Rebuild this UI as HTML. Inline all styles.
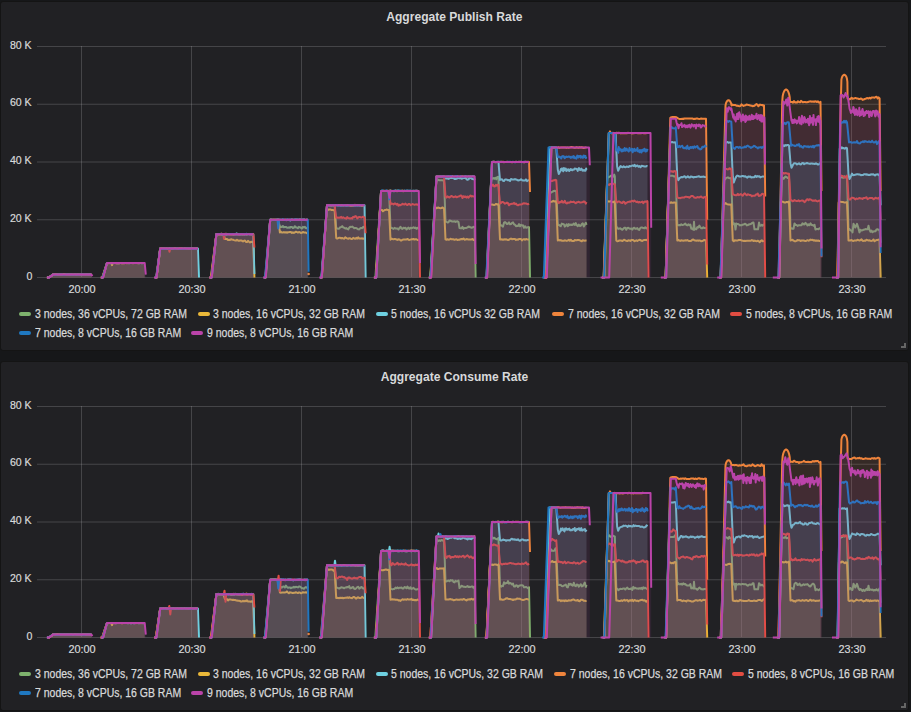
<!DOCTYPE html><html><head><meta charset="utf-8"><style>
*{margin:0;padding:0;box-sizing:border-box}
html,body{width:911px;height:712px;overflow:hidden;background:#161719;font-family:"Liberation Sans",sans-serif}
.panel{position:absolute;left:0;width:909px;height:350px;background:#212124;border:1px solid #141414;border-radius:3px}
.title{position:absolute;left:0;width:909px;text-align:center;font-weight:bold;font-size:13px;color:#d8d9da;white-space:nowrap}
.title span{display:inline-block;transform:scaleX(0.928);transform-origin:center}
.yl{position:absolute;right:879px;font-size:11.5px;color:#d8d9da;-webkit-text-stroke:0.2px #d8d9da;white-space:nowrap;line-height:14px;transform:scaleX(0.92);transform-origin:right}
.xl{position:absolute;width:40px;text-align:center;font-size:11.5px;color:#d8d9da;-webkit-text-stroke:0.2px #d8d9da;white-space:nowrap;line-height:14px;transform:scaleX(0.945)}
.li{position:absolute;font-size:12px;color:#d8d9da;-webkit-text-stroke:0.25px #d8d9da;white-space:nowrap;line-height:14px;transform:scaleX(0.873);transform-origin:left}
.sw{position:absolute;width:12px;height:4px;border-radius:2px}
.rh{position:absolute;width:5px;height:5px;border-right:2px solid #666;border-bottom:2px solid #666}
</style></head><body>

<div class="panel" style="top:1px"></div>
<div class="title" style="top:9px"><span>Aggregate Publish Rate</span></div>
<svg style="position:absolute;left:0;top:0px" width="911" height="300" viewBox="0 0 911 300"><g stroke="rgba(200,200,200,0.22)" stroke-width="1"><line x1="37" y1="46.5" x2="886" y2="46.5"/><line x1="37" y1="104.25" x2="886" y2="104.25"/><line x1="37" y1="162.0" x2="886" y2="162.0"/><line x1="37" y1="219.75" x2="886" y2="219.75"/><line x1="37" y1="277.5" x2="886" y2="277.5"/><line x1="81.5" y1="46" x2="81.5" y2="277"/><line x1="191.5" y1="46" x2="191.5" y2="277"/><line x1="301.5" y1="46" x2="301.5" y2="277"/><line x1="411.5" y1="46" x2="411.5" y2="277"/><line x1="521.5" y1="46" x2="521.5" y2="277"/><line x1="631.5" y1="46" x2="631.5" y2="277"/><line x1="741.5" y1="46" x2="741.5" y2="277"/><line x1="851.5" y1="46" x2="851.5" y2="277"/></g><path d="M47.3,277.5 L47.3,277.5 L48.8,277.5 L53.0,274.6 L54.0,274.7 L55.0,274.7 L56.0,274.7 L57.0,274.6 L58.0,274.6 L59.0,274.6 L60.0,274.7 L61.0,274.6 L62.0,274.6 L63.0,274.6 L64.0,274.6 L65.0,274.6 L66.0,274.6 L67.0,274.7 L68.0,274.4 L69.0,274.6 L70.0,274.5 L71.0,274.6 L72.0,274.6 L73.0,274.6 L74.0,274.5 L75.0,274.6 L76.0,274.6 L77.0,274.6 L78.0,274.6 L79.0,274.6 L80.0,274.7 L81.0,274.6 L82.0,274.6 L83.0,274.7 L84.0,274.7 L85.0,274.7 L86.0,274.6 L87.0,274.7 L88.0,274.6 L89.0,274.4 L90.0,274.5 L91.0,274.6 L91.4,274.6 L91.4,277.5 Z M101.0,277.5 L101.0,277.5 L102.5,277.5 L107.0,263.1 L108.0,263.1 L109.0,263.0 L110.0,263.1 L111.0,263.0 L112.0,263.1 L113.0,263.1 L114.0,263.0 L115.0,263.1 L116.0,262.9 L117.0,263.1 L118.0,263.0 L119.0,263.1 L120.0,263.0 L121.0,263.1 L122.0,263.0 L123.0,263.1 L124.0,263.0 L125.0,263.0 L126.0,263.1 L127.0,263.1 L128.0,263.0 L129.0,263.0 L130.0,263.0 L131.0,263.1 L132.0,263.0 L133.0,263.0 L134.0,263.0 L135.0,263.0 L136.0,263.1 L137.0,263.1 L138.0,263.1 L139.0,263.1 L140.0,263.0 L141.0,263.0 L142.0,263.0 L143.0,263.0 L144.0,263.0 L144.7,263.1 L144.7,277.5 Z M154.9,277.5 L154.9,277.5 L156.4,277.5 L160.2,248.6 L161.2,248.6 L162.2,248.6 L163.2,248.5 L164.2,248.6 L165.2,248.7 L166.2,248.6 L167.2,248.7 L168.2,248.7 L169.2,248.6 L170.2,248.6 L171.2,248.6 L172.2,248.6 L173.2,248.6 L174.2,248.6 L175.2,248.5 L176.2,248.6 L177.2,248.6 L178.2,248.6 L179.2,248.6 L180.2,248.7 L181.2,248.6 L182.2,248.7 L183.2,248.7 L184.2,248.8 L185.2,248.6 L186.2,248.7 L187.2,248.6 L188.2,248.6 L189.2,248.7 L190.2,248.5 L191.2,248.5 L192.2,248.6 L193.2,248.7 L194.2,248.6 L195.2,248.5 L196.2,248.6 L197.2,248.6 L197.9,248.6 L197.9,277.5 Z M209.3,277.5 L209.3,277.5 L210.8,277.5 L216.4,234.2 L217.4,234.0 L218.4,234.4 L219.4,234.3 L220.4,234.1 L221.4,233.7 L222.4,234.1 L223.4,234.2 L224.4,233.9 L225.4,234.2 L226.4,233.8 L227.4,234.3 L228.4,234.3 L229.4,234.0 L230.4,233.9 L231.4,234.1 L232.4,234.1 L233.4,234.6 L234.4,234.3 L235.4,234.3 L236.4,234.3 L237.4,234.1 L238.4,234.3 L239.4,234.0 L240.4,234.2 L241.4,234.3 L242.4,234.2 L243.4,234.1 L244.4,234.0 L245.4,234.3 L246.4,234.2 L247.4,234.5 L248.4,233.9 L249.4,233.9 L250.4,234.2 L251.4,234.3 L252.4,234.4 L253.3,234.2 L253.3,277.5 Z M264.2,277.5 L264.2,277.5 L265.7,277.5 L270.2,219.8 L271.2,219.8 L272.2,219.8 L273.2,219.8 L274.2,219.8 L275.2,219.8 L276.2,219.8 L277.2,219.8 L278.2,219.8 L278.4,219.8 L279.1,223.4 L279.9,227.0 L280.9,226.8 L281.9,226.9 L282.9,226.0 L283.9,227.3 L284.9,226.9 L285.9,227.0 L286.9,227.5 L287.9,227.8 L288.9,227.3 L289.9,227.7 L290.9,226.9 L291.9,226.9 L292.9,228.1 L293.9,227.6 L294.9,226.2 L295.9,227.4 L296.9,227.5 L297.9,228.3 L298.9,226.8 L299.9,227.3 L300.9,227.7 L301.9,228.6 L302.9,226.9 L303.9,227.5 L304.9,226.8 L305.9,228.3 L306.9,228.3 L307.8,227.0 L307.8,277.5 Z M319.9,277.5 L319.9,277.5 L321.4,277.5 L327.0,205.3 L328.0,205.3 L329.0,205.3 L330.0,205.3 L331.0,205.3 L332.0,205.3 L333.0,205.3 L334.0,205.3 L334.7,205.3 L335.4,216.6 L336.2,227.8 L337.2,228.3 L338.2,228.8 L339.2,228.6 L340.2,227.2 L341.2,227.1 L342.2,226.1 L343.2,227.4 L344.2,227.8 L345.2,228.5 L346.2,228.1 L347.2,228.9 L348.2,229.4 L349.2,227.8 L350.2,226.8 L351.2,226.9 L352.2,226.6 L353.2,227.3 L354.2,228.2 L355.2,227.9 L356.2,228.1 L357.2,228.7 L358.2,229.3 L359.2,229.4 L360.2,228.3 L361.2,227.9 L362.2,228.2 L363.2,226.9 L364.2,227.4 L364.5,227.8 L364.5,277.5 Z M373.9,277.5 L373.9,277.5 L375.4,277.5 L381.1,190.9 L382.1,190.9 L383.1,190.9 L384.1,190.9 L385.1,190.9 L386.1,190.9 L387.1,190.9 L388.1,190.9 L389.0,190.9 L389.8,209.5 L390.5,228.1 L391.5,227.7 L392.5,228.4 L393.5,228.9 L394.5,227.8 L395.5,228.4 L396.5,228.5 L397.5,228.6 L398.5,229.5 L399.5,228.0 L400.5,226.8 L401.5,228.5 L402.5,228.9 L403.5,227.7 L404.5,228.2 L405.5,227.8 L406.5,229.4 L407.5,228.5 L408.5,227.6 L409.5,228.9 L410.5,227.8 L411.5,228.2 L412.5,227.8 L413.5,227.3 L414.5,228.0 L415.5,227.6 L416.5,228.8 L417.5,227.8 L418.5,228.7 L418.8,228.1 L418.8,277.5 Z M428.9,277.5 L428.9,277.5 L430.4,277.5 L436.3,180.5 L437.3,180.5 L438.3,179.7 L439.3,180.3 L440.3,180.3 L441.3,180.3 L442.3,180.3 L443.3,180.6 L444.0,180.5 L444.8,201.0 L445.5,221.5 L446.5,221.8 L447.5,222.5 L448.5,222.2 L449.5,220.5 L450.5,220.8 L451.5,221.2 L452.5,221.6 L453.5,221.5 L454.5,221.2 L455.5,221.9 L456.5,221.5 L457.5,221.3 L458.5,222.0 L459.5,228.0 L460.5,228.2 L461.5,228.3 L462.5,226.9 L463.5,228.9 L464.5,227.9 L465.5,227.9 L466.5,227.9 L467.5,227.4 L468.5,226.5 L469.5,227.0 L470.5,227.3 L471.5,227.7 L472.5,227.5 L473.5,226.7 L474.5,227.4 L474.7,227.3 L475.6,277.5 L475.6,277.5 Z M485.1,277.5 L485.1,277.5 L486.6,277.5 L491.3,177.9 L492.3,178.7 L493.3,178.1 L494.3,178.7 L495.3,177.7 L496.3,179.3 L497.3,176.9 L498.3,176.7 L498.5,177.9 L499.2,201.7 L500.0,225.5 L501.0,225.2 L502.0,225.8 L503.0,226.6 L504.0,222.7 L505.0,222.1 L506.0,222.8 L507.0,224.0 L508.0,223.7 L509.0,222.4 L510.0,224.2 L511.0,224.1 L512.0,222.9 L513.0,222.4 L514.0,224.3 L515.0,224.7 L516.0,226.2 L517.0,225.8 L518.0,226.1 L519.0,224.1 L520.0,226.3 L521.0,224.9 L522.0,225.5 L523.0,225.3 L524.0,227.8 L525.0,226.2 L526.0,227.7 L527.0,227.6 L528.0,227.1 L529.0,227.3 L530.0,277.5 L530.0,277.5 Z M544.9,277.5 L544.9,277.5 L546.4,277.5 L549.8,190.9 L550.8,192.8 L551.8,192.1 L552.8,191.5 L553.8,191.0 L554.8,190.8 L555.8,191.2 L556.3,190.9 L557.0,207.9 L557.8,224.9 L558.8,224.8 L559.8,225.6 L560.8,226.2 L561.8,223.6 L562.8,224.1 L563.8,224.2 L564.8,226.6 L565.8,225.6 L566.8,224.2 L567.8,226.2 L568.8,224.1 L569.8,225.1 L570.8,224.5 L571.8,225.0 L572.8,224.7 L573.8,223.5 L574.8,225.0 L575.8,223.1 L576.8,225.3 L577.8,226.1 L578.8,224.5 L579.8,226.0 L580.8,225.7 L581.8,224.1 L582.8,223.3 L583.8,226.5 L584.8,224.8 L585.8,222.7 L586.5,224.9 L586.5,277.5 Z M602.1,277.5 L602.1,277.5 L603.6,277.5 L607.2,176.4 L608.2,177.4 L609.2,176.9 L610.2,176.3 L611.2,175.5 L612.2,177.2 L613.2,176.7 L614.2,174.6 L614.8,176.4 L615.5,202.4 L616.3,228.4 L617.3,227.5 L618.3,228.9 L619.3,228.6 L620.3,228.2 L621.3,229.2 L622.3,229.8 L623.3,228.8 L624.3,227.7 L625.3,227.8 L626.3,229.8 L627.3,227.9 L628.3,227.7 L629.3,228.5 L630.3,228.8 L631.3,228.5 L632.3,229.6 L633.3,228.2 L634.3,227.7 L635.3,228.7 L636.3,228.7 L637.3,228.1 L638.3,229.5 L639.3,229.9 L640.3,228.0 L641.3,227.4 L642.3,227.6 L643.3,228.1 L644.3,228.2 L645.3,227.2 L646.3,228.4 L647.3,227.8 L647.5,228.4 L647.5,277.5 Z M664.2,277.5 L664.2,277.5 L665.7,277.5 L668.9,176.7 L669.9,175.8 L670.9,175.7 L671.9,175.8 L672.9,175.8 L673.9,176.5 L674.9,176.2 L675.8,176.7 L676.5,200.7 L677.3,224.7 L678.3,225.3 L679.3,225.0 L680.3,225.3 L681.3,224.3 L682.3,225.0 L683.3,224.8 L684.3,224.4 L685.3,223.6 L686.3,224.9 L687.3,225.4 L688.3,224.3 L689.3,225.3 L690.3,224.5 L691.3,228.8 L692.3,228.6 L693.4,229.8 L694.0,221.8 L694.6,229.8 L695.3,228.7 L696.3,229.2 L697.3,227.1 L698.3,227.5 L699.3,225.6 L700.3,227.3 L701.3,228.3 L702.3,228.3 L703.3,227.2 L704.3,228.1 L705.3,228.0 L706.0,228.4 L706.0,277.5 Z M719.0,277.5 L719.0,277.5 L720.5,277.5 L724.1,178.2 L725.1,179.3 L726.1,177.9 L727.1,177.6 L728.1,177.5 L729.1,178.0 L730.1,178.2 L731.1,177.9 L731.3,178.2 L732.0,201.4 L732.8,224.7 L733.8,223.5 L734.7,223.5 L735.5,229.6 L736.3,223.5 L736.8,224.1 L737.8,223.9 L738.8,224.4 L739.8,225.4 L740.8,225.1 L741.8,225.2 L742.8,224.5 L743.8,224.5 L744.8,223.7 L745.8,224.2 L746.8,225.4 L747.8,225.0 L748.8,224.5 L749.8,224.2 L750.8,224.1 L751.8,223.2 L752.8,222.6 L753.5,222.6 L754.5,229.3 L758.0,229.3 L759.0,222.6 L759.8,225.3 L760.8,225.7 L761.8,224.8 L762.8,225.6 L763.8,224.5 L764.0,224.7 L764.0,277.5 Z M777.8,277.5 L777.8,277.5 L779.3,277.5 L781.6,177.3 L782.6,177.7 L783.6,178.8 L784.6,177.4 L785.6,176.6 L786.6,177.1 L787.6,178.0 L788.6,177.4 L789.0,177.3 L789.8,203.0 L790.5,228.7 L791.5,228.3 L792.5,228.7 L793.5,228.7 L794.5,223.4 L795.5,224.9 L796.5,224.9 L797.5,225.9 L798.5,225.3 L799.5,225.2 L800.5,225.3 L801.5,225.2 L802.5,223.3 L803.5,224.2 L804.5,224.4 L805.5,222.8 L806.5,223.9 L807.5,225.5 L808.5,224.4 L809.5,225.1 L810.5,223.4 L811.5,225.0 L812.5,225.0 L813.5,225.7 L814.5,224.7 L815.5,229.5 L816.5,229.0 L817.5,229.1 L818.5,229.3 L819.5,228.2 L820.5,228.7 L820.5,277.5 Z M836.8,277.5 L836.8,277.5 L838.3,277.5 L839.5,177.3 L840.5,177.9 L841.5,176.7 L842.5,177.5 L843.5,177.7 L844.5,176.4 L845.5,177.4 L846.5,177.9 L847.0,177.3 L847.8,203.6 L848.5,229.9 L849.5,229.1 L850.5,230.4 L851.5,230.4 L852.5,232.4 L853.5,223.8 L855.3,227.5 L857.0,223.8 L858.5,228.4 L859.5,232.4 L860.5,229.8 L861.5,230.4 L862.5,230.2 L863.5,229.8 L864.5,229.6 L865.5,229.1 L866.5,229.2 L867.7,229.3 L868.5,225.8 L869.3,229.3 L870.5,231.8 L871.5,230.5 L872.5,232.2 L873.5,231.5 L874.5,231.2 L875.5,231.3 L876.5,229.4 L877.5,229.3 L878.5,229.7 L879.5,230.0 L879.6,229.9 L880.6,242.8 L880.6,277.5 Z" fill="#7EB26D" fill-opacity="0.1"/>
<path d="M47.3,277.5 L48.8,277.5 L53.0,274.6 L54.0,274.7 L55.0,274.7 L56.0,274.7 L57.0,274.6 L58.0,274.6 L59.0,274.6 L60.0,274.7 L61.0,274.6 L62.0,274.6 L63.0,274.6 L64.0,274.6 L65.0,274.6 L66.0,274.6 L67.0,274.7 L68.0,274.4 L69.0,274.6 L70.0,274.5 L71.0,274.6 L72.0,274.6 L73.0,274.6 L74.0,274.5 L75.0,274.6 L76.0,274.6 L77.0,274.6 L78.0,274.6 L79.0,274.6 L80.0,274.7 L81.0,274.6 L82.0,274.6 L83.0,274.7 L84.0,274.7 L85.0,274.7 L86.0,274.6 L87.0,274.7 L88.0,274.6 L89.0,274.4 L90.0,274.5 L91.0,274.6 L91.4,274.6 M101.0,277.5 L102.5,277.5 L107.0,263.1 L108.0,263.1 L109.0,263.0 L110.0,263.1 L111.0,263.0 L112.0,263.1 L113.0,263.1 L114.0,263.0 L115.0,263.1 L116.0,262.9 L117.0,263.1 L118.0,263.0 L119.0,263.1 L120.0,263.0 L121.0,263.1 L122.0,263.0 L123.0,263.1 L124.0,263.0 L125.0,263.0 L126.0,263.1 L127.0,263.1 L128.0,263.0 L129.0,263.0 L130.0,263.0 L131.0,263.1 L132.0,263.0 L133.0,263.0 L134.0,263.0 L135.0,263.0 L136.0,263.1 L137.0,263.1 L138.0,263.1 L139.0,263.1 L140.0,263.0 L141.0,263.0 L142.0,263.0 L143.0,263.0 L144.0,263.0 L144.7,263.1 M154.9,277.5 L156.4,277.5 L160.2,248.6 L161.2,248.6 L162.2,248.6 L163.2,248.5 L164.2,248.6 L165.2,248.7 L166.2,248.6 L167.2,248.7 L168.2,248.7 L169.2,248.6 L170.2,248.6 L171.2,248.6 L172.2,248.6 L173.2,248.6 L174.2,248.6 L175.2,248.5 L176.2,248.6 L177.2,248.6 L178.2,248.6 L179.2,248.6 L180.2,248.7 L181.2,248.6 L182.2,248.7 L183.2,248.7 L184.2,248.8 L185.2,248.6 L186.2,248.7 L187.2,248.6 L188.2,248.6 L189.2,248.7 L190.2,248.5 L191.2,248.5 L192.2,248.6 L193.2,248.7 L194.2,248.6 L195.2,248.5 L196.2,248.6 L197.2,248.6 L197.9,248.6 M209.3,277.5 L210.8,277.5 L216.4,234.2 L217.4,234.0 L218.4,234.4 L219.4,234.3 L220.4,234.1 L221.4,233.7 L222.4,234.1 L223.4,234.2 L224.4,233.9 L225.4,234.2 L226.4,233.8 L227.4,234.3 L228.4,234.3 L229.4,234.0 L230.4,233.9 L231.4,234.1 L232.4,234.1 L233.4,234.6 L234.4,234.3 L235.4,234.3 L236.4,234.3 L237.4,234.1 L238.4,234.3 L239.4,234.0 L240.4,234.2 L241.4,234.3 L242.4,234.2 L243.4,234.1 L244.4,234.0 L245.4,234.3 L246.4,234.2 L247.4,234.5 L248.4,233.9 L249.4,233.9 L250.4,234.2 L251.4,234.3 L252.4,234.4 L253.3,234.2 M264.2,277.5 L265.7,277.5 L270.2,219.8 L271.2,219.8 L272.2,219.8 L273.2,219.8 L274.2,219.8 L275.2,219.8 L276.2,219.8 L277.2,219.8 L278.2,219.8 L278.4,219.8 L279.1,223.4 L279.9,227.0 L280.9,226.8 L281.9,226.9 L282.9,226.0 L283.9,227.3 L284.9,226.9 L285.9,227.0 L286.9,227.5 L287.9,227.8 L288.9,227.3 L289.9,227.7 L290.9,226.9 L291.9,226.9 L292.9,228.1 L293.9,227.6 L294.9,226.2 L295.9,227.4 L296.9,227.5 L297.9,228.3 L298.9,226.8 L299.9,227.3 L300.9,227.7 L301.9,228.6 L302.9,226.9 L303.9,227.5 L304.9,226.8 L305.9,228.3 L306.9,228.3 L307.8,227.0 M319.9,277.5 L321.4,277.5 L327.0,205.3 L328.0,205.3 L329.0,205.3 L330.0,205.3 L331.0,205.3 L332.0,205.3 L333.0,205.3 L334.0,205.3 L334.7,205.3 L335.4,216.6 L336.2,227.8 L337.2,228.3 L338.2,228.8 L339.2,228.6 L340.2,227.2 L341.2,227.1 L342.2,226.1 L343.2,227.4 L344.2,227.8 L345.2,228.5 L346.2,228.1 L347.2,228.9 L348.2,229.4 L349.2,227.8 L350.2,226.8 L351.2,226.9 L352.2,226.6 L353.2,227.3 L354.2,228.2 L355.2,227.9 L356.2,228.1 L357.2,228.7 L358.2,229.3 L359.2,229.4 L360.2,228.3 L361.2,227.9 L362.2,228.2 L363.2,226.9 L364.2,227.4 L364.5,227.8 M373.9,277.5 L375.4,277.5 L381.1,190.9 L382.1,190.9 L383.1,190.9 L384.1,190.9 L385.1,190.9 L386.1,190.9 L387.1,190.9 L388.1,190.9 L389.0,190.9 L389.8,209.5 L390.5,228.1 L391.5,227.7 L392.5,228.4 L393.5,228.9 L394.5,227.8 L395.5,228.4 L396.5,228.5 L397.5,228.6 L398.5,229.5 L399.5,228.0 L400.5,226.8 L401.5,228.5 L402.5,228.9 L403.5,227.7 L404.5,228.2 L405.5,227.8 L406.5,229.4 L407.5,228.5 L408.5,227.6 L409.5,228.9 L410.5,227.8 L411.5,228.2 L412.5,227.8 L413.5,227.3 L414.5,228.0 L415.5,227.6 L416.5,228.8 L417.5,227.8 L418.5,228.7 L418.8,228.1 M428.9,277.5 L430.4,277.5 L436.3,180.5 L437.3,180.5 L438.3,179.7 L439.3,180.3 L440.3,180.3 L441.3,180.3 L442.3,180.3 L443.3,180.6 L444.0,180.5 L444.8,201.0 L445.5,221.5 L446.5,221.8 L447.5,222.5 L448.5,222.2 L449.5,220.5 L450.5,220.8 L451.5,221.2 L452.5,221.6 L453.5,221.5 L454.5,221.2 L455.5,221.9 L456.5,221.5 L457.5,221.3 L458.5,222.0 L459.5,228.0 L460.5,228.2 L461.5,228.3 L462.5,226.9 L463.5,228.9 L464.5,227.9 L465.5,227.9 L466.5,227.9 L467.5,227.4 L468.5,226.5 L469.5,227.0 L470.5,227.3 L471.5,227.7 L472.5,227.5 L473.5,226.7 L474.5,227.4 L474.7,227.3 L475.6,277.5 M485.1,277.5 L486.6,277.5 L491.3,177.9 L492.3,178.7 L493.3,178.1 L494.3,178.7 L495.3,177.7 L496.3,179.3 L497.3,176.9 L498.3,176.7 L498.5,177.9 L499.2,201.7 L500.0,225.5 L501.0,225.2 L502.0,225.8 L503.0,226.6 L504.0,222.7 L505.0,222.1 L506.0,222.8 L507.0,224.0 L508.0,223.7 L509.0,222.4 L510.0,224.2 L511.0,224.1 L512.0,222.9 L513.0,222.4 L514.0,224.3 L515.0,224.7 L516.0,226.2 L517.0,225.8 L518.0,226.1 L519.0,224.1 L520.0,226.3 L521.0,224.9 L522.0,225.5 L523.0,225.3 L524.0,227.8 L525.0,226.2 L526.0,227.7 L527.0,227.6 L528.0,227.1 L529.0,227.3 L530.0,277.5 M544.9,277.5 L546.4,277.5 L549.8,190.9 L550.8,192.8 L551.8,192.1 L552.8,191.5 L553.8,191.0 L554.8,190.8 L555.8,191.2 L556.3,190.9 L557.0,207.9 L557.8,224.9 L558.8,224.8 L559.8,225.6 L560.8,226.2 L561.8,223.6 L562.8,224.1 L563.8,224.2 L564.8,226.6 L565.8,225.6 L566.8,224.2 L567.8,226.2 L568.8,224.1 L569.8,225.1 L570.8,224.5 L571.8,225.0 L572.8,224.7 L573.8,223.5 L574.8,225.0 L575.8,223.1 L576.8,225.3 L577.8,226.1 L578.8,224.5 L579.8,226.0 L580.8,225.7 L581.8,224.1 L582.8,223.3 L583.8,226.5 L584.8,224.8 L585.8,222.7 L586.5,224.9 M602.1,277.5 L603.6,277.5 L607.2,176.4 L608.2,177.4 L609.2,176.9 L610.2,176.3 L611.2,175.5 L612.2,177.2 L613.2,176.7 L614.2,174.6 L614.8,176.4 L615.5,202.4 L616.3,228.4 L617.3,227.5 L618.3,228.9 L619.3,228.6 L620.3,228.2 L621.3,229.2 L622.3,229.8 L623.3,228.8 L624.3,227.7 L625.3,227.8 L626.3,229.8 L627.3,227.9 L628.3,227.7 L629.3,228.5 L630.3,228.8 L631.3,228.5 L632.3,229.6 L633.3,228.2 L634.3,227.7 L635.3,228.7 L636.3,228.7 L637.3,228.1 L638.3,229.5 L639.3,229.9 L640.3,228.0 L641.3,227.4 L642.3,227.6 L643.3,228.1 L644.3,228.2 L645.3,227.2 L646.3,228.4 L647.3,227.8 L647.5,228.4 M664.2,277.5 L665.7,277.5 L668.9,176.7 L669.9,175.8 L670.9,175.7 L671.9,175.8 L672.9,175.8 L673.9,176.5 L674.9,176.2 L675.8,176.7 L676.5,200.7 L677.3,224.7 L678.3,225.3 L679.3,225.0 L680.3,225.3 L681.3,224.3 L682.3,225.0 L683.3,224.8 L684.3,224.4 L685.3,223.6 L686.3,224.9 L687.3,225.4 L688.3,224.3 L689.3,225.3 L690.3,224.5 L691.3,228.8 L692.3,228.6 L693.4,229.8 L694.0,221.8 L694.6,229.8 L695.3,228.7 L696.3,229.2 L697.3,227.1 L698.3,227.5 L699.3,225.6 L700.3,227.3 L701.3,228.3 L702.3,228.3 L703.3,227.2 L704.3,228.1 L705.3,228.0 L706.0,228.4 M719.0,277.5 L720.5,277.5 L724.1,178.2 L725.1,179.3 L726.1,177.9 L727.1,177.6 L728.1,177.5 L729.1,178.0 L730.1,178.2 L731.1,177.9 L731.3,178.2 L732.0,201.4 L732.8,224.7 L733.8,223.5 L734.7,223.5 L735.5,229.6 L736.3,223.5 L736.8,224.1 L737.8,223.9 L738.8,224.4 L739.8,225.4 L740.8,225.1 L741.8,225.2 L742.8,224.5 L743.8,224.5 L744.8,223.7 L745.8,224.2 L746.8,225.4 L747.8,225.0 L748.8,224.5 L749.8,224.2 L750.8,224.1 L751.8,223.2 L752.8,222.6 L753.5,222.6 L754.5,229.3 L758.0,229.3 L759.0,222.6 L759.8,225.3 L760.8,225.7 L761.8,224.8 L762.8,225.6 L763.8,224.5 L764.0,224.7 M777.8,277.5 L779.3,277.5 L781.6,177.3 L782.6,177.7 L783.6,178.8 L784.6,177.4 L785.6,176.6 L786.6,177.1 L787.6,178.0 L788.6,177.4 L789.0,177.3 L789.8,203.0 L790.5,228.7 L791.5,228.3 L792.5,228.7 L793.5,228.7 L794.5,223.4 L795.5,224.9 L796.5,224.9 L797.5,225.9 L798.5,225.3 L799.5,225.2 L800.5,225.3 L801.5,225.2 L802.5,223.3 L803.5,224.2 L804.5,224.4 L805.5,222.8 L806.5,223.9 L807.5,225.5 L808.5,224.4 L809.5,225.1 L810.5,223.4 L811.5,225.0 L812.5,225.0 L813.5,225.7 L814.5,224.7 L815.5,229.5 L816.5,229.0 L817.5,229.1 L818.5,229.3 L819.5,228.2 L820.5,228.7 M836.8,277.5 L838.3,277.5 L839.5,177.3 L840.5,177.9 L841.5,176.7 L842.5,177.5 L843.5,177.7 L844.5,176.4 L845.5,177.4 L846.5,177.9 L847.0,177.3 L847.8,203.6 L848.5,229.9 L849.5,229.1 L850.5,230.4 L851.5,230.4 L852.5,232.4 L853.5,223.8 L855.3,227.5 L857.0,223.8 L858.5,228.4 L859.5,232.4 L860.5,229.8 L861.5,230.4 L862.5,230.2 L863.5,229.8 L864.5,229.6 L865.5,229.1 L866.5,229.2 L867.7,229.3 L868.5,225.8 L869.3,229.3 L870.5,231.8 L871.5,230.5 L872.5,232.2 L873.5,231.5 L874.5,231.2 L875.5,231.3 L876.5,229.4 L877.5,229.3 L878.5,229.7 L879.5,230.0 L879.6,229.9 L880.6,242.8" fill="none" stroke="#7EB26D" stroke-width="2" stroke-linejoin="round"/>
<path d="M46.9,277.5 L46.9,277.5 L48.4,277.5 L53.0,274.6 L54.0,274.6 L55.0,274.6 L56.0,274.6 L57.0,274.6 L58.0,274.6 L59.0,274.6 L60.0,274.6 L61.0,274.6 L62.0,274.7 L63.0,274.6 L64.0,274.6 L65.0,274.6 L66.0,274.7 L67.0,274.7 L68.0,274.6 L69.0,274.5 L70.0,274.6 L71.0,274.6 L72.0,274.6 L73.0,274.6 L74.0,274.6 L75.0,274.5 L76.0,274.7 L77.0,274.5 L78.0,274.6 L79.0,274.6 L80.0,274.5 L81.0,274.6 L82.0,274.5 L83.0,274.6 L84.0,274.7 L85.0,274.6 L86.0,274.6 L87.0,274.6 L88.0,274.8 L89.0,274.6 L90.0,274.6 L91.0,274.7 L91.4,274.6 L91.4,277.5 Z M100.7,277.5 L100.7,277.5 L102.2,277.5 L107.0,263.1 L108.0,263.0 L109.0,263.1 L110.0,263.0 L111.0,263.0 L111.3,263.0 L112.0,265.1 L112.7,263.0 L113.0,263.1 L114.0,263.0 L115.0,263.0 L116.0,263.0 L117.0,263.0 L118.0,263.1 L119.0,263.1 L120.0,263.1 L121.0,263.0 L122.0,263.2 L123.0,263.0 L124.0,263.3 L125.0,263.1 L126.0,263.0 L127.0,263.1 L128.0,263.1 L129.0,263.0 L130.0,263.0 L131.0,263.1 L132.0,263.1 L133.0,263.1 L134.0,263.1 L135.0,263.0 L136.0,263.1 L137.0,263.1 L138.0,263.1 L139.0,263.1 L140.0,263.0 L141.0,263.0 L142.0,262.9 L143.0,263.1 L144.0,263.1 L144.7,263.1 L144.7,277.5 Z M155.0,277.5 L155.0,277.5 L156.5,277.5 L160.2,248.6 L161.2,248.6 L162.2,248.6 L163.2,248.6 L164.2,248.6 L165.2,248.6 L166.2,248.6 L167.2,248.6 L168.2,248.5 L169.2,248.6 L170.2,248.7 L171.2,248.7 L172.2,248.7 L173.2,248.6 L174.2,248.6 L175.2,248.6 L176.2,248.6 L177.2,248.7 L178.2,248.6 L179.2,248.6 L180.2,248.6 L181.2,248.7 L182.2,248.6 L183.2,248.7 L184.2,248.7 L185.2,248.6 L186.2,248.6 L187.2,248.7 L188.2,248.7 L189.2,248.8 L190.2,248.7 L191.2,248.6 L192.2,248.6 L193.2,248.8 L194.2,248.7 L195.2,248.6 L196.2,248.5 L197.2,248.6 L197.9,248.6 L197.9,277.5 Z M210.2,277.5 L210.2,277.5 L211.7,277.5 L216.4,234.2 L217.4,234.2 L218.4,234.2 L219.4,234.2 L220.4,234.2 L221.4,234.2 L222.4,234.2 L223.4,234.2 L223.5,234.2 L224.2,236.6 L225.0,239.1 L226.0,238.9 L227.0,239.0 L228.0,240.1 L229.0,239.7 L230.0,240.0 L231.0,239.2 L232.0,239.5 L233.0,239.7 L234.0,240.1 L235.0,240.4 L236.0,240.6 L237.0,239.8 L238.0,240.5 L239.0,240.9 L240.0,240.5 L241.0,240.4 L242.0,240.8 L243.0,241.4 L244.0,240.7 L245.0,240.6 L246.0,242.0 L247.0,242.0 L248.0,240.8 L249.0,241.7 L250.0,242.4 L251.0,241.7 L252.0,242.0 L253.0,241.6 L253.3,242.0 L254.4,277.5 L254.4,277.5 Z M263.9,277.5 L263.9,277.5 L265.4,277.5 L270.2,219.8 L271.2,219.8 L272.2,219.8 L273.2,219.8 L274.2,219.8 L275.2,219.8 L276.2,219.8 L277.2,219.8 L278.2,219.8 L278.4,219.8 L279.1,226.1 L279.9,232.5 L280.9,231.6 L281.9,232.6 L282.9,232.5 L283.9,232.1 L284.9,232.6 L285.9,232.2 L286.9,232.7 L287.9,232.3 L288.9,232.2 L289.9,231.9 L290.9,232.1 L291.9,232.9 L292.9,232.3 L293.9,232.9 L294.9,232.3 L295.9,231.7 L296.9,232.0 L297.9,232.6 L298.9,232.0 L299.9,232.2 L300.9,232.9 L301.9,232.8 L302.9,231.9 L303.9,232.4 L304.9,232.4 L305.9,232.6 L306.9,233.2 L307.8,232.5 L307.8,277.5 Z M320.2,277.5 L320.2,277.5 L321.7,277.5 L326.7,209.9 L327.7,210.2 L328.7,209.4 L329.7,209.4 L330.7,209.6 L331.7,210.0 L332.7,210.1 L333.7,210.2 L334.7,210.0 L334.7,209.9 L335.4,223.9 L336.2,237.9 L337.2,238.6 L338.2,238.1 L339.2,237.7 L340.2,237.8 L341.2,238.4 L342.2,238.0 L343.2,238.4 L344.2,238.7 L345.2,237.2 L346.2,238.0 L347.2,238.4 L348.2,238.7 L349.2,238.3 L350.2,238.3 L351.2,239.0 L352.2,238.9 L353.2,237.8 L354.2,238.3 L355.2,238.8 L356.2,237.9 L357.2,238.7 L358.2,237.3 L359.2,238.5 L360.2,238.4 L361.2,238.5 L362.2,238.3 L363.2,238.8 L364.2,238.6 L364.5,237.9 L364.5,277.5 Z M374.7,277.5 L374.7,277.5 L376.2,277.5 L380.0,209.9 L381.0,209.7 L382.0,209.9 L383.0,211.3 L384.0,210.5 L385.0,209.9 L386.0,209.8 L387.0,209.5 L388.0,210.1 L389.0,209.9 L389.8,224.8 L390.5,239.7 L391.5,238.6 L392.5,239.0 L393.5,239.3 L394.5,239.1 L395.5,239.1 L396.5,239.5 L397.5,239.9 L398.5,239.3 L399.5,239.4 L400.5,240.4 L401.5,240.4 L402.5,239.7 L403.5,239.6 L404.5,239.5 L405.5,239.4 L406.5,239.5 L407.5,238.9 L408.5,239.7 L409.5,239.9 L410.5,239.6 L411.5,239.3 L412.5,239.2 L413.5,238.9 L414.5,239.6 L415.5,239.2 L416.5,239.3 L417.5,240.0 L418.5,239.8 L418.8,239.7 L418.8,277.5 Z M428.8,277.5 L428.8,277.5 L430.3,277.5 L434.5,208.2 L435.5,207.3 L436.5,208.2 L437.5,207.8 L438.5,207.6 L439.5,208.1 L440.5,208.2 L441.5,208.1 L442.5,207.4 L443.5,208.2 L444.0,208.2 L444.8,223.8 L445.5,239.4 L446.5,239.8 L447.5,239.2 L448.5,239.7 L449.5,239.5 L450.5,238.8 L451.5,239.2 L452.5,239.3 L453.5,239.3 L454.5,239.8 L455.5,239.4 L456.5,239.2 L457.5,240.0 L458.5,239.8 L459.5,239.7 L460.5,239.3 L461.5,239.0 L462.5,239.3 L463.5,238.5 L464.5,239.7 L465.5,239.6 L466.5,239.1 L467.5,239.3 L468.5,239.6 L469.5,239.5 L470.5,239.4 L471.5,239.4 L472.5,239.0 L473.5,240.0 L474.5,239.5 L474.7,239.4 L474.7,277.5 Z M485.4,277.5 L485.4,277.5 L486.9,277.5 L490.1,204.4 L491.1,204.6 L492.1,204.5 L493.1,204.7 L494.1,205.0 L495.1,204.6 L496.1,203.9 L497.1,204.4 L498.1,204.2 L498.5,204.4 L499.2,221.9 L500.0,239.4 L501.0,239.6 L502.0,239.3 L503.0,239.8 L504.0,239.3 L505.0,239.5 L506.0,239.3 L507.0,239.6 L508.0,240.0 L509.0,239.7 L510.0,239.0 L511.0,238.6 L512.0,239.3 L513.0,239.0 L514.0,238.9 L515.0,239.1 L516.0,240.0 L517.0,239.4 L518.0,239.8 L519.0,239.0 L520.0,238.9 L521.0,239.0 L522.0,240.4 L523.0,239.4 L524.0,239.1 L525.0,239.8 L526.0,239.1 L527.0,239.3 L528.0,239.4 L529.0,239.4 L529.0,277.5 Z M544.7,277.5 L544.7,277.5 L546.2,277.5 L549.3,201.6 L550.3,201.9 L551.3,201.7 L552.3,201.6 L553.3,200.8 L554.3,201.4 L555.3,201.3 L556.3,201.6 L557.0,221.0 L557.8,240.5 L558.8,239.9 L559.8,240.5 L560.8,240.1 L561.8,240.8 L562.8,240.7 L563.8,240.8 L564.8,240.3 L565.8,240.6 L566.8,240.9 L567.8,240.4 L568.8,239.8 L569.8,240.8 L570.8,239.7 L571.8,240.9 L572.8,240.9 L573.8,241.1 L574.8,240.0 L575.8,240.2 L576.8,240.3 L577.8,239.9 L578.8,240.0 L579.8,240.4 L580.8,240.8 L581.8,241.3 L582.8,240.3 L583.8,240.6 L584.8,240.7 L585.8,240.5 L586.5,240.5 L586.5,277.5 Z M603.0,277.5 L603.0,277.5 L604.5,277.5 L606.8,201.6 L607.8,201.3 L608.8,201.6 L609.8,201.5 L610.8,201.1 L611.8,201.7 L612.8,202.2 L613.8,201.8 L614.8,201.5 L614.8,201.6 L615.5,221.0 L616.3,240.5 L617.3,241.3 L618.3,241.1 L619.3,240.4 L620.3,240.6 L621.3,240.5 L622.3,241.1 L623.3,240.3 L624.3,239.7 L625.3,240.4 L626.3,240.8 L627.3,241.1 L628.3,240.3 L629.3,240.4 L630.3,240.9 L631.3,240.1 L632.3,240.1 L633.3,240.1 L634.3,241.2 L635.3,240.8 L636.3,240.3 L637.3,241.0 L638.3,240.3 L639.3,239.8 L640.3,239.9 L641.3,240.7 L642.3,240.9 L643.3,240.2 L644.3,240.0 L645.3,239.9 L646.3,239.8 L647.3,240.4 L647.5,240.5 L647.5,277.5 Z M664.1,277.5 L664.1,277.5 L665.6,277.5 L668.0,202.7 L669.0,202.6 L670.0,202.9 L671.0,202.2 L672.0,202.8 L673.0,202.7 L674.0,202.5 L675.0,202.6 L675.8,202.7 L676.5,221.6 L677.3,240.5 L678.3,240.0 L679.3,240.5 L680.3,240.9 L681.3,240.3 L682.3,240.6 L683.3,240.8 L684.3,240.6 L685.3,240.3 L686.3,240.5 L687.3,240.1 L688.3,240.7 L689.3,241.1 L690.3,240.9 L691.3,240.7 L692.3,239.7 L693.3,239.5 L694.3,240.3 L695.3,240.6 L696.3,240.7 L697.3,240.4 L698.3,240.8 L699.3,240.4 L700.3,240.7 L701.3,241.3 L702.3,241.1 L703.3,240.5 L704.3,240.0 L705.3,240.3 L706.0,240.5 L707.2,277.5 L707.2,277.5 Z M719.6,277.5 L719.6,277.5 L721.1,277.5 L723.5,204.2 L724.5,204.1 L725.5,203.1 L726.5,203.9 L727.5,204.3 L728.5,204.5 L729.5,204.6 L730.5,204.9 L731.3,204.2 L732.0,222.3 L732.8,240.5 L733.8,241.2 L734.8,240.3 L735.8,240.5 L736.8,240.6 L737.8,240.4 L738.8,240.0 L739.8,240.1 L740.8,240.1 L741.8,240.6 L742.8,240.7 L743.8,240.9 L744.8,240.7 L745.8,240.9 L746.8,240.8 L747.8,240.7 L748.8,240.7 L749.8,240.7 L750.8,240.8 L751.8,240.1 L752.8,240.5 L753.8,241.0 L754.8,240.6 L755.8,241.0 L756.8,241.2 L757.8,240.7 L758.8,241.3 L759.8,242.2 L760.8,240.9 L761.8,240.2 L762.8,241.2 L763.8,241.1 L764.0,240.5 L764.0,277.5 Z M777.2,277.5 L777.2,277.5 L778.7,277.5 L780.7,202.1 L781.7,201.9 L782.7,201.6 L783.7,202.3 L784.7,202.6 L785.7,202.4 L786.7,201.9 L787.7,202.3 L788.7,201.5 L789.0,202.1 L789.8,221.3 L790.5,240.5 L791.5,240.1 L792.5,239.8 L793.5,240.7 L794.5,241.2 L795.5,241.2 L796.5,240.9 L797.5,240.1 L798.5,240.2 L799.5,240.3 L800.5,241.0 L801.5,240.5 L802.5,240.6 L803.5,240.5 L804.5,240.7 L805.5,241.1 L806.5,240.7 L807.5,240.2 L808.5,240.7 L809.5,240.4 L810.5,239.6 L811.5,239.9 L812.5,239.7 L813.5,240.4 L814.5,240.2 L815.5,240.8 L816.5,240.5 L817.5,240.8 L818.5,240.6 L819.5,241.1 L820.5,240.5 L820.5,277.5 Z M835.9,277.5 L835.9,277.5 L837.4,277.5 L838.7,202.4 L839.7,201.8 L840.7,201.8 L841.7,201.9 L842.7,201.9 L843.7,202.2 L844.7,202.4 L845.7,202.4 L846.7,202.1 L847.0,202.4 L847.8,221.5 L848.5,240.5 L849.5,240.5 L850.5,240.4 L851.5,239.9 L852.5,240.8 L853.5,241.0 L854.5,240.4 L855.5,240.6 L856.5,240.6 L857.5,239.7 L858.5,240.1 L859.5,240.6 L860.5,240.1 L861.5,239.3 L862.5,240.7 L863.5,240.9 L864.5,240.6 L865.5,240.8 L866.5,239.7 L867.5,240.1 L868.5,240.6 L869.5,240.3 L870.5,240.8 L871.5,240.9 L872.5,240.6 L873.5,239.5 L874.5,241.2 L875.5,240.6 L876.5,240.0 L877.5,240.0 L878.5,239.6 L879.5,240.1 L879.6,240.5 L880.6,277.5 L880.6,277.5 Z" fill="#EAB839" fill-opacity="0.1"/>
<path d="M46.9,277.5 L48.4,277.5 L53.0,274.6 L54.0,274.6 L55.0,274.6 L56.0,274.6 L57.0,274.6 L58.0,274.6 L59.0,274.6 L60.0,274.6 L61.0,274.6 L62.0,274.7 L63.0,274.6 L64.0,274.6 L65.0,274.6 L66.0,274.7 L67.0,274.7 L68.0,274.6 L69.0,274.5 L70.0,274.6 L71.0,274.6 L72.0,274.6 L73.0,274.6 L74.0,274.6 L75.0,274.5 L76.0,274.7 L77.0,274.5 L78.0,274.6 L79.0,274.6 L80.0,274.5 L81.0,274.6 L82.0,274.5 L83.0,274.6 L84.0,274.7 L85.0,274.6 L86.0,274.6 L87.0,274.6 L88.0,274.8 L89.0,274.6 L90.0,274.6 L91.0,274.7 L91.4,274.6 M100.7,277.5 L102.2,277.5 L107.0,263.1 L108.0,263.0 L109.0,263.1 L110.0,263.0 L111.0,263.0 L111.3,263.0 L112.0,265.1 L112.7,263.0 L113.0,263.1 L114.0,263.0 L115.0,263.0 L116.0,263.0 L117.0,263.0 L118.0,263.1 L119.0,263.1 L120.0,263.1 L121.0,263.0 L122.0,263.2 L123.0,263.0 L124.0,263.3 L125.0,263.1 L126.0,263.0 L127.0,263.1 L128.0,263.1 L129.0,263.0 L130.0,263.0 L131.0,263.1 L132.0,263.1 L133.0,263.1 L134.0,263.1 L135.0,263.0 L136.0,263.1 L137.0,263.1 L138.0,263.1 L139.0,263.1 L140.0,263.0 L141.0,263.0 L142.0,262.9 L143.0,263.1 L144.0,263.1 L144.7,263.1 M155.0,277.5 L156.5,277.5 L160.2,248.6 L161.2,248.6 L162.2,248.6 L163.2,248.6 L164.2,248.6 L165.2,248.6 L166.2,248.6 L167.2,248.6 L168.2,248.5 L169.2,248.6 L170.2,248.7 L171.2,248.7 L172.2,248.7 L173.2,248.6 L174.2,248.6 L175.2,248.6 L176.2,248.6 L177.2,248.7 L178.2,248.6 L179.2,248.6 L180.2,248.6 L181.2,248.7 L182.2,248.6 L183.2,248.7 L184.2,248.7 L185.2,248.6 L186.2,248.6 L187.2,248.7 L188.2,248.7 L189.2,248.8 L190.2,248.7 L191.2,248.6 L192.2,248.6 L193.2,248.8 L194.2,248.7 L195.2,248.6 L196.2,248.5 L197.2,248.6 L197.9,248.6 M210.2,277.5 L211.7,277.5 L216.4,234.2 L217.4,234.2 L218.4,234.2 L219.4,234.2 L220.4,234.2 L221.4,234.2 L222.4,234.2 L223.4,234.2 L223.5,234.2 L224.2,236.6 L225.0,239.1 L226.0,238.9 L227.0,239.0 L228.0,240.1 L229.0,239.7 L230.0,240.0 L231.0,239.2 L232.0,239.5 L233.0,239.7 L234.0,240.1 L235.0,240.4 L236.0,240.6 L237.0,239.8 L238.0,240.5 L239.0,240.9 L240.0,240.5 L241.0,240.4 L242.0,240.8 L243.0,241.4 L244.0,240.7 L245.0,240.6 L246.0,242.0 L247.0,242.0 L248.0,240.8 L249.0,241.7 L250.0,242.4 L251.0,241.7 L252.0,242.0 L253.0,241.6 L253.3,242.0 L254.4,277.5 M263.9,277.5 L265.4,277.5 L270.2,219.8 L271.2,219.8 L272.2,219.8 L273.2,219.8 L274.2,219.8 L275.2,219.8 L276.2,219.8 L277.2,219.8 L278.2,219.8 L278.4,219.8 L279.1,226.1 L279.9,232.5 L280.9,231.6 L281.9,232.6 L282.9,232.5 L283.9,232.1 L284.9,232.6 L285.9,232.2 L286.9,232.7 L287.9,232.3 L288.9,232.2 L289.9,231.9 L290.9,232.1 L291.9,232.9 L292.9,232.3 L293.9,232.9 L294.9,232.3 L295.9,231.7 L296.9,232.0 L297.9,232.6 L298.9,232.0 L299.9,232.2 L300.9,232.9 L301.9,232.8 L302.9,231.9 L303.9,232.4 L304.9,232.4 L305.9,232.6 L306.9,233.2 L307.8,232.5 M320.2,277.5 L321.7,277.5 L326.7,209.9 L327.7,210.2 L328.7,209.4 L329.7,209.4 L330.7,209.6 L331.7,210.0 L332.7,210.1 L333.7,210.2 L334.7,210.0 L334.7,209.9 L335.4,223.9 L336.2,237.9 L337.2,238.6 L338.2,238.1 L339.2,237.7 L340.2,237.8 L341.2,238.4 L342.2,238.0 L343.2,238.4 L344.2,238.7 L345.2,237.2 L346.2,238.0 L347.2,238.4 L348.2,238.7 L349.2,238.3 L350.2,238.3 L351.2,239.0 L352.2,238.9 L353.2,237.8 L354.2,238.3 L355.2,238.8 L356.2,237.9 L357.2,238.7 L358.2,237.3 L359.2,238.5 L360.2,238.4 L361.2,238.5 L362.2,238.3 L363.2,238.8 L364.2,238.6 L364.5,237.9 M374.7,277.5 L376.2,277.5 L380.0,209.9 L381.0,209.7 L382.0,209.9 L383.0,211.3 L384.0,210.5 L385.0,209.9 L386.0,209.8 L387.0,209.5 L388.0,210.1 L389.0,209.9 L389.8,224.8 L390.5,239.7 L391.5,238.6 L392.5,239.0 L393.5,239.3 L394.5,239.1 L395.5,239.1 L396.5,239.5 L397.5,239.9 L398.5,239.3 L399.5,239.4 L400.5,240.4 L401.5,240.4 L402.5,239.7 L403.5,239.6 L404.5,239.5 L405.5,239.4 L406.5,239.5 L407.5,238.9 L408.5,239.7 L409.5,239.9 L410.5,239.6 L411.5,239.3 L412.5,239.2 L413.5,238.9 L414.5,239.6 L415.5,239.2 L416.5,239.3 L417.5,240.0 L418.5,239.8 L418.8,239.7 M428.8,277.5 L430.3,277.5 L434.5,208.2 L435.5,207.3 L436.5,208.2 L437.5,207.8 L438.5,207.6 L439.5,208.1 L440.5,208.2 L441.5,208.1 L442.5,207.4 L443.5,208.2 L444.0,208.2 L444.8,223.8 L445.5,239.4 L446.5,239.8 L447.5,239.2 L448.5,239.7 L449.5,239.5 L450.5,238.8 L451.5,239.2 L452.5,239.3 L453.5,239.3 L454.5,239.8 L455.5,239.4 L456.5,239.2 L457.5,240.0 L458.5,239.8 L459.5,239.7 L460.5,239.3 L461.5,239.0 L462.5,239.3 L463.5,238.5 L464.5,239.7 L465.5,239.6 L466.5,239.1 L467.5,239.3 L468.5,239.6 L469.5,239.5 L470.5,239.4 L471.5,239.4 L472.5,239.0 L473.5,240.0 L474.5,239.5 L474.7,239.4 M485.4,277.5 L486.9,277.5 L490.1,204.4 L491.1,204.6 L492.1,204.5 L493.1,204.7 L494.1,205.0 L495.1,204.6 L496.1,203.9 L497.1,204.4 L498.1,204.2 L498.5,204.4 L499.2,221.9 L500.0,239.4 L501.0,239.6 L502.0,239.3 L503.0,239.8 L504.0,239.3 L505.0,239.5 L506.0,239.3 L507.0,239.6 L508.0,240.0 L509.0,239.7 L510.0,239.0 L511.0,238.6 L512.0,239.3 L513.0,239.0 L514.0,238.9 L515.0,239.1 L516.0,240.0 L517.0,239.4 L518.0,239.8 L519.0,239.0 L520.0,238.9 L521.0,239.0 L522.0,240.4 L523.0,239.4 L524.0,239.1 L525.0,239.8 L526.0,239.1 L527.0,239.3 L528.0,239.4 L529.0,239.4 M544.7,277.5 L546.2,277.5 L549.3,201.6 L550.3,201.9 L551.3,201.7 L552.3,201.6 L553.3,200.8 L554.3,201.4 L555.3,201.3 L556.3,201.6 L557.0,221.0 L557.8,240.5 L558.8,239.9 L559.8,240.5 L560.8,240.1 L561.8,240.8 L562.8,240.7 L563.8,240.8 L564.8,240.3 L565.8,240.6 L566.8,240.9 L567.8,240.4 L568.8,239.8 L569.8,240.8 L570.8,239.7 L571.8,240.9 L572.8,240.9 L573.8,241.1 L574.8,240.0 L575.8,240.2 L576.8,240.3 L577.8,239.9 L578.8,240.0 L579.8,240.4 L580.8,240.8 L581.8,241.3 L582.8,240.3 L583.8,240.6 L584.8,240.7 L585.8,240.5 L586.5,240.5 M603.0,277.5 L604.5,277.5 L606.8,201.6 L607.8,201.3 L608.8,201.6 L609.8,201.5 L610.8,201.1 L611.8,201.7 L612.8,202.2 L613.8,201.8 L614.8,201.5 L614.8,201.6 L615.5,221.0 L616.3,240.5 L617.3,241.3 L618.3,241.1 L619.3,240.4 L620.3,240.6 L621.3,240.5 L622.3,241.1 L623.3,240.3 L624.3,239.7 L625.3,240.4 L626.3,240.8 L627.3,241.1 L628.3,240.3 L629.3,240.4 L630.3,240.9 L631.3,240.1 L632.3,240.1 L633.3,240.1 L634.3,241.2 L635.3,240.8 L636.3,240.3 L637.3,241.0 L638.3,240.3 L639.3,239.8 L640.3,239.9 L641.3,240.7 L642.3,240.9 L643.3,240.2 L644.3,240.0 L645.3,239.9 L646.3,239.8 L647.3,240.4 L647.5,240.5 M664.1,277.5 L665.6,277.5 L668.0,202.7 L669.0,202.6 L670.0,202.9 L671.0,202.2 L672.0,202.8 L673.0,202.7 L674.0,202.5 L675.0,202.6 L675.8,202.7 L676.5,221.6 L677.3,240.5 L678.3,240.0 L679.3,240.5 L680.3,240.9 L681.3,240.3 L682.3,240.6 L683.3,240.8 L684.3,240.6 L685.3,240.3 L686.3,240.5 L687.3,240.1 L688.3,240.7 L689.3,241.1 L690.3,240.9 L691.3,240.7 L692.3,239.7 L693.3,239.5 L694.3,240.3 L695.3,240.6 L696.3,240.7 L697.3,240.4 L698.3,240.8 L699.3,240.4 L700.3,240.7 L701.3,241.3 L702.3,241.1 L703.3,240.5 L704.3,240.0 L705.3,240.3 L706.0,240.5 L707.2,277.5 M719.6,277.5 L721.1,277.5 L723.5,204.2 L724.5,204.1 L725.5,203.1 L726.5,203.9 L727.5,204.3 L728.5,204.5 L729.5,204.6 L730.5,204.9 L731.3,204.2 L732.0,222.3 L732.8,240.5 L733.8,241.2 L734.8,240.3 L735.8,240.5 L736.8,240.6 L737.8,240.4 L738.8,240.0 L739.8,240.1 L740.8,240.1 L741.8,240.6 L742.8,240.7 L743.8,240.9 L744.8,240.7 L745.8,240.9 L746.8,240.8 L747.8,240.7 L748.8,240.7 L749.8,240.7 L750.8,240.8 L751.8,240.1 L752.8,240.5 L753.8,241.0 L754.8,240.6 L755.8,241.0 L756.8,241.2 L757.8,240.7 L758.8,241.3 L759.8,242.2 L760.8,240.9 L761.8,240.2 L762.8,241.2 L763.8,241.1 L764.0,240.5 M777.2,277.5 L778.7,277.5 L780.7,202.1 L781.7,201.9 L782.7,201.6 L783.7,202.3 L784.7,202.6 L785.7,202.4 L786.7,201.9 L787.7,202.3 L788.7,201.5 L789.0,202.1 L789.8,221.3 L790.5,240.5 L791.5,240.1 L792.5,239.8 L793.5,240.7 L794.5,241.2 L795.5,241.2 L796.5,240.9 L797.5,240.1 L798.5,240.2 L799.5,240.3 L800.5,241.0 L801.5,240.5 L802.5,240.6 L803.5,240.5 L804.5,240.7 L805.5,241.1 L806.5,240.7 L807.5,240.2 L808.5,240.7 L809.5,240.4 L810.5,239.6 L811.5,239.9 L812.5,239.7 L813.5,240.4 L814.5,240.2 L815.5,240.8 L816.5,240.5 L817.5,240.8 L818.5,240.6 L819.5,241.1 L820.5,240.5 M835.9,277.5 L837.4,277.5 L838.7,202.4 L839.7,201.8 L840.7,201.8 L841.7,201.9 L842.7,201.9 L843.7,202.2 L844.7,202.4 L845.7,202.4 L846.7,202.1 L847.0,202.4 L847.8,221.5 L848.5,240.5 L849.5,240.5 L850.5,240.4 L851.5,239.9 L852.5,240.8 L853.5,241.0 L854.5,240.4 L855.5,240.6 L856.5,240.6 L857.5,239.7 L858.5,240.1 L859.5,240.6 L860.5,240.1 L861.5,239.3 L862.5,240.7 L863.5,240.9 L864.5,240.6 L865.5,240.8 L866.5,239.7 L867.5,240.1 L868.5,240.6 L869.5,240.3 L870.5,240.8 L871.5,240.9 L872.5,240.6 L873.5,239.5 L874.5,241.2 L875.5,240.6 L876.5,240.0 L877.5,240.0 L878.5,239.6 L879.5,240.1 L879.6,240.5 L880.6,277.5" fill="none" stroke="#EAB839" stroke-width="2" stroke-linejoin="round"/>
<path d="M47.1,277.5 L47.1,277.5 L48.6,277.5 L53.0,274.6 L54.0,274.6 L55.0,274.7 L56.0,274.5 L57.0,274.5 L58.0,274.7 L59.0,274.6 L60.0,274.5 L61.0,274.6 L62.0,274.6 L63.0,274.6 L64.0,274.6 L65.0,274.6 L66.0,274.5 L67.0,274.6 L68.0,274.6 L69.0,274.6 L70.0,274.5 L71.0,274.6 L72.0,274.7 L73.0,274.7 L74.0,274.7 L75.0,274.6 L76.0,274.6 L77.0,274.7 L78.0,274.5 L79.0,274.6 L80.0,274.7 L81.0,274.6 L82.0,274.6 L83.0,274.5 L84.0,274.6 L85.0,274.7 L86.0,274.6 L87.0,274.5 L88.0,274.6 L89.0,274.6 L90.0,274.6 L91.0,274.6 L91.4,274.6 L91.4,277.5 Z M101.4,277.5 L101.4,277.5 L102.9,277.5 L107.0,263.1 L108.0,263.1 L109.0,263.1 L110.0,263.1 L111.0,263.1 L112.0,263.0 L113.0,263.0 L114.0,262.9 L115.0,263.0 L116.0,263.1 L117.0,263.2 L118.0,263.0 L119.0,263.2 L120.0,263.0 L121.0,263.1 L122.0,263.1 L123.0,263.1 L124.0,263.1 L125.0,263.1 L126.0,263.0 L127.0,263.0 L128.0,263.1 L129.0,263.2 L130.0,263.1 L131.0,263.1 L132.0,263.1 L133.0,263.0 L134.0,263.1 L135.0,263.1 L136.0,263.1 L137.0,263.1 L138.0,263.1 L139.0,263.2 L140.0,263.0 L141.0,263.0 L142.0,263.2 L143.0,263.1 L144.0,263.0 L144.7,263.1 L144.7,277.5 Z M154.9,277.5 L154.9,277.5 L156.4,277.5 L160.2,248.6 L161.2,248.7 L162.2,248.7 L163.2,248.5 L164.2,248.6 L165.2,248.6 L166.2,248.7 L167.2,248.6 L168.2,248.7 L169.2,248.6 L170.2,248.6 L171.2,248.7 L172.2,248.6 L173.2,248.7 L174.2,248.6 L175.2,248.6 L176.2,248.6 L177.2,248.6 L178.2,248.7 L179.2,248.7 L180.2,248.7 L181.2,248.6 L182.2,248.6 L183.2,248.6 L184.2,248.6 L185.2,248.7 L186.2,248.5 L187.2,248.7 L188.2,248.6 L189.2,248.6 L190.2,248.6 L191.2,248.6 L192.2,248.7 L193.2,248.6 L194.2,248.6 L195.2,248.7 L196.2,248.7 L197.2,248.6 L197.9,248.6 L199.0,277.5 L199.0,277.5 Z M209.9,277.5 L209.9,277.5 L211.4,277.5 L216.4,234.2 L217.4,234.3 L218.4,234.3 L219.4,234.1 L220.4,234.1 L221.4,234.2 L222.4,234.5 L223.4,234.2 L224.4,234.1 L225.4,234.2 L226.4,234.5 L227.4,234.1 L228.4,234.0 L229.4,234.2 L230.4,234.1 L231.4,234.3 L232.4,234.3 L233.4,234.1 L234.4,234.3 L235.4,234.2 L236.4,233.5 L237.4,234.0 L238.4,234.2 L239.4,234.5 L240.4,234.2 L241.4,234.0 L242.4,234.3 L243.4,234.2 L244.4,234.6 L245.4,234.1 L246.4,234.3 L247.4,234.0 L248.4,233.9 L249.4,234.2 L250.4,234.0 L251.4,234.1 L252.4,234.2 L253.3,234.2 L254.4,274.0 L254.4,277.5 Z M264.0,277.5 L264.0,277.5 L265.5,277.5 L270.2,219.8 L271.2,219.8 L272.2,219.9 L273.2,220.1 L274.2,220.1 L275.2,220.0 L276.2,219.9 L277.2,219.7 L278.2,219.6 L279.2,219.9 L280.2,219.7 L281.2,219.9 L282.2,219.8 L283.2,219.6 L284.2,219.9 L285.2,219.8 L286.2,219.7 L287.2,219.6 L288.2,219.9 L289.2,219.7 L290.2,220.4 L291.2,219.5 L292.2,219.9 L293.2,220.1 L294.2,219.7 L295.2,219.6 L296.2,219.5 L297.2,219.6 L298.2,219.9 L299.2,219.6 L300.2,219.6 L301.2,219.7 L302.2,219.8 L303.2,219.5 L304.2,219.5 L305.2,219.9 L306.2,219.8 L307.2,219.6 L307.8,219.8 L307.8,277.5 Z M320.1,277.5 L320.1,277.5 L321.6,277.5 L327.0,205.3 L328.0,205.1 L329.0,205.4 L330.0,205.3 L331.0,205.6 L332.0,205.3 L333.0,205.3 L334.0,205.4 L335.0,205.1 L336.0,205.0 L337.0,205.1 L338.0,205.5 L339.0,205.0 L340.0,205.4 L341.0,205.3 L342.0,205.4 L343.0,205.2 L344.0,205.2 L345.0,205.3 L346.0,205.4 L347.0,205.3 L348.0,205.4 L349.0,205.1 L350.0,205.4 L351.0,205.3 L352.0,205.4 L353.0,205.5 L354.0,205.4 L355.0,205.6 L356.0,205.2 L357.0,205.2 L358.0,205.4 L359.0,205.0 L360.0,205.5 L361.0,205.2 L362.0,205.2 L363.0,205.4 L364.0,205.4 L364.5,205.3 L365.6,277.5 L365.6,277.5 Z M374.6,277.5 L374.6,277.5 L376.1,277.5 L381.1,190.9 L382.1,190.7 L383.1,190.8 L384.1,190.9 L385.1,191.1 L386.1,191.1 L387.1,190.7 L388.1,191.4 L389.1,191.0 L390.1,190.6 L391.1,190.8 L392.1,190.9 L393.1,191.0 L394.1,191.2 L395.1,190.5 L396.1,191.0 L397.1,190.8 L398.1,190.6 L399.1,190.7 L400.1,190.8 L401.1,190.9 L402.1,190.8 L403.1,191.0 L404.1,190.8 L405.1,191.0 L406.1,190.9 L407.1,190.8 L408.1,190.7 L409.1,191.0 L410.1,190.9 L411.1,191.0 L412.1,191.0 L413.1,190.7 L414.1,190.8 L415.1,191.0 L416.1,190.8 L417.1,191.1 L418.1,191.0 L418.8,190.9 L418.8,277.5 Z M429.1,277.5 L429.1,277.5 L430.6,277.5 L436.5,176.4 L437.5,176.4 L438.5,176.4 L439.5,176.4 L440.5,176.4 L441.5,176.4 L442.5,176.4 L443.5,176.4 L444.0,176.4 L444.8,177.4 L445.5,178.5 L446.5,178.5 L447.5,178.6 L448.5,178.9 L449.5,178.3 L450.5,177.9 L451.5,178.1 L452.5,177.7 L453.5,178.0 L454.5,178.9 L455.5,178.9 L456.5,178.8 L457.5,178.2 L458.5,177.8 L459.5,178.2 L460.5,177.8 L461.5,178.7 L462.5,178.6 L463.5,177.6 L464.5,178.0 L465.5,177.7 L466.5,179.3 L467.5,179.7 L468.5,179.3 L469.5,178.1 L470.5,177.4 L471.5,178.5 L472.5,179.0 L473.5,179.2 L474.5,179.2 L474.7,178.5 L474.7,277.5 Z M485.4,277.5 L485.4,277.5 L486.9,277.5 L492.0,162.0 L493.0,162.0 L494.0,162.0 L495.0,162.0 L496.0,162.0 L497.0,162.0 L498.0,162.0 L498.5,162.0 L499.2,171.0 L500.0,179.9 L501.0,179.6 L502.0,179.2 L503.0,180.7 L504.0,181.1 L505.0,179.4 L506.0,179.4 L507.0,179.7 L508.0,180.3 L509.0,180.1 L510.0,181.0 L511.0,179.0 L512.0,179.4 L513.0,179.4 L514.0,179.6 L515.0,179.0 L516.0,179.6 L517.0,179.8 L518.0,180.4 L519.0,180.2 L520.0,180.0 L521.0,179.2 L522.0,180.1 L523.0,180.6 L524.0,180.6 L525.0,180.6 L526.0,179.4 L527.0,181.1 L528.0,180.5 L529.0,179.9 L529.0,277.5 Z M543.3,277.5 L543.3,277.5 L544.8,277.5 L549.5,147.6 L550.5,147.6 L551.5,147.6 L552.5,147.6 L553.5,147.6 L554.5,147.6 L555.5,147.6 L556.3,147.6 L557.0,158.7 L557.8,169.8 L558.8,174.1 L560.3,171.1 L560.9,169.0 L561.5,170.3 L562.1,168.4 L562.7,170.2 L563.3,171.3 L563.9,168.1 L564.5,170.1 L565.1,169.1 L565.7,168.5 L566.3,171.0 L566.9,169.8 L567.5,170.4 L568.1,169.2 L568.7,169.7 L569.3,171.0 L569.9,169.9 L570.5,169.0 L571.1,170.0 L571.7,169.3 L572.3,170.3 L572.9,169.9 L573.5,169.5 L574.1,169.6 L574.7,168.5 L575.3,168.7 L575.9,168.8 L576.5,169.0 L577.1,169.6 L577.7,170.9 L578.3,168.8 L578.9,168.0 L579.5,169.4 L580.1,170.0 L580.7,169.8 L581.3,168.6 L581.9,169.4 L582.5,170.7 L583.1,170.1 L583.7,170.6 L584.3,170.1 L584.9,170.7 L585.5,170.7 L586.1,168.4 L586.5,169.8 L586.5,277.5 Z M602.3,277.5 L602.3,277.5 L603.8,277.5 L608.8,133.1 L609.8,133.1 L610.8,133.1 L611.8,133.1 L612.8,133.1 L613.8,133.1 L614.8,133.1 L615.6,133.1 L616.3,149.7 L617.1,166.3 L618.1,170.7 L619.6,167.6 L620.6,166.0 L621.6,166.9 L622.6,167.3 L623.6,166.2 L624.6,167.1 L625.6,167.3 L626.6,166.5 L627.6,166.7 L628.6,167.0 L629.6,165.9 L630.6,166.2 L631.6,165.9 L632.6,165.4 L633.6,166.0 L634.6,164.8 L635.6,166.4 L636.6,165.8 L637.6,165.5 L638.6,166.8 L639.6,166.1 L640.6,167.3 L641.6,165.8 L642.6,166.0 L643.6,166.2 L644.6,166.4 L645.6,166.6 L646.6,166.0 L647.5,166.3 L647.5,277.5 Z M664.1,277.5 L664.1,277.5 L665.6,277.5 L670.0,142.4 L671.0,142.2 L672.0,142.0 L673.0,142.3 L674.0,142.4 L675.0,142.3 L675.8,142.4 L676.5,159.5 L677.3,176.7 L678.3,180.2 L679.8,177.8 L680.8,177.3 L681.8,177.1 L682.8,177.2 L683.8,176.5 L684.8,176.3 L685.8,177.7 L686.8,177.1 L687.8,176.3 L688.8,177.3 L689.8,177.6 L690.8,176.4 L691.8,176.7 L692.8,177.0 L693.8,177.5 L694.8,176.9 L695.8,177.1 L696.8,176.7 L697.8,176.5 L698.8,176.2 L699.8,176.8 L700.8,177.0 L701.8,176.8 L702.8,176.8 L703.8,176.6 L704.8,177.0 L705.8,176.9 L706.0,176.7 L706.0,277.5 Z M719.2,277.5 L719.2,277.5 L720.7,277.5 L725.5,142.4 L726.5,142.4 L727.5,142.0 L728.5,142.8 L729.5,142.4 L730.5,142.4 L731.3,142.4 L732.0,159.5 L732.8,176.7 L733.8,182.5 L735.3,178.5 L736.3,176.5 L737.3,175.6 L738.3,175.9 L739.3,176.6 L740.3,176.5 L741.3,176.4 L742.3,176.0 L743.3,176.1 L744.3,176.6 L745.3,176.2 L746.3,177.1 L747.3,177.7 L748.3,176.5 L749.3,176.8 L750.3,176.6 L751.3,177.5 L752.3,177.2 L753.3,177.2 L754.3,177.2 L755.3,175.8 L756.3,176.9 L757.3,176.1 L758.3,176.6 L759.3,176.2 L760.3,177.4 L761.3,176.9 L762.3,176.6 L763.3,176.6 L764.0,176.7 L764.0,277.5 Z M777.7,277.5 L777.7,277.5 L779.2,277.5 L782.3,145.5 L783.3,145.3 L784.3,146.1 L785.3,145.0 L786.3,145.6 L787.3,144.9 L788.3,145.0 L789.0,145.5 L789.8,154.5 L790.5,163.4 L791.5,167.8 L793.0,164.7 L794.0,163.2 L795.0,163.3 L796.0,163.4 L797.0,164.5 L798.0,163.9 L799.0,163.3 L800.0,164.3 L801.0,164.5 L802.0,163.2 L803.0,162.9 L804.0,164.2 L805.0,163.4 L806.0,163.5 L807.0,162.9 L808.0,163.5 L809.0,163.6 L810.0,163.9 L811.0,163.5 L812.0,163.5 L813.0,163.8 L814.0,163.8 L815.0,164.0 L816.0,163.2 L817.0,164.0 L818.0,164.5 L819.0,164.3 L820.0,163.1 L820.5,163.4 L820.5,277.5 Z M836.4,277.5 L836.4,277.5 L837.9,277.5 L839.8,148.4 L840.8,148.7 L841.8,147.3 L842.8,148.2 L843.8,148.1 L844.8,148.8 L845.8,147.7 L846.8,148.0 L847.0,148.4 L847.8,161.6 L848.5,174.7 L849.5,179.0 L851.0,176.0 L852.0,173.6 L853.0,175.2 L854.0,175.1 L855.0,174.7 L856.0,174.5 L857.0,174.3 L858.0,174.2 L859.0,174.6 L860.0,174.6 L861.0,175.3 L862.0,174.9 L863.0,175.1 L864.0,174.2 L865.0,174.2 L866.0,174.7 L867.0,174.3 L868.0,174.9 L869.0,174.8 L870.0,175.0 L871.0,174.2 L872.0,174.6 L873.0,174.3 L874.0,174.7 L875.0,175.5 L876.0,174.4 L877.0,174.4 L878.0,174.2 L879.0,175.2 L879.6,174.7 L880.6,205.3 L880.6,277.5 Z" fill="#6ED0E0" fill-opacity="0.1"/>
<path d="M47.1,277.5 L48.6,277.5 L53.0,274.6 L54.0,274.6 L55.0,274.7 L56.0,274.5 L57.0,274.5 L58.0,274.7 L59.0,274.6 L60.0,274.5 L61.0,274.6 L62.0,274.6 L63.0,274.6 L64.0,274.6 L65.0,274.6 L66.0,274.5 L67.0,274.6 L68.0,274.6 L69.0,274.6 L70.0,274.5 L71.0,274.6 L72.0,274.7 L73.0,274.7 L74.0,274.7 L75.0,274.6 L76.0,274.6 L77.0,274.7 L78.0,274.5 L79.0,274.6 L80.0,274.7 L81.0,274.6 L82.0,274.6 L83.0,274.5 L84.0,274.6 L85.0,274.7 L86.0,274.6 L87.0,274.5 L88.0,274.6 L89.0,274.6 L90.0,274.6 L91.0,274.6 L91.4,274.6 M101.4,277.5 L102.9,277.5 L107.0,263.1 L108.0,263.1 L109.0,263.1 L110.0,263.1 L111.0,263.1 L112.0,263.0 L113.0,263.0 L114.0,262.9 L115.0,263.0 L116.0,263.1 L117.0,263.2 L118.0,263.0 L119.0,263.2 L120.0,263.0 L121.0,263.1 L122.0,263.1 L123.0,263.1 L124.0,263.1 L125.0,263.1 L126.0,263.0 L127.0,263.0 L128.0,263.1 L129.0,263.2 L130.0,263.1 L131.0,263.1 L132.0,263.1 L133.0,263.0 L134.0,263.1 L135.0,263.1 L136.0,263.1 L137.0,263.1 L138.0,263.1 L139.0,263.2 L140.0,263.0 L141.0,263.0 L142.0,263.2 L143.0,263.1 L144.0,263.0 L144.7,263.1 M154.9,277.5 L156.4,277.5 L160.2,248.6 L161.2,248.7 L162.2,248.7 L163.2,248.5 L164.2,248.6 L165.2,248.6 L166.2,248.7 L167.2,248.6 L168.2,248.7 L169.2,248.6 L170.2,248.6 L171.2,248.7 L172.2,248.6 L173.2,248.7 L174.2,248.6 L175.2,248.6 L176.2,248.6 L177.2,248.6 L178.2,248.7 L179.2,248.7 L180.2,248.7 L181.2,248.6 L182.2,248.6 L183.2,248.6 L184.2,248.6 L185.2,248.7 L186.2,248.5 L187.2,248.7 L188.2,248.6 L189.2,248.6 L190.2,248.6 L191.2,248.6 L192.2,248.7 L193.2,248.6 L194.2,248.6 L195.2,248.7 L196.2,248.7 L197.2,248.6 L197.9,248.6 L199.0,277.5 M209.9,277.5 L211.4,277.5 L216.4,234.2 L217.4,234.3 L218.4,234.3 L219.4,234.1 L220.4,234.1 L221.4,234.2 L222.4,234.5 L223.4,234.2 L224.4,234.1 L225.4,234.2 L226.4,234.5 L227.4,234.1 L228.4,234.0 L229.4,234.2 L230.4,234.1 L231.4,234.3 L232.4,234.3 L233.4,234.1 L234.4,234.3 L235.4,234.2 L236.4,233.5 L237.4,234.0 L238.4,234.2 L239.4,234.5 L240.4,234.2 L241.4,234.0 L242.4,234.3 L243.4,234.2 L244.4,234.6 L245.4,234.1 L246.4,234.3 L247.4,234.0 L248.4,233.9 L249.4,234.2 L250.4,234.0 L251.4,234.1 L252.4,234.2 L253.3,234.2 L254.4,274.0 M264.0,277.5 L265.5,277.5 L270.2,219.8 L271.2,219.8 L272.2,219.9 L273.2,220.1 L274.2,220.1 L275.2,220.0 L276.2,219.9 L277.2,219.7 L278.2,219.6 L279.2,219.9 L280.2,219.7 L281.2,219.9 L282.2,219.8 L283.2,219.6 L284.2,219.9 L285.2,219.8 L286.2,219.7 L287.2,219.6 L288.2,219.9 L289.2,219.7 L290.2,220.4 L291.2,219.5 L292.2,219.9 L293.2,220.1 L294.2,219.7 L295.2,219.6 L296.2,219.5 L297.2,219.6 L298.2,219.9 L299.2,219.6 L300.2,219.6 L301.2,219.7 L302.2,219.8 L303.2,219.5 L304.2,219.5 L305.2,219.9 L306.2,219.8 L307.2,219.6 L307.8,219.8 M320.1,277.5 L321.6,277.5 L327.0,205.3 L328.0,205.1 L329.0,205.4 L330.0,205.3 L331.0,205.6 L332.0,205.3 L333.0,205.3 L334.0,205.4 L335.0,205.1 L336.0,205.0 L337.0,205.1 L338.0,205.5 L339.0,205.0 L340.0,205.4 L341.0,205.3 L342.0,205.4 L343.0,205.2 L344.0,205.2 L345.0,205.3 L346.0,205.4 L347.0,205.3 L348.0,205.4 L349.0,205.1 L350.0,205.4 L351.0,205.3 L352.0,205.4 L353.0,205.5 L354.0,205.4 L355.0,205.6 L356.0,205.2 L357.0,205.2 L358.0,205.4 L359.0,205.0 L360.0,205.5 L361.0,205.2 L362.0,205.2 L363.0,205.4 L364.0,205.4 L364.5,205.3 L365.6,277.5 M374.6,277.5 L376.1,277.5 L381.1,190.9 L382.1,190.7 L383.1,190.8 L384.1,190.9 L385.1,191.1 L386.1,191.1 L387.1,190.7 L388.1,191.4 L389.1,191.0 L390.1,190.6 L391.1,190.8 L392.1,190.9 L393.1,191.0 L394.1,191.2 L395.1,190.5 L396.1,191.0 L397.1,190.8 L398.1,190.6 L399.1,190.7 L400.1,190.8 L401.1,190.9 L402.1,190.8 L403.1,191.0 L404.1,190.8 L405.1,191.0 L406.1,190.9 L407.1,190.8 L408.1,190.7 L409.1,191.0 L410.1,190.9 L411.1,191.0 L412.1,191.0 L413.1,190.7 L414.1,190.8 L415.1,191.0 L416.1,190.8 L417.1,191.1 L418.1,191.0 L418.8,190.9 M429.1,277.5 L430.6,277.5 L436.5,176.4 L437.5,176.4 L438.5,176.4 L439.5,176.4 L440.5,176.4 L441.5,176.4 L442.5,176.4 L443.5,176.4 L444.0,176.4 L444.8,177.4 L445.5,178.5 L446.5,178.5 L447.5,178.6 L448.5,178.9 L449.5,178.3 L450.5,177.9 L451.5,178.1 L452.5,177.7 L453.5,178.0 L454.5,178.9 L455.5,178.9 L456.5,178.8 L457.5,178.2 L458.5,177.8 L459.5,178.2 L460.5,177.8 L461.5,178.7 L462.5,178.6 L463.5,177.6 L464.5,178.0 L465.5,177.7 L466.5,179.3 L467.5,179.7 L468.5,179.3 L469.5,178.1 L470.5,177.4 L471.5,178.5 L472.5,179.0 L473.5,179.2 L474.5,179.2 L474.7,178.5 M485.4,277.5 L486.9,277.5 L492.0,162.0 L493.0,162.0 L494.0,162.0 L495.0,162.0 L496.0,162.0 L497.0,162.0 L498.0,162.0 L498.5,162.0 L499.2,171.0 L500.0,179.9 L501.0,179.6 L502.0,179.2 L503.0,180.7 L504.0,181.1 L505.0,179.4 L506.0,179.4 L507.0,179.7 L508.0,180.3 L509.0,180.1 L510.0,181.0 L511.0,179.0 L512.0,179.4 L513.0,179.4 L514.0,179.6 L515.0,179.0 L516.0,179.6 L517.0,179.8 L518.0,180.4 L519.0,180.2 L520.0,180.0 L521.0,179.2 L522.0,180.1 L523.0,180.6 L524.0,180.6 L525.0,180.6 L526.0,179.4 L527.0,181.1 L528.0,180.5 L529.0,179.9 M543.3,277.5 L544.8,277.5 L549.5,147.6 L550.5,147.6 L551.5,147.6 L552.5,147.6 L553.5,147.6 L554.5,147.6 L555.5,147.6 L556.3,147.6 L557.0,158.7 L557.8,169.8 L558.8,174.1 L560.3,171.1 L560.9,169.0 L561.5,170.3 L562.1,168.4 L562.7,170.2 L563.3,171.3 L563.9,168.1 L564.5,170.1 L565.1,169.1 L565.7,168.5 L566.3,171.0 L566.9,169.8 L567.5,170.4 L568.1,169.2 L568.7,169.7 L569.3,171.0 L569.9,169.9 L570.5,169.0 L571.1,170.0 L571.7,169.3 L572.3,170.3 L572.9,169.9 L573.5,169.5 L574.1,169.6 L574.7,168.5 L575.3,168.7 L575.9,168.8 L576.5,169.0 L577.1,169.6 L577.7,170.9 L578.3,168.8 L578.9,168.0 L579.5,169.4 L580.1,170.0 L580.7,169.8 L581.3,168.6 L581.9,169.4 L582.5,170.7 L583.1,170.1 L583.7,170.6 L584.3,170.1 L584.9,170.7 L585.5,170.7 L586.1,168.4 L586.5,169.8 M602.3,277.5 L603.8,277.5 L608.8,133.1 L609.8,133.1 L610.8,133.1 L611.8,133.1 L612.8,133.1 L613.8,133.1 L614.8,133.1 L615.6,133.1 L616.3,149.7 L617.1,166.3 L618.1,170.7 L619.6,167.6 L620.6,166.0 L621.6,166.9 L622.6,167.3 L623.6,166.2 L624.6,167.1 L625.6,167.3 L626.6,166.5 L627.6,166.7 L628.6,167.0 L629.6,165.9 L630.6,166.2 L631.6,165.9 L632.6,165.4 L633.6,166.0 L634.6,164.8 L635.6,166.4 L636.6,165.8 L637.6,165.5 L638.6,166.8 L639.6,166.1 L640.6,167.3 L641.6,165.8 L642.6,166.0 L643.6,166.2 L644.6,166.4 L645.6,166.6 L646.6,166.0 L647.5,166.3 M664.1,277.5 L665.6,277.5 L670.0,142.4 L671.0,142.2 L672.0,142.0 L673.0,142.3 L674.0,142.4 L675.0,142.3 L675.8,142.4 L676.5,159.5 L677.3,176.7 L678.3,180.2 L679.8,177.8 L680.8,177.3 L681.8,177.1 L682.8,177.2 L683.8,176.5 L684.8,176.3 L685.8,177.7 L686.8,177.1 L687.8,176.3 L688.8,177.3 L689.8,177.6 L690.8,176.4 L691.8,176.7 L692.8,177.0 L693.8,177.5 L694.8,176.9 L695.8,177.1 L696.8,176.7 L697.8,176.5 L698.8,176.2 L699.8,176.8 L700.8,177.0 L701.8,176.8 L702.8,176.8 L703.8,176.6 L704.8,177.0 L705.8,176.9 L706.0,176.7 M719.2,277.5 L720.7,277.5 L725.5,142.4 L726.5,142.4 L727.5,142.0 L728.5,142.8 L729.5,142.4 L730.5,142.4 L731.3,142.4 L732.0,159.5 L732.8,176.7 L733.8,182.5 L735.3,178.5 L736.3,176.5 L737.3,175.6 L738.3,175.9 L739.3,176.6 L740.3,176.5 L741.3,176.4 L742.3,176.0 L743.3,176.1 L744.3,176.6 L745.3,176.2 L746.3,177.1 L747.3,177.7 L748.3,176.5 L749.3,176.8 L750.3,176.6 L751.3,177.5 L752.3,177.2 L753.3,177.2 L754.3,177.2 L755.3,175.8 L756.3,176.9 L757.3,176.1 L758.3,176.6 L759.3,176.2 L760.3,177.4 L761.3,176.9 L762.3,176.6 L763.3,176.6 L764.0,176.7 M777.7,277.5 L779.2,277.5 L782.3,145.5 L783.3,145.3 L784.3,146.1 L785.3,145.0 L786.3,145.6 L787.3,144.9 L788.3,145.0 L789.0,145.5 L789.8,154.5 L790.5,163.4 L791.5,167.8 L793.0,164.7 L794.0,163.2 L795.0,163.3 L796.0,163.4 L797.0,164.5 L798.0,163.9 L799.0,163.3 L800.0,164.3 L801.0,164.5 L802.0,163.2 L803.0,162.9 L804.0,164.2 L805.0,163.4 L806.0,163.5 L807.0,162.9 L808.0,163.5 L809.0,163.6 L810.0,163.9 L811.0,163.5 L812.0,163.5 L813.0,163.8 L814.0,163.8 L815.0,164.0 L816.0,163.2 L817.0,164.0 L818.0,164.5 L819.0,164.3 L820.0,163.1 L820.5,163.4 M836.4,277.5 L837.9,277.5 L839.8,148.4 L840.8,148.7 L841.8,147.3 L842.8,148.2 L843.8,148.1 L844.8,148.8 L845.8,147.7 L846.8,148.0 L847.0,148.4 L847.8,161.6 L848.5,174.7 L849.5,179.0 L851.0,176.0 L852.0,173.6 L853.0,175.2 L854.0,175.1 L855.0,174.7 L856.0,174.5 L857.0,174.3 L858.0,174.2 L859.0,174.6 L860.0,174.6 L861.0,175.3 L862.0,174.9 L863.0,175.1 L864.0,174.2 L865.0,174.2 L866.0,174.7 L867.0,174.3 L868.0,174.9 L869.0,174.8 L870.0,175.0 L871.0,174.2 L872.0,174.6 L873.0,174.3 L874.0,174.7 L875.0,175.5 L876.0,174.4 L877.0,174.4 L878.0,174.2 L879.0,175.2 L879.6,174.7 L880.6,205.3" fill="none" stroke="#6ED0E0" stroke-width="2" stroke-linejoin="round"/>
<path d="M47.5,277.5 L47.5,277.5 L49.0,277.5 L53.0,274.6 L54.0,274.7 L55.0,274.6 L56.0,274.6 L57.0,274.6 L58.0,274.6 L59.0,274.7 L60.0,274.7 L61.0,274.6 L62.0,274.6 L63.0,274.7 L64.0,274.7 L65.0,274.6 L66.0,274.7 L67.0,274.7 L68.0,274.6 L69.0,274.5 L70.0,274.5 L71.0,274.6 L72.0,274.7 L73.0,274.6 L74.0,274.7 L75.0,274.6 L76.0,274.6 L77.0,274.7 L78.0,274.7 L79.0,274.6 L80.0,274.6 L81.0,274.7 L82.0,274.7 L83.0,274.7 L84.0,274.7 L85.0,274.6 L86.0,274.6 L87.0,274.8 L88.0,274.6 L89.0,274.6 L90.0,274.7 L91.0,274.6 L91.4,274.6 L91.4,277.5 Z M101.3,277.5 L101.3,277.5 L102.8,277.5 L107.0,263.1 L108.0,263.2 L109.0,263.0 L110.0,263.1 L111.0,263.0 L112.0,263.1 L113.0,263.1 L114.0,262.9 L115.0,263.1 L116.0,263.2 L117.0,263.0 L118.0,263.2 L119.0,263.3 L120.0,263.1 L121.0,263.0 L122.0,263.0 L123.0,263.1 L124.0,263.1 L125.0,263.0 L126.0,263.1 L127.0,263.2 L128.0,263.1 L129.0,263.0 L130.0,263.0 L131.0,263.1 L132.0,263.1 L133.0,263.2 L134.0,263.1 L135.0,263.1 L136.0,263.1 L137.0,263.0 L138.0,263.2 L139.0,263.1 L140.0,263.1 L141.0,263.0 L142.0,263.1 L143.0,263.0 L144.0,263.0 L144.7,263.1 L144.7,277.5 Z M155.0,277.5 L155.0,277.5 L156.5,277.5 L160.2,248.6 L161.2,248.6 L162.2,248.6 L163.2,248.5 L164.2,248.7 L165.2,248.6 L166.2,248.6 L167.2,248.7 L168.2,248.5 L169.2,248.7 L170.2,248.7 L171.2,248.5 L172.2,248.5 L173.2,248.6 L174.2,248.5 L175.2,248.6 L176.2,248.7 L177.2,248.6 L178.2,248.5 L179.2,248.6 L180.2,248.6 L181.2,248.7 L182.2,248.6 L183.2,248.7 L184.2,248.7 L185.2,248.7 L186.2,248.7 L187.2,248.6 L188.2,248.6 L189.2,248.6 L190.2,248.7 L191.2,248.6 L192.2,248.6 L193.2,248.5 L194.2,248.7 L195.2,248.7 L196.2,248.6 L197.2,248.5 L197.9,248.6 L197.9,277.5 Z M209.6,277.5 L209.6,277.5 L211.1,277.5 L216.4,234.2 L217.4,234.2 L218.4,234.3 L219.4,234.1 L220.4,234.3 L221.4,234.1 L222.4,234.3 L223.4,234.3 L224.4,234.1 L225.4,234.4 L226.4,234.4 L227.4,234.1 L228.4,234.0 L229.4,234.3 L230.4,234.2 L231.4,234.3 L232.4,234.3 L233.4,234.3 L234.4,234.1 L235.4,234.3 L236.4,234.0 L237.4,234.4 L238.4,234.6 L239.4,234.1 L240.4,234.4 L241.4,234.0 L242.4,234.4 L243.4,234.3 L244.4,234.0 L245.4,234.1 L246.4,234.2 L247.4,234.0 L248.4,234.0 L249.4,234.2 L250.4,234.3 L251.4,234.5 L252.4,234.2 L253.3,234.2 L253.3,277.5 Z M320.2,277.5 L320.2,277.5 L321.7,277.5 L327.0,205.3 L328.0,205.1 L329.0,205.2 L330.0,205.4 L331.0,205.5 L332.0,205.2 L333.0,205.1 L334.0,205.7 L335.0,205.5 L336.0,205.4 L337.0,205.0 L338.0,205.1 L339.0,205.1 L340.0,205.2 L341.0,205.5 L342.0,205.1 L343.0,205.4 L344.0,205.5 L345.0,204.9 L346.0,205.6 L347.0,205.0 L348.0,205.3 L349.0,205.5 L350.0,205.3 L351.0,205.5 L352.0,205.3 L353.0,205.4 L354.0,205.6 L355.0,204.8 L356.0,205.4 L357.0,205.1 L358.0,205.3 L359.0,205.2 L360.0,205.6 L361.0,205.5 L362.0,206.0 L363.0,205.1 L364.0,205.2 L364.5,205.3 L364.5,277.5 Z M374.4,277.5 L374.4,277.5 L375.9,277.5 L381.1,190.9 L382.1,191.0 L383.1,191.0 L384.1,190.7 L385.1,190.9 L386.1,191.0 L387.1,190.8 L388.1,191.1 L389.1,190.7 L390.1,190.8 L391.1,190.8 L392.1,191.0 L393.1,191.1 L394.1,190.9 L395.1,191.0 L396.1,190.8 L397.1,191.2 L398.1,190.9 L399.1,191.0 L400.1,190.9 L401.1,190.9 L402.1,190.6 L403.1,191.3 L404.1,190.8 L405.1,190.9 L406.1,191.0 L407.1,190.7 L408.1,191.0 L409.1,190.9 L410.1,190.8 L411.1,191.0 L412.1,191.0 L413.1,190.9 L414.1,191.0 L415.1,190.9 L416.1,190.7 L417.1,190.7 L418.1,191.0 L418.8,190.9 L418.8,277.5 Z M429.5,277.5 L429.5,277.5 L431.0,277.5 L436.5,176.4 L437.5,176.1 L438.5,176.5 L439.5,176.4 L440.5,176.4 L441.5,176.2 L442.5,176.6 L443.5,176.5 L444.5,176.4 L445.5,176.5 L446.5,176.4 L447.5,176.5 L448.5,176.2 L449.5,176.5 L450.5,176.7 L451.5,176.3 L452.5,176.1 L453.5,176.8 L454.5,176.5 L455.5,176.4 L456.5,176.2 L457.5,176.1 L458.5,176.5 L459.5,176.8 L460.5,176.3 L461.5,176.2 L462.5,176.3 L463.5,176.4 L464.5,176.6 L465.5,175.9 L466.5,176.7 L467.5,176.7 L468.5,176.2 L469.5,176.4 L470.5,176.3 L471.5,176.4 L472.5,176.1 L473.5,176.1 L474.5,176.5 L474.7,176.4 L474.7,277.5 Z M485.0,277.5 L485.0,277.5 L486.5,277.5 L492.0,162.0 L493.0,161.8 L494.0,161.6 L495.0,162.3 L496.0,162.2 L497.0,162.1 L498.0,161.8 L499.0,162.1 L500.0,162.1 L501.0,161.7 L502.0,162.0 L503.0,161.8 L504.0,162.2 L505.0,161.9 L506.0,162.1 L507.0,161.8 L508.0,162.1 L509.0,162.0 L510.0,162.0 L511.0,162.1 L512.0,162.3 L513.0,162.0 L514.0,162.1 L515.0,161.9 L516.0,161.8 L517.0,161.9 L518.0,162.1 L519.0,161.8 L520.0,162.0 L521.0,161.7 L522.0,162.0 L523.0,162.0 L524.0,162.4 L525.0,161.7 L526.0,161.7 L527.0,162.0 L528.0,161.8 L529.0,162.0 L530.0,192.0 L530.0,277.5 Z M544.7,277.5 L544.7,277.5 L546.2,277.5 L551.5,147.6 L552.5,147.6 L553.5,147.7 L554.5,147.4 L555.5,147.8 L556.5,147.7 L557.5,147.7 L558.5,147.3 L559.5,147.9 L560.5,147.6 L561.5,147.5 L562.5,147.5 L563.5,147.6 L564.5,147.4 L565.5,147.5 L566.5,147.8 L567.5,147.4 L568.5,147.7 L569.5,147.6 L570.5,147.3 L571.5,147.1 L572.5,147.3 L573.5,147.5 L574.5,147.7 L575.5,147.7 L576.5,147.2 L577.5,147.5 L578.5,147.8 L579.5,147.2 L580.5,147.4 L581.5,147.3 L582.5,147.5 L583.5,148.0 L584.5,147.7 L585.5,147.6 L586.5,147.6 L586.5,277.5 Z M602.2,277.5 L602.2,277.5 L603.7,277.5 L608.8,133.1 L609.2,133.1 L610.0,131.4 L610.8,133.1 L611.8,133.4 L612.8,132.8 L613.8,133.1 L614.8,133.4 L615.8,133.0 L616.8,132.7 L617.8,133.2 L618.8,132.8 L619.8,133.0 L620.8,133.4 L621.8,133.0 L622.8,133.3 L623.8,133.0 L624.8,133.2 L625.8,133.1 L626.8,133.3 L627.8,132.8 L628.8,133.0 L629.8,133.1 L630.8,133.0 L631.8,133.4 L632.8,133.2 L633.8,133.2 L634.8,133.0 L635.8,133.0 L636.8,132.9 L637.8,133.2 L638.8,133.0 L639.8,133.2 L640.8,133.3 L641.8,133.0 L642.8,133.1 L643.8,133.2 L644.8,133.0 L645.8,133.3 L646.8,132.9 L647.5,133.1 L647.5,277.5 Z M664.4,277.5 L664.4,277.5 L665.9,277.5 L670.3,117.8 L670.8,117.5 L671.3,117.3 L671.8,117.2 L672.3,117.1 L672.8,117.0 L673.3,117.0 L673.8,117.0 L674.3,117.0 L674.8,117.0 L675.3,117.1 L675.8,117.2 L676.3,117.3 L676.8,117.5 L677.3,117.8 L678.3,118.6 L679.3,118.9 L680.3,119.1 L681.3,119.0 L682.3,118.7 L683.3,119.0 L684.3,118.5 L685.3,118.4 L686.3,118.5 L687.3,118.6 L688.3,118.5 L689.3,118.6 L690.3,118.5 L691.3,118.6 L692.3,118.5 L693.3,118.9 L694.3,118.8 L695.3,118.9 L696.3,118.5 L697.3,118.6 L698.3,118.8 L699.3,118.9 L700.3,118.8 L701.3,118.5 L702.3,118.7 L703.3,118.7 L704.3,118.8 L705.3,118.7 L706.0,118.7 L707.2,219.8 L707.2,277.5 Z M719.2,277.5 L719.2,277.5 L720.7,277.5 L725.5,105.4 L726.0,103.1 L726.5,102.0 L727.0,101.2 L727.5,100.6 L728.0,100.3 L728.5,100.2 L729.0,100.3 L729.5,100.6 L730.0,101.2 L730.5,102.0 L731.0,103.1 L731.5,105.4 L732.5,104.5 L733.5,105.1 L734.5,105.1 L735.5,105.1 L736.5,105.8 L737.5,105.7 L738.5,106.1 L739.5,106.2 L740.5,106.1 L741.5,104.4 L742.5,105.3 L743.5,106.0 L744.5,105.4 L745.5,105.3 L746.5,104.4 L747.5,104.7 L748.5,104.9 L749.5,105.2 L750.5,105.5 L751.5,105.7 L752.5,106.2 L753.5,106.1 L754.5,105.8 L755.5,104.7 L756.5,104.0 L757.5,104.9 L758.5,106.3 L759.5,104.8 L760.5,104.7 L761.5,105.1 L762.5,104.9 L763.5,106.0 L764.0,105.4 L765.2,196.6 L765.2,277.5 Z M777.7,277.5 L777.7,277.5 L779.2,277.5 L782.2,101.9 L782.7,95.9 L783.2,93.8 L783.7,92.3 L784.2,91.2 L784.7,90.4 L785.2,89.9 L785.7,89.6 L786.2,89.5 L786.7,89.7 L787.2,90.1 L787.7,90.7 L788.2,91.6 L788.7,92.9 L789.2,94.5 L789.7,97.1 L790.0,101.9 L791.0,102.1 L792.0,101.9 L793.0,102.7 L794.0,101.1 L795.0,102.5 L796.0,102.3 L797.0,102.6 L798.0,101.2 L799.0,102.0 L800.0,102.3 L801.0,100.9 L802.0,101.7 L803.0,102.3 L804.0,102.1 L805.0,101.9 L806.0,102.3 L807.0,102.2 L808.0,102.1 L809.0,101.6 L810.0,101.4 L811.0,101.3 L812.0,101.8 L813.0,101.4 L814.0,101.9 L815.0,101.3 L816.0,101.5 L817.0,102.0 L818.0,101.3 L819.0,102.6 L820.0,102.7 L820.5,101.9 L821.5,190.9 L821.5,277.5 Z M836.1,277.5 L836.1,277.5 L837.6,277.5 L840.9,98.5 L841.4,79.5 L841.9,77.5 L842.4,76.3 L842.9,75.6 L843.4,75.1 L843.9,74.8 L844.4,74.8 L844.9,75.0 L845.4,75.3 L845.9,76.0 L846.4,76.9 L846.9,78.5 L847.4,81.9 L847.6,98.5 L848.6,98.9 L849.6,99.4 L850.6,98.9 L851.6,97.7 L852.6,98.7 L853.6,98.6 L854.6,98.3 L855.6,97.9 L856.6,98.5 L857.6,98.4 L858.6,98.9 L859.6,99.1 L860.6,98.5 L861.6,98.7 L862.6,99.9 L863.6,99.6 L864.6,98.9 L865.6,98.8 L866.6,98.2 L867.6,98.1 L868.6,98.5 L869.6,97.7 L870.6,98.5 L871.6,97.4 L872.6,97.6 L873.6,97.6 L874.6,97.8 L875.6,97.0 L876.6,96.8 L877.6,98.4 L878.6,97.4 L879.6,98.5 L880.6,190.9 L880.6,277.5 Z" fill="#EF843C" fill-opacity="0.1"/>
<path d="M47.5,277.5 L49.0,277.5 L53.0,274.6 L54.0,274.7 L55.0,274.6 L56.0,274.6 L57.0,274.6 L58.0,274.6 L59.0,274.7 L60.0,274.7 L61.0,274.6 L62.0,274.6 L63.0,274.7 L64.0,274.7 L65.0,274.6 L66.0,274.7 L67.0,274.7 L68.0,274.6 L69.0,274.5 L70.0,274.5 L71.0,274.6 L72.0,274.7 L73.0,274.6 L74.0,274.7 L75.0,274.6 L76.0,274.6 L77.0,274.7 L78.0,274.7 L79.0,274.6 L80.0,274.6 L81.0,274.7 L82.0,274.7 L83.0,274.7 L84.0,274.7 L85.0,274.6 L86.0,274.6 L87.0,274.8 L88.0,274.6 L89.0,274.6 L90.0,274.7 L91.0,274.6 L91.4,274.6 M101.3,277.5 L102.8,277.5 L107.0,263.1 L108.0,263.2 L109.0,263.0 L110.0,263.1 L111.0,263.0 L112.0,263.1 L113.0,263.1 L114.0,262.9 L115.0,263.1 L116.0,263.2 L117.0,263.0 L118.0,263.2 L119.0,263.3 L120.0,263.1 L121.0,263.0 L122.0,263.0 L123.0,263.1 L124.0,263.1 L125.0,263.0 L126.0,263.1 L127.0,263.2 L128.0,263.1 L129.0,263.0 L130.0,263.0 L131.0,263.1 L132.0,263.1 L133.0,263.2 L134.0,263.1 L135.0,263.1 L136.0,263.1 L137.0,263.0 L138.0,263.2 L139.0,263.1 L140.0,263.1 L141.0,263.0 L142.0,263.1 L143.0,263.0 L144.0,263.0 L144.7,263.1 M155.0,277.5 L156.5,277.5 L160.2,248.6 L161.2,248.6 L162.2,248.6 L163.2,248.5 L164.2,248.7 L165.2,248.6 L166.2,248.6 L167.2,248.7 L168.2,248.5 L169.2,248.7 L170.2,248.7 L171.2,248.5 L172.2,248.5 L173.2,248.6 L174.2,248.5 L175.2,248.6 L176.2,248.7 L177.2,248.6 L178.2,248.5 L179.2,248.6 L180.2,248.6 L181.2,248.7 L182.2,248.6 L183.2,248.7 L184.2,248.7 L185.2,248.7 L186.2,248.7 L187.2,248.6 L188.2,248.6 L189.2,248.6 L190.2,248.7 L191.2,248.6 L192.2,248.6 L193.2,248.5 L194.2,248.7 L195.2,248.7 L196.2,248.6 L197.2,248.5 L197.9,248.6 M209.6,277.5 L211.1,277.5 L216.4,234.2 L217.4,234.2 L218.4,234.3 L219.4,234.1 L220.4,234.3 L221.4,234.1 L222.4,234.3 L223.4,234.3 L224.4,234.1 L225.4,234.4 L226.4,234.4 L227.4,234.1 L228.4,234.0 L229.4,234.3 L230.4,234.2 L231.4,234.3 L232.4,234.3 L233.4,234.3 L234.4,234.1 L235.4,234.3 L236.4,234.0 L237.4,234.4 L238.4,234.6 L239.4,234.1 L240.4,234.4 L241.4,234.0 L242.4,234.4 L243.4,234.3 L244.4,234.0 L245.4,234.1 L246.4,234.2 L247.4,234.0 L248.4,234.0 L249.4,234.2 L250.4,234.3 L251.4,234.5 L252.4,234.2 L253.3,234.2 M320.2,277.5 L321.7,277.5 L327.0,205.3 L328.0,205.1 L329.0,205.2 L330.0,205.4 L331.0,205.5 L332.0,205.2 L333.0,205.1 L334.0,205.7 L335.0,205.5 L336.0,205.4 L337.0,205.0 L338.0,205.1 L339.0,205.1 L340.0,205.2 L341.0,205.5 L342.0,205.1 L343.0,205.4 L344.0,205.5 L345.0,204.9 L346.0,205.6 L347.0,205.0 L348.0,205.3 L349.0,205.5 L350.0,205.3 L351.0,205.5 L352.0,205.3 L353.0,205.4 L354.0,205.6 L355.0,204.8 L356.0,205.4 L357.0,205.1 L358.0,205.3 L359.0,205.2 L360.0,205.6 L361.0,205.5 L362.0,206.0 L363.0,205.1 L364.0,205.2 L364.5,205.3 M374.4,277.5 L375.9,277.5 L381.1,190.9 L382.1,191.0 L383.1,191.0 L384.1,190.7 L385.1,190.9 L386.1,191.0 L387.1,190.8 L388.1,191.1 L389.1,190.7 L390.1,190.8 L391.1,190.8 L392.1,191.0 L393.1,191.1 L394.1,190.9 L395.1,191.0 L396.1,190.8 L397.1,191.2 L398.1,190.9 L399.1,191.0 L400.1,190.9 L401.1,190.9 L402.1,190.6 L403.1,191.3 L404.1,190.8 L405.1,190.9 L406.1,191.0 L407.1,190.7 L408.1,191.0 L409.1,190.9 L410.1,190.8 L411.1,191.0 L412.1,191.0 L413.1,190.9 L414.1,191.0 L415.1,190.9 L416.1,190.7 L417.1,190.7 L418.1,191.0 L418.8,190.9 M429.5,277.5 L431.0,277.5 L436.5,176.4 L437.5,176.1 L438.5,176.5 L439.5,176.4 L440.5,176.4 L441.5,176.2 L442.5,176.6 L443.5,176.5 L444.5,176.4 L445.5,176.5 L446.5,176.4 L447.5,176.5 L448.5,176.2 L449.5,176.5 L450.5,176.7 L451.5,176.3 L452.5,176.1 L453.5,176.8 L454.5,176.5 L455.5,176.4 L456.5,176.2 L457.5,176.1 L458.5,176.5 L459.5,176.8 L460.5,176.3 L461.5,176.2 L462.5,176.3 L463.5,176.4 L464.5,176.6 L465.5,175.9 L466.5,176.7 L467.5,176.7 L468.5,176.2 L469.5,176.4 L470.5,176.3 L471.5,176.4 L472.5,176.1 L473.5,176.1 L474.5,176.5 L474.7,176.4 M485.0,277.5 L486.5,277.5 L492.0,162.0 L493.0,161.8 L494.0,161.6 L495.0,162.3 L496.0,162.2 L497.0,162.1 L498.0,161.8 L499.0,162.1 L500.0,162.1 L501.0,161.7 L502.0,162.0 L503.0,161.8 L504.0,162.2 L505.0,161.9 L506.0,162.1 L507.0,161.8 L508.0,162.1 L509.0,162.0 L510.0,162.0 L511.0,162.1 L512.0,162.3 L513.0,162.0 L514.0,162.1 L515.0,161.9 L516.0,161.8 L517.0,161.9 L518.0,162.1 L519.0,161.8 L520.0,162.0 L521.0,161.7 L522.0,162.0 L523.0,162.0 L524.0,162.4 L525.0,161.7 L526.0,161.7 L527.0,162.0 L528.0,161.8 L529.0,162.0 L530.0,192.0 M544.7,277.5 L546.2,277.5 L551.5,147.6 L552.5,147.6 L553.5,147.7 L554.5,147.4 L555.5,147.8 L556.5,147.7 L557.5,147.7 L558.5,147.3 L559.5,147.9 L560.5,147.6 L561.5,147.5 L562.5,147.5 L563.5,147.6 L564.5,147.4 L565.5,147.5 L566.5,147.8 L567.5,147.4 L568.5,147.7 L569.5,147.6 L570.5,147.3 L571.5,147.1 L572.5,147.3 L573.5,147.5 L574.5,147.7 L575.5,147.7 L576.5,147.2 L577.5,147.5 L578.5,147.8 L579.5,147.2 L580.5,147.4 L581.5,147.3 L582.5,147.5 L583.5,148.0 L584.5,147.7 L585.5,147.6 L586.5,147.6 M602.2,277.5 L603.7,277.5 L608.8,133.1 L609.2,133.1 L610.0,131.4 L610.8,133.1 L611.8,133.4 L612.8,132.8 L613.8,133.1 L614.8,133.4 L615.8,133.0 L616.8,132.7 L617.8,133.2 L618.8,132.8 L619.8,133.0 L620.8,133.4 L621.8,133.0 L622.8,133.3 L623.8,133.0 L624.8,133.2 L625.8,133.1 L626.8,133.3 L627.8,132.8 L628.8,133.0 L629.8,133.1 L630.8,133.0 L631.8,133.4 L632.8,133.2 L633.8,133.2 L634.8,133.0 L635.8,133.0 L636.8,132.9 L637.8,133.2 L638.8,133.0 L639.8,133.2 L640.8,133.3 L641.8,133.0 L642.8,133.1 L643.8,133.2 L644.8,133.0 L645.8,133.3 L646.8,132.9 L647.5,133.1 M664.4,277.5 L665.9,277.5 L670.3,117.8 L670.8,117.5 L671.3,117.3 L671.8,117.2 L672.3,117.1 L672.8,117.0 L673.3,117.0 L673.8,117.0 L674.3,117.0 L674.8,117.0 L675.3,117.1 L675.8,117.2 L676.3,117.3 L676.8,117.5 L677.3,117.8 L678.3,118.6 L679.3,118.9 L680.3,119.1 L681.3,119.0 L682.3,118.7 L683.3,119.0 L684.3,118.5 L685.3,118.4 L686.3,118.5 L687.3,118.6 L688.3,118.5 L689.3,118.6 L690.3,118.5 L691.3,118.6 L692.3,118.5 L693.3,118.9 L694.3,118.8 L695.3,118.9 L696.3,118.5 L697.3,118.6 L698.3,118.8 L699.3,118.9 L700.3,118.8 L701.3,118.5 L702.3,118.7 L703.3,118.7 L704.3,118.8 L705.3,118.7 L706.0,118.7 L707.2,219.8 M719.2,277.5 L720.7,277.5 L725.5,105.4 L726.0,103.1 L726.5,102.0 L727.0,101.2 L727.5,100.6 L728.0,100.3 L728.5,100.2 L729.0,100.3 L729.5,100.6 L730.0,101.2 L730.5,102.0 L731.0,103.1 L731.5,105.4 L732.5,104.5 L733.5,105.1 L734.5,105.1 L735.5,105.1 L736.5,105.8 L737.5,105.7 L738.5,106.1 L739.5,106.2 L740.5,106.1 L741.5,104.4 L742.5,105.3 L743.5,106.0 L744.5,105.4 L745.5,105.3 L746.5,104.4 L747.5,104.7 L748.5,104.9 L749.5,105.2 L750.5,105.5 L751.5,105.7 L752.5,106.2 L753.5,106.1 L754.5,105.8 L755.5,104.7 L756.5,104.0 L757.5,104.9 L758.5,106.3 L759.5,104.8 L760.5,104.7 L761.5,105.1 L762.5,104.9 L763.5,106.0 L764.0,105.4 L765.2,196.6 M777.7,277.5 L779.2,277.5 L782.2,101.9 L782.7,95.9 L783.2,93.8 L783.7,92.3 L784.2,91.2 L784.7,90.4 L785.2,89.9 L785.7,89.6 L786.2,89.5 L786.7,89.7 L787.2,90.1 L787.7,90.7 L788.2,91.6 L788.7,92.9 L789.2,94.5 L789.7,97.1 L790.0,101.9 L791.0,102.1 L792.0,101.9 L793.0,102.7 L794.0,101.1 L795.0,102.5 L796.0,102.3 L797.0,102.6 L798.0,101.2 L799.0,102.0 L800.0,102.3 L801.0,100.9 L802.0,101.7 L803.0,102.3 L804.0,102.1 L805.0,101.9 L806.0,102.3 L807.0,102.2 L808.0,102.1 L809.0,101.6 L810.0,101.4 L811.0,101.3 L812.0,101.8 L813.0,101.4 L814.0,101.9 L815.0,101.3 L816.0,101.5 L817.0,102.0 L818.0,101.3 L819.0,102.6 L820.0,102.7 L820.5,101.9 L821.5,190.9 M836.1,277.5 L837.6,277.5 L840.9,98.5 L841.4,79.5 L841.9,77.5 L842.4,76.3 L842.9,75.6 L843.4,75.1 L843.9,74.8 L844.4,74.8 L844.9,75.0 L845.4,75.3 L845.9,76.0 L846.4,76.9 L846.9,78.5 L847.4,81.9 L847.6,98.5 L848.6,98.9 L849.6,99.4 L850.6,98.9 L851.6,97.7 L852.6,98.7 L853.6,98.6 L854.6,98.3 L855.6,97.9 L856.6,98.5 L857.6,98.4 L858.6,98.9 L859.6,99.1 L860.6,98.5 L861.6,98.7 L862.6,99.9 L863.6,99.6 L864.6,98.9 L865.6,98.8 L866.6,98.2 L867.6,98.1 L868.6,98.5 L869.6,97.7 L870.6,98.5 L871.6,97.4 L872.6,97.6 L873.6,97.6 L874.6,97.8 L875.6,97.0 L876.6,96.8 L877.6,98.4 L878.6,97.4 L879.6,98.5 L880.6,190.9" fill="none" stroke="#EF843C" stroke-width="2" stroke-linejoin="round"/>
<circle cx="308.6" cy="274.0" r="1.3" fill="#EF843C"/>
<path d="M47.7,277.5 L47.7,277.5 L49.2,277.5 L53.0,274.6 L54.0,274.6 L55.0,274.6 L56.0,274.5 L57.0,274.6 L58.0,274.5 L59.0,274.6 L60.0,274.5 L61.0,274.7 L62.0,274.6 L63.0,274.6 L64.0,274.7 L65.0,274.6 L66.0,274.7 L67.0,274.6 L68.0,274.7 L69.0,274.6 L70.0,274.6 L71.0,274.7 L72.0,274.6 L73.0,274.6 L74.0,274.7 L75.0,274.6 L76.0,274.5 L77.0,274.6 L78.0,274.6 L79.0,274.6 L80.0,274.7 L81.0,274.5 L82.0,274.5 L83.0,274.7 L84.0,274.5 L85.0,274.7 L86.0,274.5 L87.0,274.7 L88.0,274.5 L89.0,274.6 L90.0,274.7 L91.0,274.7 L91.4,274.6 L91.4,277.5 Z M101.1,277.5 L101.1,277.5 L102.6,277.5 L107.0,263.1 L108.0,263.2 L109.0,263.2 L110.0,263.0 L111.0,263.0 L112.0,263.0 L113.0,263.1 L114.0,263.0 L115.0,263.0 L116.0,263.0 L117.0,263.1 L118.0,263.0 L119.0,263.0 L120.0,263.1 L121.0,263.1 L122.0,263.2 L123.0,263.1 L124.0,263.1 L125.0,263.1 L126.0,263.0 L127.0,263.0 L128.0,262.9 L129.0,263.1 L130.0,263.1 L131.0,263.0 L132.0,263.1 L133.0,263.1 L134.0,263.1 L135.0,263.1 L136.0,263.1 L137.0,263.1 L138.0,263.1 L139.0,263.0 L140.0,263.1 L141.0,263.1 L142.0,263.0 L143.0,263.1 L144.0,263.0 L144.7,263.1 L144.7,277.5 Z M154.6,277.5 L154.6,277.5 L156.1,277.5 L160.2,248.6 L161.2,248.6 L162.2,248.6 L163.2,248.7 L164.2,248.6 L165.2,248.5 L166.2,248.6 L167.2,248.6 L168.2,248.6 L168.8,248.6 L169.5,251.8 L170.2,248.6 L171.2,248.6 L172.2,248.6 L173.2,248.6 L174.2,248.6 L175.2,248.7 L176.2,248.6 L177.2,248.7 L178.2,248.5 L179.2,248.6 L180.2,248.6 L181.2,248.6 L182.2,248.8 L183.2,248.5 L184.2,248.7 L185.2,248.6 L186.2,248.5 L187.2,248.7 L188.2,248.6 L189.2,248.6 L190.2,248.6 L191.2,248.7 L192.2,248.7 L193.2,248.5 L194.2,248.7 L195.2,248.6 L196.2,248.7 L197.2,248.7 L197.9,248.6 L197.9,277.5 Z M209.8,277.5 L209.8,277.5 L211.3,277.5 L216.4,234.2 L217.4,234.2 L218.4,234.2 L219.4,234.4 L220.4,234.2 L221.4,233.8 L222.4,234.0 L223.3,234.0 L224.0,238.8 L224.7,234.0 L225.4,233.8 L226.4,234.5 L227.4,234.0 L228.4,234.3 L229.4,234.1 L230.4,234.2 L231.4,234.3 L232.4,234.7 L233.4,234.1 L234.4,234.1 L235.4,234.4 L236.4,234.6 L237.4,234.3 L238.4,234.7 L239.4,234.4 L240.4,234.1 L241.4,234.1 L242.4,234.1 L243.4,234.1 L244.4,234.2 L245.4,234.1 L246.4,234.0 L247.4,234.0 L248.4,234.1 L249.4,234.1 L250.4,234.1 L251.4,234.4 L252.4,234.2 L253.3,234.2 L254.4,247.5 L254.4,277.5 Z M263.7,277.5 L263.7,277.5 L265.2,277.5 L270.2,219.8 L271.2,219.7 L272.2,220.0 L273.2,219.7 L274.2,219.8 L275.2,219.7 L276.2,219.7 L277.2,219.9 L278.2,219.4 L279.2,219.5 L280.2,219.9 L281.2,219.7 L282.2,219.6 L283.2,219.9 L284.2,219.8 L285.2,219.6 L286.2,220.3 L287.2,220.0 L288.2,219.7 L289.2,219.6 L290.2,219.9 L291.2,219.6 L292.2,219.3 L293.2,219.7 L294.2,219.8 L295.2,219.7 L296.2,220.0 L297.2,219.6 L298.2,219.7 L299.2,219.6 L300.2,219.5 L301.2,219.7 L302.2,219.7 L303.2,219.7 L304.2,219.4 L305.2,220.0 L306.2,219.7 L307.2,219.9 L307.8,219.8 L307.8,277.5 Z M320.3,277.5 L320.3,277.5 L321.8,277.5 L327.0,205.3 L328.0,205.3 L329.0,205.3 L330.0,205.3 L331.0,205.3 L332.0,205.3 L333.0,205.3 L334.0,205.3 L334.7,205.3 L335.4,211.5 L336.2,217.7 L337.2,217.6 L338.2,217.8 L339.2,217.6 L340.2,217.7 L341.2,216.9 L342.2,218.0 L343.2,217.3 L344.2,218.0 L345.2,218.2 L346.2,218.7 L347.2,217.0 L348.2,218.1 L349.2,218.2 L350.2,218.5 L351.2,218.1 L352.2,218.6 L353.2,216.8 L354.2,217.3 L355.2,216.1 L356.2,216.5 L357.2,218.4 L358.2,217.5 L359.2,217.0 L360.2,217.0 L361.2,217.6 L362.2,217.2 L363.2,216.7 L364.2,217.3 L364.5,217.7 L365.6,233.3 L365.6,277.5 Z M374.6,277.5 L374.6,277.5 L376.1,277.5 L381.1,190.9 L382.1,190.9 L383.1,190.9 L384.1,190.9 L385.1,190.9 L386.1,190.9 L387.1,190.9 L388.1,190.9 L389.0,190.9 L389.8,197.7 L390.5,204.4 L391.5,203.6 L392.5,203.7 L393.5,204.4 L394.5,203.6 L395.5,203.6 L396.5,204.7 L397.5,203.8 L398.5,205.7 L399.5,204.8 L400.5,205.2 L401.5,204.7 L402.5,203.8 L403.5,204.2 L404.5,204.5 L405.5,203.6 L406.5,204.7 L407.5,205.0 L408.5,204.0 L409.5,203.9 L410.5,205.2 L411.5,204.6 L412.5,204.0 L413.5,204.4 L414.5,204.7 L415.5,204.4 L416.5,204.3 L417.5,204.8 L418.5,204.0 L418.8,204.4 L420.0,277.5 L420.0,277.5 Z M429.4,277.5 L429.4,277.5 L430.9,277.5 L436.5,176.4 L437.5,176.4 L438.5,176.4 L439.5,176.4 L440.5,176.4 L441.5,176.4 L442.5,176.4 L443.5,176.4 L444.0,176.4 L444.8,186.5 L445.5,196.6 L446.5,197.6 L447.5,196.3 L448.5,197.0 L449.5,197.5 L450.5,196.5 L451.5,195.9 L452.5,196.7 L453.5,197.2 L454.5,196.8 L455.5,196.3 L456.5,197.2 L457.5,197.0 L458.5,196.4 L459.5,196.3 L460.5,195.4 L461.5,195.7 L462.5,198.0 L463.5,196.2 L464.5,197.0 L465.5,196.5 L466.5,197.6 L467.5,196.5 L468.5,197.7 L469.5,196.4 L470.5,195.5 L471.5,196.5 L472.5,196.1 L473.5,196.4 L474.5,196.6 L474.7,196.6 L474.7,277.5 Z M485.2,277.5 L485.2,277.5 L486.7,277.5 L490.9,185.4 L491.9,186.0 L492.9,184.6 L493.9,186.2 L494.9,186.5 L495.9,184.9 L496.9,185.6 L497.9,184.6 L498.5,185.4 L499.2,194.5 L500.0,203.6 L501.0,203.0 L502.0,202.0 L503.0,202.0 L504.0,202.7 L505.0,203.7 L506.0,203.2 L507.0,202.6 L508.0,203.2 L509.0,205.3 L510.0,204.3 L511.0,204.0 L512.0,203.7 L513.0,203.8 L514.0,202.9 L515.0,204.2 L516.0,203.5 L517.0,204.8 L518.0,205.3 L519.0,204.7 L520.0,204.4 L521.0,204.4 L522.0,204.3 L523.0,203.4 L524.0,203.2 L525.0,203.4 L526.0,203.4 L527.0,204.0 L528.0,204.3 L529.0,203.6 L529.0,277.5 Z M544.6,277.5 L544.6,277.5 L546.1,277.5 L550.1,180.2 L551.1,181.1 L552.1,181.0 L553.1,180.5 L554.1,180.3 L555.1,179.8 L556.1,180.7 L556.3,180.2 L557.0,191.2 L557.8,202.1 L558.8,203.1 L559.8,201.9 L560.8,202.3 L561.8,200.9 L562.8,202.4 L563.8,202.6 L564.8,200.8 L565.8,202.9 L566.8,203.5 L567.8,202.5 L568.8,202.8 L569.8,202.5 L570.8,201.5 L571.8,202.1 L572.8,202.1 L573.8,201.6 L574.8,202.6 L575.8,203.3 L576.8,202.3 L577.8,202.2 L578.8,201.7 L579.8,202.4 L580.8,202.5 L581.8,202.3 L582.8,202.0 L583.8,201.5 L584.8,201.8 L585.8,203.6 L586.5,202.1 L586.5,277.5 Z M602.5,277.5 L602.5,277.5 L604.0,277.5 L607.1,184.2 L608.1,184.5 L609.1,184.9 L610.1,184.1 L611.1,184.1 L612.1,183.5 L613.1,183.7 L614.1,184.2 L614.8,184.2 L615.5,192.9 L616.3,201.6 L617.3,202.4 L618.3,201.4 L619.3,201.5 L620.3,202.3 L621.3,202.7 L622.3,203.1 L623.3,201.6 L624.3,201.9 L625.3,203.8 L626.3,202.8 L627.3,202.3 L628.3,201.9 L629.3,201.6 L630.3,201.8 L631.3,201.2 L632.3,200.8 L633.3,201.5 L634.3,200.5 L635.3,201.3 L636.3,202.0 L637.3,201.6 L638.3,202.5 L639.3,202.0 L640.3,202.4 L641.3,202.1 L642.3,201.6 L643.3,203.1 L644.3,201.8 L645.3,201.5 L646.3,201.7 L647.3,201.1 L647.5,201.6 L648.5,277.5 L648.5,277.5 Z M664.1,277.5 L664.1,277.5 L665.6,277.5 L669.1,171.2 L670.1,171.0 L671.1,171.5 L672.1,171.2 L673.1,172.0 L674.1,171.1 L675.1,171.2 L675.8,171.2 L676.5,184.2 L677.3,197.2 L678.3,197.9 L679.3,198.0 L680.3,198.2 L681.3,197.7 L682.3,197.5 L683.3,197.4 L684.3,197.6 L685.3,196.7 L686.3,196.8 L687.3,196.9 L688.3,197.1 L689.3,197.7 L690.3,196.9 L691.3,195.9 L692.3,195.9 L693.3,196.4 L694.3,197.6 L695.3,197.8 L696.3,197.7 L697.3,197.0 L698.3,197.2 L699.3,197.4 L700.3,196.8 L701.3,196.6 L702.3,197.6 L703.3,197.9 L704.3,197.1 L705.3,196.8 L706.0,197.2 L707.2,264.5 L707.2,277.5 Z M719.0,277.5 L719.0,277.5 L720.5,277.5 L724.5,168.6 L725.5,169.0 L726.5,168.9 L727.5,169.4 L728.5,169.3 L729.5,168.3 L730.5,169.1 L731.3,168.6 L732.0,181.6 L732.8,194.6 L733.8,194.6 L734.8,195.1 L735.8,195.2 L736.8,195.2 L737.8,193.8 L738.8,195.1 L739.8,194.6 L740.8,194.1 L741.8,195.0 L742.8,195.7 L743.8,194.0 L744.8,193.3 L745.8,194.4 L746.8,195.3 L747.8,194.3 L748.8,194.6 L749.8,195.1 L750.8,195.0 L751.8,196.3 L752.8,195.7 L753.8,195.7 L754.8,195.8 L755.8,194.6 L756.8,194.5 L757.8,193.5 L758.8,196.0 L759.8,195.5 L760.8,195.4 L761.8,194.0 L762.8,193.8 L763.8,194.3 L764.0,194.6 L765.2,277.5 L765.2,277.5 Z M777.0,277.5 L777.0,277.5 L778.5,277.5 L781.3,173.8 L782.3,173.9 L783.3,173.0 L784.3,173.5 L785.3,173.1 L786.3,173.2 L787.3,173.7 L788.3,173.6 L789.0,173.8 L789.8,187.0 L790.5,200.1 L791.5,200.2 L792.5,201.2 L793.5,201.0 L794.5,200.1 L795.5,200.6 L796.5,201.1 L797.5,201.0 L798.5,200.3 L799.5,201.2 L800.5,200.9 L801.5,200.6 L802.5,200.5 L803.5,201.0 L804.5,202.2 L805.5,201.3 L806.5,199.7 L807.5,199.2 L808.5,200.3 L809.5,199.3 L810.5,199.4 L811.5,200.0 L812.5,200.8 L813.5,200.6 L814.5,200.7 L815.5,200.3 L816.5,201.1 L817.5,201.4 L818.5,200.8 L819.5,200.8 L820.5,200.1 L821.5,257.3 L821.5,277.5 Z M836.0,277.5 L836.0,277.5 L837.5,277.5 L839.2,175.6 L840.2,175.9 L841.2,175.5 L842.2,176.1 L843.2,176.2 L844.2,177.7 L845.2,176.6 L846.2,177.3 L847.0,175.6 L847.8,187.0 L848.5,198.4 L849.5,199.6 L850.5,199.4 L851.5,197.8 L852.5,197.7 L853.5,197.9 L854.5,198.6 L855.5,199.4 L856.5,198.4 L857.5,198.9 L858.5,198.6 L859.5,197.9 L860.5,198.4 L861.5,198.4 L862.5,199.0 L863.5,197.9 L864.5,197.9 L865.5,197.8 L866.5,197.2 L867.5,199.1 L868.5,198.6 L869.5,198.0 L870.5,198.1 L871.5,198.1 L872.5,198.0 L873.5,199.3 L874.5,198.7 L875.5,197.7 L876.5,198.2 L877.5,198.5 L878.5,197.9 L879.5,199.4 L879.6,198.4 L880.6,219.8 L880.6,277.5 Z" fill="#E24D42" fill-opacity="0.1"/>
<path d="M47.7,277.5 L49.2,277.5 L53.0,274.6 L54.0,274.6 L55.0,274.6 L56.0,274.5 L57.0,274.6 L58.0,274.5 L59.0,274.6 L60.0,274.5 L61.0,274.7 L62.0,274.6 L63.0,274.6 L64.0,274.7 L65.0,274.6 L66.0,274.7 L67.0,274.6 L68.0,274.7 L69.0,274.6 L70.0,274.6 L71.0,274.7 L72.0,274.6 L73.0,274.6 L74.0,274.7 L75.0,274.6 L76.0,274.5 L77.0,274.6 L78.0,274.6 L79.0,274.6 L80.0,274.7 L81.0,274.5 L82.0,274.5 L83.0,274.7 L84.0,274.5 L85.0,274.7 L86.0,274.5 L87.0,274.7 L88.0,274.5 L89.0,274.6 L90.0,274.7 L91.0,274.7 L91.4,274.6 M101.1,277.5 L102.6,277.5 L107.0,263.1 L108.0,263.2 L109.0,263.2 L110.0,263.0 L111.0,263.0 L112.0,263.0 L113.0,263.1 L114.0,263.0 L115.0,263.0 L116.0,263.0 L117.0,263.1 L118.0,263.0 L119.0,263.0 L120.0,263.1 L121.0,263.1 L122.0,263.2 L123.0,263.1 L124.0,263.1 L125.0,263.1 L126.0,263.0 L127.0,263.0 L128.0,262.9 L129.0,263.1 L130.0,263.1 L131.0,263.0 L132.0,263.1 L133.0,263.1 L134.0,263.1 L135.0,263.1 L136.0,263.1 L137.0,263.1 L138.0,263.1 L139.0,263.0 L140.0,263.1 L141.0,263.1 L142.0,263.0 L143.0,263.1 L144.0,263.0 L144.7,263.1 M154.6,277.5 L156.1,277.5 L160.2,248.6 L161.2,248.6 L162.2,248.6 L163.2,248.7 L164.2,248.6 L165.2,248.5 L166.2,248.6 L167.2,248.6 L168.2,248.6 L168.8,248.6 L169.5,251.8 L170.2,248.6 L171.2,248.6 L172.2,248.6 L173.2,248.6 L174.2,248.6 L175.2,248.7 L176.2,248.6 L177.2,248.7 L178.2,248.5 L179.2,248.6 L180.2,248.6 L181.2,248.6 L182.2,248.8 L183.2,248.5 L184.2,248.7 L185.2,248.6 L186.2,248.5 L187.2,248.7 L188.2,248.6 L189.2,248.6 L190.2,248.6 L191.2,248.7 L192.2,248.7 L193.2,248.5 L194.2,248.7 L195.2,248.6 L196.2,248.7 L197.2,248.7 L197.9,248.6 M209.8,277.5 L211.3,277.5 L216.4,234.2 L217.4,234.2 L218.4,234.2 L219.4,234.4 L220.4,234.2 L221.4,233.8 L222.4,234.0 L223.3,234.0 L224.0,238.8 L224.7,234.0 L225.4,233.8 L226.4,234.5 L227.4,234.0 L228.4,234.3 L229.4,234.1 L230.4,234.2 L231.4,234.3 L232.4,234.7 L233.4,234.1 L234.4,234.1 L235.4,234.4 L236.4,234.6 L237.4,234.3 L238.4,234.7 L239.4,234.4 L240.4,234.1 L241.4,234.1 L242.4,234.1 L243.4,234.1 L244.4,234.2 L245.4,234.1 L246.4,234.0 L247.4,234.0 L248.4,234.1 L249.4,234.1 L250.4,234.1 L251.4,234.4 L252.4,234.2 L253.3,234.2 L254.4,247.5 M263.7,277.5 L265.2,277.5 L270.2,219.8 L271.2,219.7 L272.2,220.0 L273.2,219.7 L274.2,219.8 L275.2,219.7 L276.2,219.7 L277.2,219.9 L278.2,219.4 L279.2,219.5 L280.2,219.9 L281.2,219.7 L282.2,219.6 L283.2,219.9 L284.2,219.8 L285.2,219.6 L286.2,220.3 L287.2,220.0 L288.2,219.7 L289.2,219.6 L290.2,219.9 L291.2,219.6 L292.2,219.3 L293.2,219.7 L294.2,219.8 L295.2,219.7 L296.2,220.0 L297.2,219.6 L298.2,219.7 L299.2,219.6 L300.2,219.5 L301.2,219.7 L302.2,219.7 L303.2,219.7 L304.2,219.4 L305.2,220.0 L306.2,219.7 L307.2,219.9 L307.8,219.8 M320.3,277.5 L321.8,277.5 L327.0,205.3 L328.0,205.3 L329.0,205.3 L330.0,205.3 L331.0,205.3 L332.0,205.3 L333.0,205.3 L334.0,205.3 L334.7,205.3 L335.4,211.5 L336.2,217.7 L337.2,217.6 L338.2,217.8 L339.2,217.6 L340.2,217.7 L341.2,216.9 L342.2,218.0 L343.2,217.3 L344.2,218.0 L345.2,218.2 L346.2,218.7 L347.2,217.0 L348.2,218.1 L349.2,218.2 L350.2,218.5 L351.2,218.1 L352.2,218.6 L353.2,216.8 L354.2,217.3 L355.2,216.1 L356.2,216.5 L357.2,218.4 L358.2,217.5 L359.2,217.0 L360.2,217.0 L361.2,217.6 L362.2,217.2 L363.2,216.7 L364.2,217.3 L364.5,217.7 L365.6,233.3 M374.6,277.5 L376.1,277.5 L381.1,190.9 L382.1,190.9 L383.1,190.9 L384.1,190.9 L385.1,190.9 L386.1,190.9 L387.1,190.9 L388.1,190.9 L389.0,190.9 L389.8,197.7 L390.5,204.4 L391.5,203.6 L392.5,203.7 L393.5,204.4 L394.5,203.6 L395.5,203.6 L396.5,204.7 L397.5,203.8 L398.5,205.7 L399.5,204.8 L400.5,205.2 L401.5,204.7 L402.5,203.8 L403.5,204.2 L404.5,204.5 L405.5,203.6 L406.5,204.7 L407.5,205.0 L408.5,204.0 L409.5,203.9 L410.5,205.2 L411.5,204.6 L412.5,204.0 L413.5,204.4 L414.5,204.7 L415.5,204.4 L416.5,204.3 L417.5,204.8 L418.5,204.0 L418.8,204.4 L420.0,277.5 M429.4,277.5 L430.9,277.5 L436.5,176.4 L437.5,176.4 L438.5,176.4 L439.5,176.4 L440.5,176.4 L441.5,176.4 L442.5,176.4 L443.5,176.4 L444.0,176.4 L444.8,186.5 L445.5,196.6 L446.5,197.6 L447.5,196.3 L448.5,197.0 L449.5,197.5 L450.5,196.5 L451.5,195.9 L452.5,196.7 L453.5,197.2 L454.5,196.8 L455.5,196.3 L456.5,197.2 L457.5,197.0 L458.5,196.4 L459.5,196.3 L460.5,195.4 L461.5,195.7 L462.5,198.0 L463.5,196.2 L464.5,197.0 L465.5,196.5 L466.5,197.6 L467.5,196.5 L468.5,197.7 L469.5,196.4 L470.5,195.5 L471.5,196.5 L472.5,196.1 L473.5,196.4 L474.5,196.6 L474.7,196.6 M485.2,277.5 L486.7,277.5 L490.9,185.4 L491.9,186.0 L492.9,184.6 L493.9,186.2 L494.9,186.5 L495.9,184.9 L496.9,185.6 L497.9,184.6 L498.5,185.4 L499.2,194.5 L500.0,203.6 L501.0,203.0 L502.0,202.0 L503.0,202.0 L504.0,202.7 L505.0,203.7 L506.0,203.2 L507.0,202.6 L508.0,203.2 L509.0,205.3 L510.0,204.3 L511.0,204.0 L512.0,203.7 L513.0,203.8 L514.0,202.9 L515.0,204.2 L516.0,203.5 L517.0,204.8 L518.0,205.3 L519.0,204.7 L520.0,204.4 L521.0,204.4 L522.0,204.3 L523.0,203.4 L524.0,203.2 L525.0,203.4 L526.0,203.4 L527.0,204.0 L528.0,204.3 L529.0,203.6 M544.6,277.5 L546.1,277.5 L550.1,180.2 L551.1,181.1 L552.1,181.0 L553.1,180.5 L554.1,180.3 L555.1,179.8 L556.1,180.7 L556.3,180.2 L557.0,191.2 L557.8,202.1 L558.8,203.1 L559.8,201.9 L560.8,202.3 L561.8,200.9 L562.8,202.4 L563.8,202.6 L564.8,200.8 L565.8,202.9 L566.8,203.5 L567.8,202.5 L568.8,202.8 L569.8,202.5 L570.8,201.5 L571.8,202.1 L572.8,202.1 L573.8,201.6 L574.8,202.6 L575.8,203.3 L576.8,202.3 L577.8,202.2 L578.8,201.7 L579.8,202.4 L580.8,202.5 L581.8,202.3 L582.8,202.0 L583.8,201.5 L584.8,201.8 L585.8,203.6 L586.5,202.1 M602.5,277.5 L604.0,277.5 L607.1,184.2 L608.1,184.5 L609.1,184.9 L610.1,184.1 L611.1,184.1 L612.1,183.5 L613.1,183.7 L614.1,184.2 L614.8,184.2 L615.5,192.9 L616.3,201.6 L617.3,202.4 L618.3,201.4 L619.3,201.5 L620.3,202.3 L621.3,202.7 L622.3,203.1 L623.3,201.6 L624.3,201.9 L625.3,203.8 L626.3,202.8 L627.3,202.3 L628.3,201.9 L629.3,201.6 L630.3,201.8 L631.3,201.2 L632.3,200.8 L633.3,201.5 L634.3,200.5 L635.3,201.3 L636.3,202.0 L637.3,201.6 L638.3,202.5 L639.3,202.0 L640.3,202.4 L641.3,202.1 L642.3,201.6 L643.3,203.1 L644.3,201.8 L645.3,201.5 L646.3,201.7 L647.3,201.1 L647.5,201.6 L648.5,277.5 M664.1,277.5 L665.6,277.5 L669.1,171.2 L670.1,171.0 L671.1,171.5 L672.1,171.2 L673.1,172.0 L674.1,171.1 L675.1,171.2 L675.8,171.2 L676.5,184.2 L677.3,197.2 L678.3,197.9 L679.3,198.0 L680.3,198.2 L681.3,197.7 L682.3,197.5 L683.3,197.4 L684.3,197.6 L685.3,196.7 L686.3,196.8 L687.3,196.9 L688.3,197.1 L689.3,197.7 L690.3,196.9 L691.3,195.9 L692.3,195.9 L693.3,196.4 L694.3,197.6 L695.3,197.8 L696.3,197.7 L697.3,197.0 L698.3,197.2 L699.3,197.4 L700.3,196.8 L701.3,196.6 L702.3,197.6 L703.3,197.9 L704.3,197.1 L705.3,196.8 L706.0,197.2 L707.2,264.5 M719.0,277.5 L720.5,277.5 L724.5,168.6 L725.5,169.0 L726.5,168.9 L727.5,169.4 L728.5,169.3 L729.5,168.3 L730.5,169.1 L731.3,168.6 L732.0,181.6 L732.8,194.6 L733.8,194.6 L734.8,195.1 L735.8,195.2 L736.8,195.2 L737.8,193.8 L738.8,195.1 L739.8,194.6 L740.8,194.1 L741.8,195.0 L742.8,195.7 L743.8,194.0 L744.8,193.3 L745.8,194.4 L746.8,195.3 L747.8,194.3 L748.8,194.6 L749.8,195.1 L750.8,195.0 L751.8,196.3 L752.8,195.7 L753.8,195.7 L754.8,195.8 L755.8,194.6 L756.8,194.5 L757.8,193.5 L758.8,196.0 L759.8,195.5 L760.8,195.4 L761.8,194.0 L762.8,193.8 L763.8,194.3 L764.0,194.6 L765.2,277.5 M777.0,277.5 L778.5,277.5 L781.3,173.8 L782.3,173.9 L783.3,173.0 L784.3,173.5 L785.3,173.1 L786.3,173.2 L787.3,173.7 L788.3,173.6 L789.0,173.8 L789.8,187.0 L790.5,200.1 L791.5,200.2 L792.5,201.2 L793.5,201.0 L794.5,200.1 L795.5,200.6 L796.5,201.1 L797.5,201.0 L798.5,200.3 L799.5,201.2 L800.5,200.9 L801.5,200.6 L802.5,200.5 L803.5,201.0 L804.5,202.2 L805.5,201.3 L806.5,199.7 L807.5,199.2 L808.5,200.3 L809.5,199.3 L810.5,199.4 L811.5,200.0 L812.5,200.8 L813.5,200.6 L814.5,200.7 L815.5,200.3 L816.5,201.1 L817.5,201.4 L818.5,200.8 L819.5,200.8 L820.5,200.1 L821.5,257.3 M836.0,277.5 L837.5,277.5 L839.2,175.6 L840.2,175.9 L841.2,175.5 L842.2,176.1 L843.2,176.2 L844.2,177.7 L845.2,176.6 L846.2,177.3 L847.0,175.6 L847.8,187.0 L848.5,198.4 L849.5,199.6 L850.5,199.4 L851.5,197.8 L852.5,197.7 L853.5,197.9 L854.5,198.6 L855.5,199.4 L856.5,198.4 L857.5,198.9 L858.5,198.6 L859.5,197.9 L860.5,198.4 L861.5,198.4 L862.5,199.0 L863.5,197.9 L864.5,197.9 L865.5,197.8 L866.5,197.2 L867.5,199.1 L868.5,198.6 L869.5,198.0 L870.5,198.1 L871.5,198.1 L872.5,198.0 L873.5,199.3 L874.5,198.7 L875.5,197.7 L876.5,198.2 L877.5,198.5 L878.5,197.9 L879.5,199.4 L879.6,198.4 L880.6,219.8" fill="none" stroke="#E24D42" stroke-width="2" stroke-linejoin="round"/>
<path d="M47.6,277.5 L47.6,277.5 L49.1,277.5 L53.0,274.6 L54.0,274.6 L55.0,274.7 L56.0,274.7 L57.0,274.5 L58.0,274.6 L59.0,274.5 L60.0,274.6 L61.0,274.6 L62.0,274.6 L63.0,274.7 L64.0,274.8 L65.0,274.7 L66.0,274.6 L67.0,274.6 L68.0,274.6 L69.0,274.6 L70.0,274.6 L71.0,274.6 L72.0,274.7 L73.0,274.6 L74.0,274.5 L75.0,274.7 L76.0,274.6 L77.0,274.6 L78.0,274.7 L79.0,274.5 L80.0,274.6 L81.0,274.5 L82.0,274.6 L83.0,274.6 L84.0,274.6 L85.0,274.6 L86.0,274.6 L87.0,274.6 L88.0,274.6 L89.0,274.6 L90.0,274.6 L91.0,274.7 L91.4,274.6 L91.4,277.5 Z M101.1,277.5 L101.1,277.5 L102.6,277.5 L107.0,263.1 L108.0,263.0 L109.0,263.1 L110.0,263.2 L111.0,262.9 L112.0,263.2 L113.0,263.1 L114.0,263.0 L115.0,263.1 L116.0,263.0 L117.0,263.1 L118.0,263.0 L119.0,263.0 L120.0,263.1 L121.0,263.1 L122.0,263.1 L123.0,263.0 L124.0,263.1 L125.0,263.0 L126.0,263.1 L127.0,263.0 L128.0,263.1 L129.0,263.0 L130.0,263.1 L131.0,263.1 L132.0,263.1 L133.0,263.0 L134.0,263.1 L135.0,263.0 L136.0,263.0 L137.0,263.1 L138.0,263.1 L139.0,263.1 L140.0,263.0 L141.0,263.1 L142.0,263.1 L143.0,263.1 L144.0,263.1 L144.7,263.1 L144.7,277.5 Z M154.7,277.5 L154.7,277.5 L156.2,277.5 L160.2,248.6 L161.2,248.7 L162.2,248.7 L163.2,248.6 L164.2,248.7 L165.2,248.6 L166.2,248.7 L167.2,248.6 L168.2,248.6 L169.2,248.7 L170.2,248.6 L171.2,248.6 L172.2,248.5 L173.2,248.6 L174.2,248.7 L175.2,248.7 L176.2,248.6 L177.2,248.5 L178.2,248.6 L179.2,248.7 L180.2,248.7 L181.2,248.7 L182.2,248.7 L183.2,248.6 L184.2,248.7 L185.2,248.7 L186.2,248.5 L187.2,248.6 L188.2,248.6 L189.2,248.6 L190.2,248.6 L191.2,248.5 L192.2,248.7 L193.2,248.6 L194.2,248.7 L195.2,248.5 L196.2,248.8 L197.2,248.6 L197.9,248.6 L197.9,277.5 Z M210.2,277.5 L210.2,277.5 L211.7,277.5 L216.4,234.2 L217.4,234.2 L218.4,234.2 L219.4,234.1 L220.4,234.0 L221.4,234.3 L222.4,234.3 L223.4,234.6 L224.4,234.4 L225.4,234.5 L226.4,234.1 L227.4,234.4 L228.4,234.3 L229.4,234.1 L230.4,234.0 L231.4,233.9 L232.4,234.4 L233.4,234.1 L234.4,234.0 L235.4,234.4 L236.4,234.2 L237.4,234.4 L238.4,234.3 L239.4,234.0 L240.4,234.2 L241.4,234.3 L242.4,234.3 L243.4,233.9 L244.4,234.0 L245.4,234.4 L246.4,233.7 L247.4,234.3 L248.4,234.2 L249.4,234.3 L250.4,234.3 L251.4,234.1 L252.4,234.5 L253.3,234.2 L253.3,277.5 Z M263.5,277.5 L263.5,277.5 L265.0,277.5 L270.2,219.8 L271.2,219.7 L272.2,219.7 L273.2,219.7 L274.2,219.9 L275.2,219.7 L276.2,219.7 L277.2,219.6 L277.5,219.6 L278.3,228.4 L279.1,219.6 L280.2,219.8 L281.2,219.8 L282.2,219.4 L283.2,219.6 L284.2,219.5 L285.2,220.1 L286.2,220.1 L287.2,219.5 L288.2,219.7 L289.2,220.0 L290.2,219.5 L291.2,219.8 L292.2,219.4 L293.2,219.7 L294.2,219.5 L295.2,219.6 L296.2,219.8 L297.2,219.8 L298.2,219.3 L299.2,219.8 L300.2,219.8 L301.2,219.7 L302.2,219.6 L303.2,219.8 L304.2,219.4 L305.2,219.9 L306.2,220.3 L307.2,219.9 L307.8,219.8 L308.6,271.7 L308.6,277.5 Z M319.9,277.5 L319.9,277.5 L321.4,277.5 L327.0,205.3 L328.0,205.6 L329.0,205.4 L330.0,205.5 L331.0,205.1 L332.0,205.2 L333.0,205.5 L334.0,205.1 L335.0,205.3 L336.0,205.3 L337.0,205.1 L338.0,205.3 L339.0,205.4 L340.0,205.2 L341.0,205.7 L342.0,205.6 L343.0,205.2 L344.0,205.1 L345.0,205.7 L346.0,205.3 L347.0,205.4 L348.0,205.4 L349.0,205.2 L350.0,205.0 L351.0,205.0 L352.0,205.1 L353.0,205.2 L354.0,205.3 L355.0,205.7 L356.0,205.2 L357.0,205.6 L358.0,205.5 L359.0,205.3 L360.0,205.6 L361.0,205.0 L362.0,205.2 L363.0,205.2 L364.0,205.2 L364.5,205.3 L364.5,277.5 Z M374.8,277.5 L374.8,277.5 L376.3,277.5 L381.1,190.9 L382.1,190.5 L383.1,190.8 L384.1,190.9 L385.1,190.8 L386.1,190.5 L387.1,190.8 L388.3,191.2 L389.3,199.5 L390.3,191.2 L391.1,190.9 L392.1,190.9 L393.1,190.7 L394.1,190.8 L395.1,190.8 L396.1,191.0 L397.1,191.0 L398.1,190.8 L399.1,190.7 L400.1,191.0 L401.1,190.8 L402.1,191.1 L403.1,191.0 L404.1,191.0 L405.1,190.7 L406.1,190.6 L407.1,190.8 L408.1,190.8 L409.1,190.7 L410.1,190.5 L411.1,190.9 L412.1,191.0 L413.1,191.0 L414.1,191.3 L415.1,191.0 L416.1,190.7 L417.1,190.7 L418.1,190.9 L418.8,190.9 L418.8,277.5 Z M429.0,277.5 L429.0,277.5 L430.5,277.5 L436.5,176.4 L437.5,176.6 L438.5,176.4 L439.5,176.5 L440.5,176.5 L441.5,176.3 L442.5,176.4 L443.5,176.8 L444.5,176.6 L445.5,176.9 L446.5,176.4 L447.5,176.3 L448.5,176.2 L449.5,176.7 L450.5,176.0 L451.5,176.1 L452.5,176.5 L453.5,176.8 L454.5,176.6 L455.5,176.2 L456.5,176.0 L457.5,176.5 L458.5,176.8 L459.5,176.6 L460.5,176.1 L461.5,176.4 L462.5,176.7 L463.5,176.9 L464.5,176.3 L465.5,176.3 L466.5,176.5 L467.5,176.5 L468.5,176.4 L469.5,176.5 L470.5,176.6 L471.5,176.6 L472.5,176.6 L473.5,176.2 L474.5,176.4 L474.7,176.4 L474.7,277.5 Z M484.8,277.5 L484.8,277.5 L486.3,277.5 L492.0,162.0 L493.0,161.8 L494.0,161.8 L495.0,162.0 L496.0,162.2 L497.0,161.8 L498.0,161.9 L499.0,161.6 L500.0,161.9 L501.0,161.8 L502.0,162.0 L503.0,162.0 L504.0,162.0 L505.0,162.0 L506.0,162.1 L507.0,161.9 L508.0,161.7 L509.0,162.0 L510.0,161.7 L511.0,161.9 L512.0,162.0 L513.0,161.8 L514.0,162.1 L515.0,162.4 L516.0,161.8 L517.0,162.1 L518.0,162.1 L519.0,161.8 L520.0,162.1 L521.0,161.7 L522.0,162.3 L523.0,161.9 L524.0,161.8 L525.0,161.7 L526.0,161.9 L527.0,162.0 L528.0,162.1 L529.0,162.0 L529.0,277.5 Z M542.3,277.5 L542.3,277.5 L543.8,277.5 L548.5,147.6 L549.5,147.6 L550.5,147.6 L551.5,147.6 L552.5,147.6 L553.5,147.6 L554.5,147.6 L555.5,147.6 L556.3,147.6 L557.0,152.2 L557.8,156.8 L558.3,157.1 L558.8,157.2 L559.3,156.6 L559.8,156.9 L560.3,157.7 L560.8,157.7 L561.3,158.5 L561.8,156.5 L562.3,156.7 L562.8,156.0 L563.3,156.6 L563.8,156.3 L564.3,157.8 L564.8,158.2 L565.3,157.2 L565.8,157.0 L566.3,156.5 L566.8,156.9 L567.3,156.9 L567.8,156.8 L568.3,156.6 L568.8,156.7 L569.3,156.6 L569.8,157.2 L570.3,156.9 L570.8,157.9 L571.3,157.6 L571.8,157.0 L572.3,156.5 L572.8,157.4 L573.3,157.8 L573.8,156.1 L574.3,157.4 L574.8,158.1 L575.3,157.5 L575.8,157.7 L576.3,158.6 L576.8,157.1 L577.3,155.6 L577.8,157.3 L578.3,157.4 L578.8,156.0 L579.3,156.7 L579.8,156.9 L580.3,155.8 L580.8,157.7 L581.3,156.9 L581.8,156.4 L582.3,156.7 L582.8,157.7 L583.3,157.5 L583.8,155.5 L584.3,156.9 L584.8,157.0 L585.3,156.0 L585.8,158.1 L586.3,156.8 L586.5,156.8 L586.5,277.5 Z M602.7,277.5 L602.7,277.5 L604.2,277.5 L608.8,133.1 L609.8,133.1 L610.8,133.1 L611.8,133.1 L612.8,133.1 L613.8,133.1 L614.8,133.1 L615.5,141.6 L616.3,150.2 L616.7,149.1 L617.1,150.7 L617.5,151.1 L617.9,149.5 L618.3,152.7 L618.7,147.0 L619.1,149.2 L619.5,149.9 L619.9,148.8 L620.3,149.4 L620.7,149.8 L621.1,149.7 L621.5,151.4 L621.9,149.5 L622.3,150.1 L622.7,151.3 L623.1,150.4 L623.5,149.2 L623.9,149.6 L624.3,150.6 L624.7,148.1 L625.1,150.0 L625.5,150.7 L625.9,150.1 L626.3,148.8 L626.7,148.6 L627.1,150.2 L627.5,150.5 L627.9,150.5 L628.3,150.8 L628.7,151.5 L629.1,149.7 L629.5,147.9 L629.9,149.4 L630.3,150.4 L630.7,149.7 L631.1,150.1 L631.5,150.6 L631.9,148.7 L632.3,149.8 L632.7,152.3 L633.1,149.8 L633.5,150.0 L633.9,150.8 L634.3,148.8 L634.7,149.8 L635.1,151.0 L635.5,150.0 L635.9,149.6 L636.3,150.5 L636.7,150.4 L637.1,150.5 L637.5,148.0 L637.9,151.3 L638.3,150.8 L638.7,150.8 L639.1,150.5 L639.5,152.3 L639.9,150.1 L640.3,150.4 L640.7,150.7 L641.1,150.2 L641.5,152.5 L641.9,150.9 L642.3,149.7 L642.7,150.7 L643.1,151.0 L643.5,150.4 L643.9,149.3 L644.3,148.7 L644.7,150.1 L645.1,151.1 L645.5,151.5 L645.9,149.4 L646.3,150.3 L646.7,151.3 L647.1,149.8 L647.5,149.9 L647.5,150.2 L647.5,277.5 Z M664.6,277.5 L664.6,277.5 L666.1,277.5 L670.5,127.3 L671.5,126.8 L672.5,128.2 L673.5,128.2 L674.5,128.4 L675.5,128.1 L675.8,127.3 L676.5,137.3 L677.3,147.3 L678.3,147.0 L679.3,145.8 L680.3,147.1 L681.3,146.1 L682.3,145.8 L683.3,148.0 L684.3,148.3 L685.3,147.4 L686.3,148.7 L687.3,145.8 L688.3,148.7 L689.3,148.9 L690.3,147.0 L691.3,147.9 L692.3,146.7 L693.3,148.1 L694.3,146.4 L695.3,147.6 L696.3,146.6 L697.3,146.0 L698.3,148.4 L699.3,148.5 L700.3,149.4 L701.3,149.0 L702.3,146.8 L703.3,147.2 L704.3,146.4 L705.3,145.5 L706.0,147.3 L706.0,277.5 Z M718.9,277.5 L718.9,277.5 L720.4,277.5 L726.1,121.9 L727.1,120.9 L728.1,121.9 L729.1,121.1 L730.1,121.3 L731.1,121.4 L731.3,121.9 L732.0,134.6 L732.8,147.3 L733.8,148.3 L734.8,149.0 L735.8,147.2 L736.8,146.9 L737.8,147.1 L738.8,147.9 L739.8,146.9 L740.8,147.7 L741.8,148.0 L742.8,147.4 L743.8,147.5 L744.8,146.5 L745.8,147.3 L746.8,145.9 L747.8,145.6 L748.8,146.6 L749.8,146.8 L750.8,147.9 L751.8,147.3 L752.8,146.9 L753.8,145.8 L754.8,146.1 L755.8,147.0 L756.8,147.3 L757.8,148.4 L758.8,147.3 L759.8,147.4 L760.8,147.1 L761.8,147.9 L762.8,147.1 L763.8,146.4 L764.0,147.3 L764.0,277.5 Z M776.9,277.5 L776.9,277.5 L778.4,277.5 L782.7,123.6 L783.7,123.7 L784.7,122.9 L785.7,124.2 L786.7,122.7 L787.7,122.2 L788.7,122.2 L789.0,123.6 L790.0,134.7 L791.0,145.8 L792.0,144.8 L793.0,145.2 L794.0,145.4 L795.0,146.1 L796.0,145.7 L797.0,144.6 L798.0,145.5 L799.0,144.0 L800.0,146.6 L801.0,146.0 L802.0,147.1 L803.0,147.7 L804.0,146.1 L805.0,146.2 L806.0,146.4 L807.0,146.9 L808.0,146.3 L809.0,147.3 L810.0,146.4 L811.0,146.4 L812.0,147.1 L813.0,145.8 L814.0,147.4 L815.0,145.9 L816.0,145.6 L817.0,145.3 L818.0,145.5 L819.0,145.0 L820.0,145.8 L820.5,145.8 L821.5,256.4 L821.5,277.5 Z M836.4,277.5 L836.4,277.5 L837.9,277.5 L840.1,122.2 L841.1,123.2 L842.1,122.2 L843.1,122.5 L844.1,120.8 L845.1,122.6 L846.1,120.8 L847.0,122.2 L848.0,132.3 L849.0,142.4 L850.0,142.0 L851.0,142.3 L852.0,142.7 L853.0,142.6 L854.0,142.2 L855.0,142.5 L856.0,142.6 L857.0,141.0 L858.0,143.0 L859.0,143.3 L860.0,143.5 L861.0,142.2 L862.0,142.0 L863.0,141.3 L864.0,142.1 L865.0,141.0 L866.0,141.6 L867.0,141.8 L868.0,141.9 L869.0,141.2 L870.0,142.1 L871.0,142.3 L872.0,140.7 L873.0,142.0 L874.0,142.6 L875.0,142.1 L876.0,141.2 L877.0,144.1 L878.0,142.3 L879.0,141.0 L879.6,142.4 L880.6,253.0 L880.6,277.5 Z" fill="#1F78C1" fill-opacity="0.1"/>
<path d="M47.6,277.5 L49.1,277.5 L53.0,274.6 L54.0,274.6 L55.0,274.7 L56.0,274.7 L57.0,274.5 L58.0,274.6 L59.0,274.5 L60.0,274.6 L61.0,274.6 L62.0,274.6 L63.0,274.7 L64.0,274.8 L65.0,274.7 L66.0,274.6 L67.0,274.6 L68.0,274.6 L69.0,274.6 L70.0,274.6 L71.0,274.6 L72.0,274.7 L73.0,274.6 L74.0,274.5 L75.0,274.7 L76.0,274.6 L77.0,274.6 L78.0,274.7 L79.0,274.5 L80.0,274.6 L81.0,274.5 L82.0,274.6 L83.0,274.6 L84.0,274.6 L85.0,274.6 L86.0,274.6 L87.0,274.6 L88.0,274.6 L89.0,274.6 L90.0,274.6 L91.0,274.7 L91.4,274.6 M101.1,277.5 L102.6,277.5 L107.0,263.1 L108.0,263.0 L109.0,263.1 L110.0,263.2 L111.0,262.9 L112.0,263.2 L113.0,263.1 L114.0,263.0 L115.0,263.1 L116.0,263.0 L117.0,263.1 L118.0,263.0 L119.0,263.0 L120.0,263.1 L121.0,263.1 L122.0,263.1 L123.0,263.0 L124.0,263.1 L125.0,263.0 L126.0,263.1 L127.0,263.0 L128.0,263.1 L129.0,263.0 L130.0,263.1 L131.0,263.1 L132.0,263.1 L133.0,263.0 L134.0,263.1 L135.0,263.0 L136.0,263.0 L137.0,263.1 L138.0,263.1 L139.0,263.1 L140.0,263.0 L141.0,263.1 L142.0,263.1 L143.0,263.1 L144.0,263.1 L144.7,263.1 M154.7,277.5 L156.2,277.5 L160.2,248.6 L161.2,248.7 L162.2,248.7 L163.2,248.6 L164.2,248.7 L165.2,248.6 L166.2,248.7 L167.2,248.6 L168.2,248.6 L169.2,248.7 L170.2,248.6 L171.2,248.6 L172.2,248.5 L173.2,248.6 L174.2,248.7 L175.2,248.7 L176.2,248.6 L177.2,248.5 L178.2,248.6 L179.2,248.7 L180.2,248.7 L181.2,248.7 L182.2,248.7 L183.2,248.6 L184.2,248.7 L185.2,248.7 L186.2,248.5 L187.2,248.6 L188.2,248.6 L189.2,248.6 L190.2,248.6 L191.2,248.5 L192.2,248.7 L193.2,248.6 L194.2,248.7 L195.2,248.5 L196.2,248.8 L197.2,248.6 L197.9,248.6 M210.2,277.5 L211.7,277.5 L216.4,234.2 L217.4,234.2 L218.4,234.2 L219.4,234.1 L220.4,234.0 L221.4,234.3 L222.4,234.3 L223.4,234.6 L224.4,234.4 L225.4,234.5 L226.4,234.1 L227.4,234.4 L228.4,234.3 L229.4,234.1 L230.4,234.0 L231.4,233.9 L232.4,234.4 L233.4,234.1 L234.4,234.0 L235.4,234.4 L236.4,234.2 L237.4,234.4 L238.4,234.3 L239.4,234.0 L240.4,234.2 L241.4,234.3 L242.4,234.3 L243.4,233.9 L244.4,234.0 L245.4,234.4 L246.4,233.7 L247.4,234.3 L248.4,234.2 L249.4,234.3 L250.4,234.3 L251.4,234.1 L252.4,234.5 L253.3,234.2 M263.5,277.5 L265.0,277.5 L270.2,219.8 L271.2,219.7 L272.2,219.7 L273.2,219.7 L274.2,219.9 L275.2,219.7 L276.2,219.7 L277.2,219.6 L277.5,219.6 L278.3,228.4 L279.1,219.6 L280.2,219.8 L281.2,219.8 L282.2,219.4 L283.2,219.6 L284.2,219.5 L285.2,220.1 L286.2,220.1 L287.2,219.5 L288.2,219.7 L289.2,220.0 L290.2,219.5 L291.2,219.8 L292.2,219.4 L293.2,219.7 L294.2,219.5 L295.2,219.6 L296.2,219.8 L297.2,219.8 L298.2,219.3 L299.2,219.8 L300.2,219.8 L301.2,219.7 L302.2,219.6 L303.2,219.8 L304.2,219.4 L305.2,219.9 L306.2,220.3 L307.2,219.9 L307.8,219.8 L308.6,271.7 M319.9,277.5 L321.4,277.5 L327.0,205.3 L328.0,205.6 L329.0,205.4 L330.0,205.5 L331.0,205.1 L332.0,205.2 L333.0,205.5 L334.0,205.1 L335.0,205.3 L336.0,205.3 L337.0,205.1 L338.0,205.3 L339.0,205.4 L340.0,205.2 L341.0,205.7 L342.0,205.6 L343.0,205.2 L344.0,205.1 L345.0,205.7 L346.0,205.3 L347.0,205.4 L348.0,205.4 L349.0,205.2 L350.0,205.0 L351.0,205.0 L352.0,205.1 L353.0,205.2 L354.0,205.3 L355.0,205.7 L356.0,205.2 L357.0,205.6 L358.0,205.5 L359.0,205.3 L360.0,205.6 L361.0,205.0 L362.0,205.2 L363.0,205.2 L364.0,205.2 L364.5,205.3 M374.8,277.5 L376.3,277.5 L381.1,190.9 L382.1,190.5 L383.1,190.8 L384.1,190.9 L385.1,190.8 L386.1,190.5 L387.1,190.8 L388.3,191.2 L389.3,199.5 L390.3,191.2 L391.1,190.9 L392.1,190.9 L393.1,190.7 L394.1,190.8 L395.1,190.8 L396.1,191.0 L397.1,191.0 L398.1,190.8 L399.1,190.7 L400.1,191.0 L401.1,190.8 L402.1,191.1 L403.1,191.0 L404.1,191.0 L405.1,190.7 L406.1,190.6 L407.1,190.8 L408.1,190.8 L409.1,190.7 L410.1,190.5 L411.1,190.9 L412.1,191.0 L413.1,191.0 L414.1,191.3 L415.1,191.0 L416.1,190.7 L417.1,190.7 L418.1,190.9 L418.8,190.9 M429.0,277.5 L430.5,277.5 L436.5,176.4 L437.5,176.6 L438.5,176.4 L439.5,176.5 L440.5,176.5 L441.5,176.3 L442.5,176.4 L443.5,176.8 L444.5,176.6 L445.5,176.9 L446.5,176.4 L447.5,176.3 L448.5,176.2 L449.5,176.7 L450.5,176.0 L451.5,176.1 L452.5,176.5 L453.5,176.8 L454.5,176.6 L455.5,176.2 L456.5,176.0 L457.5,176.5 L458.5,176.8 L459.5,176.6 L460.5,176.1 L461.5,176.4 L462.5,176.7 L463.5,176.9 L464.5,176.3 L465.5,176.3 L466.5,176.5 L467.5,176.5 L468.5,176.4 L469.5,176.5 L470.5,176.6 L471.5,176.6 L472.5,176.6 L473.5,176.2 L474.5,176.4 L474.7,176.4 M484.8,277.5 L486.3,277.5 L492.0,162.0 L493.0,161.8 L494.0,161.8 L495.0,162.0 L496.0,162.2 L497.0,161.8 L498.0,161.9 L499.0,161.6 L500.0,161.9 L501.0,161.8 L502.0,162.0 L503.0,162.0 L504.0,162.0 L505.0,162.0 L506.0,162.1 L507.0,161.9 L508.0,161.7 L509.0,162.0 L510.0,161.7 L511.0,161.9 L512.0,162.0 L513.0,161.8 L514.0,162.1 L515.0,162.4 L516.0,161.8 L517.0,162.1 L518.0,162.1 L519.0,161.8 L520.0,162.1 L521.0,161.7 L522.0,162.3 L523.0,161.9 L524.0,161.8 L525.0,161.7 L526.0,161.9 L527.0,162.0 L528.0,162.1 L529.0,162.0 M542.3,277.5 L543.8,277.5 L548.5,147.6 L549.5,147.6 L550.5,147.6 L551.5,147.6 L552.5,147.6 L553.5,147.6 L554.5,147.6 L555.5,147.6 L556.3,147.6 L557.0,152.2 L557.8,156.8 L558.3,157.1 L558.8,157.2 L559.3,156.6 L559.8,156.9 L560.3,157.7 L560.8,157.7 L561.3,158.5 L561.8,156.5 L562.3,156.7 L562.8,156.0 L563.3,156.6 L563.8,156.3 L564.3,157.8 L564.8,158.2 L565.3,157.2 L565.8,157.0 L566.3,156.5 L566.8,156.9 L567.3,156.9 L567.8,156.8 L568.3,156.6 L568.8,156.7 L569.3,156.6 L569.8,157.2 L570.3,156.9 L570.8,157.9 L571.3,157.6 L571.8,157.0 L572.3,156.5 L572.8,157.4 L573.3,157.8 L573.8,156.1 L574.3,157.4 L574.8,158.1 L575.3,157.5 L575.8,157.7 L576.3,158.6 L576.8,157.1 L577.3,155.6 L577.8,157.3 L578.3,157.4 L578.8,156.0 L579.3,156.7 L579.8,156.9 L580.3,155.8 L580.8,157.7 L581.3,156.9 L581.8,156.4 L582.3,156.7 L582.8,157.7 L583.3,157.5 L583.8,155.5 L584.3,156.9 L584.8,157.0 L585.3,156.0 L585.8,158.1 L586.3,156.8 L586.5,156.8 M602.7,277.5 L604.2,277.5 L608.8,133.1 L609.8,133.1 L610.8,133.1 L611.8,133.1 L612.8,133.1 L613.8,133.1 L614.8,133.1 L615.5,141.6 L616.3,150.2 L616.7,149.1 L617.1,150.7 L617.5,151.1 L617.9,149.5 L618.3,152.7 L618.7,147.0 L619.1,149.2 L619.5,149.9 L619.9,148.8 L620.3,149.4 L620.7,149.8 L621.1,149.7 L621.5,151.4 L621.9,149.5 L622.3,150.1 L622.7,151.3 L623.1,150.4 L623.5,149.2 L623.9,149.6 L624.3,150.6 L624.7,148.1 L625.1,150.0 L625.5,150.7 L625.9,150.1 L626.3,148.8 L626.7,148.6 L627.1,150.2 L627.5,150.5 L627.9,150.5 L628.3,150.8 L628.7,151.5 L629.1,149.7 L629.5,147.9 L629.9,149.4 L630.3,150.4 L630.7,149.7 L631.1,150.1 L631.5,150.6 L631.9,148.7 L632.3,149.8 L632.7,152.3 L633.1,149.8 L633.5,150.0 L633.9,150.8 L634.3,148.8 L634.7,149.8 L635.1,151.0 L635.5,150.0 L635.9,149.6 L636.3,150.5 L636.7,150.4 L637.1,150.5 L637.5,148.0 L637.9,151.3 L638.3,150.8 L638.7,150.8 L639.1,150.5 L639.5,152.3 L639.9,150.1 L640.3,150.4 L640.7,150.7 L641.1,150.2 L641.5,152.5 L641.9,150.9 L642.3,149.7 L642.7,150.7 L643.1,151.0 L643.5,150.4 L643.9,149.3 L644.3,148.7 L644.7,150.1 L645.1,151.1 L645.5,151.5 L645.9,149.4 L646.3,150.3 L646.7,151.3 L647.1,149.8 L647.5,149.9 L647.5,150.2 M664.6,277.5 L666.1,277.5 L670.5,127.3 L671.5,126.8 L672.5,128.2 L673.5,128.2 L674.5,128.4 L675.5,128.1 L675.8,127.3 L676.5,137.3 L677.3,147.3 L678.3,147.0 L679.3,145.8 L680.3,147.1 L681.3,146.1 L682.3,145.8 L683.3,148.0 L684.3,148.3 L685.3,147.4 L686.3,148.7 L687.3,145.8 L688.3,148.7 L689.3,148.9 L690.3,147.0 L691.3,147.9 L692.3,146.7 L693.3,148.1 L694.3,146.4 L695.3,147.6 L696.3,146.6 L697.3,146.0 L698.3,148.4 L699.3,148.5 L700.3,149.4 L701.3,149.0 L702.3,146.8 L703.3,147.2 L704.3,146.4 L705.3,145.5 L706.0,147.3 M718.9,277.5 L720.4,277.5 L726.1,121.9 L727.1,120.9 L728.1,121.9 L729.1,121.1 L730.1,121.3 L731.1,121.4 L731.3,121.9 L732.0,134.6 L732.8,147.3 L733.8,148.3 L734.8,149.0 L735.8,147.2 L736.8,146.9 L737.8,147.1 L738.8,147.9 L739.8,146.9 L740.8,147.7 L741.8,148.0 L742.8,147.4 L743.8,147.5 L744.8,146.5 L745.8,147.3 L746.8,145.9 L747.8,145.6 L748.8,146.6 L749.8,146.8 L750.8,147.9 L751.8,147.3 L752.8,146.9 L753.8,145.8 L754.8,146.1 L755.8,147.0 L756.8,147.3 L757.8,148.4 L758.8,147.3 L759.8,147.4 L760.8,147.1 L761.8,147.9 L762.8,147.1 L763.8,146.4 L764.0,147.3 M776.9,277.5 L778.4,277.5 L782.7,123.6 L783.7,123.7 L784.7,122.9 L785.7,124.2 L786.7,122.7 L787.7,122.2 L788.7,122.2 L789.0,123.6 L790.0,134.7 L791.0,145.8 L792.0,144.8 L793.0,145.2 L794.0,145.4 L795.0,146.1 L796.0,145.7 L797.0,144.6 L798.0,145.5 L799.0,144.0 L800.0,146.6 L801.0,146.0 L802.0,147.1 L803.0,147.7 L804.0,146.1 L805.0,146.2 L806.0,146.4 L807.0,146.9 L808.0,146.3 L809.0,147.3 L810.0,146.4 L811.0,146.4 L812.0,147.1 L813.0,145.8 L814.0,147.4 L815.0,145.9 L816.0,145.6 L817.0,145.3 L818.0,145.5 L819.0,145.0 L820.0,145.8 L820.5,145.8 L821.5,256.4 M836.4,277.5 L837.9,277.5 L840.1,122.2 L841.1,123.2 L842.1,122.2 L843.1,122.5 L844.1,120.8 L845.1,122.6 L846.1,120.8 L847.0,122.2 L848.0,132.3 L849.0,142.4 L850.0,142.0 L851.0,142.3 L852.0,142.7 L853.0,142.6 L854.0,142.2 L855.0,142.5 L856.0,142.6 L857.0,141.0 L858.0,143.0 L859.0,143.3 L860.0,143.5 L861.0,142.2 L862.0,142.0 L863.0,141.3 L864.0,142.1 L865.0,141.0 L866.0,141.6 L867.0,141.8 L868.0,141.9 L869.0,141.2 L870.0,142.1 L871.0,142.3 L872.0,140.7 L873.0,142.0 L874.0,142.6 L875.0,142.1 L876.0,141.2 L877.0,144.1 L878.0,142.3 L879.0,141.0 L879.6,142.4 L880.6,253.0" fill="none" stroke="#1F78C1" stroke-width="2" stroke-linejoin="round"/>
<path d="M46.8,277.5 L46.8,277.5 L49.3,277.5 L53.0,274.6 L54.0,274.6 L55.0,274.6 L56.0,274.6 L57.0,274.6 L58.0,274.6 L59.0,274.6 L60.0,274.6 L61.0,274.6 L62.0,274.6 L63.0,274.6 L64.0,274.6 L65.0,274.6 L66.0,274.6 L67.0,274.6 L68.0,274.6 L69.0,274.6 L70.0,274.6 L71.0,274.6 L72.0,274.6 L73.0,274.6 L74.0,274.6 L75.0,274.6 L76.0,274.6 L77.0,274.6 L78.0,274.6 L79.0,274.6 L80.0,274.6 L81.0,274.6 L82.0,274.6 L83.0,274.6 L84.0,274.6 L85.0,274.6 L86.0,274.6 L87.0,274.6 L88.0,274.6 L89.0,274.6 L90.0,274.6 L91.0,274.6 L91.4,274.6 L92.4,276.1 L92.4,277.5 Z M100.7,277.5 L100.7,277.5 L103.2,277.5 L107.0,263.1 L108.0,263.1 L109.0,263.1 L110.0,263.1 L111.0,263.1 L112.0,263.1 L113.0,263.1 L114.0,263.1 L115.0,263.1 L116.0,263.1 L117.0,263.1 L118.0,263.1 L119.0,263.1 L120.0,263.1 L121.0,263.1 L122.0,263.1 L123.0,263.1 L124.0,263.1 L125.0,263.1 L126.0,263.1 L127.0,263.1 L128.0,263.1 L129.0,263.1 L130.0,263.1 L131.0,263.1 L132.0,263.1 L133.0,263.1 L134.0,263.1 L135.0,263.1 L136.0,263.1 L137.0,263.1 L138.0,263.1 L139.0,263.1 L140.0,263.1 L141.0,263.1 L142.0,263.1 L143.0,263.1 L144.0,263.1 L144.7,263.1 L145.8,274.6 L145.8,277.5 Z M154.1,277.5 L154.1,277.5 L156.6,277.5 L160.2,248.6 L161.2,248.6 L162.2,248.6 L163.2,248.6 L164.2,248.6 L165.2,248.6 L166.2,248.6 L167.2,248.6 L168.2,248.6 L169.2,248.6 L170.2,248.6 L171.2,248.6 L172.2,248.6 L173.2,248.6 L174.2,248.6 L175.2,248.6 L176.2,248.6 L177.2,248.6 L178.2,248.6 L179.2,248.6 L180.2,248.6 L181.2,248.6 L182.2,248.6 L183.2,248.6 L184.2,248.6 L185.2,248.6 L186.2,248.6 L187.2,248.6 L188.2,248.6 L189.2,248.6 L190.2,248.6 L191.2,248.6 L192.2,248.6 L193.2,248.6 L194.2,248.6 L195.2,248.6 L196.2,248.6 L197.2,248.6 L197.9,248.6 L197.9,277.5 Z M209.3,277.5 L209.3,277.5 L211.8,277.5 L216.4,234.2 L217.4,234.2 L218.4,234.2 L219.4,234.2 L220.4,234.2 L221.4,234.2 L222.4,234.2 L223.4,234.2 L224.4,234.2 L225.4,234.2 L226.4,234.2 L227.4,234.2 L228.4,234.2 L229.4,234.2 L230.4,234.2 L231.4,234.2 L232.4,234.2 L233.4,234.2 L234.4,234.2 L235.4,234.2 L236.4,234.2 L237.4,234.2 L238.4,234.2 L239.4,234.2 L240.4,234.2 L241.4,234.2 L242.4,234.2 L243.4,234.2 L244.4,234.2 L245.4,234.2 L246.4,234.2 L247.4,234.2 L248.4,234.2 L249.4,234.2 L250.4,234.2 L251.4,234.2 L252.4,234.2 L253.3,234.2 L253.3,277.5 Z M263.3,277.5 L263.3,277.5 L265.8,277.5 L270.2,219.8 L271.2,219.8 L272.2,219.8 L273.2,219.8 L274.2,219.8 L275.2,219.8 L276.2,219.8 L277.2,219.8 L278.2,219.8 L279.2,219.8 L280.2,219.8 L281.2,219.8 L282.2,219.8 L283.2,219.8 L284.2,219.8 L285.2,219.8 L286.2,219.8 L287.2,219.8 L288.2,219.8 L289.2,219.8 L290.2,219.8 L291.2,219.8 L292.2,219.8 L293.2,219.8 L294.2,219.8 L295.2,219.8 L296.2,219.8 L297.2,219.8 L298.2,219.8 L299.2,219.8 L300.2,219.8 L301.2,219.8 L302.2,219.8 L303.2,219.8 L304.2,219.8 L305.2,219.8 L306.2,219.8 L307.2,219.8 L307.8,219.8 L307.8,277.5 Z M319.3,277.5 L319.3,277.5 L321.8,277.5 L327.0,205.3 L328.0,205.3 L329.0,205.3 L330.0,205.3 L331.0,205.3 L332.0,205.3 L333.0,205.3 L334.0,205.3 L335.0,205.3 L336.0,205.3 L337.0,205.3 L338.0,205.3 L339.0,205.3 L340.0,205.3 L341.0,205.3 L342.0,205.3 L343.0,205.3 L344.0,205.3 L345.0,205.3 L346.0,205.3 L347.0,205.3 L348.0,205.3 L349.0,205.3 L350.0,205.3 L351.0,205.3 L352.0,205.3 L353.0,205.3 L354.0,205.3 L355.0,205.3 L356.0,205.3 L357.0,205.3 L358.0,205.3 L359.0,205.3 L360.0,205.3 L361.0,205.3 L362.0,205.3 L363.0,205.3 L364.0,205.3 L364.5,205.3 L364.5,277.5 Z M373.8,277.5 L373.8,277.5 L376.3,277.5 L381.1,190.9 L382.1,190.9 L383.1,190.9 L384.1,190.9 L385.1,190.9 L386.1,190.9 L387.1,190.9 L388.1,190.9 L388.5,190.9 L389.5,197.8 L390.5,190.9 L391.1,190.9 L392.1,190.9 L393.1,190.9 L394.1,190.9 L395.1,190.9 L396.1,190.9 L397.1,190.9 L398.1,190.9 L399.1,190.9 L400.1,190.9 L401.1,190.9 L402.1,190.9 L403.1,190.9 L404.1,190.9 L405.1,190.9 L406.1,190.9 L407.1,190.9 L408.1,190.9 L409.1,190.9 L410.1,190.9 L411.1,190.9 L412.1,190.9 L413.1,190.9 L414.1,190.9 L415.1,190.9 L416.1,190.9 L417.1,190.9 L418.1,190.9 L418.8,190.9 L420.0,263.1 L420.0,277.5 Z M428.7,277.5 L428.7,277.5 L431.2,277.5 L436.5,176.4 L437.5,176.4 L438.5,176.4 L439.5,176.4 L440.5,176.4 L441.5,176.4 L442.5,176.4 L443.5,176.4 L444.5,176.4 L445.5,176.4 L446.5,176.4 L447.5,176.4 L448.5,176.4 L449.5,176.4 L450.5,176.4 L451.5,176.4 L452.5,176.4 L453.5,176.4 L454.5,176.4 L455.5,176.4 L456.5,176.4 L457.5,176.4 L458.5,176.4 L459.5,176.4 L460.5,176.4 L461.5,176.4 L462.5,176.4 L463.5,176.4 L464.5,176.4 L465.5,176.4 L466.5,176.4 L467.5,176.4 L468.5,176.4 L469.5,176.4 L470.5,176.4 L471.5,176.4 L472.5,176.4 L473.5,176.4 L474.5,176.4 L474.7,176.4 L475.6,263.9 L475.6,277.5 Z M484.7,277.5 L484.7,277.5 L487.2,277.5 L492.0,162.0 L493.0,162.0 L494.0,162.0 L495.0,162.0 L496.0,162.0 L497.0,162.0 L498.0,162.0 L499.0,162.0 L500.0,162.0 L501.0,162.0 L502.0,162.0 L503.0,162.0 L504.0,162.0 L505.0,162.0 L506.0,162.0 L507.0,162.0 L508.0,162.0 L509.0,162.0 L510.0,162.0 L511.0,162.0 L512.0,162.0 L513.0,162.0 L514.0,162.0 L515.0,162.0 L516.0,162.0 L517.0,162.0 L518.0,162.0 L519.0,162.0 L520.0,162.0 L521.0,162.0 L522.0,162.0 L523.0,162.0 L524.0,162.0 L525.0,162.0 L526.0,162.0 L527.0,162.0 L528.0,162.0 L529.0,162.0 L529.0,277.5 Z M544.3,277.5 L544.3,277.5 L546.8,277.5 L551.5,147.6 L552.5,147.6 L553.5,147.6 L554.5,147.6 L555.5,147.6 L556.5,147.6 L557.5,147.6 L558.5,147.6 L559.5,147.6 L560.5,147.6 L561.5,147.6 L562.5,147.6 L563.5,147.6 L564.5,147.6 L565.5,147.6 L566.5,147.6 L567.5,147.6 L568.5,147.6 L569.5,147.6 L570.5,147.6 L571.5,147.6 L572.5,147.6 L573.5,147.6 L574.5,147.6 L575.5,147.6 L576.5,147.6 L577.5,147.6 L578.5,147.6 L579.5,147.6 L580.5,147.6 L581.5,147.6 L582.5,147.6 L583.5,147.6 L584.5,147.6 L585.5,147.6 L586.5,147.6 L587.5,147.6 L588.5,147.6 L589.0,147.6 L589.8,165.2 L589.8,277.5 Z M600.6,277.5 L600.6,277.5 L609.2,277.5 L613.4,133.1 L614.4,133.1 L615.4,133.1 L616.4,133.1 L617.4,133.1 L618.4,133.1 L619.4,133.1 L620.4,133.1 L621.4,133.1 L622.4,133.1 L623.4,133.1 L624.4,133.1 L625.4,133.1 L626.4,133.1 L627.4,133.1 L628.4,133.1 L629.4,133.1 L630.4,133.1 L631.4,133.1 L632.4,133.1 L633.4,133.1 L634.4,133.1 L635.4,133.1 L636.4,133.1 L637.4,133.1 L638.4,133.1 L639.4,133.1 L640.4,133.1 L641.4,133.1 L642.4,133.1 L643.4,133.1 L644.4,133.1 L645.4,133.1 L646.4,133.1 L647.4,133.1 L648.4,133.1 L649.4,133.1 L650.4,133.1 L650.5,133.1 L651.2,227.8 L651.2,277.5 Z M660.8,277.5 L660.8,277.5 L666.3,277.5 L670.8,118.7 L671.8,118.7 L672.8,118.7 L673.8,118.7 L674.8,118.7 L675.8,118.7 L676.5,122.2 L677.3,125.6 L677.9,124.4 L678.5,128.3 L679.1,125.7 L679.7,125.0 L680.3,125.1 L680.9,124.8 L681.5,123.2 L682.1,127.1 L682.7,126.4 L683.3,125.6 L683.9,126.2 L684.5,124.9 L685.1,126.8 L685.7,127.4 L686.3,125.6 L686.9,127.0 L687.5,127.2 L688.1,125.4 L688.7,126.6 L689.3,124.7 L689.9,126.3 L690.5,127.6 L691.1,126.6 L691.7,124.2 L692.3,125.2 L692.9,125.3 L693.5,126.5 L694.1,124.9 L694.7,125.0 L695.3,125.5 L695.9,128.4 L696.5,124.5 L697.1,125.3 L697.7,125.9 L698.3,126.1 L698.9,124.5 L699.5,125.8 L700.1,125.0 L700.7,127.6 L701.3,127.2 L701.9,126.4 L702.5,125.1 L703.1,125.4 L703.7,125.5 L704.3,125.5 L704.9,126.5 L705.5,126.1 L706.0,125.6 L706.0,277.5 Z M717.2,277.5 L717.2,277.5 L721.3,277.5 L726.7,108.3 L727.7,111.8 L728.7,107.2 L729.7,107.6 L730.7,109.7 L731.3,108.3 L732.3,113.1 L733.3,117.8 L733.7,114.6 L734.1,118.0 L734.5,119.5 L734.9,119.6 L735.3,117.3 L735.7,121.4 L736.1,117.2 L736.5,118.1 L736.9,114.1 L737.3,115.4 L737.7,119.1 L738.1,113.2 L738.5,119.0 L738.9,114.9 L739.3,112.3 L739.7,116.7 L740.1,114.3 L740.5,116.6 L740.9,116.6 L741.3,121.4 L741.7,116.4 L742.1,118.4 L742.5,119.1 L742.9,114.6 L743.3,120.2 L743.7,118.5 L744.1,117.9 L744.5,118.2 L744.9,116.2 L745.3,122.0 L745.7,115.5 L746.1,120.9 L746.5,119.9 L746.9,116.5 L747.3,117.2 L747.7,118.0 L748.1,119.7 L748.5,117.7 L748.9,117.1 L749.3,115.8 L749.7,117.2 L750.1,119.8 L750.5,118.4 L750.9,119.4 L751.3,118.5 L751.7,114.8 L752.1,117.5 L752.5,119.0 L752.9,115.8 L753.3,119.0 L753.7,116.7 L754.1,116.2 L754.5,117.3 L754.9,118.1 L755.3,116.9 L755.7,115.5 L756.1,117.4 L756.5,113.7 L756.9,117.3 L757.3,119.2 L757.7,116.1 L758.1,118.3 L758.5,117.9 L758.9,115.0 L759.3,115.7 L759.7,120.0 L760.1,118.6 L760.5,119.7 L760.9,115.0 L761.3,121.4 L761.7,117.9 L762.1,115.6 L762.5,121.5 L762.9,118.3 L763.3,120.8 L763.7,120.2 L764.1,117.2 L764.4,117.8 L765.0,164.6 L765.0,277.5 Z M772.8,277.5 L772.8,277.5 L779.3,277.5 L783.3,101.4 L784.3,103.8 L785.3,102.7 L786.3,99.4 L787.3,105.5 L788.3,97.7 L789.0,101.4 L790.2,111.0 L791.5,120.7 L791.9,119.5 L792.3,123.0 L792.7,122.8 L793.1,120.1 L793.5,121.1 L793.9,122.9 L794.3,120.4 L794.7,119.4 L795.1,121.2 L795.5,121.9 L795.9,121.2 L796.3,120.6 L796.7,123.4 L797.1,120.9 L797.5,122.7 L797.9,120.5 L798.3,120.9 L798.7,120.1 L799.1,117.0 L799.5,117.8 L799.9,123.5 L800.3,120.9 L800.7,119.8 L801.1,121.7 L801.5,124.3 L801.9,115.7 L802.3,118.7 L802.7,121.3 L803.1,120.8 L803.5,122.8 L803.9,120.4 L804.3,116.9 L804.7,117.8 L805.1,119.6 L805.5,121.2 L805.9,122.4 L806.3,120.1 L806.7,121.2 L807.1,121.7 L807.5,121.9 L807.9,118.7 L808.3,123.1 L808.7,120.3 L809.1,125.2 L809.5,123.8 L809.9,116.1 L810.3,122.8 L810.7,119.9 L811.1,122.2 L811.5,120.6 L811.9,118.1 L812.3,122.7 L812.7,123.2 L813.1,124.9 L813.5,114.9 L813.9,120.9 L814.3,120.3 L814.7,119.4 L815.1,119.9 L815.5,121.2 L815.9,125.1 L816.3,119.1 L816.7,120.3 L817.1,120.5 L817.5,116.7 L817.9,119.3 L818.3,121.8 L818.7,115.9 L819.1,117.1 L819.5,117.1 L819.9,121.4 L820.3,124.5 L820.5,120.7 L821.5,248.6 L821.5,277.5 Z M832.0,277.5 L832.0,277.5 L838.3,277.5 L840.6,95.3 L841.6,94.8 L842.6,95.1 L843.6,97.5 L844.6,95.6 L845.6,93.0 L846.6,96.2 L847.0,95.3 L847.9,97.6 L848.8,103.2 L849.6,108.9 L850.5,111.2 L850.9,112.9 L851.3,112.2 L851.7,112.4 L852.1,110.4 L852.5,111.9 L852.9,111.0 L853.3,107.0 L853.7,107.7 L854.1,113.1 L854.5,109.9 L854.9,114.9 L855.3,110.9 L855.7,114.1 L856.1,109.3 L856.5,110.7 L856.9,110.2 L857.3,115.2 L857.7,111.5 L858.1,112.0 L858.5,112.5 L858.9,114.4 L859.3,107.8 L859.7,115.9 L860.1,115.0 L860.5,111.5 L860.9,113.9 L861.3,114.9 L861.7,114.3 L862.1,110.5 L862.5,108.9 L862.9,110.9 L863.3,113.2 L863.7,116.0 L864.1,113.9 L864.5,112.4 L864.9,115.5 L865.3,111.9 L865.7,113.7 L866.1,113.1 L866.5,111.0 L866.9,112.9 L867.3,112.9 L867.7,111.7 L868.1,112.7 L868.5,111.2 L868.9,114.5 L869.3,117.1 L869.7,113.4 L870.1,113.6 L870.5,111.5 L870.9,115.2 L871.3,113.6 L871.7,115.9 L872.1,114.4 L872.5,112.1 L872.9,111.0 L873.3,112.3 L873.7,110.9 L874.1,112.6 L874.5,111.3 L874.9,115.1 L875.3,116.4 L875.7,115.8 L876.1,110.4 L876.5,114.7 L876.9,111.8 L877.3,114.0 L877.7,111.3 L878.1,113.7 L878.5,116.4 L878.9,116.9 L879.3,115.4 L879.6,114.1 L880.6,247.2 L880.6,277.5 Z" fill="#BA43A9" fill-opacity="0.1"/>
<path d="M46.8,277.5 L49.3,277.5 L53.0,274.6 L54.0,274.6 L55.0,274.6 L56.0,274.6 L57.0,274.6 L58.0,274.6 L59.0,274.6 L60.0,274.6 L61.0,274.6 L62.0,274.6 L63.0,274.6 L64.0,274.6 L65.0,274.6 L66.0,274.6 L67.0,274.6 L68.0,274.6 L69.0,274.6 L70.0,274.6 L71.0,274.6 L72.0,274.6 L73.0,274.6 L74.0,274.6 L75.0,274.6 L76.0,274.6 L77.0,274.6 L78.0,274.6 L79.0,274.6 L80.0,274.6 L81.0,274.6 L82.0,274.6 L83.0,274.6 L84.0,274.6 L85.0,274.6 L86.0,274.6 L87.0,274.6 L88.0,274.6 L89.0,274.6 L90.0,274.6 L91.0,274.6 L91.4,274.6 L92.4,276.1 M100.7,277.5 L103.2,277.5 L107.0,263.1 L108.0,263.1 L109.0,263.1 L110.0,263.1 L111.0,263.1 L112.0,263.1 L113.0,263.1 L114.0,263.1 L115.0,263.1 L116.0,263.1 L117.0,263.1 L118.0,263.1 L119.0,263.1 L120.0,263.1 L121.0,263.1 L122.0,263.1 L123.0,263.1 L124.0,263.1 L125.0,263.1 L126.0,263.1 L127.0,263.1 L128.0,263.1 L129.0,263.1 L130.0,263.1 L131.0,263.1 L132.0,263.1 L133.0,263.1 L134.0,263.1 L135.0,263.1 L136.0,263.1 L137.0,263.1 L138.0,263.1 L139.0,263.1 L140.0,263.1 L141.0,263.1 L142.0,263.1 L143.0,263.1 L144.0,263.1 L144.7,263.1 L145.8,274.6 M154.1,277.5 L156.6,277.5 L160.2,248.6 L161.2,248.6 L162.2,248.6 L163.2,248.6 L164.2,248.6 L165.2,248.6 L166.2,248.6 L167.2,248.6 L168.2,248.6 L169.2,248.6 L170.2,248.6 L171.2,248.6 L172.2,248.6 L173.2,248.6 L174.2,248.6 L175.2,248.6 L176.2,248.6 L177.2,248.6 L178.2,248.6 L179.2,248.6 L180.2,248.6 L181.2,248.6 L182.2,248.6 L183.2,248.6 L184.2,248.6 L185.2,248.6 L186.2,248.6 L187.2,248.6 L188.2,248.6 L189.2,248.6 L190.2,248.6 L191.2,248.6 L192.2,248.6 L193.2,248.6 L194.2,248.6 L195.2,248.6 L196.2,248.6 L197.2,248.6 L197.9,248.6 M209.3,277.5 L211.8,277.5 L216.4,234.2 L217.4,234.2 L218.4,234.2 L219.4,234.2 L220.4,234.2 L221.4,234.2 L222.4,234.2 L223.4,234.2 L224.4,234.2 L225.4,234.2 L226.4,234.2 L227.4,234.2 L228.4,234.2 L229.4,234.2 L230.4,234.2 L231.4,234.2 L232.4,234.2 L233.4,234.2 L234.4,234.2 L235.4,234.2 L236.4,234.2 L237.4,234.2 L238.4,234.2 L239.4,234.2 L240.4,234.2 L241.4,234.2 L242.4,234.2 L243.4,234.2 L244.4,234.2 L245.4,234.2 L246.4,234.2 L247.4,234.2 L248.4,234.2 L249.4,234.2 L250.4,234.2 L251.4,234.2 L252.4,234.2 L253.3,234.2 M263.3,277.5 L265.8,277.5 L270.2,219.8 L271.2,219.8 L272.2,219.8 L273.2,219.8 L274.2,219.8 L275.2,219.8 L276.2,219.8 L277.2,219.8 L278.2,219.8 L279.2,219.8 L280.2,219.8 L281.2,219.8 L282.2,219.8 L283.2,219.8 L284.2,219.8 L285.2,219.8 L286.2,219.8 L287.2,219.8 L288.2,219.8 L289.2,219.8 L290.2,219.8 L291.2,219.8 L292.2,219.8 L293.2,219.8 L294.2,219.8 L295.2,219.8 L296.2,219.8 L297.2,219.8 L298.2,219.8 L299.2,219.8 L300.2,219.8 L301.2,219.8 L302.2,219.8 L303.2,219.8 L304.2,219.8 L305.2,219.8 L306.2,219.8 L307.2,219.8 L307.8,219.8 M319.3,277.5 L321.8,277.5 L327.0,205.3 L328.0,205.3 L329.0,205.3 L330.0,205.3 L331.0,205.3 L332.0,205.3 L333.0,205.3 L334.0,205.3 L335.0,205.3 L336.0,205.3 L337.0,205.3 L338.0,205.3 L339.0,205.3 L340.0,205.3 L341.0,205.3 L342.0,205.3 L343.0,205.3 L344.0,205.3 L345.0,205.3 L346.0,205.3 L347.0,205.3 L348.0,205.3 L349.0,205.3 L350.0,205.3 L351.0,205.3 L352.0,205.3 L353.0,205.3 L354.0,205.3 L355.0,205.3 L356.0,205.3 L357.0,205.3 L358.0,205.3 L359.0,205.3 L360.0,205.3 L361.0,205.3 L362.0,205.3 L363.0,205.3 L364.0,205.3 L364.5,205.3 M373.8,277.5 L376.3,277.5 L381.1,190.9 L382.1,190.9 L383.1,190.9 L384.1,190.9 L385.1,190.9 L386.1,190.9 L387.1,190.9 L388.1,190.9 L388.5,190.9 L389.5,197.8 L390.5,190.9 L391.1,190.9 L392.1,190.9 L393.1,190.9 L394.1,190.9 L395.1,190.9 L396.1,190.9 L397.1,190.9 L398.1,190.9 L399.1,190.9 L400.1,190.9 L401.1,190.9 L402.1,190.9 L403.1,190.9 L404.1,190.9 L405.1,190.9 L406.1,190.9 L407.1,190.9 L408.1,190.9 L409.1,190.9 L410.1,190.9 L411.1,190.9 L412.1,190.9 L413.1,190.9 L414.1,190.9 L415.1,190.9 L416.1,190.9 L417.1,190.9 L418.1,190.9 L418.8,190.9 L420.0,263.1 M428.7,277.5 L431.2,277.5 L436.5,176.4 L437.5,176.4 L438.5,176.4 L439.5,176.4 L440.5,176.4 L441.5,176.4 L442.5,176.4 L443.5,176.4 L444.5,176.4 L445.5,176.4 L446.5,176.4 L447.5,176.4 L448.5,176.4 L449.5,176.4 L450.5,176.4 L451.5,176.4 L452.5,176.4 L453.5,176.4 L454.5,176.4 L455.5,176.4 L456.5,176.4 L457.5,176.4 L458.5,176.4 L459.5,176.4 L460.5,176.4 L461.5,176.4 L462.5,176.4 L463.5,176.4 L464.5,176.4 L465.5,176.4 L466.5,176.4 L467.5,176.4 L468.5,176.4 L469.5,176.4 L470.5,176.4 L471.5,176.4 L472.5,176.4 L473.5,176.4 L474.5,176.4 L474.7,176.4 L475.6,263.9 M484.7,277.5 L487.2,277.5 L492.0,162.0 L493.0,162.0 L494.0,162.0 L495.0,162.0 L496.0,162.0 L497.0,162.0 L498.0,162.0 L499.0,162.0 L500.0,162.0 L501.0,162.0 L502.0,162.0 L503.0,162.0 L504.0,162.0 L505.0,162.0 L506.0,162.0 L507.0,162.0 L508.0,162.0 L509.0,162.0 L510.0,162.0 L511.0,162.0 L512.0,162.0 L513.0,162.0 L514.0,162.0 L515.0,162.0 L516.0,162.0 L517.0,162.0 L518.0,162.0 L519.0,162.0 L520.0,162.0 L521.0,162.0 L522.0,162.0 L523.0,162.0 L524.0,162.0 L525.0,162.0 L526.0,162.0 L527.0,162.0 L528.0,162.0 L529.0,162.0 M544.3,277.5 L546.8,277.5 L551.5,147.6 L552.5,147.6 L553.5,147.6 L554.5,147.6 L555.5,147.6 L556.5,147.6 L557.5,147.6 L558.5,147.6 L559.5,147.6 L560.5,147.6 L561.5,147.6 L562.5,147.6 L563.5,147.6 L564.5,147.6 L565.5,147.6 L566.5,147.6 L567.5,147.6 L568.5,147.6 L569.5,147.6 L570.5,147.6 L571.5,147.6 L572.5,147.6 L573.5,147.6 L574.5,147.6 L575.5,147.6 L576.5,147.6 L577.5,147.6 L578.5,147.6 L579.5,147.6 L580.5,147.6 L581.5,147.6 L582.5,147.6 L583.5,147.6 L584.5,147.6 L585.5,147.6 L586.5,147.6 L587.5,147.6 L588.5,147.6 L589.0,147.6 L589.8,165.2 M600.6,277.5 L609.2,277.5 L613.4,133.1 L614.4,133.1 L615.4,133.1 L616.4,133.1 L617.4,133.1 L618.4,133.1 L619.4,133.1 L620.4,133.1 L621.4,133.1 L622.4,133.1 L623.4,133.1 L624.4,133.1 L625.4,133.1 L626.4,133.1 L627.4,133.1 L628.4,133.1 L629.4,133.1 L630.4,133.1 L631.4,133.1 L632.4,133.1 L633.4,133.1 L634.4,133.1 L635.4,133.1 L636.4,133.1 L637.4,133.1 L638.4,133.1 L639.4,133.1 L640.4,133.1 L641.4,133.1 L642.4,133.1 L643.4,133.1 L644.4,133.1 L645.4,133.1 L646.4,133.1 L647.4,133.1 L648.4,133.1 L649.4,133.1 L650.4,133.1 L650.5,133.1 L651.2,227.8 M660.8,277.5 L666.3,277.5 L670.8,118.7 L671.8,118.7 L672.8,118.7 L673.8,118.7 L674.8,118.7 L675.8,118.7 L676.5,122.2 L677.3,125.6 L677.9,124.4 L678.5,128.3 L679.1,125.7 L679.7,125.0 L680.3,125.1 L680.9,124.8 L681.5,123.2 L682.1,127.1 L682.7,126.4 L683.3,125.6 L683.9,126.2 L684.5,124.9 L685.1,126.8 L685.7,127.4 L686.3,125.6 L686.9,127.0 L687.5,127.2 L688.1,125.4 L688.7,126.6 L689.3,124.7 L689.9,126.3 L690.5,127.6 L691.1,126.6 L691.7,124.2 L692.3,125.2 L692.9,125.3 L693.5,126.5 L694.1,124.9 L694.7,125.0 L695.3,125.5 L695.9,128.4 L696.5,124.5 L697.1,125.3 L697.7,125.9 L698.3,126.1 L698.9,124.5 L699.5,125.8 L700.1,125.0 L700.7,127.6 L701.3,127.2 L701.9,126.4 L702.5,125.1 L703.1,125.4 L703.7,125.5 L704.3,125.5 L704.9,126.5 L705.5,126.1 L706.0,125.6 M717.2,277.5 L721.3,277.5 L726.7,108.3 L727.7,111.8 L728.7,107.2 L729.7,107.6 L730.7,109.7 L731.3,108.3 L732.3,113.1 L733.3,117.8 L733.7,114.6 L734.1,118.0 L734.5,119.5 L734.9,119.6 L735.3,117.3 L735.7,121.4 L736.1,117.2 L736.5,118.1 L736.9,114.1 L737.3,115.4 L737.7,119.1 L738.1,113.2 L738.5,119.0 L738.9,114.9 L739.3,112.3 L739.7,116.7 L740.1,114.3 L740.5,116.6 L740.9,116.6 L741.3,121.4 L741.7,116.4 L742.1,118.4 L742.5,119.1 L742.9,114.6 L743.3,120.2 L743.7,118.5 L744.1,117.9 L744.5,118.2 L744.9,116.2 L745.3,122.0 L745.7,115.5 L746.1,120.9 L746.5,119.9 L746.9,116.5 L747.3,117.2 L747.7,118.0 L748.1,119.7 L748.5,117.7 L748.9,117.1 L749.3,115.8 L749.7,117.2 L750.1,119.8 L750.5,118.4 L750.9,119.4 L751.3,118.5 L751.7,114.8 L752.1,117.5 L752.5,119.0 L752.9,115.8 L753.3,119.0 L753.7,116.7 L754.1,116.2 L754.5,117.3 L754.9,118.1 L755.3,116.9 L755.7,115.5 L756.1,117.4 L756.5,113.7 L756.9,117.3 L757.3,119.2 L757.7,116.1 L758.1,118.3 L758.5,117.9 L758.9,115.0 L759.3,115.7 L759.7,120.0 L760.1,118.6 L760.5,119.7 L760.9,115.0 L761.3,121.4 L761.7,117.9 L762.1,115.6 L762.5,121.5 L762.9,118.3 L763.3,120.8 L763.7,120.2 L764.1,117.2 L764.4,117.8 L765.0,164.6 M772.8,277.5 L779.3,277.5 L783.3,101.4 L784.3,103.8 L785.3,102.7 L786.3,99.4 L787.3,105.5 L788.3,97.7 L789.0,101.4 L790.2,111.0 L791.5,120.7 L791.9,119.5 L792.3,123.0 L792.7,122.8 L793.1,120.1 L793.5,121.1 L793.9,122.9 L794.3,120.4 L794.7,119.4 L795.1,121.2 L795.5,121.9 L795.9,121.2 L796.3,120.6 L796.7,123.4 L797.1,120.9 L797.5,122.7 L797.9,120.5 L798.3,120.9 L798.7,120.1 L799.1,117.0 L799.5,117.8 L799.9,123.5 L800.3,120.9 L800.7,119.8 L801.1,121.7 L801.5,124.3 L801.9,115.7 L802.3,118.7 L802.7,121.3 L803.1,120.8 L803.5,122.8 L803.9,120.4 L804.3,116.9 L804.7,117.8 L805.1,119.6 L805.5,121.2 L805.9,122.4 L806.3,120.1 L806.7,121.2 L807.1,121.7 L807.5,121.9 L807.9,118.7 L808.3,123.1 L808.7,120.3 L809.1,125.2 L809.5,123.8 L809.9,116.1 L810.3,122.8 L810.7,119.9 L811.1,122.2 L811.5,120.6 L811.9,118.1 L812.3,122.7 L812.7,123.2 L813.1,124.9 L813.5,114.9 L813.9,120.9 L814.3,120.3 L814.7,119.4 L815.1,119.9 L815.5,121.2 L815.9,125.1 L816.3,119.1 L816.7,120.3 L817.1,120.5 L817.5,116.7 L817.9,119.3 L818.3,121.8 L818.7,115.9 L819.1,117.1 L819.5,117.1 L819.9,121.4 L820.3,124.5 L820.5,120.7 L821.5,248.6 M832.0,277.5 L838.3,277.5 L840.6,95.3 L841.6,94.8 L842.6,95.1 L843.6,97.5 L844.6,95.6 L845.6,93.0 L846.6,96.2 L847.0,95.3 L847.9,97.6 L848.8,103.2 L849.6,108.9 L850.5,111.2 L850.9,112.9 L851.3,112.2 L851.7,112.4 L852.1,110.4 L852.5,111.9 L852.9,111.0 L853.3,107.0 L853.7,107.7 L854.1,113.1 L854.5,109.9 L854.9,114.9 L855.3,110.9 L855.7,114.1 L856.1,109.3 L856.5,110.7 L856.9,110.2 L857.3,115.2 L857.7,111.5 L858.1,112.0 L858.5,112.5 L858.9,114.4 L859.3,107.8 L859.7,115.9 L860.1,115.0 L860.5,111.5 L860.9,113.9 L861.3,114.9 L861.7,114.3 L862.1,110.5 L862.5,108.9 L862.9,110.9 L863.3,113.2 L863.7,116.0 L864.1,113.9 L864.5,112.4 L864.9,115.5 L865.3,111.9 L865.7,113.7 L866.1,113.1 L866.5,111.0 L866.9,112.9 L867.3,112.9 L867.7,111.7 L868.1,112.7 L868.5,111.2 L868.9,114.5 L869.3,117.1 L869.7,113.4 L870.1,113.6 L870.5,111.5 L870.9,115.2 L871.3,113.6 L871.7,115.9 L872.1,114.4 L872.5,112.1 L872.9,111.0 L873.3,112.3 L873.7,110.9 L874.1,112.6 L874.5,111.3 L874.9,115.1 L875.3,116.4 L875.7,115.8 L876.1,110.4 L876.5,114.7 L876.9,111.8 L877.3,114.0 L877.7,111.3 L878.1,113.7 L878.5,116.4 L878.9,116.9 L879.3,115.4 L879.6,114.1 L880.6,247.2" fill="none" stroke="#BA43A9" stroke-width="2" stroke-linejoin="round"/></svg>
<div class="yl" style="top:37.5px">80 K</div><div class="yl" style="top:95.2px">60 K</div><div class="yl" style="top:153.0px">40 K</div><div class="yl" style="top:210.8px">20 K</div><div class="yl" style="top:268.5px">0</div><div class="xl" style="left:61.5px;top:282px">20:00</div><div class="xl" style="left:171.5px;top:282px">20:30</div><div class="xl" style="left:281.5px;top:282px">21:00</div><div class="xl" style="left:391.5px;top:282px">21:30</div><div class="xl" style="left:501.5px;top:282px">22:00</div><div class="xl" style="left:611.5px;top:282px">22:30</div><div class="xl" style="left:721.5px;top:282px">23:00</div><div class="xl" style="left:831.5px;top:282px">23:30</div>
<div class="sw" style="left:19px;top:312px;background:#7EB26D"></div>
<div class="li" style="left:35px;top:306.5px">3 nodes, 36 vCPUs, 72 GB RAM</div>
<div class="sw" style="left:197.5px;top:312px;background:#EAB839"></div>
<div class="li" style="left:213px;top:306.5px">3 nodes, 16 vCPUs, 32 GB RAM</div>
<div class="sw" style="left:375.5px;top:312px;background:#6ED0E0"></div>
<div class="li" style="left:391px;top:306.5px">5 nodes, 16 vCPUs 32 GB RAM</div>
<div class="sw" style="left:551.5px;top:312px;background:#EF843C"></div>
<div class="li" style="left:567.5px;top:306.5px">7 nodes, 16 vCPUs, 32 GB RAM</div>
<div class="sw" style="left:730px;top:312px;background:#E24D42"></div>
<div class="li" style="left:746px;top:306.5px">5 nodes, 8 vCPUs, 16 GB RAM</div>
<div class="sw" style="left:19px;top:331px;background:#1F78C1"></div>
<div class="li" style="left:35px;top:325.5px">7 nodes, 8 vCPUs, 16 GB RAM</div>
<div class="sw" style="left:191px;top:331px;background:#BA43A9"></div>
<div class="li" style="left:207px;top:325.5px">9 nodes, 8 vCPUs, 16 GB RAM</div>
<div class="rh" style="left:901px;top:343px"></div>
<div class="panel" style="top:361px"></div>
<div class="title" style="top:369px"><span>Aggregate Consume Rate</span></div>
<svg style="position:absolute;left:0;top:360px" width="911" height="300" viewBox="0 0 911 300"><g stroke="rgba(200,200,200,0.22)" stroke-width="1"><line x1="37" y1="46.5" x2="886" y2="46.5"/><line x1="37" y1="104.25" x2="886" y2="104.25"/><line x1="37" y1="162.0" x2="886" y2="162.0"/><line x1="37" y1="219.75" x2="886" y2="219.75"/><line x1="37" y1="277.5" x2="886" y2="277.5"/><line x1="81.5" y1="46" x2="81.5" y2="277"/><line x1="191.5" y1="46" x2="191.5" y2="277"/><line x1="301.5" y1="46" x2="301.5" y2="277"/><line x1="411.5" y1="46" x2="411.5" y2="277"/><line x1="521.5" y1="46" x2="521.5" y2="277"/><line x1="631.5" y1="46" x2="631.5" y2="277"/><line x1="741.5" y1="46" x2="741.5" y2="277"/><line x1="851.5" y1="46" x2="851.5" y2="277"/></g><path d="M47.3,277.5 L47.3,277.5 L48.8,277.5 L53.0,274.6 L54.0,274.7 L55.0,274.7 L56.0,274.6 L57.0,274.6 L58.0,274.6 L59.0,274.6 L60.0,274.6 L61.0,274.7 L62.0,274.7 L63.0,274.7 L64.0,274.6 L65.0,274.6 L66.0,274.6 L67.0,274.6 L68.0,274.6 L69.0,274.6 L70.0,274.6 L71.0,274.6 L72.0,274.6 L73.0,274.7 L74.0,274.7 L75.0,274.5 L76.0,274.6 L77.0,274.6 L78.0,274.6 L79.0,274.6 L80.0,274.5 L81.0,274.5 L82.0,274.6 L83.0,274.6 L84.0,274.6 L85.0,274.6 L86.0,274.6 L87.0,274.5 L88.0,274.6 L89.0,274.5 L90.0,274.6 L91.0,274.6 L91.4,274.6 L91.4,277.5 Z M100.9,277.5 L100.9,277.5 L102.4,277.5 L107.0,263.1 L108.0,263.1 L109.0,263.0 L110.0,263.1 L111.0,263.1 L112.0,263.1 L113.0,263.1 L114.0,263.1 L115.0,263.2 L116.0,263.0 L117.0,263.1 L118.0,263.1 L119.0,263.0 L120.0,263.1 L121.0,263.1 L122.0,263.0 L123.0,263.0 L124.0,263.1 L125.0,263.0 L126.0,263.0 L127.0,263.1 L128.0,263.0 L129.0,263.0 L130.0,263.1 L131.0,263.0 L132.0,263.1 L133.0,263.0 L134.0,263.1 L135.0,263.0 L136.0,263.0 L137.0,263.0 L138.0,263.0 L139.0,263.0 L140.0,263.0 L141.0,263.1 L142.0,263.1 L143.0,263.0 L144.0,263.0 L144.7,263.1 L144.7,277.5 Z M154.9,277.5 L154.9,277.5 L156.4,277.5 L160.2,248.6 L161.2,248.6 L162.2,248.6 L163.2,248.6 L164.2,248.6 L165.2,248.6 L166.2,248.6 L167.2,248.6 L168.2,248.6 L169.2,248.7 L170.2,248.6 L171.2,248.5 L172.2,248.6 L173.2,248.6 L174.2,248.6 L175.2,248.5 L176.2,248.6 L177.2,248.6 L178.2,248.6 L179.2,248.6 L180.2,248.8 L181.2,248.7 L182.2,248.6 L183.2,248.6 L184.2,248.6 L185.2,248.6 L186.2,248.6 L187.2,248.7 L188.2,248.7 L189.2,248.7 L190.2,248.7 L191.2,248.6 L192.2,248.7 L193.2,248.7 L194.2,248.5 L195.2,248.7 L196.2,248.6 L197.2,248.6 L197.9,248.6 L197.9,277.5 Z M209.4,277.5 L209.4,277.5 L210.9,277.5 L216.4,234.2 L217.4,234.3 L218.4,233.7 L219.4,234.5 L220.4,234.2 L221.4,234.2 L222.4,234.3 L223.4,234.2 L224.4,234.0 L225.4,234.3 L226.4,234.5 L227.4,233.9 L228.4,233.9 L229.4,234.3 L230.4,234.1 L231.4,234.7 L232.4,234.0 L233.4,234.5 L234.4,234.3 L235.4,233.7 L236.4,234.4 L237.4,234.2 L238.4,234.4 L239.4,234.6 L240.4,234.4 L241.4,234.1 L242.4,234.4 L243.4,234.3 L244.4,234.0 L245.4,234.2 L246.4,234.4 L247.4,233.9 L248.4,234.2 L249.4,233.9 L250.4,234.4 L251.4,233.8 L252.4,234.5 L253.3,234.2 L253.3,277.5 Z M263.8,277.5 L263.8,277.5 L265.3,277.5 L270.2,219.8 L271.2,219.8 L272.2,219.8 L273.2,219.8 L274.2,219.8 L275.2,219.8 L276.2,219.8 L277.2,219.8 L278.2,219.8 L278.4,219.8 L279.1,223.4 L279.9,227.0 L280.9,226.8 L281.9,227.6 L282.9,226.6 L283.9,226.5 L284.9,227.5 L285.9,225.6 L286.9,226.9 L287.9,227.8 L288.9,227.5 L289.9,227.4 L290.9,228.2 L291.9,227.6 L292.9,227.6 L293.9,226.8 L294.9,227.5 L295.9,226.8 L296.9,227.1 L297.9,227.4 L298.9,226.6 L299.9,226.5 L300.9,227.2 L301.9,228.2 L302.9,228.2 L303.9,228.8 L304.9,227.6 L305.9,227.0 L306.9,227.8 L307.8,227.0 L307.8,277.5 Z M320.1,277.5 L320.1,277.5 L321.6,277.5 L327.0,205.3 L328.0,205.3 L329.0,205.3 L330.0,205.3 L331.0,205.3 L332.0,205.3 L333.0,205.3 L334.0,205.3 L334.7,205.3 L335.4,216.6 L336.2,227.8 L337.2,227.8 L338.2,228.1 L339.2,228.5 L340.2,228.0 L341.2,227.2 L342.2,227.6 L343.2,227.8 L344.2,228.2 L345.2,227.5 L346.2,227.5 L347.2,227.0 L348.2,227.3 L349.2,226.1 L350.2,228.4 L351.2,228.0 L352.2,227.5 L353.2,227.0 L354.2,228.7 L355.2,229.0 L356.2,228.2 L357.2,227.1 L358.2,226.8 L359.2,228.6 L360.2,227.9 L361.2,227.0 L362.2,227.5 L363.2,228.5 L364.2,228.5 L364.5,227.8 L364.5,277.5 Z M373.8,277.5 L373.8,277.5 L375.3,277.5 L381.1,190.9 L382.1,190.9 L383.1,190.9 L384.1,190.9 L385.1,190.9 L386.1,190.9 L387.1,190.9 L388.1,190.9 L389.0,190.9 L389.8,209.5 L390.5,228.1 L391.5,229.1 L392.5,229.4 L393.5,228.9 L394.5,229.0 L395.5,227.5 L396.5,228.3 L397.5,227.4 L398.5,228.3 L399.5,227.7 L400.5,227.7 L401.5,227.6 L402.5,228.5 L403.5,228.4 L404.5,227.0 L405.5,227.4 L406.5,228.3 L407.5,226.5 L408.5,228.2 L409.5,228.6 L410.5,227.2 L411.5,228.9 L412.5,228.5 L413.5,227.9 L414.5,228.9 L415.5,229.4 L416.5,229.5 L417.5,229.3 L418.5,229.3 L418.8,228.1 L418.8,277.5 Z M429.4,277.5 L429.4,277.5 L430.9,277.5 L436.3,180.5 L437.3,180.0 L438.3,180.9 L439.3,180.2 L440.3,180.9 L441.3,180.1 L442.3,180.2 L443.3,180.8 L444.0,180.5 L444.8,201.0 L445.5,221.5 L446.5,221.4 L447.5,220.9 L448.5,220.5 L449.5,221.3 L450.5,220.1 L451.5,220.6 L452.5,220.3 L453.5,222.1 L454.5,222.4 L455.5,220.8 L456.5,221.4 L457.5,221.1 L458.5,220.5 L459.5,228.0 L460.5,227.1 L461.5,225.8 L462.5,226.2 L463.5,226.8 L464.5,226.7 L465.5,227.1 L466.5,226.6 L467.5,226.1 L468.5,227.0 L469.5,226.7 L470.5,226.9 L471.5,226.6 L472.5,226.4 L473.5,227.8 L474.5,226.5 L474.7,227.3 L475.6,277.5 L475.6,277.5 Z M485.2,277.5 L485.2,277.5 L486.7,277.5 L491.3,177.9 L492.3,177.2 L493.3,178.5 L494.3,177.8 L495.3,178.6 L496.3,179.2 L497.3,179.3 L498.3,178.3 L498.5,177.9 L499.2,201.7 L500.0,225.5 L501.0,226.7 L502.0,225.7 L503.0,226.1 L504.0,222.3 L505.0,223.7 L506.0,223.1 L507.0,223.1 L508.0,221.1 L509.0,223.6 L510.0,222.9 L511.0,223.4 L512.0,224.5 L513.0,223.5 L514.0,226.5 L515.0,226.6 L516.0,225.3 L517.0,225.4 L518.0,226.9 L519.0,225.8 L520.0,225.4 L521.0,225.3 L522.0,225.3 L523.0,225.4 L524.0,227.2 L525.0,227.2 L526.0,226.9 L527.0,227.5 L528.0,228.3 L529.0,227.3 L530.0,277.5 L530.0,277.5 Z M544.3,277.5 L544.3,277.5 L545.8,277.5 L549.6,190.9 L550.6,189.0 L551.6,190.8 L552.6,190.6 L553.6,190.9 L554.6,190.5 L555.6,188.2 L556.3,190.9 L557.0,207.9 L557.8,224.9 L558.8,224.9 L559.8,224.8 L560.8,224.9 L561.8,226.1 L562.8,226.3 L563.8,225.6 L564.8,225.1 L565.8,224.5 L566.8,227.0 L567.8,227.4 L568.8,223.7 L569.8,224.7 L570.8,223.9 L571.8,225.1 L572.8,225.8 L573.8,222.7 L574.8,225.7 L575.8,226.2 L576.8,224.5 L577.8,224.7 L578.8,226.7 L579.8,225.3 L580.8,224.2 L581.8,226.4 L582.8,226.0 L583.8,224.3 L584.8,222.5 L585.8,226.9 L586.5,224.9 L586.5,277.5 Z M602.6,277.5 L602.6,277.5 L604.1,277.5 L607.4,176.4 L608.4,176.1 L609.4,175.4 L610.4,176.8 L611.4,176.7 L612.4,176.4 L613.4,175.7 L614.4,176.5 L614.8,176.4 L615.5,202.4 L616.3,228.4 L617.3,228.7 L618.3,230.2 L619.3,229.4 L620.3,228.7 L621.3,229.1 L622.3,228.9 L623.3,228.4 L624.3,228.5 L625.3,229.5 L626.3,228.3 L627.3,227.6 L628.3,228.9 L629.3,229.1 L630.3,229.1 L631.3,228.2 L632.3,229.9 L633.3,226.9 L634.3,228.4 L635.3,227.7 L636.3,228.6 L637.3,228.4 L638.3,228.8 L639.3,228.2 L640.3,228.7 L641.3,227.9 L642.3,229.2 L643.3,227.3 L644.3,228.3 L645.3,227.7 L646.3,228.6 L647.3,229.1 L647.5,228.4 L647.5,277.5 Z M664.3,277.5 L664.3,277.5 L665.8,277.5 L669.0,176.7 L670.0,176.9 L671.0,177.0 L672.0,177.0 L673.0,177.1 L674.0,176.8 L675.0,175.4 L675.8,176.7 L676.5,200.7 L677.3,224.7 L678.3,223.2 L679.3,224.3 L680.3,224.2 L681.3,223.8 L682.3,224.7 L683.3,223.3 L684.3,224.2 L685.3,224.0 L686.3,225.1 L687.3,225.6 L688.3,225.6 L689.3,225.4 L690.3,224.1 L691.3,228.4 L692.3,227.8 L693.4,228.5 L694.0,221.8 L694.6,228.5 L695.3,228.5 L696.3,228.7 L697.3,229.7 L698.3,228.7 L699.3,227.6 L700.3,228.3 L701.3,229.2 L702.3,229.2 L703.3,229.5 L704.3,228.9 L705.3,229.2 L706.0,228.4 L706.0,277.5 Z M719.5,277.5 L719.5,277.5 L721.0,277.5 L724.3,178.2 L725.3,176.7 L726.3,177.5 L727.3,177.8 L728.3,178.8 L729.3,176.8 L730.3,178.1 L731.3,178.2 L732.0,201.4 L732.8,224.7 L733.8,223.8 L734.7,223.8 L735.5,229.6 L736.3,223.8 L736.8,224.4 L737.8,224.6 L738.8,223.9 L739.8,224.2 L740.8,224.5 L741.8,224.1 L742.8,224.1 L743.8,224.3 L744.8,224.2 L745.8,224.2 L746.8,225.1 L747.8,225.8 L748.8,224.9 L749.8,224.4 L750.8,224.7 L751.8,224.5 L752.8,223.2 L753.5,223.2 L754.5,229.3 L758.0,229.3 L759.0,223.2 L759.8,224.1 L760.8,225.4 L761.8,224.7 L762.8,225.2 L763.8,226.4 L764.0,224.7 L764.0,277.5 Z M777.7,277.5 L777.7,277.5 L779.2,277.5 L781.5,177.3 L782.5,177.6 L783.5,177.7 L784.5,177.7 L785.5,176.7 L786.5,178.3 L787.5,178.1 L788.5,178.1 L789.0,177.3 L789.8,203.0 L790.5,228.7 L791.5,228.1 L792.5,228.4 L793.5,229.1 L794.5,223.9 L795.5,222.8 L796.5,223.1 L797.5,224.9 L798.5,224.7 L799.5,223.6 L800.5,225.4 L801.5,225.5 L802.5,225.0 L803.5,224.2 L804.5,224.9 L805.5,224.4 L806.5,224.5 L807.5,224.1 L808.5,225.2 L809.5,226.2 L810.5,226.4 L811.5,224.9 L812.5,223.8 L813.5,223.8 L814.5,225.3 L815.5,230.2 L816.5,229.3 L817.5,229.5 L818.5,230.3 L819.5,229.6 L820.5,228.7 L820.5,277.5 Z M836.5,277.5 L836.5,277.5 L838.0,277.5 L839.4,177.3 L840.4,177.9 L841.4,177.1 L842.4,177.1 L843.4,175.3 L844.4,176.2 L845.4,176.3 L846.4,176.3 L847.0,177.3 L847.8,203.6 L848.5,229.9 L849.5,228.3 L850.5,228.0 L851.5,229.7 L852.5,229.9 L853.5,223.8 L855.3,227.5 L857.0,223.8 L858.5,228.4 L859.5,229.9 L860.5,229.0 L861.5,230.0 L862.5,231.0 L863.5,229.7 L864.5,230.9 L865.5,230.4 L866.5,228.8 L867.7,230.0 L868.5,225.8 L869.3,230.0 L870.5,229.4 L871.5,229.9 L872.5,229.6 L873.5,230.5 L874.5,230.0 L875.5,230.3 L876.5,229.2 L877.5,230.5 L878.5,230.3 L879.5,228.4 L879.6,229.9 L880.6,242.8 L880.6,277.5 Z" fill="#7EB26D" fill-opacity="0.1"/>
<path d="M47.3,277.5 L48.8,277.5 L53.0,274.6 L54.0,274.7 L55.0,274.7 L56.0,274.6 L57.0,274.6 L58.0,274.6 L59.0,274.6 L60.0,274.6 L61.0,274.7 L62.0,274.7 L63.0,274.7 L64.0,274.6 L65.0,274.6 L66.0,274.6 L67.0,274.6 L68.0,274.6 L69.0,274.6 L70.0,274.6 L71.0,274.6 L72.0,274.6 L73.0,274.7 L74.0,274.7 L75.0,274.5 L76.0,274.6 L77.0,274.6 L78.0,274.6 L79.0,274.6 L80.0,274.5 L81.0,274.5 L82.0,274.6 L83.0,274.6 L84.0,274.6 L85.0,274.6 L86.0,274.6 L87.0,274.5 L88.0,274.6 L89.0,274.5 L90.0,274.6 L91.0,274.6 L91.4,274.6 M100.9,277.5 L102.4,277.5 L107.0,263.1 L108.0,263.1 L109.0,263.0 L110.0,263.1 L111.0,263.1 L112.0,263.1 L113.0,263.1 L114.0,263.1 L115.0,263.2 L116.0,263.0 L117.0,263.1 L118.0,263.1 L119.0,263.0 L120.0,263.1 L121.0,263.1 L122.0,263.0 L123.0,263.0 L124.0,263.1 L125.0,263.0 L126.0,263.0 L127.0,263.1 L128.0,263.0 L129.0,263.0 L130.0,263.1 L131.0,263.0 L132.0,263.1 L133.0,263.0 L134.0,263.1 L135.0,263.0 L136.0,263.0 L137.0,263.0 L138.0,263.0 L139.0,263.0 L140.0,263.0 L141.0,263.1 L142.0,263.1 L143.0,263.0 L144.0,263.0 L144.7,263.1 M154.9,277.5 L156.4,277.5 L160.2,248.6 L161.2,248.6 L162.2,248.6 L163.2,248.6 L164.2,248.6 L165.2,248.6 L166.2,248.6 L167.2,248.6 L168.2,248.6 L169.2,248.7 L170.2,248.6 L171.2,248.5 L172.2,248.6 L173.2,248.6 L174.2,248.6 L175.2,248.5 L176.2,248.6 L177.2,248.6 L178.2,248.6 L179.2,248.6 L180.2,248.8 L181.2,248.7 L182.2,248.6 L183.2,248.6 L184.2,248.6 L185.2,248.6 L186.2,248.6 L187.2,248.7 L188.2,248.7 L189.2,248.7 L190.2,248.7 L191.2,248.6 L192.2,248.7 L193.2,248.7 L194.2,248.5 L195.2,248.7 L196.2,248.6 L197.2,248.6 L197.9,248.6 M209.4,277.5 L210.9,277.5 L216.4,234.2 L217.4,234.3 L218.4,233.7 L219.4,234.5 L220.4,234.2 L221.4,234.2 L222.4,234.3 L223.4,234.2 L224.4,234.0 L225.4,234.3 L226.4,234.5 L227.4,233.9 L228.4,233.9 L229.4,234.3 L230.4,234.1 L231.4,234.7 L232.4,234.0 L233.4,234.5 L234.4,234.3 L235.4,233.7 L236.4,234.4 L237.4,234.2 L238.4,234.4 L239.4,234.6 L240.4,234.4 L241.4,234.1 L242.4,234.4 L243.4,234.3 L244.4,234.0 L245.4,234.2 L246.4,234.4 L247.4,233.9 L248.4,234.2 L249.4,233.9 L250.4,234.4 L251.4,233.8 L252.4,234.5 L253.3,234.2 M263.8,277.5 L265.3,277.5 L270.2,219.8 L271.2,219.8 L272.2,219.8 L273.2,219.8 L274.2,219.8 L275.2,219.8 L276.2,219.8 L277.2,219.8 L278.2,219.8 L278.4,219.8 L279.1,223.4 L279.9,227.0 L280.9,226.8 L281.9,227.6 L282.9,226.6 L283.9,226.5 L284.9,227.5 L285.9,225.6 L286.9,226.9 L287.9,227.8 L288.9,227.5 L289.9,227.4 L290.9,228.2 L291.9,227.6 L292.9,227.6 L293.9,226.8 L294.9,227.5 L295.9,226.8 L296.9,227.1 L297.9,227.4 L298.9,226.6 L299.9,226.5 L300.9,227.2 L301.9,228.2 L302.9,228.2 L303.9,228.8 L304.9,227.6 L305.9,227.0 L306.9,227.8 L307.8,227.0 M320.1,277.5 L321.6,277.5 L327.0,205.3 L328.0,205.3 L329.0,205.3 L330.0,205.3 L331.0,205.3 L332.0,205.3 L333.0,205.3 L334.0,205.3 L334.7,205.3 L335.4,216.6 L336.2,227.8 L337.2,227.8 L338.2,228.1 L339.2,228.5 L340.2,228.0 L341.2,227.2 L342.2,227.6 L343.2,227.8 L344.2,228.2 L345.2,227.5 L346.2,227.5 L347.2,227.0 L348.2,227.3 L349.2,226.1 L350.2,228.4 L351.2,228.0 L352.2,227.5 L353.2,227.0 L354.2,228.7 L355.2,229.0 L356.2,228.2 L357.2,227.1 L358.2,226.8 L359.2,228.6 L360.2,227.9 L361.2,227.0 L362.2,227.5 L363.2,228.5 L364.2,228.5 L364.5,227.8 M373.8,277.5 L375.3,277.5 L381.1,190.9 L382.1,190.9 L383.1,190.9 L384.1,190.9 L385.1,190.9 L386.1,190.9 L387.1,190.9 L388.1,190.9 L389.0,190.9 L389.8,209.5 L390.5,228.1 L391.5,229.1 L392.5,229.4 L393.5,228.9 L394.5,229.0 L395.5,227.5 L396.5,228.3 L397.5,227.4 L398.5,228.3 L399.5,227.7 L400.5,227.7 L401.5,227.6 L402.5,228.5 L403.5,228.4 L404.5,227.0 L405.5,227.4 L406.5,228.3 L407.5,226.5 L408.5,228.2 L409.5,228.6 L410.5,227.2 L411.5,228.9 L412.5,228.5 L413.5,227.9 L414.5,228.9 L415.5,229.4 L416.5,229.5 L417.5,229.3 L418.5,229.3 L418.8,228.1 M429.4,277.5 L430.9,277.5 L436.3,180.5 L437.3,180.0 L438.3,180.9 L439.3,180.2 L440.3,180.9 L441.3,180.1 L442.3,180.2 L443.3,180.8 L444.0,180.5 L444.8,201.0 L445.5,221.5 L446.5,221.4 L447.5,220.9 L448.5,220.5 L449.5,221.3 L450.5,220.1 L451.5,220.6 L452.5,220.3 L453.5,222.1 L454.5,222.4 L455.5,220.8 L456.5,221.4 L457.5,221.1 L458.5,220.5 L459.5,228.0 L460.5,227.1 L461.5,225.8 L462.5,226.2 L463.5,226.8 L464.5,226.7 L465.5,227.1 L466.5,226.6 L467.5,226.1 L468.5,227.0 L469.5,226.7 L470.5,226.9 L471.5,226.6 L472.5,226.4 L473.5,227.8 L474.5,226.5 L474.7,227.3 L475.6,277.5 M485.2,277.5 L486.7,277.5 L491.3,177.9 L492.3,177.2 L493.3,178.5 L494.3,177.8 L495.3,178.6 L496.3,179.2 L497.3,179.3 L498.3,178.3 L498.5,177.9 L499.2,201.7 L500.0,225.5 L501.0,226.7 L502.0,225.7 L503.0,226.1 L504.0,222.3 L505.0,223.7 L506.0,223.1 L507.0,223.1 L508.0,221.1 L509.0,223.6 L510.0,222.9 L511.0,223.4 L512.0,224.5 L513.0,223.5 L514.0,226.5 L515.0,226.6 L516.0,225.3 L517.0,225.4 L518.0,226.9 L519.0,225.8 L520.0,225.4 L521.0,225.3 L522.0,225.3 L523.0,225.4 L524.0,227.2 L525.0,227.2 L526.0,226.9 L527.0,227.5 L528.0,228.3 L529.0,227.3 L530.0,277.5 M544.3,277.5 L545.8,277.5 L549.6,190.9 L550.6,189.0 L551.6,190.8 L552.6,190.6 L553.6,190.9 L554.6,190.5 L555.6,188.2 L556.3,190.9 L557.0,207.9 L557.8,224.9 L558.8,224.9 L559.8,224.8 L560.8,224.9 L561.8,226.1 L562.8,226.3 L563.8,225.6 L564.8,225.1 L565.8,224.5 L566.8,227.0 L567.8,227.4 L568.8,223.7 L569.8,224.7 L570.8,223.9 L571.8,225.1 L572.8,225.8 L573.8,222.7 L574.8,225.7 L575.8,226.2 L576.8,224.5 L577.8,224.7 L578.8,226.7 L579.8,225.3 L580.8,224.2 L581.8,226.4 L582.8,226.0 L583.8,224.3 L584.8,222.5 L585.8,226.9 L586.5,224.9 M602.6,277.5 L604.1,277.5 L607.4,176.4 L608.4,176.1 L609.4,175.4 L610.4,176.8 L611.4,176.7 L612.4,176.4 L613.4,175.7 L614.4,176.5 L614.8,176.4 L615.5,202.4 L616.3,228.4 L617.3,228.7 L618.3,230.2 L619.3,229.4 L620.3,228.7 L621.3,229.1 L622.3,228.9 L623.3,228.4 L624.3,228.5 L625.3,229.5 L626.3,228.3 L627.3,227.6 L628.3,228.9 L629.3,229.1 L630.3,229.1 L631.3,228.2 L632.3,229.9 L633.3,226.9 L634.3,228.4 L635.3,227.7 L636.3,228.6 L637.3,228.4 L638.3,228.8 L639.3,228.2 L640.3,228.7 L641.3,227.9 L642.3,229.2 L643.3,227.3 L644.3,228.3 L645.3,227.7 L646.3,228.6 L647.3,229.1 L647.5,228.4 M664.3,277.5 L665.8,277.5 L669.0,176.7 L670.0,176.9 L671.0,177.0 L672.0,177.0 L673.0,177.1 L674.0,176.8 L675.0,175.4 L675.8,176.7 L676.5,200.7 L677.3,224.7 L678.3,223.2 L679.3,224.3 L680.3,224.2 L681.3,223.8 L682.3,224.7 L683.3,223.3 L684.3,224.2 L685.3,224.0 L686.3,225.1 L687.3,225.6 L688.3,225.6 L689.3,225.4 L690.3,224.1 L691.3,228.4 L692.3,227.8 L693.4,228.5 L694.0,221.8 L694.6,228.5 L695.3,228.5 L696.3,228.7 L697.3,229.7 L698.3,228.7 L699.3,227.6 L700.3,228.3 L701.3,229.2 L702.3,229.2 L703.3,229.5 L704.3,228.9 L705.3,229.2 L706.0,228.4 M719.5,277.5 L721.0,277.5 L724.3,178.2 L725.3,176.7 L726.3,177.5 L727.3,177.8 L728.3,178.8 L729.3,176.8 L730.3,178.1 L731.3,178.2 L732.0,201.4 L732.8,224.7 L733.8,223.8 L734.7,223.8 L735.5,229.6 L736.3,223.8 L736.8,224.4 L737.8,224.6 L738.8,223.9 L739.8,224.2 L740.8,224.5 L741.8,224.1 L742.8,224.1 L743.8,224.3 L744.8,224.2 L745.8,224.2 L746.8,225.1 L747.8,225.8 L748.8,224.9 L749.8,224.4 L750.8,224.7 L751.8,224.5 L752.8,223.2 L753.5,223.2 L754.5,229.3 L758.0,229.3 L759.0,223.2 L759.8,224.1 L760.8,225.4 L761.8,224.7 L762.8,225.2 L763.8,226.4 L764.0,224.7 M777.7,277.5 L779.2,277.5 L781.5,177.3 L782.5,177.6 L783.5,177.7 L784.5,177.7 L785.5,176.7 L786.5,178.3 L787.5,178.1 L788.5,178.1 L789.0,177.3 L789.8,203.0 L790.5,228.7 L791.5,228.1 L792.5,228.4 L793.5,229.1 L794.5,223.9 L795.5,222.8 L796.5,223.1 L797.5,224.9 L798.5,224.7 L799.5,223.6 L800.5,225.4 L801.5,225.5 L802.5,225.0 L803.5,224.2 L804.5,224.9 L805.5,224.4 L806.5,224.5 L807.5,224.1 L808.5,225.2 L809.5,226.2 L810.5,226.4 L811.5,224.9 L812.5,223.8 L813.5,223.8 L814.5,225.3 L815.5,230.2 L816.5,229.3 L817.5,229.5 L818.5,230.3 L819.5,229.6 L820.5,228.7 M836.5,277.5 L838.0,277.5 L839.4,177.3 L840.4,177.9 L841.4,177.1 L842.4,177.1 L843.4,175.3 L844.4,176.2 L845.4,176.3 L846.4,176.3 L847.0,177.3 L847.8,203.6 L848.5,229.9 L849.5,228.3 L850.5,228.0 L851.5,229.7 L852.5,229.9 L853.5,223.8 L855.3,227.5 L857.0,223.8 L858.5,228.4 L859.5,229.9 L860.5,229.0 L861.5,230.0 L862.5,231.0 L863.5,229.7 L864.5,230.9 L865.5,230.4 L866.5,228.8 L867.7,230.0 L868.5,225.8 L869.3,230.0 L870.5,229.4 L871.5,229.9 L872.5,229.6 L873.5,230.5 L874.5,230.0 L875.5,230.3 L876.5,229.2 L877.5,230.5 L878.5,230.3 L879.5,228.4 L879.6,229.9 L880.6,242.8" fill="none" stroke="#7EB26D" stroke-width="2" stroke-linejoin="round"/>
<path d="M47.5,277.5 L47.5,277.5 L49.0,277.5 L53.0,274.6 L54.0,274.6 L55.0,274.6 L56.0,274.7 L57.0,274.6 L58.0,274.6 L59.0,274.7 L60.0,274.5 L61.0,274.7 L62.0,274.7 L63.0,274.6 L64.0,274.6 L65.0,274.6 L66.0,274.6 L67.0,274.6 L68.0,274.6 L69.0,274.6 L70.0,274.7 L71.0,274.5 L72.0,274.6 L73.0,274.7 L74.0,274.6 L75.0,274.6 L76.0,274.6 L77.0,274.5 L78.0,274.6 L79.0,274.6 L80.0,274.7 L81.0,274.6 L82.0,274.6 L83.0,274.6 L84.0,274.6 L85.0,274.7 L86.0,274.6 L87.0,274.5 L88.0,274.6 L89.0,274.6 L90.0,274.7 L91.0,274.6 L91.4,274.6 L91.4,277.5 Z M100.7,277.5 L100.7,277.5 L102.2,277.5 L107.0,263.1 L108.0,263.2 L109.0,263.0 L110.0,263.1 L111.0,263.1 L111.3,263.1 L112.0,265.1 L112.7,263.1 L113.0,263.1 L114.0,263.1 L115.0,263.0 L116.0,263.0 L117.0,263.1 L118.0,263.0 L119.0,263.1 L120.0,263.1 L121.0,263.0 L122.0,263.1 L123.0,263.1 L124.0,263.1 L125.0,263.1 L126.0,263.0 L127.0,262.9 L128.0,263.1 L129.0,263.1 L130.0,263.1 L131.0,263.0 L132.0,263.0 L133.0,263.0 L134.0,263.0 L135.0,263.1 L136.0,263.1 L137.0,263.1 L138.0,263.0 L139.0,263.2 L140.0,263.1 L141.0,263.0 L142.0,263.0 L143.0,263.0 L144.0,263.1 L144.7,263.1 L144.7,277.5 Z M154.4,277.5 L154.4,277.5 L155.9,277.5 L160.2,248.6 L161.2,248.7 L162.2,248.6 L163.2,248.6 L164.2,248.6 L165.2,248.6 L166.2,248.6 L167.2,248.6 L168.2,248.5 L169.2,248.6 L170.2,248.5 L171.2,248.6 L172.2,248.6 L173.2,248.6 L174.2,248.6 L175.2,248.5 L176.2,248.7 L177.2,248.7 L178.2,248.7 L179.2,248.5 L180.2,248.6 L181.2,248.6 L182.2,248.6 L183.2,248.7 L184.2,248.6 L185.2,248.6 L186.2,248.6 L187.2,248.6 L188.2,248.6 L189.2,248.6 L190.2,248.7 L191.2,248.6 L192.2,248.6 L193.2,248.8 L194.2,248.6 L195.2,248.6 L196.2,248.7 L197.2,248.6 L197.9,248.6 L197.9,277.5 Z M210.0,277.5 L210.0,277.5 L211.5,277.5 L216.4,234.2 L217.4,234.2 L218.4,234.2 L219.4,234.2 L220.4,234.2 L221.4,234.2 L222.4,234.2 L223.4,234.2 L223.5,234.2 L224.2,236.6 L225.0,239.1 L226.0,239.2 L227.0,239.1 L228.0,240.4 L229.0,239.5 L230.0,239.6 L231.0,239.6 L232.0,239.9 L233.0,239.7 L234.0,239.9 L235.0,239.9 L236.0,240.4 L237.0,240.5 L238.0,240.7 L239.0,240.8 L240.0,241.0 L241.0,241.5 L242.0,241.5 L243.0,240.8 L244.0,241.4 L245.0,240.8 L246.0,241.2 L247.0,240.4 L248.0,241.5 L249.0,241.4 L250.0,241.6 L251.0,241.8 L252.0,241.2 L253.0,241.5 L253.3,242.0 L254.4,277.5 L254.4,277.5 Z M263.5,277.5 L263.5,277.5 L265.0,277.5 L270.2,219.8 L271.2,219.8 L272.2,219.8 L273.2,219.8 L274.2,219.8 L275.2,219.8 L276.2,219.8 L277.2,219.8 L278.2,219.8 L278.4,219.8 L279.1,226.1 L279.9,232.5 L280.9,232.7 L281.9,232.6 L282.9,232.5 L283.9,232.4 L284.9,232.4 L285.9,232.3 L286.9,231.4 L287.9,232.5 L288.9,233.3 L289.9,232.3 L290.9,232.6 L291.9,232.7 L292.9,233.1 L293.9,232.7 L294.9,232.7 L295.9,232.3 L296.9,232.6 L297.9,233.1 L298.9,232.4 L299.9,232.5 L300.9,233.3 L301.9,232.8 L302.9,232.2 L303.9,232.4 L304.9,232.6 L305.9,232.2 L306.9,232.7 L307.8,232.5 L307.8,277.5 Z M319.9,277.5 L319.9,277.5 L321.4,277.5 L326.6,209.9 L327.6,210.2 L328.6,209.4 L329.6,209.7 L330.6,209.6 L331.6,209.6 L332.6,209.8 L333.6,210.8 L334.6,211.1 L334.7,209.9 L335.4,223.9 L336.2,237.9 L337.2,237.8 L338.2,237.9 L339.2,238.2 L340.2,237.7 L341.2,238.0 L342.2,237.8 L343.2,238.2 L344.2,237.9 L345.2,237.7 L346.2,237.8 L347.2,237.3 L348.2,238.0 L349.2,237.2 L350.2,237.8 L351.2,237.9 L352.2,238.2 L353.2,237.1 L354.2,236.9 L355.2,237.9 L356.2,238.6 L357.2,237.7 L358.2,237.3 L359.2,237.9 L360.2,238.0 L361.2,237.7 L362.2,236.8 L363.2,237.7 L364.2,238.0 L364.5,237.9 L364.5,277.5 Z M374.7,277.5 L374.7,277.5 L376.2,277.5 L380.0,209.9 L381.0,209.9 L382.0,210.3 L383.0,210.3 L384.0,210.0 L385.0,209.7 L386.0,209.4 L387.0,210.0 L388.0,209.8 L389.0,209.9 L389.8,224.8 L390.5,239.7 L391.5,239.4 L392.5,239.2 L393.5,239.4 L394.5,239.5 L395.5,239.8 L396.5,239.7 L397.5,239.7 L398.5,240.4 L399.5,240.2 L400.5,240.9 L401.5,239.8 L402.5,239.3 L403.5,239.7 L404.5,239.6 L405.5,239.6 L406.5,239.7 L407.5,239.0 L408.5,239.6 L409.5,239.5 L410.5,239.6 L411.5,238.8 L412.5,240.1 L413.5,239.7 L414.5,240.2 L415.5,240.1 L416.5,240.2 L417.5,239.5 L418.5,240.1 L418.8,239.7 L418.8,277.5 Z M429.2,277.5 L429.2,277.5 L430.7,277.5 L434.7,208.2 L435.7,208.7 L436.7,208.0 L437.7,209.0 L438.7,209.0 L439.7,208.4 L440.7,208.6 L441.7,208.4 L442.7,208.6 L443.7,208.8 L444.0,208.2 L444.8,223.8 L445.5,239.4 L446.5,239.5 L447.5,239.4 L448.5,239.6 L449.5,239.3 L450.5,239.1 L451.5,239.5 L452.5,239.6 L453.5,240.3 L454.5,240.0 L455.5,239.8 L456.5,239.4 L457.5,239.8 L458.5,239.8 L459.5,239.7 L460.5,239.4 L461.5,239.5 L462.5,239.8 L463.5,239.0 L464.5,239.3 L465.5,239.8 L466.5,240.4 L467.5,239.6 L468.5,239.5 L469.5,239.2 L470.5,239.4 L471.5,238.7 L472.5,239.4 L473.5,239.4 L474.5,238.7 L474.7,239.4 L474.7,277.5 Z M485.1,277.5 L485.1,277.5 L486.6,277.5 L490.0,204.4 L491.0,205.0 L492.0,204.4 L493.0,205.1 L494.0,204.5 L495.0,204.5 L496.0,204.5 L497.0,204.9 L498.0,205.1 L498.5,204.4 L499.2,221.9 L500.0,239.4 L501.0,239.2 L502.0,239.7 L503.0,239.7 L504.0,239.5 L505.0,239.1 L506.0,238.4 L507.0,238.2 L508.0,238.7 L509.0,238.9 L510.0,238.9 L511.0,239.3 L512.0,239.4 L513.0,240.1 L514.0,239.4 L515.0,239.6 L516.0,239.3 L517.0,238.4 L518.0,238.7 L519.0,238.7 L520.0,238.8 L521.0,239.4 L522.0,239.7 L523.0,240.1 L524.0,239.8 L525.0,239.4 L526.0,239.1 L527.0,239.0 L528.0,239.4 L529.0,239.4 L529.0,277.5 Z M544.8,277.5 L544.8,277.5 L546.3,277.5 L549.3,201.6 L550.3,202.3 L551.3,201.6 L552.3,201.1 L553.3,202.0 L554.3,202.1 L555.3,202.1 L556.3,201.6 L557.0,221.0 L557.8,240.5 L558.8,240.2 L559.8,240.1 L560.8,241.1 L561.8,240.4 L562.8,240.7 L563.8,240.4 L564.8,241.1 L565.8,240.2 L566.8,241.1 L567.8,240.7 L568.8,240.3 L569.8,240.4 L570.8,240.5 L571.8,240.0 L572.8,239.6 L573.8,239.6 L574.8,240.3 L575.8,240.4 L576.8,240.5 L577.8,240.0 L578.8,241.0 L579.8,241.2 L580.8,239.8 L581.8,239.7 L582.8,240.0 L583.8,240.8 L584.8,240.8 L585.8,240.9 L586.5,240.5 L586.5,277.5 Z M603.0,277.5 L603.0,277.5 L604.5,277.5 L606.7,201.6 L607.7,200.5 L608.7,201.2 L609.7,201.1 L610.7,201.7 L611.7,202.0 L612.7,202.0 L613.7,201.8 L614.7,201.8 L614.8,201.6 L615.5,221.0 L616.3,240.5 L617.3,240.6 L618.3,240.8 L619.3,241.1 L620.3,241.0 L621.3,240.3 L622.3,241.0 L623.3,240.3 L624.3,239.8 L625.3,240.7 L626.3,240.2 L627.3,240.1 L628.3,241.5 L629.3,240.5 L630.3,240.2 L631.3,240.8 L632.3,239.8 L633.3,241.1 L634.3,240.1 L635.3,240.3 L636.3,240.9 L637.3,240.6 L638.3,241.2 L639.3,240.5 L640.3,240.3 L641.3,239.9 L642.3,239.7 L643.3,240.6 L644.3,240.3 L645.3,240.7 L646.3,241.8 L647.3,240.5 L647.5,240.5 L647.5,277.5 Z M664.6,277.5 L664.6,277.5 L666.1,277.5 L668.3,202.7 L669.3,202.2 L670.3,202.4 L671.3,203.3 L672.3,202.8 L673.3,203.3 L674.3,202.3 L675.3,202.0 L675.8,202.7 L676.5,221.6 L677.3,240.5 L678.3,239.9 L679.3,240.0 L680.3,240.0 L681.3,240.5 L682.3,241.2 L683.3,240.6 L684.3,240.8 L685.3,240.9 L686.3,241.5 L687.3,240.4 L688.3,240.5 L689.3,240.8 L690.3,241.0 L691.3,241.4 L692.3,241.5 L693.3,241.4 L694.3,240.8 L695.3,240.3 L696.3,240.2 L697.3,240.7 L698.3,240.4 L699.3,240.3 L700.3,239.9 L701.3,240.9 L702.3,240.4 L703.3,239.8 L704.3,240.1 L705.3,239.8 L706.0,240.5 L707.2,277.5 L707.2,277.5 Z M719.8,277.5 L719.8,277.5 L721.3,277.5 L723.6,204.2 L724.6,204.8 L725.6,204.7 L726.6,204.9 L727.6,204.4 L728.6,203.9 L729.6,203.8 L730.6,203.9 L731.3,204.2 L732.0,222.3 L732.8,240.5 L733.8,240.9 L734.8,240.7 L735.8,241.2 L736.8,240.5 L737.8,241.2 L738.8,241.0 L739.8,239.9 L740.8,240.2 L741.8,240.8 L742.8,240.7 L743.8,241.0 L744.8,241.0 L745.8,240.9 L746.8,241.0 L747.8,240.6 L748.8,240.1 L749.8,240.8 L750.8,241.0 L751.8,241.0 L752.8,240.9 L753.8,240.6 L754.8,240.8 L755.8,241.0 L756.8,241.0 L757.8,240.2 L758.8,240.0 L759.8,239.9 L760.8,240.3 L761.8,240.9 L762.8,240.0 L763.8,239.4 L764.0,240.5 L764.0,277.5 Z M777.2,277.5 L777.2,277.5 L778.7,277.5 L780.7,202.1 L781.7,202.2 L782.7,202.0 L783.7,202.4 L784.7,202.3 L785.7,201.6 L786.7,202.4 L787.7,202.3 L788.7,201.7 L789.0,202.1 L789.8,221.3 L790.5,240.5 L791.5,240.2 L792.5,240.3 L793.5,241.3 L794.5,241.1 L795.5,241.7 L796.5,240.4 L797.5,240.5 L798.5,240.3 L799.5,240.3 L800.5,240.8 L801.5,240.7 L802.5,240.1 L803.5,240.6 L804.5,240.8 L805.5,240.2 L806.5,240.1 L807.5,240.7 L808.5,241.1 L809.5,240.2 L810.5,239.7 L811.5,240.8 L812.5,240.4 L813.5,240.3 L814.5,240.6 L815.5,241.0 L816.5,240.7 L817.5,240.8 L818.5,240.8 L819.5,240.6 L820.5,240.5 L820.5,277.5 Z M836.2,277.5 L836.2,277.5 L837.7,277.5 L838.9,202.4 L839.9,202.1 L840.9,202.6 L841.9,201.5 L842.9,201.7 L843.9,202.7 L844.9,203.2 L845.9,202.2 L846.9,203.0 L847.0,202.4 L847.8,221.5 L848.5,240.5 L849.5,241.1 L850.5,240.5 L851.5,240.6 L852.5,240.5 L853.5,241.5 L854.5,241.1 L855.5,240.5 L856.5,239.6 L857.5,240.1 L858.5,240.4 L859.5,240.4 L860.5,240.1 L861.5,240.1 L862.5,240.8 L863.5,241.5 L864.5,240.9 L865.5,240.8 L866.5,239.8 L867.5,240.7 L868.5,240.3 L869.5,241.3 L870.5,240.4 L871.5,241.1 L872.5,240.7 L873.5,240.7 L874.5,240.5 L875.5,240.5 L876.5,241.0 L877.5,240.4 L878.5,240.9 L879.5,240.7 L879.6,240.5 L880.6,277.5 L880.6,277.5 Z" fill="#EAB839" fill-opacity="0.1"/>
<path d="M47.5,277.5 L49.0,277.5 L53.0,274.6 L54.0,274.6 L55.0,274.6 L56.0,274.7 L57.0,274.6 L58.0,274.6 L59.0,274.7 L60.0,274.5 L61.0,274.7 L62.0,274.7 L63.0,274.6 L64.0,274.6 L65.0,274.6 L66.0,274.6 L67.0,274.6 L68.0,274.6 L69.0,274.6 L70.0,274.7 L71.0,274.5 L72.0,274.6 L73.0,274.7 L74.0,274.6 L75.0,274.6 L76.0,274.6 L77.0,274.5 L78.0,274.6 L79.0,274.6 L80.0,274.7 L81.0,274.6 L82.0,274.6 L83.0,274.6 L84.0,274.6 L85.0,274.7 L86.0,274.6 L87.0,274.5 L88.0,274.6 L89.0,274.6 L90.0,274.7 L91.0,274.6 L91.4,274.6 M100.7,277.5 L102.2,277.5 L107.0,263.1 L108.0,263.2 L109.0,263.0 L110.0,263.1 L111.0,263.1 L111.3,263.1 L112.0,265.1 L112.7,263.1 L113.0,263.1 L114.0,263.1 L115.0,263.0 L116.0,263.0 L117.0,263.1 L118.0,263.0 L119.0,263.1 L120.0,263.1 L121.0,263.0 L122.0,263.1 L123.0,263.1 L124.0,263.1 L125.0,263.1 L126.0,263.0 L127.0,262.9 L128.0,263.1 L129.0,263.1 L130.0,263.1 L131.0,263.0 L132.0,263.0 L133.0,263.0 L134.0,263.0 L135.0,263.1 L136.0,263.1 L137.0,263.1 L138.0,263.0 L139.0,263.2 L140.0,263.1 L141.0,263.0 L142.0,263.0 L143.0,263.0 L144.0,263.1 L144.7,263.1 M154.4,277.5 L155.9,277.5 L160.2,248.6 L161.2,248.7 L162.2,248.6 L163.2,248.6 L164.2,248.6 L165.2,248.6 L166.2,248.6 L167.2,248.6 L168.2,248.5 L169.2,248.6 L170.2,248.5 L171.2,248.6 L172.2,248.6 L173.2,248.6 L174.2,248.6 L175.2,248.5 L176.2,248.7 L177.2,248.7 L178.2,248.7 L179.2,248.5 L180.2,248.6 L181.2,248.6 L182.2,248.6 L183.2,248.7 L184.2,248.6 L185.2,248.6 L186.2,248.6 L187.2,248.6 L188.2,248.6 L189.2,248.6 L190.2,248.7 L191.2,248.6 L192.2,248.6 L193.2,248.8 L194.2,248.6 L195.2,248.6 L196.2,248.7 L197.2,248.6 L197.9,248.6 M210.0,277.5 L211.5,277.5 L216.4,234.2 L217.4,234.2 L218.4,234.2 L219.4,234.2 L220.4,234.2 L221.4,234.2 L222.4,234.2 L223.4,234.2 L223.5,234.2 L224.2,236.6 L225.0,239.1 L226.0,239.2 L227.0,239.1 L228.0,240.4 L229.0,239.5 L230.0,239.6 L231.0,239.6 L232.0,239.9 L233.0,239.7 L234.0,239.9 L235.0,239.9 L236.0,240.4 L237.0,240.5 L238.0,240.7 L239.0,240.8 L240.0,241.0 L241.0,241.5 L242.0,241.5 L243.0,240.8 L244.0,241.4 L245.0,240.8 L246.0,241.2 L247.0,240.4 L248.0,241.5 L249.0,241.4 L250.0,241.6 L251.0,241.8 L252.0,241.2 L253.0,241.5 L253.3,242.0 L254.4,277.5 M263.5,277.5 L265.0,277.5 L270.2,219.8 L271.2,219.8 L272.2,219.8 L273.2,219.8 L274.2,219.8 L275.2,219.8 L276.2,219.8 L277.2,219.8 L278.2,219.8 L278.4,219.8 L279.1,226.1 L279.9,232.5 L280.9,232.7 L281.9,232.6 L282.9,232.5 L283.9,232.4 L284.9,232.4 L285.9,232.3 L286.9,231.4 L287.9,232.5 L288.9,233.3 L289.9,232.3 L290.9,232.6 L291.9,232.7 L292.9,233.1 L293.9,232.7 L294.9,232.7 L295.9,232.3 L296.9,232.6 L297.9,233.1 L298.9,232.4 L299.9,232.5 L300.9,233.3 L301.9,232.8 L302.9,232.2 L303.9,232.4 L304.9,232.6 L305.9,232.2 L306.9,232.7 L307.8,232.5 M319.9,277.5 L321.4,277.5 L326.6,209.9 L327.6,210.2 L328.6,209.4 L329.6,209.7 L330.6,209.6 L331.6,209.6 L332.6,209.8 L333.6,210.8 L334.6,211.1 L334.7,209.9 L335.4,223.9 L336.2,237.9 L337.2,237.8 L338.2,237.9 L339.2,238.2 L340.2,237.7 L341.2,238.0 L342.2,237.8 L343.2,238.2 L344.2,237.9 L345.2,237.7 L346.2,237.8 L347.2,237.3 L348.2,238.0 L349.2,237.2 L350.2,237.8 L351.2,237.9 L352.2,238.2 L353.2,237.1 L354.2,236.9 L355.2,237.9 L356.2,238.6 L357.2,237.7 L358.2,237.3 L359.2,237.9 L360.2,238.0 L361.2,237.7 L362.2,236.8 L363.2,237.7 L364.2,238.0 L364.5,237.9 M374.7,277.5 L376.2,277.5 L380.0,209.9 L381.0,209.9 L382.0,210.3 L383.0,210.3 L384.0,210.0 L385.0,209.7 L386.0,209.4 L387.0,210.0 L388.0,209.8 L389.0,209.9 L389.8,224.8 L390.5,239.7 L391.5,239.4 L392.5,239.2 L393.5,239.4 L394.5,239.5 L395.5,239.8 L396.5,239.7 L397.5,239.7 L398.5,240.4 L399.5,240.2 L400.5,240.9 L401.5,239.8 L402.5,239.3 L403.5,239.7 L404.5,239.6 L405.5,239.6 L406.5,239.7 L407.5,239.0 L408.5,239.6 L409.5,239.5 L410.5,239.6 L411.5,238.8 L412.5,240.1 L413.5,239.7 L414.5,240.2 L415.5,240.1 L416.5,240.2 L417.5,239.5 L418.5,240.1 L418.8,239.7 M429.2,277.5 L430.7,277.5 L434.7,208.2 L435.7,208.7 L436.7,208.0 L437.7,209.0 L438.7,209.0 L439.7,208.4 L440.7,208.6 L441.7,208.4 L442.7,208.6 L443.7,208.8 L444.0,208.2 L444.8,223.8 L445.5,239.4 L446.5,239.5 L447.5,239.4 L448.5,239.6 L449.5,239.3 L450.5,239.1 L451.5,239.5 L452.5,239.6 L453.5,240.3 L454.5,240.0 L455.5,239.8 L456.5,239.4 L457.5,239.8 L458.5,239.8 L459.5,239.7 L460.5,239.4 L461.5,239.5 L462.5,239.8 L463.5,239.0 L464.5,239.3 L465.5,239.8 L466.5,240.4 L467.5,239.6 L468.5,239.5 L469.5,239.2 L470.5,239.4 L471.5,238.7 L472.5,239.4 L473.5,239.4 L474.5,238.7 L474.7,239.4 M485.1,277.5 L486.6,277.5 L490.0,204.4 L491.0,205.0 L492.0,204.4 L493.0,205.1 L494.0,204.5 L495.0,204.5 L496.0,204.5 L497.0,204.9 L498.0,205.1 L498.5,204.4 L499.2,221.9 L500.0,239.4 L501.0,239.2 L502.0,239.7 L503.0,239.7 L504.0,239.5 L505.0,239.1 L506.0,238.4 L507.0,238.2 L508.0,238.7 L509.0,238.9 L510.0,238.9 L511.0,239.3 L512.0,239.4 L513.0,240.1 L514.0,239.4 L515.0,239.6 L516.0,239.3 L517.0,238.4 L518.0,238.7 L519.0,238.7 L520.0,238.8 L521.0,239.4 L522.0,239.7 L523.0,240.1 L524.0,239.8 L525.0,239.4 L526.0,239.1 L527.0,239.0 L528.0,239.4 L529.0,239.4 M544.8,277.5 L546.3,277.5 L549.3,201.6 L550.3,202.3 L551.3,201.6 L552.3,201.1 L553.3,202.0 L554.3,202.1 L555.3,202.1 L556.3,201.6 L557.0,221.0 L557.8,240.5 L558.8,240.2 L559.8,240.1 L560.8,241.1 L561.8,240.4 L562.8,240.7 L563.8,240.4 L564.8,241.1 L565.8,240.2 L566.8,241.1 L567.8,240.7 L568.8,240.3 L569.8,240.4 L570.8,240.5 L571.8,240.0 L572.8,239.6 L573.8,239.6 L574.8,240.3 L575.8,240.4 L576.8,240.5 L577.8,240.0 L578.8,241.0 L579.8,241.2 L580.8,239.8 L581.8,239.7 L582.8,240.0 L583.8,240.8 L584.8,240.8 L585.8,240.9 L586.5,240.5 M603.0,277.5 L604.5,277.5 L606.7,201.6 L607.7,200.5 L608.7,201.2 L609.7,201.1 L610.7,201.7 L611.7,202.0 L612.7,202.0 L613.7,201.8 L614.7,201.8 L614.8,201.6 L615.5,221.0 L616.3,240.5 L617.3,240.6 L618.3,240.8 L619.3,241.1 L620.3,241.0 L621.3,240.3 L622.3,241.0 L623.3,240.3 L624.3,239.8 L625.3,240.7 L626.3,240.2 L627.3,240.1 L628.3,241.5 L629.3,240.5 L630.3,240.2 L631.3,240.8 L632.3,239.8 L633.3,241.1 L634.3,240.1 L635.3,240.3 L636.3,240.9 L637.3,240.6 L638.3,241.2 L639.3,240.5 L640.3,240.3 L641.3,239.9 L642.3,239.7 L643.3,240.6 L644.3,240.3 L645.3,240.7 L646.3,241.8 L647.3,240.5 L647.5,240.5 M664.6,277.5 L666.1,277.5 L668.3,202.7 L669.3,202.2 L670.3,202.4 L671.3,203.3 L672.3,202.8 L673.3,203.3 L674.3,202.3 L675.3,202.0 L675.8,202.7 L676.5,221.6 L677.3,240.5 L678.3,239.9 L679.3,240.0 L680.3,240.0 L681.3,240.5 L682.3,241.2 L683.3,240.6 L684.3,240.8 L685.3,240.9 L686.3,241.5 L687.3,240.4 L688.3,240.5 L689.3,240.8 L690.3,241.0 L691.3,241.4 L692.3,241.5 L693.3,241.4 L694.3,240.8 L695.3,240.3 L696.3,240.2 L697.3,240.7 L698.3,240.4 L699.3,240.3 L700.3,239.9 L701.3,240.9 L702.3,240.4 L703.3,239.8 L704.3,240.1 L705.3,239.8 L706.0,240.5 L707.2,277.5 M719.8,277.5 L721.3,277.5 L723.6,204.2 L724.6,204.8 L725.6,204.7 L726.6,204.9 L727.6,204.4 L728.6,203.9 L729.6,203.8 L730.6,203.9 L731.3,204.2 L732.0,222.3 L732.8,240.5 L733.8,240.9 L734.8,240.7 L735.8,241.2 L736.8,240.5 L737.8,241.2 L738.8,241.0 L739.8,239.9 L740.8,240.2 L741.8,240.8 L742.8,240.7 L743.8,241.0 L744.8,241.0 L745.8,240.9 L746.8,241.0 L747.8,240.6 L748.8,240.1 L749.8,240.8 L750.8,241.0 L751.8,241.0 L752.8,240.9 L753.8,240.6 L754.8,240.8 L755.8,241.0 L756.8,241.0 L757.8,240.2 L758.8,240.0 L759.8,239.9 L760.8,240.3 L761.8,240.9 L762.8,240.0 L763.8,239.4 L764.0,240.5 M777.2,277.5 L778.7,277.5 L780.7,202.1 L781.7,202.2 L782.7,202.0 L783.7,202.4 L784.7,202.3 L785.7,201.6 L786.7,202.4 L787.7,202.3 L788.7,201.7 L789.0,202.1 L789.8,221.3 L790.5,240.5 L791.5,240.2 L792.5,240.3 L793.5,241.3 L794.5,241.1 L795.5,241.7 L796.5,240.4 L797.5,240.5 L798.5,240.3 L799.5,240.3 L800.5,240.8 L801.5,240.7 L802.5,240.1 L803.5,240.6 L804.5,240.8 L805.5,240.2 L806.5,240.1 L807.5,240.7 L808.5,241.1 L809.5,240.2 L810.5,239.7 L811.5,240.8 L812.5,240.4 L813.5,240.3 L814.5,240.6 L815.5,241.0 L816.5,240.7 L817.5,240.8 L818.5,240.8 L819.5,240.6 L820.5,240.5 M836.2,277.5 L837.7,277.5 L838.9,202.4 L839.9,202.1 L840.9,202.6 L841.9,201.5 L842.9,201.7 L843.9,202.7 L844.9,203.2 L845.9,202.2 L846.9,203.0 L847.0,202.4 L847.8,221.5 L848.5,240.5 L849.5,241.1 L850.5,240.5 L851.5,240.6 L852.5,240.5 L853.5,241.5 L854.5,241.1 L855.5,240.5 L856.5,239.6 L857.5,240.1 L858.5,240.4 L859.5,240.4 L860.5,240.1 L861.5,240.1 L862.5,240.8 L863.5,241.5 L864.5,240.9 L865.5,240.8 L866.5,239.8 L867.5,240.7 L868.5,240.3 L869.5,241.3 L870.5,240.4 L871.5,241.1 L872.5,240.7 L873.5,240.7 L874.5,240.5 L875.5,240.5 L876.5,241.0 L877.5,240.4 L878.5,240.9 L879.5,240.7 L879.6,240.5 L880.6,277.5" fill="none" stroke="#EAB839" stroke-width="2" stroke-linejoin="round"/>
<path d="M47.3,277.5 L47.3,277.5 L48.8,277.5 L53.0,274.6 L54.0,274.6 L55.0,274.5 L56.0,274.6 L57.0,274.6 L58.0,274.7 L59.0,274.7 L60.0,274.5 L61.0,274.6 L62.0,274.5 L63.0,274.6 L64.0,274.6 L65.0,274.7 L66.0,274.5 L67.0,274.6 L68.0,274.6 L69.0,274.7 L70.0,274.6 L71.0,274.7 L72.0,274.4 L73.0,274.7 L74.0,274.5 L75.0,274.7 L76.0,274.6 L77.0,274.6 L78.0,274.5 L79.0,274.7 L80.0,274.7 L81.0,274.7 L82.0,274.5 L83.0,274.6 L84.0,274.5 L85.0,274.6 L86.0,274.6 L87.0,274.5 L88.0,274.6 L89.0,274.6 L90.0,274.6 L91.0,274.7 L91.4,274.6 L91.4,277.5 Z M101.6,277.5 L101.6,277.5 L103.1,277.5 L107.0,263.1 L108.0,263.0 L109.0,263.1 L110.0,263.1 L111.0,263.0 L112.0,263.1 L113.0,263.1 L114.0,263.0 L115.0,263.1 L116.0,263.1 L117.0,263.1 L118.0,263.1 L119.0,263.1 L120.0,263.1 L121.0,263.1 L122.0,263.1 L123.0,263.1 L124.0,263.1 L125.0,263.1 L126.0,263.0 L127.0,263.1 L128.0,263.2 L129.0,263.1 L130.0,263.0 L131.0,263.2 L132.0,263.1 L133.0,263.1 L134.0,263.2 L135.0,263.0 L136.0,263.1 L137.0,263.1 L138.0,263.1 L139.0,263.1 L140.0,263.1 L141.0,263.0 L142.0,263.1 L143.0,263.2 L144.0,263.1 L144.7,263.1 L144.7,277.5 Z M154.5,277.5 L154.5,277.5 L156.0,277.5 L160.2,248.6 L161.2,248.5 L162.2,248.7 L163.2,248.6 L164.2,248.5 L165.2,248.6 L166.2,248.6 L167.2,248.6 L168.2,248.6 L169.2,248.5 L170.2,248.7 L171.2,248.6 L172.2,248.6 L173.2,248.6 L174.2,248.6 L175.2,248.7 L176.2,248.6 L177.2,248.6 L178.2,248.5 L179.2,248.6 L180.2,248.7 L181.2,248.5 L182.2,248.6 L183.2,248.6 L184.2,248.6 L185.2,248.6 L186.2,248.6 L187.2,248.6 L188.2,248.6 L189.2,248.7 L190.2,248.5 L191.2,248.7 L192.2,248.6 L193.2,248.6 L194.2,248.6 L195.2,248.6 L196.2,248.6 L197.2,248.6 L197.9,248.6 L199.0,277.5 L199.0,277.5 Z M209.9,277.5 L209.9,277.5 L211.4,277.5 L216.4,234.2 L217.4,234.0 L218.4,234.1 L219.4,234.3 L220.4,234.3 L221.4,234.1 L222.4,234.3 L223.4,234.3 L224.4,234.0 L225.4,234.2 L226.4,234.2 L227.4,234.2 L228.4,234.3 L229.4,233.9 L230.4,234.2 L231.4,234.2 L232.4,234.4 L233.4,234.3 L234.4,234.5 L235.4,234.1 L236.4,234.1 L237.4,234.1 L238.4,234.3 L239.4,234.2 L240.4,234.1 L241.4,234.3 L242.4,234.5 L243.4,233.8 L244.4,234.1 L245.4,234.0 L246.4,234.0 L247.4,234.3 L248.4,234.2 L249.4,234.3 L250.4,234.0 L251.4,234.2 L252.4,234.3 L253.3,234.2 L254.4,274.0 L254.4,277.5 Z M264.1,277.5 L264.1,277.5 L265.6,277.5 L270.2,219.8 L271.2,219.6 L272.2,219.8 L273.2,219.4 L274.2,219.5 L275.2,219.6 L276.2,219.8 L277.2,220.2 L278.2,219.8 L279.2,219.8 L280.2,219.6 L281.2,219.6 L282.2,219.7 L283.2,219.9 L284.2,219.9 L285.2,219.6 L286.2,219.9 L287.2,219.8 L288.2,219.5 L289.2,219.6 L290.2,219.6 L291.2,219.8 L292.2,219.9 L293.2,220.4 L294.2,220.1 L295.2,219.8 L296.2,219.9 L297.2,219.8 L298.2,219.8 L299.2,219.5 L300.2,219.5 L301.2,219.8 L302.2,220.0 L303.2,219.9 L304.2,219.8 L305.2,219.6 L306.2,220.0 L307.2,219.6 L307.8,219.8 L307.8,277.5 Z M320.0,277.5 L320.0,277.5 L321.5,277.5 L327.0,205.3 L328.0,205.6 L329.0,205.2 L330.0,205.5 L331.0,205.6 L332.0,205.6 L333.0,205.0 L334.0,205.4 L334.4,205.4 L335.0,200.7 L335.6,205.4 L336.0,205.2 L337.0,205.2 L338.0,205.5 L339.0,205.2 L340.0,205.1 L341.0,205.6 L342.0,205.1 L343.0,205.2 L344.0,205.1 L345.0,205.2 L346.0,205.3 L347.0,205.5 L348.0,205.2 L349.0,205.2 L350.0,205.2 L351.0,205.4 L352.0,205.1 L353.0,205.1 L354.0,205.1 L355.0,205.4 L356.0,205.2 L357.0,205.1 L358.0,205.6 L359.0,205.5 L360.0,205.3 L361.0,205.6 L362.0,205.3 L363.0,205.3 L364.0,205.6 L364.5,205.3 L365.6,277.5 L365.6,277.5 Z M374.8,277.5 L374.8,277.5 L376.3,277.5 L381.1,190.9 L382.1,190.5 L383.1,190.3 L384.1,191.1 L385.1,190.9 L386.1,190.6 L387.1,190.6 L388.1,190.8 L389.0,190.8 L389.6,186.8 L390.2,190.8 L391.1,190.8 L392.1,191.0 L393.1,190.6 L394.1,190.9 L395.1,190.9 L396.1,190.8 L397.1,190.8 L398.1,190.6 L399.1,191.3 L400.1,190.7 L401.1,191.1 L402.1,191.2 L403.1,190.5 L404.1,190.9 L405.1,191.2 L406.1,191.0 L407.1,191.3 L408.1,191.0 L409.1,190.9 L410.1,190.9 L411.1,191.3 L412.1,190.8 L413.1,190.7 L414.1,190.8 L415.1,191.2 L416.1,190.5 L417.1,190.8 L418.1,190.9 L418.8,190.9 L418.8,277.5 Z M429.7,277.5 L429.7,277.5 L431.2,277.5 L436.5,176.4 L437.5,176.4 L437.9,176.4 L438.5,173.6 L439.1,176.4 L439.5,176.4 L440.5,176.4 L441.5,176.4 L442.5,176.4 L443.5,176.4 L444.0,176.4 L444.8,177.4 L445.5,178.5 L446.5,178.2 L447.5,179.0 L448.5,178.5 L449.5,178.1 L450.5,177.5 L451.5,177.7 L452.5,177.0 L453.5,177.5 L454.5,178.2 L455.5,178.2 L456.5,178.3 L457.5,178.9 L458.5,178.7 L459.5,178.4 L460.5,179.0 L461.5,178.6 L462.5,178.2 L463.5,177.4 L464.5,178.2 L465.5,178.6 L466.5,178.9 L467.5,179.5 L468.5,178.4 L469.5,178.7 L470.5,178.9 L471.5,179.2 L472.5,177.8 L473.5,177.5 L474.5,177.9 L474.7,178.5 L474.7,277.5 Z M485.0,277.5 L485.0,277.5 L486.5,277.5 L492.0,162.0 L493.0,162.0 L494.0,162.0 L495.0,162.0 L496.0,162.0 L497.0,162.0 L498.0,162.0 L498.5,162.0 L499.2,171.0 L500.0,179.9 L501.0,180.6 L502.0,180.2 L503.0,179.5 L504.0,180.0 L505.0,179.9 L506.0,180.8 L507.0,180.2 L508.0,180.2 L509.0,180.2 L510.0,180.5 L511.0,179.2 L512.0,178.8 L513.0,179.6 L514.0,179.2 L515.0,179.8 L516.0,179.6 L517.0,180.0 L518.0,179.2 L519.0,180.3 L520.0,180.8 L521.0,179.9 L522.0,179.5 L523.0,179.4 L524.0,180.4 L525.0,180.1 L526.0,180.6 L527.0,180.2 L528.0,179.9 L529.0,179.9 L529.0,277.5 Z M543.3,277.5 L543.3,277.5 L544.8,277.5 L549.5,147.6 L550.5,147.6 L551.5,147.6 L552.5,147.6 L553.5,147.6 L554.5,147.6 L555.5,147.6 L556.3,147.6 L557.0,158.7 L557.8,169.8 L558.8,174.1 L560.3,171.1 L560.9,168.5 L561.5,170.6 L562.1,169.6 L562.7,168.4 L563.3,170.0 L563.9,170.6 L564.5,171.4 L565.1,168.5 L565.7,169.8 L566.3,168.4 L566.9,169.5 L567.5,169.7 L568.1,169.0 L568.7,169.5 L569.3,168.6 L569.9,170.2 L570.5,170.4 L571.1,169.8 L571.7,170.3 L572.3,170.0 L572.9,169.0 L573.5,169.3 L574.1,169.8 L574.7,168.0 L575.3,171.0 L575.9,170.5 L576.5,170.0 L577.1,168.8 L577.7,169.1 L578.3,169.2 L578.9,168.2 L579.5,169.7 L580.1,170.5 L580.7,168.7 L581.3,168.1 L581.9,170.6 L582.5,170.5 L583.1,170.0 L583.7,169.4 L584.3,169.6 L584.9,169.0 L585.5,171.3 L586.1,170.4 L586.5,169.8 L586.5,277.5 Z M603.0,277.5 L603.0,277.5 L604.5,277.5 L608.8,133.1 L609.8,133.1 L610.8,133.1 L611.8,133.1 L612.8,133.1 L613.8,133.1 L614.8,133.1 L615.6,133.1 L616.3,149.7 L617.1,166.3 L618.1,170.7 L619.6,167.6 L620.6,167.2 L621.6,166.7 L622.6,166.5 L623.6,165.6 L624.6,165.9 L625.6,165.6 L626.6,166.1 L627.6,167.0 L628.6,165.6 L629.6,166.3 L630.6,166.0 L631.6,166.4 L632.6,166.6 L633.6,165.1 L634.6,166.1 L635.6,165.5 L636.6,166.1 L637.6,166.1 L638.6,165.9 L639.6,166.3 L640.6,166.9 L641.6,166.6 L642.6,166.8 L643.6,167.5 L644.6,167.2 L645.6,166.8 L646.6,165.4 L647.5,166.3 L647.5,277.5 Z M664.7,277.5 L664.7,277.5 L666.2,277.5 L670.1,142.4 L671.1,142.5 L672.1,142.5 L673.1,142.4 L674.1,142.2 L675.1,142.1 L675.8,142.4 L676.5,159.5 L677.3,176.7 L678.3,180.2 L679.8,177.8 L680.8,176.0 L681.8,176.1 L682.8,177.5 L683.8,176.6 L684.8,176.9 L685.8,176.2 L686.8,176.8 L687.8,177.2 L688.8,177.7 L689.8,177.1 L690.8,176.4 L691.8,177.1 L692.8,176.6 L693.8,176.9 L694.8,177.9 L695.8,177.2 L696.8,177.0 L697.8,176.5 L698.8,177.6 L699.8,176.6 L700.8,176.7 L701.8,176.2 L702.8,176.8 L703.8,177.1 L704.8,177.0 L705.8,176.8 L706.0,176.7 L706.0,277.5 Z M719.2,277.5 L719.2,277.5 L720.7,277.5 L725.5,142.4 L726.5,141.8 L727.5,142.2 L728.5,141.6 L729.5,142.5 L730.5,142.2 L731.3,142.4 L732.0,159.5 L732.8,176.7 L733.8,182.5 L735.3,178.5 L736.3,177.0 L737.3,177.2 L738.3,176.5 L739.3,176.5 L740.3,177.4 L741.3,176.5 L742.3,175.6 L743.3,175.9 L744.3,175.2 L745.3,175.6 L746.3,175.9 L747.3,176.4 L748.3,177.1 L749.3,176.1 L750.3,176.2 L751.3,176.4 L752.3,176.0 L753.3,177.7 L754.3,176.8 L755.3,176.6 L756.3,177.0 L757.3,176.3 L758.3,177.2 L759.3,178.1 L760.3,177.5 L761.3,177.3 L762.3,176.9 L763.3,176.6 L764.0,176.7 L764.0,277.5 Z M777.7,277.5 L777.7,277.5 L779.2,277.5 L782.3,145.5 L783.3,144.8 L784.3,146.2 L785.3,146.0 L786.3,145.4 L787.3,145.2 L788.3,145.8 L789.0,145.5 L789.8,154.5 L790.5,163.4 L791.5,167.8 L793.0,164.7 L794.0,164.5 L795.0,163.1 L796.0,162.8 L797.0,163.2 L798.0,163.2 L799.0,162.8 L800.0,161.9 L801.0,163.6 L802.0,163.5 L803.0,164.6 L804.0,164.5 L805.0,163.1 L806.0,163.5 L807.0,164.7 L808.0,164.6 L809.0,162.9 L810.0,163.0 L811.0,162.6 L812.0,162.3 L813.0,163.4 L814.0,163.4 L815.0,163.8 L816.0,164.1 L817.0,163.1 L818.0,163.2 L819.0,163.8 L820.0,164.5 L820.5,163.4 L820.5,277.5 Z M836.1,277.5 L836.1,277.5 L837.6,277.5 L839.6,148.4 L840.6,148.7 L841.6,148.5 L842.6,148.2 L843.6,148.6 L844.6,148.2 L845.6,149.0 L846.6,148.9 L847.0,148.4 L847.8,161.6 L848.5,174.7 L849.5,179.0 L851.0,176.0 L852.0,173.5 L853.0,174.0 L854.0,174.2 L855.0,174.7 L856.0,174.9 L857.0,173.3 L858.0,174.0 L859.0,174.4 L860.0,175.4 L861.0,174.1 L862.0,173.9 L863.0,174.2 L864.0,174.5 L865.0,175.5 L866.0,175.7 L867.0,174.7 L868.0,174.9 L869.0,175.4 L870.0,175.0 L871.0,174.0 L872.0,174.4 L873.0,174.9 L874.0,175.1 L875.0,175.3 L876.0,174.6 L877.0,174.2 L878.0,173.6 L879.0,173.9 L879.6,174.7 L880.6,205.3 L880.6,277.5 Z" fill="#6ED0E0" fill-opacity="0.1"/>
<path d="M47.3,277.5 L48.8,277.5 L53.0,274.6 L54.0,274.6 L55.0,274.5 L56.0,274.6 L57.0,274.6 L58.0,274.7 L59.0,274.7 L60.0,274.5 L61.0,274.6 L62.0,274.5 L63.0,274.6 L64.0,274.6 L65.0,274.7 L66.0,274.5 L67.0,274.6 L68.0,274.6 L69.0,274.7 L70.0,274.6 L71.0,274.7 L72.0,274.4 L73.0,274.7 L74.0,274.5 L75.0,274.7 L76.0,274.6 L77.0,274.6 L78.0,274.5 L79.0,274.7 L80.0,274.7 L81.0,274.7 L82.0,274.5 L83.0,274.6 L84.0,274.5 L85.0,274.6 L86.0,274.6 L87.0,274.5 L88.0,274.6 L89.0,274.6 L90.0,274.6 L91.0,274.7 L91.4,274.6 M101.6,277.5 L103.1,277.5 L107.0,263.1 L108.0,263.0 L109.0,263.1 L110.0,263.1 L111.0,263.0 L112.0,263.1 L113.0,263.1 L114.0,263.0 L115.0,263.1 L116.0,263.1 L117.0,263.1 L118.0,263.1 L119.0,263.1 L120.0,263.1 L121.0,263.1 L122.0,263.1 L123.0,263.1 L124.0,263.1 L125.0,263.1 L126.0,263.0 L127.0,263.1 L128.0,263.2 L129.0,263.1 L130.0,263.0 L131.0,263.2 L132.0,263.1 L133.0,263.1 L134.0,263.2 L135.0,263.0 L136.0,263.1 L137.0,263.1 L138.0,263.1 L139.0,263.1 L140.0,263.1 L141.0,263.0 L142.0,263.1 L143.0,263.2 L144.0,263.1 L144.7,263.1 M154.5,277.5 L156.0,277.5 L160.2,248.6 L161.2,248.5 L162.2,248.7 L163.2,248.6 L164.2,248.5 L165.2,248.6 L166.2,248.6 L167.2,248.6 L168.2,248.6 L169.2,248.5 L170.2,248.7 L171.2,248.6 L172.2,248.6 L173.2,248.6 L174.2,248.6 L175.2,248.7 L176.2,248.6 L177.2,248.6 L178.2,248.5 L179.2,248.6 L180.2,248.7 L181.2,248.5 L182.2,248.6 L183.2,248.6 L184.2,248.6 L185.2,248.6 L186.2,248.6 L187.2,248.6 L188.2,248.6 L189.2,248.7 L190.2,248.5 L191.2,248.7 L192.2,248.6 L193.2,248.6 L194.2,248.6 L195.2,248.6 L196.2,248.6 L197.2,248.6 L197.9,248.6 L199.0,277.5 M209.9,277.5 L211.4,277.5 L216.4,234.2 L217.4,234.0 L218.4,234.1 L219.4,234.3 L220.4,234.3 L221.4,234.1 L222.4,234.3 L223.4,234.3 L224.4,234.0 L225.4,234.2 L226.4,234.2 L227.4,234.2 L228.4,234.3 L229.4,233.9 L230.4,234.2 L231.4,234.2 L232.4,234.4 L233.4,234.3 L234.4,234.5 L235.4,234.1 L236.4,234.1 L237.4,234.1 L238.4,234.3 L239.4,234.2 L240.4,234.1 L241.4,234.3 L242.4,234.5 L243.4,233.8 L244.4,234.1 L245.4,234.0 L246.4,234.0 L247.4,234.3 L248.4,234.2 L249.4,234.3 L250.4,234.0 L251.4,234.2 L252.4,234.3 L253.3,234.2 L254.4,274.0 M264.1,277.5 L265.6,277.5 L270.2,219.8 L271.2,219.6 L272.2,219.8 L273.2,219.4 L274.2,219.5 L275.2,219.6 L276.2,219.8 L277.2,220.2 L278.2,219.8 L279.2,219.8 L280.2,219.6 L281.2,219.6 L282.2,219.7 L283.2,219.9 L284.2,219.9 L285.2,219.6 L286.2,219.9 L287.2,219.8 L288.2,219.5 L289.2,219.6 L290.2,219.6 L291.2,219.8 L292.2,219.9 L293.2,220.4 L294.2,220.1 L295.2,219.8 L296.2,219.9 L297.2,219.8 L298.2,219.8 L299.2,219.5 L300.2,219.5 L301.2,219.8 L302.2,220.0 L303.2,219.9 L304.2,219.8 L305.2,219.6 L306.2,220.0 L307.2,219.6 L307.8,219.8 M320.0,277.5 L321.5,277.5 L327.0,205.3 L328.0,205.6 L329.0,205.2 L330.0,205.5 L331.0,205.6 L332.0,205.6 L333.0,205.0 L334.0,205.4 L334.4,205.4 L335.0,200.7 L335.6,205.4 L336.0,205.2 L337.0,205.2 L338.0,205.5 L339.0,205.2 L340.0,205.1 L341.0,205.6 L342.0,205.1 L343.0,205.2 L344.0,205.1 L345.0,205.2 L346.0,205.3 L347.0,205.5 L348.0,205.2 L349.0,205.2 L350.0,205.2 L351.0,205.4 L352.0,205.1 L353.0,205.1 L354.0,205.1 L355.0,205.4 L356.0,205.2 L357.0,205.1 L358.0,205.6 L359.0,205.5 L360.0,205.3 L361.0,205.6 L362.0,205.3 L363.0,205.3 L364.0,205.6 L364.5,205.3 L365.6,277.5 M374.8,277.5 L376.3,277.5 L381.1,190.9 L382.1,190.5 L383.1,190.3 L384.1,191.1 L385.1,190.9 L386.1,190.6 L387.1,190.6 L388.1,190.8 L389.0,190.8 L389.6,186.8 L390.2,190.8 L391.1,190.8 L392.1,191.0 L393.1,190.6 L394.1,190.9 L395.1,190.9 L396.1,190.8 L397.1,190.8 L398.1,190.6 L399.1,191.3 L400.1,190.7 L401.1,191.1 L402.1,191.2 L403.1,190.5 L404.1,190.9 L405.1,191.2 L406.1,191.0 L407.1,191.3 L408.1,191.0 L409.1,190.9 L410.1,190.9 L411.1,191.3 L412.1,190.8 L413.1,190.7 L414.1,190.8 L415.1,191.2 L416.1,190.5 L417.1,190.8 L418.1,190.9 L418.8,190.9 M429.7,277.5 L431.2,277.5 L436.5,176.4 L437.5,176.4 L437.9,176.4 L438.5,173.6 L439.1,176.4 L439.5,176.4 L440.5,176.4 L441.5,176.4 L442.5,176.4 L443.5,176.4 L444.0,176.4 L444.8,177.4 L445.5,178.5 L446.5,178.2 L447.5,179.0 L448.5,178.5 L449.5,178.1 L450.5,177.5 L451.5,177.7 L452.5,177.0 L453.5,177.5 L454.5,178.2 L455.5,178.2 L456.5,178.3 L457.5,178.9 L458.5,178.7 L459.5,178.4 L460.5,179.0 L461.5,178.6 L462.5,178.2 L463.5,177.4 L464.5,178.2 L465.5,178.6 L466.5,178.9 L467.5,179.5 L468.5,178.4 L469.5,178.7 L470.5,178.9 L471.5,179.2 L472.5,177.8 L473.5,177.5 L474.5,177.9 L474.7,178.5 M485.0,277.5 L486.5,277.5 L492.0,162.0 L493.0,162.0 L494.0,162.0 L495.0,162.0 L496.0,162.0 L497.0,162.0 L498.0,162.0 L498.5,162.0 L499.2,171.0 L500.0,179.9 L501.0,180.6 L502.0,180.2 L503.0,179.5 L504.0,180.0 L505.0,179.9 L506.0,180.8 L507.0,180.2 L508.0,180.2 L509.0,180.2 L510.0,180.5 L511.0,179.2 L512.0,178.8 L513.0,179.6 L514.0,179.2 L515.0,179.8 L516.0,179.6 L517.0,180.0 L518.0,179.2 L519.0,180.3 L520.0,180.8 L521.0,179.9 L522.0,179.5 L523.0,179.4 L524.0,180.4 L525.0,180.1 L526.0,180.6 L527.0,180.2 L528.0,179.9 L529.0,179.9 M543.3,277.5 L544.8,277.5 L549.5,147.6 L550.5,147.6 L551.5,147.6 L552.5,147.6 L553.5,147.6 L554.5,147.6 L555.5,147.6 L556.3,147.6 L557.0,158.7 L557.8,169.8 L558.8,174.1 L560.3,171.1 L560.9,168.5 L561.5,170.6 L562.1,169.6 L562.7,168.4 L563.3,170.0 L563.9,170.6 L564.5,171.4 L565.1,168.5 L565.7,169.8 L566.3,168.4 L566.9,169.5 L567.5,169.7 L568.1,169.0 L568.7,169.5 L569.3,168.6 L569.9,170.2 L570.5,170.4 L571.1,169.8 L571.7,170.3 L572.3,170.0 L572.9,169.0 L573.5,169.3 L574.1,169.8 L574.7,168.0 L575.3,171.0 L575.9,170.5 L576.5,170.0 L577.1,168.8 L577.7,169.1 L578.3,169.2 L578.9,168.2 L579.5,169.7 L580.1,170.5 L580.7,168.7 L581.3,168.1 L581.9,170.6 L582.5,170.5 L583.1,170.0 L583.7,169.4 L584.3,169.6 L584.9,169.0 L585.5,171.3 L586.1,170.4 L586.5,169.8 M603.0,277.5 L604.5,277.5 L608.8,133.1 L609.8,133.1 L610.8,133.1 L611.8,133.1 L612.8,133.1 L613.8,133.1 L614.8,133.1 L615.6,133.1 L616.3,149.7 L617.1,166.3 L618.1,170.7 L619.6,167.6 L620.6,167.2 L621.6,166.7 L622.6,166.5 L623.6,165.6 L624.6,165.9 L625.6,165.6 L626.6,166.1 L627.6,167.0 L628.6,165.6 L629.6,166.3 L630.6,166.0 L631.6,166.4 L632.6,166.6 L633.6,165.1 L634.6,166.1 L635.6,165.5 L636.6,166.1 L637.6,166.1 L638.6,165.9 L639.6,166.3 L640.6,166.9 L641.6,166.6 L642.6,166.8 L643.6,167.5 L644.6,167.2 L645.6,166.8 L646.6,165.4 L647.5,166.3 M664.7,277.5 L666.2,277.5 L670.1,142.4 L671.1,142.5 L672.1,142.5 L673.1,142.4 L674.1,142.2 L675.1,142.1 L675.8,142.4 L676.5,159.5 L677.3,176.7 L678.3,180.2 L679.8,177.8 L680.8,176.0 L681.8,176.1 L682.8,177.5 L683.8,176.6 L684.8,176.9 L685.8,176.2 L686.8,176.8 L687.8,177.2 L688.8,177.7 L689.8,177.1 L690.8,176.4 L691.8,177.1 L692.8,176.6 L693.8,176.9 L694.8,177.9 L695.8,177.2 L696.8,177.0 L697.8,176.5 L698.8,177.6 L699.8,176.6 L700.8,176.7 L701.8,176.2 L702.8,176.8 L703.8,177.1 L704.8,177.0 L705.8,176.8 L706.0,176.7 M719.2,277.5 L720.7,277.5 L725.5,142.4 L726.5,141.8 L727.5,142.2 L728.5,141.6 L729.5,142.5 L730.5,142.2 L731.3,142.4 L732.0,159.5 L732.8,176.7 L733.8,182.5 L735.3,178.5 L736.3,177.0 L737.3,177.2 L738.3,176.5 L739.3,176.5 L740.3,177.4 L741.3,176.5 L742.3,175.6 L743.3,175.9 L744.3,175.2 L745.3,175.6 L746.3,175.9 L747.3,176.4 L748.3,177.1 L749.3,176.1 L750.3,176.2 L751.3,176.4 L752.3,176.0 L753.3,177.7 L754.3,176.8 L755.3,176.6 L756.3,177.0 L757.3,176.3 L758.3,177.2 L759.3,178.1 L760.3,177.5 L761.3,177.3 L762.3,176.9 L763.3,176.6 L764.0,176.7 M777.7,277.5 L779.2,277.5 L782.3,145.5 L783.3,144.8 L784.3,146.2 L785.3,146.0 L786.3,145.4 L787.3,145.2 L788.3,145.8 L789.0,145.5 L789.8,154.5 L790.5,163.4 L791.5,167.8 L793.0,164.7 L794.0,164.5 L795.0,163.1 L796.0,162.8 L797.0,163.2 L798.0,163.2 L799.0,162.8 L800.0,161.9 L801.0,163.6 L802.0,163.5 L803.0,164.6 L804.0,164.5 L805.0,163.1 L806.0,163.5 L807.0,164.7 L808.0,164.6 L809.0,162.9 L810.0,163.0 L811.0,162.6 L812.0,162.3 L813.0,163.4 L814.0,163.4 L815.0,163.8 L816.0,164.1 L817.0,163.1 L818.0,163.2 L819.0,163.8 L820.0,164.5 L820.5,163.4 M836.1,277.5 L837.6,277.5 L839.6,148.4 L840.6,148.7 L841.6,148.5 L842.6,148.2 L843.6,148.6 L844.6,148.2 L845.6,149.0 L846.6,148.9 L847.0,148.4 L847.8,161.6 L848.5,174.7 L849.5,179.0 L851.0,176.0 L852.0,173.5 L853.0,174.0 L854.0,174.2 L855.0,174.7 L856.0,174.9 L857.0,173.3 L858.0,174.0 L859.0,174.4 L860.0,175.4 L861.0,174.1 L862.0,173.9 L863.0,174.2 L864.0,174.5 L865.0,175.5 L866.0,175.7 L867.0,174.7 L868.0,174.9 L869.0,175.4 L870.0,175.0 L871.0,174.0 L872.0,174.4 L873.0,174.9 L874.0,175.1 L875.0,175.3 L876.0,174.6 L877.0,174.2 L878.0,173.6 L879.0,173.9 L879.6,174.7 L880.6,205.3" fill="none" stroke="#6ED0E0" stroke-width="2" stroke-linejoin="round"/>
<path d="M47.2,277.5 L47.2,277.5 L48.7,277.5 L53.0,274.6 L54.0,274.7 L55.0,274.6 L56.0,274.6 L57.0,274.7 L58.0,274.5 L59.0,274.6 L60.0,274.6 L61.0,274.5 L62.0,274.5 L63.0,274.5 L64.0,274.6 L65.0,274.6 L66.0,274.6 L67.0,274.6 L68.0,274.6 L69.0,274.6 L70.0,274.6 L71.0,274.6 L72.0,274.7 L73.0,274.5 L74.0,274.6 L75.0,274.7 L76.0,274.6 L77.0,274.6 L78.0,274.6 L79.0,274.7 L80.0,274.6 L81.0,274.6 L82.0,274.6 L83.0,274.5 L84.0,274.6 L85.0,274.6 L86.0,274.6 L87.0,274.7 L88.0,274.6 L89.0,274.6 L90.0,274.6 L91.0,274.6 L91.4,274.6 L91.4,277.5 Z M100.7,277.5 L100.7,277.5 L102.2,277.5 L107.0,263.1 L108.0,263.1 L109.0,263.1 L110.0,263.0 L111.0,263.0 L112.0,263.1 L113.0,263.0 L114.0,263.0 L115.0,263.1 L116.0,263.2 L117.0,263.1 L118.0,263.1 L119.0,263.1 L120.0,263.0 L121.0,263.1 L122.0,263.2 L123.0,263.0 L124.0,263.1 L125.0,263.0 L126.0,263.1 L127.0,263.0 L128.0,263.0 L129.0,263.1 L130.0,263.0 L131.0,263.0 L132.0,263.0 L133.0,263.1 L134.0,263.0 L135.0,263.1 L136.0,263.0 L137.0,263.0 L138.0,263.1 L139.0,263.1 L140.0,263.0 L141.0,263.2 L142.0,263.1 L143.0,263.1 L144.0,263.0 L144.7,263.1 L144.7,277.5 Z M154.5,277.5 L154.5,277.5 L156.0,277.5 L160.2,248.6 L161.2,248.7 L162.2,248.7 L163.2,248.6 L164.2,248.6 L165.2,248.6 L166.2,248.6 L167.2,248.6 L168.2,248.7 L169.2,248.5 L170.2,248.6 L171.2,248.7 L172.2,248.6 L173.2,248.9 L174.2,248.7 L175.2,248.6 L176.2,248.6 L177.2,248.6 L178.2,248.6 L179.2,248.7 L180.2,248.7 L181.2,248.5 L182.2,248.5 L183.2,248.6 L184.2,248.7 L185.2,248.8 L186.2,248.6 L187.2,248.7 L188.2,248.6 L189.2,248.6 L190.2,248.5 L191.2,248.7 L192.2,248.6 L193.2,248.6 L194.2,248.6 L195.2,248.6 L196.2,248.6 L197.2,248.6 L197.9,248.6 L197.9,277.5 Z M209.6,277.5 L209.6,277.5 L211.1,277.5 L216.4,234.2 L217.4,234.1 L218.4,234.3 L219.4,234.3 L220.4,234.4 L221.4,234.2 L222.4,234.3 L223.4,234.2 L224.4,234.3 L225.4,234.0 L226.4,234.0 L227.4,233.9 L228.4,234.4 L229.4,233.9 L230.4,234.5 L231.4,234.4 L232.4,234.6 L233.4,233.8 L234.4,234.3 L235.4,234.1 L236.4,234.1 L237.4,234.4 L238.4,234.1 L239.4,234.6 L240.4,234.1 L241.4,234.5 L242.4,234.5 L243.4,234.1 L244.4,234.2 L245.4,234.3 L246.4,233.6 L247.4,234.0 L248.4,234.1 L249.4,234.0 L250.4,233.9 L251.4,234.6 L252.4,234.1 L253.3,234.2 L253.3,277.5 Z M319.3,277.5 L319.3,277.5 L320.8,277.5 L327.0,205.3 L328.0,205.2 L329.0,205.4 L330.0,205.7 L331.0,205.8 L332.0,205.5 L333.0,205.2 L334.0,205.1 L335.0,205.3 L336.0,205.1 L337.0,205.3 L338.0,205.3 L339.0,205.3 L340.0,205.1 L341.0,205.5 L342.0,205.7 L343.0,205.0 L344.0,205.3 L345.0,205.2 L346.0,205.1 L347.0,205.2 L348.0,205.3 L349.0,205.0 L350.0,205.1 L351.0,205.4 L352.0,205.3 L353.0,205.4 L354.0,205.3 L355.0,205.4 L356.0,205.2 L357.0,205.5 L358.0,205.4 L359.0,205.2 L360.0,205.3 L361.0,205.0 L362.0,205.4 L363.0,205.3 L364.0,205.3 L364.5,205.3 L364.5,277.5 Z M374.5,277.5 L374.5,277.5 L376.0,277.5 L381.1,190.9 L382.1,190.7 L383.1,190.7 L384.1,190.7 L385.1,190.9 L386.1,190.9 L387.1,190.9 L388.1,191.0 L389.1,191.2 L390.1,190.9 L391.1,191.0 L392.1,190.5 L393.1,190.7 L394.1,190.8 L395.1,190.8 L396.1,190.9 L397.1,191.0 L398.1,191.3 L399.1,190.9 L400.1,191.0 L401.1,191.1 L402.1,191.1 L403.1,190.9 L404.1,190.8 L405.1,190.6 L406.1,191.2 L407.1,190.9 L408.1,190.8 L409.1,190.8 L410.1,191.0 L411.1,190.3 L412.1,190.7 L413.1,190.8 L414.1,190.7 L415.1,191.1 L416.1,191.1 L417.1,190.9 L418.1,191.0 L418.8,190.9 L418.8,277.5 Z M428.8,277.5 L428.8,277.5 L430.3,277.5 L436.5,176.4 L437.5,176.5 L438.5,176.3 L439.5,176.4 L440.5,176.6 L441.5,176.6 L442.5,176.4 L443.5,176.8 L444.5,176.4 L445.5,175.9 L446.5,175.9 L447.5,176.8 L448.5,176.4 L449.5,176.6 L450.5,176.4 L451.5,176.5 L452.5,176.5 L453.5,176.4 L454.5,176.3 L455.5,176.4 L456.5,176.3 L457.5,176.2 L458.5,176.0 L459.5,176.3 L460.5,176.4 L461.5,176.2 L462.5,176.3 L463.5,176.2 L464.5,176.6 L465.5,176.7 L466.5,176.2 L467.5,176.7 L468.5,176.6 L469.5,176.5 L470.5,176.6 L471.5,176.3 L472.5,176.4 L473.5,176.4 L474.5,176.1 L474.7,176.4 L474.7,277.5 Z M484.9,277.5 L484.9,277.5 L486.4,277.5 L492.0,162.0 L493.0,161.8 L494.0,161.9 L495.0,162.2 L496.0,162.1 L497.0,162.0 L498.0,161.4 L499.0,161.9 L500.0,162.3 L501.0,161.8 L502.0,162.4 L503.0,161.7 L504.0,162.2 L505.0,162.0 L506.0,162.0 L507.0,162.1 L508.0,161.8 L509.0,162.0 L510.0,162.1 L511.0,162.0 L512.0,162.2 L513.0,161.8 L514.0,161.9 L515.0,162.0 L516.0,161.7 L517.0,162.0 L518.0,161.8 L519.0,161.9 L520.0,162.2 L521.0,162.0 L522.0,162.1 L523.0,162.1 L524.0,161.9 L525.0,162.0 L526.0,161.8 L527.0,161.8 L528.0,162.2 L529.0,162.0 L530.0,192.0 L530.0,277.5 Z M544.4,277.5 L544.4,277.5 L545.9,277.5 L551.5,147.6 L552.5,147.6 L553.5,147.5 L554.5,147.5 L555.5,147.7 L556.5,147.6 L557.5,147.3 L558.5,147.3 L559.5,147.6 L560.5,147.7 L561.5,147.6 L562.5,147.4 L563.5,147.5 L564.5,147.5 L565.5,147.3 L566.5,147.5 L567.5,147.4 L568.5,147.6 L569.5,147.5 L570.5,147.5 L571.5,147.7 L572.5,147.6 L573.5,147.9 L574.5,147.6 L575.5,147.8 L576.5,147.5 L577.5,147.3 L578.5,147.6 L579.5,147.4 L580.5,147.4 L581.5,147.9 L582.5,147.3 L583.5,147.9 L584.5,147.9 L585.5,147.8 L586.5,147.6 L586.5,277.5 Z M602.5,277.5 L602.5,277.5 L604.0,277.5 L608.8,133.1 L609.2,133.1 L610.0,131.4 L610.8,133.1 L611.8,133.1 L612.8,133.0 L613.8,133.6 L614.8,132.8 L615.8,133.3 L616.8,133.2 L617.8,133.2 L618.8,133.3 L619.8,133.4 L620.8,133.3 L621.8,133.2 L622.8,133.4 L623.8,133.2 L624.8,133.1 L625.8,133.0 L626.8,133.1 L627.8,133.4 L628.8,132.8 L629.8,133.0 L630.8,133.2 L631.8,133.2 L632.8,133.3 L633.8,133.4 L634.8,132.8 L635.8,133.3 L636.8,133.3 L637.8,133.0 L638.8,133.2 L639.8,133.2 L640.8,133.0 L641.8,133.2 L642.8,132.8 L643.8,132.9 L644.8,133.0 L645.8,133.0 L646.8,132.9 L647.5,133.1 L647.5,277.5 Z M664.7,277.5 L664.7,277.5 L666.2,277.5 L670.3,117.8 L670.8,117.5 L671.3,117.3 L671.8,117.2 L672.3,117.1 L672.8,117.0 L673.3,117.0 L673.8,117.0 L674.3,117.0 L674.8,117.0 L675.3,117.1 L675.8,117.2 L676.3,117.3 L676.8,117.5 L677.3,117.8 L678.3,118.8 L679.3,118.9 L680.3,118.6 L681.3,118.8 L682.3,118.5 L683.3,118.5 L684.3,118.9 L685.3,118.2 L686.3,118.9 L687.3,119.0 L688.3,118.9 L689.3,118.9 L690.3,118.7 L691.3,118.4 L692.3,118.6 L693.3,118.4 L694.3,119.1 L695.3,118.5 L696.3,119.0 L697.3,118.9 L698.3,118.2 L699.3,118.3 L700.3,118.7 L701.3,118.8 L702.3,118.8 L703.3,119.0 L704.3,118.8 L705.3,118.5 L706.0,118.7 L707.2,219.8 L707.2,277.5 Z M719.7,277.5 L719.7,277.5 L721.2,277.5 L725.5,105.4 L726.0,103.1 L726.5,102.0 L727.0,101.2 L727.5,100.6 L728.0,100.3 L728.5,100.2 L729.0,100.3 L729.5,100.6 L730.0,101.2 L730.5,102.0 L731.0,103.1 L731.5,105.4 L732.5,105.0 L733.5,104.9 L734.5,105.3 L735.5,105.0 L736.5,105.0 L737.5,105.6 L738.5,105.7 L739.5,105.3 L740.5,105.6 L741.5,105.3 L742.5,105.0 L743.5,104.2 L744.5,105.7 L745.5,105.9 L746.5,106.3 L747.5,105.8 L748.5,105.4 L749.5,105.3 L750.5,105.7 L751.5,105.7 L752.5,104.4 L753.5,105.0 L754.5,106.0 L755.5,106.2 L756.5,105.7 L757.5,105.1 L758.5,105.3 L759.5,105.7 L760.5,105.9 L761.5,104.2 L762.5,105.6 L763.5,106.3 L764.0,105.4 L765.2,196.6 L765.2,277.5 Z M777.0,277.5 L777.0,277.5 L778.5,277.5 L782.2,101.9 L782.7,95.9 L783.2,93.8 L783.7,92.3 L784.2,91.2 L784.7,90.4 L785.2,89.9 L785.7,89.6 L786.2,89.5 L786.7,89.7 L787.2,90.1 L787.7,90.7 L788.2,91.6 L788.7,92.9 L789.2,94.5 L789.7,97.1 L790.0,101.9 L791.0,101.7 L792.0,101.7 L793.0,101.9 L794.0,100.7 L795.0,101.3 L796.0,101.9 L797.0,102.1 L798.0,102.0 L799.0,103.0 L800.0,102.1 L801.0,102.4 L802.0,101.9 L803.0,101.6 L804.0,100.9 L805.0,101.8 L806.0,101.9 L807.0,101.9 L808.0,101.7 L809.0,102.2 L810.0,101.9 L811.0,102.2 L812.0,101.8 L813.0,101.0 L814.0,101.7 L815.0,101.0 L816.0,101.4 L817.0,101.0 L818.0,101.0 L819.0,102.5 L820.0,102.5 L820.5,101.9 L821.5,190.9 L821.5,277.5 Z M836.4,277.5 L836.4,277.5 L837.9,277.5 L840.9,98.5 L841.4,79.5 L841.9,77.5 L842.4,76.3 L842.9,75.6 L843.4,75.1 L843.9,74.8 L844.4,74.8 L844.9,75.0 L845.4,75.3 L845.9,76.0 L846.4,76.9 L846.9,78.5 L847.4,81.9 L847.6,98.5 L848.6,98.5 L849.6,99.1 L850.6,98.9 L851.6,99.0 L852.6,98.1 L853.6,97.7 L854.6,97.5 L855.6,98.5 L856.6,98.4 L857.6,98.1 L858.6,98.2 L859.6,97.8 L860.6,98.6 L861.6,98.2 L862.6,98.9 L863.6,99.0 L864.6,98.6 L865.6,98.3 L866.6,98.6 L867.6,98.8 L868.6,98.8 L869.6,98.8 L870.6,99.0 L871.6,98.3 L872.6,98.2 L873.6,98.7 L874.6,98.1 L875.6,98.7 L876.6,98.4 L877.6,97.8 L878.6,97.7 L879.6,98.5 L880.6,190.9 L880.6,277.5 Z" fill="#EF843C" fill-opacity="0.1"/>
<path d="M47.2,277.5 L48.7,277.5 L53.0,274.6 L54.0,274.7 L55.0,274.6 L56.0,274.6 L57.0,274.7 L58.0,274.5 L59.0,274.6 L60.0,274.6 L61.0,274.5 L62.0,274.5 L63.0,274.5 L64.0,274.6 L65.0,274.6 L66.0,274.6 L67.0,274.6 L68.0,274.6 L69.0,274.6 L70.0,274.6 L71.0,274.6 L72.0,274.7 L73.0,274.5 L74.0,274.6 L75.0,274.7 L76.0,274.6 L77.0,274.6 L78.0,274.6 L79.0,274.7 L80.0,274.6 L81.0,274.6 L82.0,274.6 L83.0,274.5 L84.0,274.6 L85.0,274.6 L86.0,274.6 L87.0,274.7 L88.0,274.6 L89.0,274.6 L90.0,274.6 L91.0,274.6 L91.4,274.6 M100.7,277.5 L102.2,277.5 L107.0,263.1 L108.0,263.1 L109.0,263.1 L110.0,263.0 L111.0,263.0 L112.0,263.1 L113.0,263.0 L114.0,263.0 L115.0,263.1 L116.0,263.2 L117.0,263.1 L118.0,263.1 L119.0,263.1 L120.0,263.0 L121.0,263.1 L122.0,263.2 L123.0,263.0 L124.0,263.1 L125.0,263.0 L126.0,263.1 L127.0,263.0 L128.0,263.0 L129.0,263.1 L130.0,263.0 L131.0,263.0 L132.0,263.0 L133.0,263.1 L134.0,263.0 L135.0,263.1 L136.0,263.0 L137.0,263.0 L138.0,263.1 L139.0,263.1 L140.0,263.0 L141.0,263.2 L142.0,263.1 L143.0,263.1 L144.0,263.0 L144.7,263.1 M154.5,277.5 L156.0,277.5 L160.2,248.6 L161.2,248.7 L162.2,248.7 L163.2,248.6 L164.2,248.6 L165.2,248.6 L166.2,248.6 L167.2,248.6 L168.2,248.7 L169.2,248.5 L170.2,248.6 L171.2,248.7 L172.2,248.6 L173.2,248.9 L174.2,248.7 L175.2,248.6 L176.2,248.6 L177.2,248.6 L178.2,248.6 L179.2,248.7 L180.2,248.7 L181.2,248.5 L182.2,248.5 L183.2,248.6 L184.2,248.7 L185.2,248.8 L186.2,248.6 L187.2,248.7 L188.2,248.6 L189.2,248.6 L190.2,248.5 L191.2,248.7 L192.2,248.6 L193.2,248.6 L194.2,248.6 L195.2,248.6 L196.2,248.6 L197.2,248.6 L197.9,248.6 M209.6,277.5 L211.1,277.5 L216.4,234.2 L217.4,234.1 L218.4,234.3 L219.4,234.3 L220.4,234.4 L221.4,234.2 L222.4,234.3 L223.4,234.2 L224.4,234.3 L225.4,234.0 L226.4,234.0 L227.4,233.9 L228.4,234.4 L229.4,233.9 L230.4,234.5 L231.4,234.4 L232.4,234.6 L233.4,233.8 L234.4,234.3 L235.4,234.1 L236.4,234.1 L237.4,234.4 L238.4,234.1 L239.4,234.6 L240.4,234.1 L241.4,234.5 L242.4,234.5 L243.4,234.1 L244.4,234.2 L245.4,234.3 L246.4,233.6 L247.4,234.0 L248.4,234.1 L249.4,234.0 L250.4,233.9 L251.4,234.6 L252.4,234.1 L253.3,234.2 M319.3,277.5 L320.8,277.5 L327.0,205.3 L328.0,205.2 L329.0,205.4 L330.0,205.7 L331.0,205.8 L332.0,205.5 L333.0,205.2 L334.0,205.1 L335.0,205.3 L336.0,205.1 L337.0,205.3 L338.0,205.3 L339.0,205.3 L340.0,205.1 L341.0,205.5 L342.0,205.7 L343.0,205.0 L344.0,205.3 L345.0,205.2 L346.0,205.1 L347.0,205.2 L348.0,205.3 L349.0,205.0 L350.0,205.1 L351.0,205.4 L352.0,205.3 L353.0,205.4 L354.0,205.3 L355.0,205.4 L356.0,205.2 L357.0,205.5 L358.0,205.4 L359.0,205.2 L360.0,205.3 L361.0,205.0 L362.0,205.4 L363.0,205.3 L364.0,205.3 L364.5,205.3 M374.5,277.5 L376.0,277.5 L381.1,190.9 L382.1,190.7 L383.1,190.7 L384.1,190.7 L385.1,190.9 L386.1,190.9 L387.1,190.9 L388.1,191.0 L389.1,191.2 L390.1,190.9 L391.1,191.0 L392.1,190.5 L393.1,190.7 L394.1,190.8 L395.1,190.8 L396.1,190.9 L397.1,191.0 L398.1,191.3 L399.1,190.9 L400.1,191.0 L401.1,191.1 L402.1,191.1 L403.1,190.9 L404.1,190.8 L405.1,190.6 L406.1,191.2 L407.1,190.9 L408.1,190.8 L409.1,190.8 L410.1,191.0 L411.1,190.3 L412.1,190.7 L413.1,190.8 L414.1,190.7 L415.1,191.1 L416.1,191.1 L417.1,190.9 L418.1,191.0 L418.8,190.9 M428.8,277.5 L430.3,277.5 L436.5,176.4 L437.5,176.5 L438.5,176.3 L439.5,176.4 L440.5,176.6 L441.5,176.6 L442.5,176.4 L443.5,176.8 L444.5,176.4 L445.5,175.9 L446.5,175.9 L447.5,176.8 L448.5,176.4 L449.5,176.6 L450.5,176.4 L451.5,176.5 L452.5,176.5 L453.5,176.4 L454.5,176.3 L455.5,176.4 L456.5,176.3 L457.5,176.2 L458.5,176.0 L459.5,176.3 L460.5,176.4 L461.5,176.2 L462.5,176.3 L463.5,176.2 L464.5,176.6 L465.5,176.7 L466.5,176.2 L467.5,176.7 L468.5,176.6 L469.5,176.5 L470.5,176.6 L471.5,176.3 L472.5,176.4 L473.5,176.4 L474.5,176.1 L474.7,176.4 M484.9,277.5 L486.4,277.5 L492.0,162.0 L493.0,161.8 L494.0,161.9 L495.0,162.2 L496.0,162.1 L497.0,162.0 L498.0,161.4 L499.0,161.9 L500.0,162.3 L501.0,161.8 L502.0,162.4 L503.0,161.7 L504.0,162.2 L505.0,162.0 L506.0,162.0 L507.0,162.1 L508.0,161.8 L509.0,162.0 L510.0,162.1 L511.0,162.0 L512.0,162.2 L513.0,161.8 L514.0,161.9 L515.0,162.0 L516.0,161.7 L517.0,162.0 L518.0,161.8 L519.0,161.9 L520.0,162.2 L521.0,162.0 L522.0,162.1 L523.0,162.1 L524.0,161.9 L525.0,162.0 L526.0,161.8 L527.0,161.8 L528.0,162.2 L529.0,162.0 L530.0,192.0 M544.4,277.5 L545.9,277.5 L551.5,147.6 L552.5,147.6 L553.5,147.5 L554.5,147.5 L555.5,147.7 L556.5,147.6 L557.5,147.3 L558.5,147.3 L559.5,147.6 L560.5,147.7 L561.5,147.6 L562.5,147.4 L563.5,147.5 L564.5,147.5 L565.5,147.3 L566.5,147.5 L567.5,147.4 L568.5,147.6 L569.5,147.5 L570.5,147.5 L571.5,147.7 L572.5,147.6 L573.5,147.9 L574.5,147.6 L575.5,147.8 L576.5,147.5 L577.5,147.3 L578.5,147.6 L579.5,147.4 L580.5,147.4 L581.5,147.9 L582.5,147.3 L583.5,147.9 L584.5,147.9 L585.5,147.8 L586.5,147.6 M602.5,277.5 L604.0,277.5 L608.8,133.1 L609.2,133.1 L610.0,131.4 L610.8,133.1 L611.8,133.1 L612.8,133.0 L613.8,133.6 L614.8,132.8 L615.8,133.3 L616.8,133.2 L617.8,133.2 L618.8,133.3 L619.8,133.4 L620.8,133.3 L621.8,133.2 L622.8,133.4 L623.8,133.2 L624.8,133.1 L625.8,133.0 L626.8,133.1 L627.8,133.4 L628.8,132.8 L629.8,133.0 L630.8,133.2 L631.8,133.2 L632.8,133.3 L633.8,133.4 L634.8,132.8 L635.8,133.3 L636.8,133.3 L637.8,133.0 L638.8,133.2 L639.8,133.2 L640.8,133.0 L641.8,133.2 L642.8,132.8 L643.8,132.9 L644.8,133.0 L645.8,133.0 L646.8,132.9 L647.5,133.1 M664.7,277.5 L666.2,277.5 L670.3,117.8 L670.8,117.5 L671.3,117.3 L671.8,117.2 L672.3,117.1 L672.8,117.0 L673.3,117.0 L673.8,117.0 L674.3,117.0 L674.8,117.0 L675.3,117.1 L675.8,117.2 L676.3,117.3 L676.8,117.5 L677.3,117.8 L678.3,118.8 L679.3,118.9 L680.3,118.6 L681.3,118.8 L682.3,118.5 L683.3,118.5 L684.3,118.9 L685.3,118.2 L686.3,118.9 L687.3,119.0 L688.3,118.9 L689.3,118.9 L690.3,118.7 L691.3,118.4 L692.3,118.6 L693.3,118.4 L694.3,119.1 L695.3,118.5 L696.3,119.0 L697.3,118.9 L698.3,118.2 L699.3,118.3 L700.3,118.7 L701.3,118.8 L702.3,118.8 L703.3,119.0 L704.3,118.8 L705.3,118.5 L706.0,118.7 L707.2,219.8 M719.7,277.5 L721.2,277.5 L725.5,105.4 L726.0,103.1 L726.5,102.0 L727.0,101.2 L727.5,100.6 L728.0,100.3 L728.5,100.2 L729.0,100.3 L729.5,100.6 L730.0,101.2 L730.5,102.0 L731.0,103.1 L731.5,105.4 L732.5,105.0 L733.5,104.9 L734.5,105.3 L735.5,105.0 L736.5,105.0 L737.5,105.6 L738.5,105.7 L739.5,105.3 L740.5,105.6 L741.5,105.3 L742.5,105.0 L743.5,104.2 L744.5,105.7 L745.5,105.9 L746.5,106.3 L747.5,105.8 L748.5,105.4 L749.5,105.3 L750.5,105.7 L751.5,105.7 L752.5,104.4 L753.5,105.0 L754.5,106.0 L755.5,106.2 L756.5,105.7 L757.5,105.1 L758.5,105.3 L759.5,105.7 L760.5,105.9 L761.5,104.2 L762.5,105.6 L763.5,106.3 L764.0,105.4 L765.2,196.6 M777.0,277.5 L778.5,277.5 L782.2,101.9 L782.7,95.9 L783.2,93.8 L783.7,92.3 L784.2,91.2 L784.7,90.4 L785.2,89.9 L785.7,89.6 L786.2,89.5 L786.7,89.7 L787.2,90.1 L787.7,90.7 L788.2,91.6 L788.7,92.9 L789.2,94.5 L789.7,97.1 L790.0,101.9 L791.0,101.7 L792.0,101.7 L793.0,101.9 L794.0,100.7 L795.0,101.3 L796.0,101.9 L797.0,102.1 L798.0,102.0 L799.0,103.0 L800.0,102.1 L801.0,102.4 L802.0,101.9 L803.0,101.6 L804.0,100.9 L805.0,101.8 L806.0,101.9 L807.0,101.9 L808.0,101.7 L809.0,102.2 L810.0,101.9 L811.0,102.2 L812.0,101.8 L813.0,101.0 L814.0,101.7 L815.0,101.0 L816.0,101.4 L817.0,101.0 L818.0,101.0 L819.0,102.5 L820.0,102.5 L820.5,101.9 L821.5,190.9 M836.4,277.5 L837.9,277.5 L840.9,98.5 L841.4,79.5 L841.9,77.5 L842.4,76.3 L842.9,75.6 L843.4,75.1 L843.9,74.8 L844.4,74.8 L844.9,75.0 L845.4,75.3 L845.9,76.0 L846.4,76.9 L846.9,78.5 L847.4,81.9 L847.6,98.5 L848.6,98.5 L849.6,99.1 L850.6,98.9 L851.6,99.0 L852.6,98.1 L853.6,97.7 L854.6,97.5 L855.6,98.5 L856.6,98.4 L857.6,98.1 L858.6,98.2 L859.6,97.8 L860.6,98.6 L861.6,98.2 L862.6,98.9 L863.6,99.0 L864.6,98.6 L865.6,98.3 L866.6,98.6 L867.6,98.8 L868.6,98.8 L869.6,98.8 L870.6,99.0 L871.6,98.3 L872.6,98.2 L873.6,98.7 L874.6,98.1 L875.6,98.7 L876.6,98.4 L877.6,97.8 L878.6,97.7 L879.6,98.5 L880.6,190.9" fill="none" stroke="#EF843C" stroke-width="2" stroke-linejoin="round"/>
<circle cx="308.6" cy="274.0" r="1.3" fill="#EF843C"/>
<path d="M47.6,277.5 L47.6,277.5 L49.1,277.5 L53.0,274.6 L54.0,274.7 L55.0,274.6 L56.0,274.6 L57.0,274.6 L58.0,274.7 L59.0,274.5 L60.0,274.7 L61.0,274.7 L62.0,274.7 L63.0,274.6 L64.0,274.7 L65.0,274.7 L66.0,274.5 L67.0,274.7 L68.0,274.6 L69.0,274.7 L70.0,274.6 L71.0,274.7 L72.0,274.6 L73.0,274.6 L74.0,274.6 L75.0,274.7 L76.0,274.6 L77.0,274.6 L78.0,274.6 L79.0,274.6 L80.0,274.6 L81.0,274.6 L82.0,274.6 L83.0,274.6 L84.0,274.7 L85.0,274.6 L86.0,274.6 L87.0,274.6 L88.0,274.7 L89.0,274.6 L90.0,274.6 L91.0,274.7 L91.4,274.6 L91.4,277.5 Z M100.8,277.5 L100.8,277.5 L102.3,277.5 L107.0,263.1 L108.0,263.1 L109.0,263.0 L110.0,263.1 L111.0,263.1 L112.0,263.0 L113.0,263.0 L114.0,263.1 L115.0,263.2 L116.0,263.1 L117.0,263.1 L118.0,263.0 L119.0,263.1 L120.0,263.1 L121.0,263.0 L122.0,263.2 L123.0,263.1 L124.0,263.0 L125.0,263.1 L126.0,263.0 L127.0,263.0 L128.0,263.1 L129.0,263.1 L130.0,263.0 L131.0,263.2 L132.0,263.1 L133.0,263.1 L134.0,263.1 L135.0,263.2 L136.0,263.0 L137.0,263.1 L138.0,263.0 L139.0,263.0 L140.0,263.0 L141.0,262.9 L142.0,263.1 L143.0,263.0 L144.0,263.1 L144.7,263.1 L144.7,277.5 Z M154.2,277.5 L154.2,277.5 L155.7,277.5 L160.2,248.6 L161.2,248.7 L162.2,248.6 L163.2,248.7 L164.2,248.5 L165.2,248.7 L166.2,248.5 L167.2,248.6 L168.2,248.5 L168.6,248.5 L169.3,246.0 L170.3,254.4 L171.0,248.5 L172.2,248.7 L173.2,248.6 L174.2,248.5 L175.2,248.6 L176.2,248.6 L177.2,248.6 L178.2,248.6 L179.2,248.6 L180.2,248.6 L181.2,248.7 L182.2,248.7 L183.2,248.6 L184.2,248.7 L185.2,248.6 L186.2,248.7 L187.2,248.6 L188.2,248.6 L189.2,248.5 L190.2,248.6 L191.2,248.6 L192.2,248.5 L193.2,248.5 L194.2,248.6 L195.2,248.7 L196.2,248.6 L197.2,248.6 L197.9,248.6 L197.9,277.5 Z M209.6,277.5 L209.6,277.5 L211.1,277.5 L216.4,234.2 L217.4,234.4 L218.4,233.9 L219.4,234.5 L220.4,234.2 L221.4,234.8 L222.4,234.0 L223.4,234.3 L223.8,234.3 L224.5,230.7 L225.5,241.7 L226.2,234.3 L227.4,233.9 L228.4,234.4 L229.4,234.2 L230.4,234.1 L231.4,234.0 L232.4,234.2 L233.4,234.1 L234.4,234.3 L235.4,234.2 L236.4,234.3 L237.4,234.0 L238.4,234.3 L239.4,234.1 L240.4,234.2 L241.4,234.7 L242.4,234.5 L243.4,234.5 L244.4,234.1 L245.4,234.2 L246.4,234.3 L247.4,234.8 L248.4,234.2 L249.4,233.9 L250.4,234.7 L251.4,234.4 L252.4,234.6 L253.3,234.2 L254.4,247.5 L254.4,277.5 Z M263.8,277.5 L263.8,277.5 L265.3,277.5 L270.2,219.8 L271.2,219.8 L272.2,219.5 L273.2,219.7 L274.2,219.8 L275.2,219.7 L276.2,219.8 L277.2,219.6 L278.0,219.6 L278.6,215.7 L280.0,231.3 L280.8,219.6 L281.2,219.9 L282.2,220.0 L283.2,219.6 L284.2,220.0 L285.2,220.2 L286.2,219.8 L287.2,219.9 L288.2,220.1 L289.2,219.8 L290.2,219.7 L291.2,219.9 L292.2,219.5 L293.2,219.8 L294.2,219.6 L295.2,220.2 L296.2,219.7 L297.2,219.9 L298.2,219.8 L299.2,219.7 L300.2,219.7 L301.2,219.7 L302.2,219.7 L303.2,219.7 L304.2,219.8 L305.2,220.3 L306.2,219.8 L307.2,220.1 L307.8,219.8 L307.8,277.5 Z M319.7,277.5 L319.7,277.5 L321.2,277.5 L327.0,205.3 L328.0,205.3 L329.0,205.3 L330.0,205.3 L331.0,205.3 L332.0,205.3 L333.0,205.3 L334.0,205.3 L334.7,205.3 L335.4,211.5 L336.2,217.7 L337.2,218.4 L338.2,217.9 L339.2,216.7 L340.2,217.2 L341.2,216.7 L342.2,216.4 L343.2,217.4 L344.2,216.9 L345.2,218.0 L346.2,218.3 L347.2,219.9 L348.2,217.5 L349.2,217.5 L350.2,218.0 L351.2,218.4 L352.2,218.8 L353.2,218.1 L354.2,217.6 L355.2,218.3 L356.2,218.1 L357.2,218.7 L358.2,217.6 L359.2,217.0 L360.2,217.1 L361.2,216.9 L362.2,218.4 L363.2,218.0 L364.2,218.2 L364.5,217.7 L365.6,233.3 L365.6,277.5 Z M374.5,277.5 L374.5,277.5 L376.0,277.5 L381.1,190.9 L382.1,190.9 L383.1,190.9 L384.1,190.9 L385.1,190.9 L386.1,190.9 L387.1,190.9 L388.1,190.9 L389.0,190.9 L389.8,197.7 L390.5,204.4 L391.5,205.3 L392.5,203.1 L393.5,203.6 L394.5,204.8 L395.5,204.4 L396.5,203.5 L397.5,202.7 L398.5,204.6 L399.5,204.1 L400.5,204.6 L401.5,203.5 L402.5,204.3 L403.5,204.3 L404.5,204.7 L405.5,203.3 L406.5,204.6 L407.5,204.9 L408.5,205.5 L409.5,205.3 L410.5,204.9 L411.5,204.2 L412.5,205.3 L413.5,205.0 L414.5,205.4 L415.5,204.5 L416.5,205.1 L417.5,204.5 L418.5,205.5 L418.8,204.4 L420.0,277.5 L420.0,277.5 Z M428.8,277.5 L428.8,277.5 L430.3,277.5 L436.5,176.4 L437.5,176.4 L438.5,176.4 L439.5,176.4 L440.5,176.4 L441.5,176.4 L442.5,176.4 L443.5,176.4 L444.0,176.4 L444.8,186.5 L445.5,196.6 L446.5,198.0 L447.5,196.3 L448.5,196.4 L449.5,195.8 L450.5,197.9 L451.5,197.1 L452.5,197.1 L453.5,197.3 L454.5,196.5 L455.5,196.0 L456.5,196.9 L457.5,196.3 L458.5,197.2 L459.5,196.2 L460.5,196.6 L461.5,196.9 L462.5,195.9 L463.5,195.8 L464.5,197.5 L465.5,196.6 L466.5,196.0 L467.5,195.3 L468.5,196.4 L469.5,197.5 L470.5,196.5 L471.5,196.8 L472.5,198.3 L473.5,198.1 L474.5,196.8 L474.7,196.6 L474.7,277.5 Z M485.0,277.5 L485.0,277.5 L486.5,277.5 L490.9,185.4 L491.9,185.0 L492.9,185.3 L493.9,184.3 L494.9,184.8 L495.9,185.2 L496.9,185.7 L497.9,185.8 L498.5,185.4 L499.2,194.5 L500.0,203.6 L501.0,203.7 L502.0,204.6 L503.0,204.0 L504.0,203.8 L505.0,203.9 L506.0,203.5 L507.0,204.1 L508.0,203.5 L509.0,203.4 L510.0,203.0 L511.0,203.0 L512.0,203.6 L513.0,203.4 L514.0,203.8 L515.0,204.1 L516.0,204.2 L517.0,204.1 L518.0,203.5 L519.0,203.8 L520.0,204.1 L521.0,204.2 L522.0,203.4 L523.0,204.0 L524.0,203.7 L525.0,203.1 L526.0,202.4 L527.0,204.0 L528.0,204.5 L529.0,203.6 L529.0,277.5 Z M544.6,277.5 L544.6,277.5 L546.1,277.5 L550.1,180.2 L551.1,180.6 L552.1,178.8 L553.1,179.8 L554.1,180.1 L555.1,181.0 L556.1,181.1 L556.3,180.2 L557.0,191.2 L557.8,202.1 L558.8,201.5 L559.8,201.7 L560.8,202.3 L561.8,201.9 L562.8,203.1 L563.8,202.4 L564.8,201.6 L565.8,203.3 L566.8,202.8 L567.8,202.2 L568.8,202.3 L569.8,202.8 L570.8,202.9 L571.8,202.9 L572.8,203.3 L573.8,202.3 L574.8,202.6 L575.8,203.7 L576.8,203.2 L577.8,202.7 L578.8,203.8 L579.8,203.6 L580.8,202.6 L581.8,202.2 L582.8,201.1 L583.8,201.3 L584.8,201.2 L585.8,202.0 L586.5,202.1 L586.5,277.5 Z M603.0,277.5 L603.0,277.5 L604.5,277.5 L607.3,184.2 L608.3,184.3 L609.3,183.5 L610.3,184.0 L611.3,185.0 L612.3,183.5 L613.3,185.6 L614.3,184.9 L614.8,184.2 L615.5,192.9 L616.3,201.6 L617.3,201.2 L618.3,199.9 L619.3,200.3 L620.3,200.6 L621.3,201.6 L622.3,200.5 L623.3,201.7 L624.3,201.5 L625.3,202.6 L626.3,202.2 L627.3,202.5 L628.3,201.9 L629.3,201.0 L630.3,201.8 L631.3,200.8 L632.3,201.3 L633.3,200.2 L634.3,201.4 L635.3,201.3 L636.3,203.3 L637.3,201.7 L638.3,202.0 L639.3,202.1 L640.3,201.5 L641.3,201.5 L642.3,200.6 L643.3,200.4 L644.3,201.9 L645.3,202.2 L646.3,201.1 L647.3,201.3 L647.5,201.6 L648.5,277.5 L648.5,277.5 Z M664.5,277.5 L664.5,277.5 L666.0,277.5 L669.2,171.2 L670.2,171.1 L671.2,171.8 L672.2,171.3 L673.2,169.4 L674.2,170.4 L675.2,170.9 L675.8,171.2 L676.5,184.2 L677.3,197.2 L678.3,197.7 L679.3,198.6 L680.3,197.9 L681.3,196.9 L682.3,196.8 L683.3,196.5 L684.3,197.4 L685.3,197.8 L686.3,196.9 L687.3,197.1 L688.3,197.5 L689.3,197.7 L690.3,198.0 L691.3,199.0 L692.3,199.4 L693.3,197.2 L694.3,196.7 L695.3,197.0 L696.3,196.1 L697.3,196.4 L698.3,197.3 L699.3,196.9 L700.3,196.9 L701.3,196.1 L702.3,195.9 L703.3,196.8 L704.3,195.8 L705.3,196.1 L706.0,197.2 L707.2,264.5 L707.2,277.5 Z M719.2,277.5 L719.2,277.5 L720.7,277.5 L724.5,168.6 L725.5,168.8 L726.5,168.7 L727.5,168.0 L728.5,168.4 L729.5,168.7 L730.5,169.6 L731.3,168.6 L732.0,181.6 L732.8,194.6 L733.8,195.4 L734.8,195.0 L735.8,194.7 L736.8,195.5 L737.8,194.6 L738.8,195.9 L739.8,194.7 L740.8,194.9 L741.8,195.1 L742.8,195.8 L743.8,195.4 L744.8,195.4 L745.8,195.1 L746.8,194.8 L747.8,195.1 L748.8,195.8 L749.8,194.6 L750.8,195.1 L751.8,194.2 L752.8,194.9 L753.8,194.2 L754.8,195.5 L755.8,195.7 L756.8,194.5 L757.8,195.8 L758.8,195.5 L759.8,194.5 L760.8,194.6 L761.8,193.4 L762.8,194.3 L763.8,193.6 L764.0,194.6 L765.2,277.5 L765.2,277.5 Z M776.8,277.5 L776.8,277.5 L778.3,277.5 L781.2,173.8 L782.2,173.8 L783.2,173.8 L784.2,174.2 L785.2,174.3 L786.2,175.4 L787.2,173.5 L788.2,174.0 L789.0,173.8 L789.8,187.0 L790.5,200.1 L791.5,199.1 L792.5,200.5 L793.5,199.8 L794.5,199.9 L795.5,198.4 L796.5,200.2 L797.5,200.3 L798.5,200.0 L799.5,200.0 L800.5,200.7 L801.5,199.1 L802.5,199.9 L803.5,199.4 L804.5,199.4 L805.5,200.0 L806.5,200.1 L807.5,199.5 L808.5,200.3 L809.5,200.7 L810.5,199.9 L811.5,199.9 L812.5,201.6 L813.5,200.2 L814.5,199.0 L815.5,200.5 L816.5,200.5 L817.5,199.8 L818.5,199.9 L819.5,199.2 L820.5,200.1 L821.5,257.3 L821.5,277.5 Z M836.3,277.5 L836.3,277.5 L837.8,277.5 L839.3,175.6 L840.3,176.4 L841.3,175.9 L842.3,176.1 L843.3,175.4 L844.3,176.6 L845.3,175.2 L846.3,175.9 L847.0,175.6 L847.8,187.0 L848.5,198.4 L849.5,197.9 L850.5,197.4 L851.5,197.5 L852.5,198.9 L853.5,198.8 L854.5,199.6 L855.5,199.0 L856.5,198.8 L857.5,197.8 L858.5,198.2 L859.5,198.0 L860.5,198.7 L861.5,199.1 L862.5,198.8 L863.5,199.0 L864.5,198.9 L865.5,198.8 L866.5,197.8 L867.5,198.4 L868.5,196.9 L869.5,197.4 L870.5,198.3 L871.5,198.2 L872.5,197.3 L873.5,199.1 L874.5,198.0 L875.5,197.2 L876.5,197.8 L877.5,199.1 L878.5,199.5 L879.5,198.4 L879.6,198.4 L880.6,219.8 L880.6,277.5 Z" fill="#E24D42" fill-opacity="0.1"/>
<path d="M47.6,277.5 L49.1,277.5 L53.0,274.6 L54.0,274.7 L55.0,274.6 L56.0,274.6 L57.0,274.6 L58.0,274.7 L59.0,274.5 L60.0,274.7 L61.0,274.7 L62.0,274.7 L63.0,274.6 L64.0,274.7 L65.0,274.7 L66.0,274.5 L67.0,274.7 L68.0,274.6 L69.0,274.7 L70.0,274.6 L71.0,274.7 L72.0,274.6 L73.0,274.6 L74.0,274.6 L75.0,274.7 L76.0,274.6 L77.0,274.6 L78.0,274.6 L79.0,274.6 L80.0,274.6 L81.0,274.6 L82.0,274.6 L83.0,274.6 L84.0,274.7 L85.0,274.6 L86.0,274.6 L87.0,274.6 L88.0,274.7 L89.0,274.6 L90.0,274.6 L91.0,274.7 L91.4,274.6 M100.8,277.5 L102.3,277.5 L107.0,263.1 L108.0,263.1 L109.0,263.0 L110.0,263.1 L111.0,263.1 L112.0,263.0 L113.0,263.0 L114.0,263.1 L115.0,263.2 L116.0,263.1 L117.0,263.1 L118.0,263.0 L119.0,263.1 L120.0,263.1 L121.0,263.0 L122.0,263.2 L123.0,263.1 L124.0,263.0 L125.0,263.1 L126.0,263.0 L127.0,263.0 L128.0,263.1 L129.0,263.1 L130.0,263.0 L131.0,263.2 L132.0,263.1 L133.0,263.1 L134.0,263.1 L135.0,263.2 L136.0,263.0 L137.0,263.1 L138.0,263.0 L139.0,263.0 L140.0,263.0 L141.0,262.9 L142.0,263.1 L143.0,263.0 L144.0,263.1 L144.7,263.1 M154.2,277.5 L155.7,277.5 L160.2,248.6 L161.2,248.7 L162.2,248.6 L163.2,248.7 L164.2,248.5 L165.2,248.7 L166.2,248.5 L167.2,248.6 L168.2,248.5 L168.6,248.5 L169.3,246.0 L170.3,254.4 L171.0,248.5 L172.2,248.7 L173.2,248.6 L174.2,248.5 L175.2,248.6 L176.2,248.6 L177.2,248.6 L178.2,248.6 L179.2,248.6 L180.2,248.6 L181.2,248.7 L182.2,248.7 L183.2,248.6 L184.2,248.7 L185.2,248.6 L186.2,248.7 L187.2,248.6 L188.2,248.6 L189.2,248.5 L190.2,248.6 L191.2,248.6 L192.2,248.5 L193.2,248.5 L194.2,248.6 L195.2,248.7 L196.2,248.6 L197.2,248.6 L197.9,248.6 M209.6,277.5 L211.1,277.5 L216.4,234.2 L217.4,234.4 L218.4,233.9 L219.4,234.5 L220.4,234.2 L221.4,234.8 L222.4,234.0 L223.4,234.3 L223.8,234.3 L224.5,230.7 L225.5,241.7 L226.2,234.3 L227.4,233.9 L228.4,234.4 L229.4,234.2 L230.4,234.1 L231.4,234.0 L232.4,234.2 L233.4,234.1 L234.4,234.3 L235.4,234.2 L236.4,234.3 L237.4,234.0 L238.4,234.3 L239.4,234.1 L240.4,234.2 L241.4,234.7 L242.4,234.5 L243.4,234.5 L244.4,234.1 L245.4,234.2 L246.4,234.3 L247.4,234.8 L248.4,234.2 L249.4,233.9 L250.4,234.7 L251.4,234.4 L252.4,234.6 L253.3,234.2 L254.4,247.5 M263.8,277.5 L265.3,277.5 L270.2,219.8 L271.2,219.8 L272.2,219.5 L273.2,219.7 L274.2,219.8 L275.2,219.7 L276.2,219.8 L277.2,219.6 L278.0,219.6 L278.6,215.7 L280.0,231.3 L280.8,219.6 L281.2,219.9 L282.2,220.0 L283.2,219.6 L284.2,220.0 L285.2,220.2 L286.2,219.8 L287.2,219.9 L288.2,220.1 L289.2,219.8 L290.2,219.7 L291.2,219.9 L292.2,219.5 L293.2,219.8 L294.2,219.6 L295.2,220.2 L296.2,219.7 L297.2,219.9 L298.2,219.8 L299.2,219.7 L300.2,219.7 L301.2,219.7 L302.2,219.7 L303.2,219.7 L304.2,219.8 L305.2,220.3 L306.2,219.8 L307.2,220.1 L307.8,219.8 M319.7,277.5 L321.2,277.5 L327.0,205.3 L328.0,205.3 L329.0,205.3 L330.0,205.3 L331.0,205.3 L332.0,205.3 L333.0,205.3 L334.0,205.3 L334.7,205.3 L335.4,211.5 L336.2,217.7 L337.2,218.4 L338.2,217.9 L339.2,216.7 L340.2,217.2 L341.2,216.7 L342.2,216.4 L343.2,217.4 L344.2,216.9 L345.2,218.0 L346.2,218.3 L347.2,219.9 L348.2,217.5 L349.2,217.5 L350.2,218.0 L351.2,218.4 L352.2,218.8 L353.2,218.1 L354.2,217.6 L355.2,218.3 L356.2,218.1 L357.2,218.7 L358.2,217.6 L359.2,217.0 L360.2,217.1 L361.2,216.9 L362.2,218.4 L363.2,218.0 L364.2,218.2 L364.5,217.7 L365.6,233.3 M374.5,277.5 L376.0,277.5 L381.1,190.9 L382.1,190.9 L383.1,190.9 L384.1,190.9 L385.1,190.9 L386.1,190.9 L387.1,190.9 L388.1,190.9 L389.0,190.9 L389.8,197.7 L390.5,204.4 L391.5,205.3 L392.5,203.1 L393.5,203.6 L394.5,204.8 L395.5,204.4 L396.5,203.5 L397.5,202.7 L398.5,204.6 L399.5,204.1 L400.5,204.6 L401.5,203.5 L402.5,204.3 L403.5,204.3 L404.5,204.7 L405.5,203.3 L406.5,204.6 L407.5,204.9 L408.5,205.5 L409.5,205.3 L410.5,204.9 L411.5,204.2 L412.5,205.3 L413.5,205.0 L414.5,205.4 L415.5,204.5 L416.5,205.1 L417.5,204.5 L418.5,205.5 L418.8,204.4 L420.0,277.5 M428.8,277.5 L430.3,277.5 L436.5,176.4 L437.5,176.4 L438.5,176.4 L439.5,176.4 L440.5,176.4 L441.5,176.4 L442.5,176.4 L443.5,176.4 L444.0,176.4 L444.8,186.5 L445.5,196.6 L446.5,198.0 L447.5,196.3 L448.5,196.4 L449.5,195.8 L450.5,197.9 L451.5,197.1 L452.5,197.1 L453.5,197.3 L454.5,196.5 L455.5,196.0 L456.5,196.9 L457.5,196.3 L458.5,197.2 L459.5,196.2 L460.5,196.6 L461.5,196.9 L462.5,195.9 L463.5,195.8 L464.5,197.5 L465.5,196.6 L466.5,196.0 L467.5,195.3 L468.5,196.4 L469.5,197.5 L470.5,196.5 L471.5,196.8 L472.5,198.3 L473.5,198.1 L474.5,196.8 L474.7,196.6 M485.0,277.5 L486.5,277.5 L490.9,185.4 L491.9,185.0 L492.9,185.3 L493.9,184.3 L494.9,184.8 L495.9,185.2 L496.9,185.7 L497.9,185.8 L498.5,185.4 L499.2,194.5 L500.0,203.6 L501.0,203.7 L502.0,204.6 L503.0,204.0 L504.0,203.8 L505.0,203.9 L506.0,203.5 L507.0,204.1 L508.0,203.5 L509.0,203.4 L510.0,203.0 L511.0,203.0 L512.0,203.6 L513.0,203.4 L514.0,203.8 L515.0,204.1 L516.0,204.2 L517.0,204.1 L518.0,203.5 L519.0,203.8 L520.0,204.1 L521.0,204.2 L522.0,203.4 L523.0,204.0 L524.0,203.7 L525.0,203.1 L526.0,202.4 L527.0,204.0 L528.0,204.5 L529.0,203.6 M544.6,277.5 L546.1,277.5 L550.1,180.2 L551.1,180.6 L552.1,178.8 L553.1,179.8 L554.1,180.1 L555.1,181.0 L556.1,181.1 L556.3,180.2 L557.0,191.2 L557.8,202.1 L558.8,201.5 L559.8,201.7 L560.8,202.3 L561.8,201.9 L562.8,203.1 L563.8,202.4 L564.8,201.6 L565.8,203.3 L566.8,202.8 L567.8,202.2 L568.8,202.3 L569.8,202.8 L570.8,202.9 L571.8,202.9 L572.8,203.3 L573.8,202.3 L574.8,202.6 L575.8,203.7 L576.8,203.2 L577.8,202.7 L578.8,203.8 L579.8,203.6 L580.8,202.6 L581.8,202.2 L582.8,201.1 L583.8,201.3 L584.8,201.2 L585.8,202.0 L586.5,202.1 M603.0,277.5 L604.5,277.5 L607.3,184.2 L608.3,184.3 L609.3,183.5 L610.3,184.0 L611.3,185.0 L612.3,183.5 L613.3,185.6 L614.3,184.9 L614.8,184.2 L615.5,192.9 L616.3,201.6 L617.3,201.2 L618.3,199.9 L619.3,200.3 L620.3,200.6 L621.3,201.6 L622.3,200.5 L623.3,201.7 L624.3,201.5 L625.3,202.6 L626.3,202.2 L627.3,202.5 L628.3,201.9 L629.3,201.0 L630.3,201.8 L631.3,200.8 L632.3,201.3 L633.3,200.2 L634.3,201.4 L635.3,201.3 L636.3,203.3 L637.3,201.7 L638.3,202.0 L639.3,202.1 L640.3,201.5 L641.3,201.5 L642.3,200.6 L643.3,200.4 L644.3,201.9 L645.3,202.2 L646.3,201.1 L647.3,201.3 L647.5,201.6 L648.5,277.5 M664.5,277.5 L666.0,277.5 L669.2,171.2 L670.2,171.1 L671.2,171.8 L672.2,171.3 L673.2,169.4 L674.2,170.4 L675.2,170.9 L675.8,171.2 L676.5,184.2 L677.3,197.2 L678.3,197.7 L679.3,198.6 L680.3,197.9 L681.3,196.9 L682.3,196.8 L683.3,196.5 L684.3,197.4 L685.3,197.8 L686.3,196.9 L687.3,197.1 L688.3,197.5 L689.3,197.7 L690.3,198.0 L691.3,199.0 L692.3,199.4 L693.3,197.2 L694.3,196.7 L695.3,197.0 L696.3,196.1 L697.3,196.4 L698.3,197.3 L699.3,196.9 L700.3,196.9 L701.3,196.1 L702.3,195.9 L703.3,196.8 L704.3,195.8 L705.3,196.1 L706.0,197.2 L707.2,264.5 M719.2,277.5 L720.7,277.5 L724.5,168.6 L725.5,168.8 L726.5,168.7 L727.5,168.0 L728.5,168.4 L729.5,168.7 L730.5,169.6 L731.3,168.6 L732.0,181.6 L732.8,194.6 L733.8,195.4 L734.8,195.0 L735.8,194.7 L736.8,195.5 L737.8,194.6 L738.8,195.9 L739.8,194.7 L740.8,194.9 L741.8,195.1 L742.8,195.8 L743.8,195.4 L744.8,195.4 L745.8,195.1 L746.8,194.8 L747.8,195.1 L748.8,195.8 L749.8,194.6 L750.8,195.1 L751.8,194.2 L752.8,194.9 L753.8,194.2 L754.8,195.5 L755.8,195.7 L756.8,194.5 L757.8,195.8 L758.8,195.5 L759.8,194.5 L760.8,194.6 L761.8,193.4 L762.8,194.3 L763.8,193.6 L764.0,194.6 L765.2,277.5 M776.8,277.5 L778.3,277.5 L781.2,173.8 L782.2,173.8 L783.2,173.8 L784.2,174.2 L785.2,174.3 L786.2,175.4 L787.2,173.5 L788.2,174.0 L789.0,173.8 L789.8,187.0 L790.5,200.1 L791.5,199.1 L792.5,200.5 L793.5,199.8 L794.5,199.9 L795.5,198.4 L796.5,200.2 L797.5,200.3 L798.5,200.0 L799.5,200.0 L800.5,200.7 L801.5,199.1 L802.5,199.9 L803.5,199.4 L804.5,199.4 L805.5,200.0 L806.5,200.1 L807.5,199.5 L808.5,200.3 L809.5,200.7 L810.5,199.9 L811.5,199.9 L812.5,201.6 L813.5,200.2 L814.5,199.0 L815.5,200.5 L816.5,200.5 L817.5,199.8 L818.5,199.9 L819.5,199.2 L820.5,200.1 L821.5,257.3 M836.3,277.5 L837.8,277.5 L839.3,175.6 L840.3,176.4 L841.3,175.9 L842.3,176.1 L843.3,175.4 L844.3,176.6 L845.3,175.2 L846.3,175.9 L847.0,175.6 L847.8,187.0 L848.5,198.4 L849.5,197.9 L850.5,197.4 L851.5,197.5 L852.5,198.9 L853.5,198.8 L854.5,199.6 L855.5,199.0 L856.5,198.8 L857.5,197.8 L858.5,198.2 L859.5,198.0 L860.5,198.7 L861.5,199.1 L862.5,198.8 L863.5,199.0 L864.5,198.9 L865.5,198.8 L866.5,197.8 L867.5,198.4 L868.5,196.9 L869.5,197.4 L870.5,198.3 L871.5,198.2 L872.5,197.3 L873.5,199.1 L874.5,198.0 L875.5,197.2 L876.5,197.8 L877.5,199.1 L878.5,199.5 L879.5,198.4 L879.6,198.4 L880.6,219.8" fill="none" stroke="#E24D42" stroke-width="2" stroke-linejoin="round"/>
<path d="M46.9,277.5 L46.9,277.5 L48.4,277.5 L53.0,274.6 L54.0,274.6 L55.0,274.6 L56.0,274.7 L57.0,274.7 L58.0,274.7 L59.0,274.7 L60.0,274.6 L61.0,274.6 L62.0,274.6 L63.0,274.5 L64.0,274.6 L65.0,274.6 L66.0,274.6 L67.0,274.5 L68.0,274.6 L69.0,274.6 L70.0,274.6 L71.0,274.7 L72.0,274.5 L73.0,274.6 L74.0,274.6 L75.0,274.7 L76.0,274.6 L77.0,274.5 L78.0,274.6 L79.0,274.5 L80.0,274.6 L81.0,274.6 L82.0,274.6 L83.0,274.7 L84.0,274.5 L85.0,274.7 L86.0,274.6 L87.0,274.6 L88.0,274.6 L89.0,274.6 L90.0,274.6 L91.0,274.5 L91.4,274.6 L91.4,277.5 Z M101.1,277.5 L101.1,277.5 L102.6,277.5 L107.0,263.1 L108.0,263.0 L109.0,263.1 L110.0,263.0 L111.0,263.1 L112.0,263.1 L113.0,263.1 L114.0,263.0 L115.0,263.0 L116.0,263.2 L117.0,263.0 L118.0,263.1 L119.0,263.1 L120.0,263.0 L121.0,263.0 L122.0,262.9 L123.0,263.0 L124.0,263.0 L125.0,263.1 L126.0,263.1 L127.0,263.0 L128.0,263.1 L129.0,263.1 L130.0,263.0 L131.0,263.2 L132.0,263.0 L133.0,263.0 L134.0,263.2 L135.0,263.1 L136.0,263.0 L137.0,263.1 L138.0,263.1 L139.0,263.2 L140.0,263.0 L141.0,263.0 L142.0,263.1 L143.0,263.1 L144.0,263.0 L144.7,263.1 L144.7,277.5 Z M154.8,277.5 L154.8,277.5 L156.3,277.5 L160.2,248.6 L161.2,248.5 L162.2,248.6 L163.2,248.7 L164.2,248.6 L165.2,248.7 L166.2,248.6 L167.2,248.6 L168.2,248.6 L169.2,248.6 L170.2,248.6 L171.2,248.6 L172.2,248.6 L173.2,248.7 L174.2,248.6 L175.2,248.6 L176.2,248.6 L177.2,248.7 L178.2,248.6 L179.2,248.6 L180.2,248.7 L181.2,248.6 L182.2,248.6 L183.2,248.6 L184.2,248.7 L185.2,248.6 L186.2,248.6 L187.2,248.6 L188.2,248.6 L189.2,248.5 L190.2,248.7 L191.2,248.7 L192.2,248.5 L193.2,248.6 L194.2,248.6 L195.2,248.5 L196.2,248.7 L197.2,248.6 L197.9,248.6 L197.9,277.5 Z M210.3,277.5 L210.3,277.5 L211.8,277.5 L216.4,234.2 L217.4,234.5 L218.4,234.1 L219.4,234.3 L220.4,234.5 L221.4,234.1 L222.4,234.3 L223.4,234.5 L224.4,234.0 L225.4,234.2 L226.4,233.9 L227.4,234.1 L228.4,234.7 L229.4,233.9 L230.4,234.3 L231.4,234.2 L232.4,234.2 L233.4,234.4 L234.4,234.1 L235.4,234.3 L236.4,234.3 L237.4,234.2 L238.4,234.1 L239.4,234.3 L240.4,234.2 L241.4,234.1 L242.4,233.8 L243.4,234.3 L244.4,234.3 L245.4,234.1 L246.4,234.1 L247.4,233.9 L248.4,234.1 L249.4,234.1 L250.4,233.9 L251.4,234.1 L252.4,234.1 L253.3,234.2 L253.3,277.5 Z M263.4,277.5 L263.4,277.5 L264.9,277.5 L270.2,219.8 L271.2,219.6 L272.2,219.9 L273.2,219.8 L274.2,219.8 L275.2,220.1 L276.2,219.6 L277.2,220.2 L277.5,220.2 L278.3,228.4 L279.1,220.2 L280.2,220.1 L281.2,219.6 L282.2,219.4 L283.2,219.3 L284.2,219.6 L285.2,219.8 L286.2,220.0 L287.2,219.7 L288.2,220.0 L289.2,219.8 L290.2,219.4 L291.2,219.4 L292.2,220.1 L293.2,220.1 L294.2,219.7 L295.2,219.9 L296.2,219.7 L297.2,219.6 L298.2,219.8 L299.2,219.6 L300.2,219.9 L301.2,219.8 L302.2,220.1 L303.2,219.7 L304.2,219.7 L305.2,220.0 L306.2,219.6 L307.2,219.8 L307.8,219.8 L308.6,271.7 L308.6,277.5 Z M319.5,277.5 L319.5,277.5 L321.0,277.5 L327.0,205.3 L328.0,205.2 L329.0,205.7 L330.0,205.7 L331.0,205.4 L332.0,205.3 L333.0,205.5 L334.0,205.3 L335.0,205.7 L336.0,205.5 L337.0,205.2 L338.0,205.5 L339.0,205.3 L340.0,205.9 L341.0,205.5 L342.0,205.3 L343.0,205.7 L344.0,205.8 L345.0,205.6 L346.0,205.3 L347.0,205.2 L348.0,205.1 L349.0,205.5 L350.0,205.0 L351.0,205.2 L352.0,205.4 L353.0,205.5 L354.0,205.4 L355.0,205.2 L356.0,205.3 L357.0,205.3 L358.0,205.3 L359.0,205.3 L360.0,205.3 L361.0,205.3 L362.0,205.4 L363.0,205.6 L364.0,205.6 L364.5,205.3 L364.5,277.5 Z M374.8,277.5 L374.8,277.5 L376.3,277.5 L381.1,190.9 L382.1,190.8 L383.1,190.8 L384.1,191.0 L385.1,191.1 L386.1,190.9 L387.1,191.2 L388.3,191.2 L389.3,199.5 L390.3,191.2 L391.1,190.9 L392.1,190.7 L393.1,191.3 L394.1,190.7 L395.1,190.6 L396.1,190.9 L397.1,190.7 L398.1,191.4 L399.1,190.8 L400.1,190.8 L401.1,190.5 L402.1,191.0 L403.1,190.7 L404.1,191.0 L405.1,191.1 L406.1,190.4 L407.1,190.7 L408.1,190.7 L409.1,190.9 L410.1,190.8 L411.1,190.7 L412.1,191.1 L413.1,191.0 L414.1,191.1 L415.1,190.7 L416.1,190.8 L417.1,190.7 L418.1,190.8 L418.8,190.9 L418.8,277.5 Z M429.1,277.5 L429.1,277.5 L430.6,277.5 L436.5,176.4 L437.5,176.5 L438.5,176.6 L439.5,176.5 L439.9,176.5 L440.5,174.1 L441.1,176.5 L441.5,176.5 L442.5,176.8 L443.5,176.6 L444.5,176.1 L445.5,176.5 L446.5,176.2 L447.5,176.4 L448.5,176.2 L449.5,176.5 L450.5,176.6 L451.5,176.5 L452.5,176.6 L453.5,176.5 L454.5,176.1 L455.5,175.9 L456.5,176.5 L457.5,176.4 L458.5,176.4 L459.5,176.4 L460.5,176.4 L461.5,176.3 L462.5,176.2 L463.5,176.3 L464.5,176.6 L465.5,176.3 L466.5,176.6 L467.5,176.2 L468.5,176.4 L469.5,176.3 L470.5,176.5 L471.5,176.8 L472.5,176.5 L473.5,176.4 L474.5,176.6 L474.7,176.4 L474.7,277.5 Z M485.5,277.5 L485.5,277.5 L487.0,277.5 L492.0,162.0 L493.0,162.2 L494.0,162.0 L495.0,162.2 L496.0,161.7 L497.0,161.9 L498.0,161.9 L499.0,161.8 L500.0,161.9 L501.0,161.9 L502.0,161.7 L503.0,161.7 L504.0,162.3 L505.0,161.9 L506.0,162.6 L507.0,162.3 L508.0,161.5 L509.0,162.1 L510.0,161.9 L511.0,161.9 L512.0,162.0 L513.0,161.8 L514.0,161.9 L515.0,161.9 L516.0,162.0 L517.0,162.0 L518.0,161.9 L519.0,162.3 L520.0,162.2 L521.0,162.2 L522.0,162.3 L523.0,162.2 L524.0,161.9 L525.0,161.9 L526.0,161.7 L527.0,161.8 L528.0,161.7 L529.0,162.0 L529.0,277.5 Z M542.3,277.5 L542.3,277.5 L543.8,277.5 L548.5,147.6 L549.5,147.6 L550.5,147.6 L551.5,147.6 L552.5,147.6 L553.5,147.6 L554.5,147.6 L555.5,147.6 L556.3,147.6 L557.0,152.2 L557.8,156.8 L558.3,158.1 L558.8,157.2 L559.3,157.1 L559.8,156.4 L560.3,156.7 L560.8,156.9 L561.3,157.0 L561.8,156.1 L562.3,157.7 L562.8,156.6 L563.3,157.0 L563.8,156.7 L564.3,156.3 L564.8,155.7 L565.3,156.2 L565.8,156.8 L566.3,157.2 L566.8,157.2 L567.3,155.8 L567.8,156.7 L568.3,158.3 L568.8,158.2 L569.3,157.4 L569.8,158.0 L570.3,157.2 L570.8,156.3 L571.3,157.3 L571.8,157.7 L572.3,158.1 L572.8,156.5 L573.3,156.8 L573.8,157.6 L574.3,156.4 L574.8,156.6 L575.3,156.2 L575.8,156.5 L576.3,156.7 L576.8,156.2 L577.3,156.9 L577.8,158.2 L578.3,157.2 L578.8,156.6 L579.3,155.7 L579.8,157.6 L580.3,156.1 L580.8,158.7 L581.3,156.7 L581.8,155.6 L582.3,156.8 L582.8,156.8 L583.3,156.4 L583.8,156.0 L584.3,156.3 L584.8,157.1 L585.3,156.5 L585.8,155.4 L586.3,156.8 L586.5,156.8 L586.5,277.5 Z M602.8,277.5 L602.8,277.5 L604.3,277.5 L608.8,133.1 L609.8,133.1 L610.8,133.1 L611.8,133.1 L612.8,133.1 L613.8,133.1 L614.8,133.1 L615.5,141.6 L616.3,150.2 L616.7,150.6 L617.1,152.0 L617.5,151.0 L617.9,151.3 L618.3,150.1 L618.7,151.4 L619.1,149.0 L619.5,149.5 L619.9,150.6 L620.3,149.3 L620.7,150.5 L621.1,148.9 L621.5,148.5 L621.9,148.7 L622.3,149.8 L622.7,150.2 L623.1,150.4 L623.5,149.4 L623.9,149.5 L624.3,149.3 L624.7,148.8 L625.1,149.2 L625.5,150.7 L625.9,150.6 L626.3,150.4 L626.7,149.3 L627.1,149.3 L627.5,149.7 L627.9,150.7 L628.3,149.0 L628.7,149.7 L629.1,148.1 L629.5,149.0 L629.9,150.2 L630.3,151.0 L630.7,149.4 L631.1,150.9 L631.5,150.8 L631.9,148.1 L632.3,151.4 L632.7,152.3 L633.1,149.6 L633.5,150.2 L633.9,150.1 L634.3,150.9 L634.7,150.4 L635.1,150.7 L635.5,150.1 L635.9,149.0 L636.3,148.9 L636.7,149.1 L637.1,150.3 L637.5,152.1 L637.9,149.9 L638.3,149.5 L638.7,149.7 L639.1,149.9 L639.5,150.2 L639.9,149.9 L640.3,149.3 L640.7,151.0 L641.1,149.5 L641.5,150.6 L641.9,149.7 L642.3,148.1 L642.7,150.1 L643.1,149.1 L643.5,151.1 L643.9,151.2 L644.3,151.7 L644.7,149.4 L645.1,151.1 L645.5,150.5 L645.9,148.0 L646.3,149.7 L646.7,150.0 L647.1,148.7 L647.5,150.6 L647.5,150.2 L647.5,277.5 Z M664.1,277.5 L664.1,277.5 L665.6,277.5 L670.5,127.3 L671.5,129.1 L672.5,128.2 L673.5,128.2 L674.5,129.5 L675.5,127.9 L675.8,127.3 L676.5,137.3 L677.3,147.3 L678.3,148.4 L679.3,146.2 L680.3,148.1 L681.3,148.1 L682.3,148.4 L683.3,148.9 L684.3,147.9 L685.3,147.5 L686.3,146.4 L687.3,146.5 L688.3,145.6 L689.3,145.9 L690.3,148.1 L691.3,146.5 L692.3,148.4 L693.3,148.6 L694.3,149.0 L695.3,148.7 L696.3,148.3 L697.3,148.4 L698.3,147.7 L699.3,148.7 L700.3,148.7 L701.3,147.9 L702.3,146.4 L703.3,147.3 L704.3,146.6 L705.3,147.1 L706.0,147.3 L706.0,277.5 Z M719.8,277.5 L719.8,277.5 L721.3,277.5 L726.2,121.9 L727.2,122.3 L728.2,121.4 L729.2,122.1 L730.2,123.3 L731.2,122.8 L731.3,121.9 L732.0,134.6 L732.8,147.3 L733.8,146.8 L734.8,146.4 L735.8,146.2 L736.8,147.3 L737.8,148.1 L738.8,147.4 L739.8,147.4 L740.8,148.4 L741.8,149.0 L742.8,146.8 L743.8,147.5 L744.8,147.4 L745.8,146.2 L746.8,147.1 L747.8,147.0 L748.8,147.5 L749.8,145.4 L750.8,146.3 L751.8,145.7 L752.8,146.7 L753.8,146.0 L754.8,147.5 L755.8,149.5 L756.8,149.2 L757.8,147.6 L758.8,146.6 L759.8,146.9 L760.8,148.5 L761.8,147.0 L762.8,146.6 L763.8,148.1 L764.0,147.3 L764.0,277.5 Z M777.2,277.5 L777.2,277.5 L778.7,277.5 L782.7,123.6 L783.7,122.5 L784.7,124.0 L785.7,125.4 L786.7,123.5 L787.7,124.9 L788.7,124.1 L789.0,123.6 L790.0,134.7 L791.0,145.8 L792.0,144.7 L793.0,144.9 L794.0,146.2 L795.0,147.3 L796.0,146.0 L797.0,146.4 L798.0,145.3 L799.0,145.0 L800.0,145.4 L801.0,144.9 L802.0,145.8 L803.0,146.2 L804.0,145.1 L805.0,144.8 L806.0,145.5 L807.0,144.7 L808.0,145.4 L809.0,146.1 L810.0,146.0 L811.0,146.5 L812.0,145.5 L813.0,146.7 L814.0,147.1 L815.0,146.6 L816.0,145.4 L817.0,146.8 L818.0,146.1 L819.0,144.5 L820.0,145.0 L820.5,145.8 L821.5,256.4 L821.5,277.5 Z M836.0,277.5 L836.0,277.5 L837.5,277.5 L840.0,122.2 L841.0,123.2 L842.0,122.5 L843.0,122.1 L844.0,122.9 L845.0,121.9 L846.0,121.5 L847.0,122.2 L848.0,132.3 L849.0,142.4 L850.0,143.6 L851.0,142.7 L852.0,142.5 L853.0,141.5 L854.0,142.6 L855.0,142.2 L856.0,141.3 L857.0,140.4 L858.0,141.5 L859.0,142.0 L860.0,142.5 L861.0,143.4 L862.0,143.0 L863.0,143.1 L864.0,143.2 L865.0,141.1 L866.0,142.6 L867.0,141.8 L868.0,141.2 L869.0,142.8 L870.0,142.3 L871.0,141.7 L872.0,142.9 L873.0,143.3 L874.0,142.2 L875.0,142.8 L876.0,142.1 L877.0,144.1 L878.0,141.8 L879.0,142.4 L879.6,142.4 L880.6,253.0 L880.6,277.5 Z" fill="#1F78C1" fill-opacity="0.1"/>
<path d="M46.9,277.5 L48.4,277.5 L53.0,274.6 L54.0,274.6 L55.0,274.6 L56.0,274.7 L57.0,274.7 L58.0,274.7 L59.0,274.7 L60.0,274.6 L61.0,274.6 L62.0,274.6 L63.0,274.5 L64.0,274.6 L65.0,274.6 L66.0,274.6 L67.0,274.5 L68.0,274.6 L69.0,274.6 L70.0,274.6 L71.0,274.7 L72.0,274.5 L73.0,274.6 L74.0,274.6 L75.0,274.7 L76.0,274.6 L77.0,274.5 L78.0,274.6 L79.0,274.5 L80.0,274.6 L81.0,274.6 L82.0,274.6 L83.0,274.7 L84.0,274.5 L85.0,274.7 L86.0,274.6 L87.0,274.6 L88.0,274.6 L89.0,274.6 L90.0,274.6 L91.0,274.5 L91.4,274.6 M101.1,277.5 L102.6,277.5 L107.0,263.1 L108.0,263.0 L109.0,263.1 L110.0,263.0 L111.0,263.1 L112.0,263.1 L113.0,263.1 L114.0,263.0 L115.0,263.0 L116.0,263.2 L117.0,263.0 L118.0,263.1 L119.0,263.1 L120.0,263.0 L121.0,263.0 L122.0,262.9 L123.0,263.0 L124.0,263.0 L125.0,263.1 L126.0,263.1 L127.0,263.0 L128.0,263.1 L129.0,263.1 L130.0,263.0 L131.0,263.2 L132.0,263.0 L133.0,263.0 L134.0,263.2 L135.0,263.1 L136.0,263.0 L137.0,263.1 L138.0,263.1 L139.0,263.2 L140.0,263.0 L141.0,263.0 L142.0,263.1 L143.0,263.1 L144.0,263.0 L144.7,263.1 M154.8,277.5 L156.3,277.5 L160.2,248.6 L161.2,248.5 L162.2,248.6 L163.2,248.7 L164.2,248.6 L165.2,248.7 L166.2,248.6 L167.2,248.6 L168.2,248.6 L169.2,248.6 L170.2,248.6 L171.2,248.6 L172.2,248.6 L173.2,248.7 L174.2,248.6 L175.2,248.6 L176.2,248.6 L177.2,248.7 L178.2,248.6 L179.2,248.6 L180.2,248.7 L181.2,248.6 L182.2,248.6 L183.2,248.6 L184.2,248.7 L185.2,248.6 L186.2,248.6 L187.2,248.6 L188.2,248.6 L189.2,248.5 L190.2,248.7 L191.2,248.7 L192.2,248.5 L193.2,248.6 L194.2,248.6 L195.2,248.5 L196.2,248.7 L197.2,248.6 L197.9,248.6 M210.3,277.5 L211.8,277.5 L216.4,234.2 L217.4,234.5 L218.4,234.1 L219.4,234.3 L220.4,234.5 L221.4,234.1 L222.4,234.3 L223.4,234.5 L224.4,234.0 L225.4,234.2 L226.4,233.9 L227.4,234.1 L228.4,234.7 L229.4,233.9 L230.4,234.3 L231.4,234.2 L232.4,234.2 L233.4,234.4 L234.4,234.1 L235.4,234.3 L236.4,234.3 L237.4,234.2 L238.4,234.1 L239.4,234.3 L240.4,234.2 L241.4,234.1 L242.4,233.8 L243.4,234.3 L244.4,234.3 L245.4,234.1 L246.4,234.1 L247.4,233.9 L248.4,234.1 L249.4,234.1 L250.4,233.9 L251.4,234.1 L252.4,234.1 L253.3,234.2 M263.4,277.5 L264.9,277.5 L270.2,219.8 L271.2,219.6 L272.2,219.9 L273.2,219.8 L274.2,219.8 L275.2,220.1 L276.2,219.6 L277.2,220.2 L277.5,220.2 L278.3,228.4 L279.1,220.2 L280.2,220.1 L281.2,219.6 L282.2,219.4 L283.2,219.3 L284.2,219.6 L285.2,219.8 L286.2,220.0 L287.2,219.7 L288.2,220.0 L289.2,219.8 L290.2,219.4 L291.2,219.4 L292.2,220.1 L293.2,220.1 L294.2,219.7 L295.2,219.9 L296.2,219.7 L297.2,219.6 L298.2,219.8 L299.2,219.6 L300.2,219.9 L301.2,219.8 L302.2,220.1 L303.2,219.7 L304.2,219.7 L305.2,220.0 L306.2,219.6 L307.2,219.8 L307.8,219.8 L308.6,271.7 M319.5,277.5 L321.0,277.5 L327.0,205.3 L328.0,205.2 L329.0,205.7 L330.0,205.7 L331.0,205.4 L332.0,205.3 L333.0,205.5 L334.0,205.3 L335.0,205.7 L336.0,205.5 L337.0,205.2 L338.0,205.5 L339.0,205.3 L340.0,205.9 L341.0,205.5 L342.0,205.3 L343.0,205.7 L344.0,205.8 L345.0,205.6 L346.0,205.3 L347.0,205.2 L348.0,205.1 L349.0,205.5 L350.0,205.0 L351.0,205.2 L352.0,205.4 L353.0,205.5 L354.0,205.4 L355.0,205.2 L356.0,205.3 L357.0,205.3 L358.0,205.3 L359.0,205.3 L360.0,205.3 L361.0,205.3 L362.0,205.4 L363.0,205.6 L364.0,205.6 L364.5,205.3 M374.8,277.5 L376.3,277.5 L381.1,190.9 L382.1,190.8 L383.1,190.8 L384.1,191.0 L385.1,191.1 L386.1,190.9 L387.1,191.2 L388.3,191.2 L389.3,199.5 L390.3,191.2 L391.1,190.9 L392.1,190.7 L393.1,191.3 L394.1,190.7 L395.1,190.6 L396.1,190.9 L397.1,190.7 L398.1,191.4 L399.1,190.8 L400.1,190.8 L401.1,190.5 L402.1,191.0 L403.1,190.7 L404.1,191.0 L405.1,191.1 L406.1,190.4 L407.1,190.7 L408.1,190.7 L409.1,190.9 L410.1,190.8 L411.1,190.7 L412.1,191.1 L413.1,191.0 L414.1,191.1 L415.1,190.7 L416.1,190.8 L417.1,190.7 L418.1,190.8 L418.8,190.9 M429.1,277.5 L430.6,277.5 L436.5,176.4 L437.5,176.5 L438.5,176.6 L439.5,176.5 L439.9,176.5 L440.5,174.1 L441.1,176.5 L441.5,176.5 L442.5,176.8 L443.5,176.6 L444.5,176.1 L445.5,176.5 L446.5,176.2 L447.5,176.4 L448.5,176.2 L449.5,176.5 L450.5,176.6 L451.5,176.5 L452.5,176.6 L453.5,176.5 L454.5,176.1 L455.5,175.9 L456.5,176.5 L457.5,176.4 L458.5,176.4 L459.5,176.4 L460.5,176.4 L461.5,176.3 L462.5,176.2 L463.5,176.3 L464.5,176.6 L465.5,176.3 L466.5,176.6 L467.5,176.2 L468.5,176.4 L469.5,176.3 L470.5,176.5 L471.5,176.8 L472.5,176.5 L473.5,176.4 L474.5,176.6 L474.7,176.4 M485.5,277.5 L487.0,277.5 L492.0,162.0 L493.0,162.2 L494.0,162.0 L495.0,162.2 L496.0,161.7 L497.0,161.9 L498.0,161.9 L499.0,161.8 L500.0,161.9 L501.0,161.9 L502.0,161.7 L503.0,161.7 L504.0,162.3 L505.0,161.9 L506.0,162.6 L507.0,162.3 L508.0,161.5 L509.0,162.1 L510.0,161.9 L511.0,161.9 L512.0,162.0 L513.0,161.8 L514.0,161.9 L515.0,161.9 L516.0,162.0 L517.0,162.0 L518.0,161.9 L519.0,162.3 L520.0,162.2 L521.0,162.2 L522.0,162.3 L523.0,162.2 L524.0,161.9 L525.0,161.9 L526.0,161.7 L527.0,161.8 L528.0,161.7 L529.0,162.0 M542.3,277.5 L543.8,277.5 L548.5,147.6 L549.5,147.6 L550.5,147.6 L551.5,147.6 L552.5,147.6 L553.5,147.6 L554.5,147.6 L555.5,147.6 L556.3,147.6 L557.0,152.2 L557.8,156.8 L558.3,158.1 L558.8,157.2 L559.3,157.1 L559.8,156.4 L560.3,156.7 L560.8,156.9 L561.3,157.0 L561.8,156.1 L562.3,157.7 L562.8,156.6 L563.3,157.0 L563.8,156.7 L564.3,156.3 L564.8,155.7 L565.3,156.2 L565.8,156.8 L566.3,157.2 L566.8,157.2 L567.3,155.8 L567.8,156.7 L568.3,158.3 L568.8,158.2 L569.3,157.4 L569.8,158.0 L570.3,157.2 L570.8,156.3 L571.3,157.3 L571.8,157.7 L572.3,158.1 L572.8,156.5 L573.3,156.8 L573.8,157.6 L574.3,156.4 L574.8,156.6 L575.3,156.2 L575.8,156.5 L576.3,156.7 L576.8,156.2 L577.3,156.9 L577.8,158.2 L578.3,157.2 L578.8,156.6 L579.3,155.7 L579.8,157.6 L580.3,156.1 L580.8,158.7 L581.3,156.7 L581.8,155.6 L582.3,156.8 L582.8,156.8 L583.3,156.4 L583.8,156.0 L584.3,156.3 L584.8,157.1 L585.3,156.5 L585.8,155.4 L586.3,156.8 L586.5,156.8 M602.8,277.5 L604.3,277.5 L608.8,133.1 L609.8,133.1 L610.8,133.1 L611.8,133.1 L612.8,133.1 L613.8,133.1 L614.8,133.1 L615.5,141.6 L616.3,150.2 L616.7,150.6 L617.1,152.0 L617.5,151.0 L617.9,151.3 L618.3,150.1 L618.7,151.4 L619.1,149.0 L619.5,149.5 L619.9,150.6 L620.3,149.3 L620.7,150.5 L621.1,148.9 L621.5,148.5 L621.9,148.7 L622.3,149.8 L622.7,150.2 L623.1,150.4 L623.5,149.4 L623.9,149.5 L624.3,149.3 L624.7,148.8 L625.1,149.2 L625.5,150.7 L625.9,150.6 L626.3,150.4 L626.7,149.3 L627.1,149.3 L627.5,149.7 L627.9,150.7 L628.3,149.0 L628.7,149.7 L629.1,148.1 L629.5,149.0 L629.9,150.2 L630.3,151.0 L630.7,149.4 L631.1,150.9 L631.5,150.8 L631.9,148.1 L632.3,151.4 L632.7,152.3 L633.1,149.6 L633.5,150.2 L633.9,150.1 L634.3,150.9 L634.7,150.4 L635.1,150.7 L635.5,150.1 L635.9,149.0 L636.3,148.9 L636.7,149.1 L637.1,150.3 L637.5,152.1 L637.9,149.9 L638.3,149.5 L638.7,149.7 L639.1,149.9 L639.5,150.2 L639.9,149.9 L640.3,149.3 L640.7,151.0 L641.1,149.5 L641.5,150.6 L641.9,149.7 L642.3,148.1 L642.7,150.1 L643.1,149.1 L643.5,151.1 L643.9,151.2 L644.3,151.7 L644.7,149.4 L645.1,151.1 L645.5,150.5 L645.9,148.0 L646.3,149.7 L646.7,150.0 L647.1,148.7 L647.5,150.6 L647.5,150.2 M664.1,277.5 L665.6,277.5 L670.5,127.3 L671.5,129.1 L672.5,128.2 L673.5,128.2 L674.5,129.5 L675.5,127.9 L675.8,127.3 L676.5,137.3 L677.3,147.3 L678.3,148.4 L679.3,146.2 L680.3,148.1 L681.3,148.1 L682.3,148.4 L683.3,148.9 L684.3,147.9 L685.3,147.5 L686.3,146.4 L687.3,146.5 L688.3,145.6 L689.3,145.9 L690.3,148.1 L691.3,146.5 L692.3,148.4 L693.3,148.6 L694.3,149.0 L695.3,148.7 L696.3,148.3 L697.3,148.4 L698.3,147.7 L699.3,148.7 L700.3,148.7 L701.3,147.9 L702.3,146.4 L703.3,147.3 L704.3,146.6 L705.3,147.1 L706.0,147.3 M719.8,277.5 L721.3,277.5 L726.2,121.9 L727.2,122.3 L728.2,121.4 L729.2,122.1 L730.2,123.3 L731.2,122.8 L731.3,121.9 L732.0,134.6 L732.8,147.3 L733.8,146.8 L734.8,146.4 L735.8,146.2 L736.8,147.3 L737.8,148.1 L738.8,147.4 L739.8,147.4 L740.8,148.4 L741.8,149.0 L742.8,146.8 L743.8,147.5 L744.8,147.4 L745.8,146.2 L746.8,147.1 L747.8,147.0 L748.8,147.5 L749.8,145.4 L750.8,146.3 L751.8,145.7 L752.8,146.7 L753.8,146.0 L754.8,147.5 L755.8,149.5 L756.8,149.2 L757.8,147.6 L758.8,146.6 L759.8,146.9 L760.8,148.5 L761.8,147.0 L762.8,146.6 L763.8,148.1 L764.0,147.3 M777.2,277.5 L778.7,277.5 L782.7,123.6 L783.7,122.5 L784.7,124.0 L785.7,125.4 L786.7,123.5 L787.7,124.9 L788.7,124.1 L789.0,123.6 L790.0,134.7 L791.0,145.8 L792.0,144.7 L793.0,144.9 L794.0,146.2 L795.0,147.3 L796.0,146.0 L797.0,146.4 L798.0,145.3 L799.0,145.0 L800.0,145.4 L801.0,144.9 L802.0,145.8 L803.0,146.2 L804.0,145.1 L805.0,144.8 L806.0,145.5 L807.0,144.7 L808.0,145.4 L809.0,146.1 L810.0,146.0 L811.0,146.5 L812.0,145.5 L813.0,146.7 L814.0,147.1 L815.0,146.6 L816.0,145.4 L817.0,146.8 L818.0,146.1 L819.0,144.5 L820.0,145.0 L820.5,145.8 L821.5,256.4 M836.0,277.5 L837.5,277.5 L840.0,122.2 L841.0,123.2 L842.0,122.5 L843.0,122.1 L844.0,122.9 L845.0,121.9 L846.0,121.5 L847.0,122.2 L848.0,132.3 L849.0,142.4 L850.0,143.6 L851.0,142.7 L852.0,142.5 L853.0,141.5 L854.0,142.6 L855.0,142.2 L856.0,141.3 L857.0,140.4 L858.0,141.5 L859.0,142.0 L860.0,142.5 L861.0,143.4 L862.0,143.0 L863.0,143.1 L864.0,143.2 L865.0,141.1 L866.0,142.6 L867.0,141.8 L868.0,141.2 L869.0,142.8 L870.0,142.3 L871.0,141.7 L872.0,142.9 L873.0,143.3 L874.0,142.2 L875.0,142.8 L876.0,142.1 L877.0,144.1 L878.0,141.8 L879.0,142.4 L879.6,142.4 L880.6,253.0" fill="none" stroke="#1F78C1" stroke-width="2" stroke-linejoin="round"/>
<path d="M46.8,277.5 L46.8,277.5 L49.3,277.5 L53.0,274.6 L54.0,274.6 L55.0,274.6 L56.0,274.6 L57.0,274.6 L58.0,274.6 L59.0,274.6 L60.0,274.6 L61.0,274.6 L62.0,274.6 L63.0,274.6 L64.0,274.6 L65.0,274.6 L66.0,274.6 L67.0,274.6 L68.0,274.6 L69.0,274.6 L70.0,274.6 L71.0,274.6 L72.0,274.6 L73.0,274.6 L74.0,274.6 L75.0,274.6 L76.0,274.6 L77.0,274.6 L78.0,274.6 L79.0,274.6 L80.0,274.6 L81.0,274.6 L82.0,274.6 L83.0,274.6 L84.0,274.6 L85.0,274.6 L86.0,274.6 L87.0,274.6 L88.0,274.6 L89.0,274.6 L90.0,274.6 L91.0,274.6 L91.4,274.6 L92.4,276.1 L92.4,277.5 Z M100.7,277.5 L100.7,277.5 L103.2,277.5 L107.0,263.1 L108.0,263.1 L109.0,263.1 L110.0,263.1 L111.0,263.1 L112.0,263.1 L113.0,263.1 L114.0,263.1 L115.0,263.1 L116.0,263.1 L117.0,263.1 L118.0,263.1 L119.0,263.1 L120.0,263.1 L121.0,263.1 L122.0,263.1 L123.0,263.1 L124.0,263.1 L125.0,263.1 L126.0,263.1 L127.0,263.1 L128.0,263.1 L129.0,263.1 L130.0,263.1 L131.0,263.1 L132.0,263.1 L133.0,263.1 L134.0,263.1 L135.0,263.1 L136.0,263.1 L137.0,263.1 L138.0,263.1 L139.0,263.1 L140.0,263.1 L141.0,263.1 L142.0,263.1 L143.0,263.1 L144.0,263.1 L144.7,263.1 L145.8,274.6 L145.8,277.5 Z M154.1,277.5 L154.1,277.5 L156.6,277.5 L160.2,248.6 L161.2,248.6 L162.2,248.6 L163.2,248.6 L164.2,248.6 L165.2,248.6 L166.2,248.6 L167.2,248.6 L168.2,248.6 L169.2,248.6 L170.2,248.6 L171.2,248.6 L172.2,248.6 L173.2,248.6 L174.2,248.6 L175.2,248.6 L176.2,248.6 L177.2,248.6 L178.2,248.6 L179.2,248.6 L180.2,248.6 L181.2,248.6 L182.2,248.6 L183.2,248.6 L184.2,248.6 L185.2,248.6 L186.2,248.6 L187.2,248.6 L188.2,248.6 L189.2,248.6 L190.2,248.6 L191.2,248.6 L192.2,248.6 L193.2,248.6 L194.2,248.6 L195.2,248.6 L196.2,248.6 L197.2,248.6 L197.9,248.6 L197.9,277.5 Z M209.3,277.5 L209.3,277.5 L211.8,277.5 L216.4,234.2 L217.4,234.2 L218.4,234.2 L219.4,234.2 L220.4,234.2 L221.4,234.2 L222.4,234.2 L223.4,234.2 L224.4,234.2 L225.4,234.2 L226.4,234.2 L227.4,234.2 L228.4,234.2 L229.4,234.2 L230.4,234.2 L231.4,234.2 L232.4,234.2 L233.4,234.2 L234.4,234.2 L235.4,234.2 L236.4,234.2 L237.4,234.2 L238.4,234.2 L239.4,234.2 L240.4,234.2 L241.4,234.2 L242.4,234.2 L243.4,234.2 L244.4,234.2 L245.4,234.2 L246.4,234.2 L247.4,234.2 L248.4,234.2 L249.4,234.2 L250.4,234.2 L251.4,234.2 L252.4,234.2 L253.3,234.2 L253.3,277.5 Z M263.3,277.5 L263.3,277.5 L265.8,277.5 L270.2,219.8 L271.2,219.8 L272.2,219.8 L273.2,219.8 L274.2,219.8 L275.2,219.8 L276.2,219.8 L277.2,219.8 L278.2,219.8 L279.2,219.8 L280.2,219.8 L281.2,219.8 L282.2,219.8 L283.2,219.8 L284.2,219.8 L285.2,219.8 L286.2,219.8 L287.2,219.8 L288.2,219.8 L289.2,219.8 L290.2,219.8 L291.2,219.8 L292.2,219.8 L293.2,219.8 L294.2,219.8 L295.2,219.8 L296.2,219.8 L297.2,219.8 L298.2,219.8 L299.2,219.8 L300.2,219.8 L301.2,219.8 L302.2,219.8 L303.2,219.8 L304.2,219.8 L305.2,219.8 L306.2,219.8 L307.2,219.8 L307.8,219.8 L307.8,277.5 Z M319.3,277.5 L319.3,277.5 L321.8,277.5 L327.0,205.3 L328.0,205.3 L329.0,205.3 L330.0,205.3 L331.0,205.3 L332.0,205.3 L333.0,205.3 L334.0,205.3 L335.0,205.3 L336.0,205.3 L337.0,205.3 L338.0,205.3 L339.0,205.3 L340.0,205.3 L341.0,205.3 L342.0,205.3 L343.0,205.3 L344.0,205.3 L345.0,205.3 L346.0,205.3 L347.0,205.3 L348.0,205.3 L349.0,205.3 L350.0,205.3 L351.0,205.3 L352.0,205.3 L353.0,205.3 L354.0,205.3 L355.0,205.3 L356.0,205.3 L357.0,205.3 L358.0,205.3 L359.0,205.3 L360.0,205.3 L361.0,205.3 L362.0,205.3 L363.0,205.3 L364.0,205.3 L364.5,205.3 L364.5,277.5 Z M373.8,277.5 L373.8,277.5 L376.3,277.5 L381.1,190.9 L382.1,190.9 L383.1,190.9 L384.1,190.9 L385.1,190.9 L386.1,190.9 L387.1,190.9 L388.1,190.9 L388.5,190.9 L389.5,197.8 L390.5,190.9 L391.1,190.9 L392.1,190.9 L393.1,190.9 L394.1,190.9 L395.1,190.9 L396.1,190.9 L397.1,190.9 L398.1,190.9 L399.1,190.9 L400.1,190.9 L401.1,190.9 L402.1,190.9 L403.1,190.9 L404.1,190.9 L405.1,190.9 L406.1,190.9 L407.1,190.9 L408.1,190.9 L409.1,190.9 L410.1,190.9 L411.1,190.9 L412.1,190.9 L413.1,190.9 L414.1,190.9 L415.1,190.9 L416.1,190.9 L417.1,190.9 L418.1,190.9 L418.8,190.9 L420.0,263.1 L420.0,277.5 Z M428.7,277.5 L428.7,277.5 L431.2,277.5 L436.5,176.4 L437.5,176.4 L438.5,176.4 L439.5,176.4 L440.5,176.4 L441.5,176.4 L442.5,176.4 L443.5,176.4 L444.5,176.4 L445.5,176.4 L446.5,176.4 L447.5,176.4 L448.5,176.4 L449.5,176.4 L450.5,176.4 L451.5,176.4 L452.5,176.4 L453.5,176.4 L454.5,176.4 L455.5,176.4 L456.5,176.4 L457.5,176.4 L458.5,176.4 L459.5,176.4 L460.5,176.4 L461.5,176.4 L462.5,176.4 L463.5,176.4 L464.5,176.4 L465.5,176.4 L466.5,176.4 L467.5,176.4 L468.5,176.4 L469.5,176.4 L470.5,176.4 L471.5,176.4 L472.5,176.4 L473.5,176.4 L474.5,176.4 L474.7,176.4 L475.6,263.9 L475.6,277.5 Z M484.7,277.5 L484.7,277.5 L487.2,277.5 L492.0,162.0 L493.0,162.0 L494.0,162.0 L495.0,162.0 L496.0,162.0 L497.0,162.0 L498.0,162.0 L499.0,162.0 L500.0,162.0 L501.0,162.0 L502.0,162.0 L503.0,162.0 L504.0,162.0 L505.0,162.0 L506.0,162.0 L507.0,162.0 L508.0,162.0 L509.0,162.0 L510.0,162.0 L511.0,162.0 L512.0,162.0 L513.0,162.0 L514.0,162.0 L515.0,162.0 L516.0,162.0 L517.0,162.0 L518.0,162.0 L519.0,162.0 L520.0,162.0 L521.0,162.0 L522.0,162.0 L523.0,162.0 L524.0,162.0 L525.0,162.0 L526.0,162.0 L527.0,162.0 L528.0,162.0 L529.0,162.0 L529.0,277.5 Z M544.3,277.5 L544.3,277.5 L546.8,277.5 L551.5,147.6 L552.5,147.6 L553.5,147.6 L554.5,147.6 L555.5,147.6 L556.5,147.6 L557.5,147.6 L558.5,147.6 L559.5,147.6 L560.5,147.6 L561.5,147.6 L562.5,147.6 L563.5,147.6 L564.5,147.6 L565.5,147.6 L566.5,147.6 L567.5,147.6 L568.5,147.6 L569.5,147.6 L570.5,147.6 L571.5,147.6 L572.5,147.6 L573.5,147.6 L574.5,147.6 L575.5,147.6 L576.5,147.6 L577.5,147.6 L578.5,147.6 L579.5,147.6 L580.5,147.6 L581.5,147.6 L582.5,147.6 L583.5,147.6 L584.5,147.6 L585.5,147.6 L586.5,147.6 L587.5,147.6 L588.5,147.6 L589.0,147.6 L589.8,165.2 L589.8,277.5 Z M600.6,277.5 L600.6,277.5 L609.2,277.5 L613.4,133.1 L614.4,133.1 L615.4,133.1 L616.4,133.1 L617.4,133.1 L618.4,133.1 L619.4,133.1 L620.4,133.1 L621.4,133.1 L622.4,133.1 L623.4,133.1 L624.4,133.1 L625.4,133.1 L626.4,133.1 L627.4,133.1 L628.4,133.1 L629.4,133.1 L630.4,133.1 L631.4,133.1 L632.4,133.1 L633.4,133.1 L634.4,133.1 L635.4,133.1 L636.4,133.1 L637.4,133.1 L638.4,133.1 L639.4,133.1 L640.4,133.1 L641.4,133.1 L642.4,133.1 L643.4,133.1 L644.4,133.1 L645.4,133.1 L646.4,133.1 L647.4,133.1 L648.4,133.1 L649.4,133.1 L650.4,133.1 L650.5,133.1 L651.2,227.8 L651.2,277.5 Z M660.8,277.5 L660.8,277.5 L666.3,277.5 L670.8,118.7 L671.8,118.7 L672.8,118.7 L673.8,118.7 L674.8,118.7 L675.8,118.7 L676.5,122.2 L677.3,125.6 L677.9,125.8 L678.5,127.7 L679.1,124.6 L679.7,123.6 L680.3,124.1 L680.9,124.0 L681.5,124.3 L682.1,123.3 L682.7,124.1 L683.3,128.0 L683.9,124.8 L684.5,128.6 L685.1,126.4 L685.7,123.0 L686.3,125.5 L686.9,123.9 L687.5,125.8 L688.1,123.7 L688.7,126.6 L689.3,127.1 L689.9,125.0 L690.5,124.0 L691.1,124.9 L691.7,127.1 L692.3,125.0 L692.9,124.3 L693.5,125.7 L694.1,125.9 L694.7,127.0 L695.3,124.9 L695.9,127.9 L696.5,126.4 L697.1,123.6 L697.7,123.5 L698.3,126.2 L698.9,126.3 L699.5,124.3 L700.1,125.8 L700.7,125.6 L701.3,126.6 L701.9,125.8 L702.5,125.9 L703.1,125.6 L703.7,129.5 L704.3,127.4 L704.9,125.0 L705.5,125.9 L706.0,125.6 L706.0,277.5 Z M717.2,277.5 L717.2,277.5 L721.3,277.5 L726.7,108.3 L727.7,107.9 L728.7,108.5 L729.7,111.4 L730.7,106.2 L731.3,108.3 L732.3,113.1 L733.3,117.8 L733.7,116.1 L734.1,113.7 L734.5,117.9 L734.9,119.8 L735.3,117.9 L735.7,117.3 L736.1,116.8 L736.5,119.5 L736.9,118.0 L737.3,116.5 L737.7,116.2 L738.1,115.7 L738.5,119.7 L738.9,119.2 L739.3,119.1 L739.7,116.7 L740.1,115.4 L740.5,117.4 L740.9,118.6 L741.3,115.7 L741.7,118.2 L742.1,117.3 L742.5,119.0 L742.9,115.1 L743.3,123.0 L743.7,114.2 L744.1,119.5 L744.5,118.7 L744.9,120.2 L745.3,120.7 L745.7,117.8 L746.1,118.5 L746.5,123.3 L746.9,119.1 L747.3,116.9 L747.7,119.3 L748.1,120.3 L748.5,117.8 L748.9,117.6 L749.3,121.0 L749.7,123.0 L750.1,121.3 L750.5,117.4 L750.9,123.0 L751.3,115.9 L751.7,117.6 L752.1,113.3 L752.5,117.8 L752.9,118.1 L753.3,117.8 L753.7,118.8 L754.1,117.1 L754.5,118.2 L754.9,116.8 L755.3,113.9 L755.7,122.4 L756.1,116.6 L756.5,117.8 L756.9,118.9 L757.3,115.1 L757.7,117.0 L758.1,119.7 L758.5,119.7 L758.9,119.8 L759.3,120.7 L759.7,117.6 L760.1,117.2 L760.5,118.0 L760.9,118.0 L761.3,117.1 L761.7,118.7 L762.1,120.9 L762.5,118.2 L762.9,116.5 L763.3,117.1 L763.7,119.9 L764.1,118.1 L764.4,117.8 L765.0,164.6 L765.0,277.5 Z M772.8,277.5 L772.8,277.5 L779.3,277.5 L783.3,101.4 L784.3,102.6 L785.3,97.3 L786.3,101.9 L787.3,104.7 L788.3,98.2 L789.0,101.4 L790.2,111.0 L791.5,120.7 L791.9,119.7 L792.3,120.0 L792.7,122.6 L793.1,124.6 L793.5,121.1 L793.9,119.8 L794.3,120.5 L794.7,120.3 L795.1,119.9 L795.5,124.0 L795.9,119.3 L796.3,117.2 L796.7,119.3 L797.1,122.6 L797.5,121.3 L797.9,120.5 L798.3,120.0 L798.7,121.1 L799.1,123.8 L799.5,125.4 L799.9,117.5 L800.3,116.5 L800.7,121.4 L801.1,116.0 L801.5,120.1 L801.9,124.5 L802.3,119.8 L802.7,123.3 L803.1,115.6 L803.5,123.8 L803.9,122.4 L804.3,123.0 L804.7,123.4 L805.1,118.7 L805.5,120.9 L805.9,121.7 L806.3,119.9 L806.7,118.5 L807.1,118.6 L807.5,122.5 L807.9,121.5 L808.3,118.7 L808.7,118.1 L809.1,120.0 L809.5,119.2 L809.9,127.0 L810.3,117.8 L810.7,123.8 L811.1,118.8 L811.5,119.7 L811.9,121.9 L812.3,117.3 L812.7,118.3 L813.1,121.8 L813.5,123.5 L813.9,124.5 L814.3,123.6 L814.7,121.0 L815.1,121.6 L815.5,120.8 L815.9,121.6 L816.3,120.2 L816.7,117.3 L817.1,119.6 L817.5,122.6 L817.9,125.5 L818.3,122.6 L818.7,122.6 L819.1,118.4 L819.5,118.5 L819.9,118.2 L820.3,122.4 L820.5,120.7 L821.5,248.6 L821.5,277.5 Z M832.0,277.5 L832.0,277.5 L838.3,277.5 L840.6,95.3 L841.6,94.5 L842.6,98.3 L843.6,97.2 L844.6,96.2 L845.6,95.0 L846.6,93.3 L847.0,95.3 L847.9,97.6 L848.8,103.2 L849.6,108.9 L850.5,111.2 L850.9,115.6 L851.3,111.9 L851.7,108.9 L852.1,107.9 L852.5,110.7 L852.9,112.2 L853.3,111.5 L853.7,111.6 L854.1,110.8 L854.5,113.0 L854.9,110.6 L855.3,114.2 L855.7,114.8 L856.1,112.6 L856.5,112.8 L856.9,112.1 L857.3,112.5 L857.7,110.1 L858.1,113.4 L858.5,110.6 L858.9,112.8 L859.3,112.0 L859.7,112.7 L860.1,113.2 L860.5,116.5 L860.9,111.1 L861.3,111.4 L861.7,113.1 L862.1,110.3 L862.5,112.6 L862.9,111.5 L863.3,110.1 L863.7,111.9 L864.1,111.6 L864.5,113.5 L864.9,117.1 L865.3,113.7 L865.7,113.4 L866.1,114.6 L866.5,111.6 L866.9,110.7 L867.3,113.8 L867.7,118.2 L868.1,111.9 L868.5,112.6 L868.9,115.0 L869.3,112.5 L869.7,114.7 L870.1,113.0 L870.5,114.2 L870.9,117.7 L871.3,109.6 L871.7,112.9 L872.1,115.7 L872.5,110.9 L872.9,115.1 L873.3,113.8 L873.7,112.2 L874.1,112.0 L874.5,114.6 L874.9,112.1 L875.3,115.1 L875.7,113.6 L876.1,112.2 L876.5,113.4 L876.9,113.7 L877.3,115.5 L877.7,111.2 L878.1,114.7 L878.5,112.0 L878.9,114.8 L879.3,113.8 L879.6,114.1 L880.6,247.2 L880.6,277.5 Z" fill="#BA43A9" fill-opacity="0.1"/>
<path d="M46.8,277.5 L49.3,277.5 L53.0,274.6 L54.0,274.6 L55.0,274.6 L56.0,274.6 L57.0,274.6 L58.0,274.6 L59.0,274.6 L60.0,274.6 L61.0,274.6 L62.0,274.6 L63.0,274.6 L64.0,274.6 L65.0,274.6 L66.0,274.6 L67.0,274.6 L68.0,274.6 L69.0,274.6 L70.0,274.6 L71.0,274.6 L72.0,274.6 L73.0,274.6 L74.0,274.6 L75.0,274.6 L76.0,274.6 L77.0,274.6 L78.0,274.6 L79.0,274.6 L80.0,274.6 L81.0,274.6 L82.0,274.6 L83.0,274.6 L84.0,274.6 L85.0,274.6 L86.0,274.6 L87.0,274.6 L88.0,274.6 L89.0,274.6 L90.0,274.6 L91.0,274.6 L91.4,274.6 L92.4,276.1 M100.7,277.5 L103.2,277.5 L107.0,263.1 L108.0,263.1 L109.0,263.1 L110.0,263.1 L111.0,263.1 L112.0,263.1 L113.0,263.1 L114.0,263.1 L115.0,263.1 L116.0,263.1 L117.0,263.1 L118.0,263.1 L119.0,263.1 L120.0,263.1 L121.0,263.1 L122.0,263.1 L123.0,263.1 L124.0,263.1 L125.0,263.1 L126.0,263.1 L127.0,263.1 L128.0,263.1 L129.0,263.1 L130.0,263.1 L131.0,263.1 L132.0,263.1 L133.0,263.1 L134.0,263.1 L135.0,263.1 L136.0,263.1 L137.0,263.1 L138.0,263.1 L139.0,263.1 L140.0,263.1 L141.0,263.1 L142.0,263.1 L143.0,263.1 L144.0,263.1 L144.7,263.1 L145.8,274.6 M154.1,277.5 L156.6,277.5 L160.2,248.6 L161.2,248.6 L162.2,248.6 L163.2,248.6 L164.2,248.6 L165.2,248.6 L166.2,248.6 L167.2,248.6 L168.2,248.6 L169.2,248.6 L170.2,248.6 L171.2,248.6 L172.2,248.6 L173.2,248.6 L174.2,248.6 L175.2,248.6 L176.2,248.6 L177.2,248.6 L178.2,248.6 L179.2,248.6 L180.2,248.6 L181.2,248.6 L182.2,248.6 L183.2,248.6 L184.2,248.6 L185.2,248.6 L186.2,248.6 L187.2,248.6 L188.2,248.6 L189.2,248.6 L190.2,248.6 L191.2,248.6 L192.2,248.6 L193.2,248.6 L194.2,248.6 L195.2,248.6 L196.2,248.6 L197.2,248.6 L197.9,248.6 M209.3,277.5 L211.8,277.5 L216.4,234.2 L217.4,234.2 L218.4,234.2 L219.4,234.2 L220.4,234.2 L221.4,234.2 L222.4,234.2 L223.4,234.2 L224.4,234.2 L225.4,234.2 L226.4,234.2 L227.4,234.2 L228.4,234.2 L229.4,234.2 L230.4,234.2 L231.4,234.2 L232.4,234.2 L233.4,234.2 L234.4,234.2 L235.4,234.2 L236.4,234.2 L237.4,234.2 L238.4,234.2 L239.4,234.2 L240.4,234.2 L241.4,234.2 L242.4,234.2 L243.4,234.2 L244.4,234.2 L245.4,234.2 L246.4,234.2 L247.4,234.2 L248.4,234.2 L249.4,234.2 L250.4,234.2 L251.4,234.2 L252.4,234.2 L253.3,234.2 M263.3,277.5 L265.8,277.5 L270.2,219.8 L271.2,219.8 L272.2,219.8 L273.2,219.8 L274.2,219.8 L275.2,219.8 L276.2,219.8 L277.2,219.8 L278.2,219.8 L279.2,219.8 L280.2,219.8 L281.2,219.8 L282.2,219.8 L283.2,219.8 L284.2,219.8 L285.2,219.8 L286.2,219.8 L287.2,219.8 L288.2,219.8 L289.2,219.8 L290.2,219.8 L291.2,219.8 L292.2,219.8 L293.2,219.8 L294.2,219.8 L295.2,219.8 L296.2,219.8 L297.2,219.8 L298.2,219.8 L299.2,219.8 L300.2,219.8 L301.2,219.8 L302.2,219.8 L303.2,219.8 L304.2,219.8 L305.2,219.8 L306.2,219.8 L307.2,219.8 L307.8,219.8 M319.3,277.5 L321.8,277.5 L327.0,205.3 L328.0,205.3 L329.0,205.3 L330.0,205.3 L331.0,205.3 L332.0,205.3 L333.0,205.3 L334.0,205.3 L335.0,205.3 L336.0,205.3 L337.0,205.3 L338.0,205.3 L339.0,205.3 L340.0,205.3 L341.0,205.3 L342.0,205.3 L343.0,205.3 L344.0,205.3 L345.0,205.3 L346.0,205.3 L347.0,205.3 L348.0,205.3 L349.0,205.3 L350.0,205.3 L351.0,205.3 L352.0,205.3 L353.0,205.3 L354.0,205.3 L355.0,205.3 L356.0,205.3 L357.0,205.3 L358.0,205.3 L359.0,205.3 L360.0,205.3 L361.0,205.3 L362.0,205.3 L363.0,205.3 L364.0,205.3 L364.5,205.3 M373.8,277.5 L376.3,277.5 L381.1,190.9 L382.1,190.9 L383.1,190.9 L384.1,190.9 L385.1,190.9 L386.1,190.9 L387.1,190.9 L388.1,190.9 L388.5,190.9 L389.5,197.8 L390.5,190.9 L391.1,190.9 L392.1,190.9 L393.1,190.9 L394.1,190.9 L395.1,190.9 L396.1,190.9 L397.1,190.9 L398.1,190.9 L399.1,190.9 L400.1,190.9 L401.1,190.9 L402.1,190.9 L403.1,190.9 L404.1,190.9 L405.1,190.9 L406.1,190.9 L407.1,190.9 L408.1,190.9 L409.1,190.9 L410.1,190.9 L411.1,190.9 L412.1,190.9 L413.1,190.9 L414.1,190.9 L415.1,190.9 L416.1,190.9 L417.1,190.9 L418.1,190.9 L418.8,190.9 L420.0,263.1 M428.7,277.5 L431.2,277.5 L436.5,176.4 L437.5,176.4 L438.5,176.4 L439.5,176.4 L440.5,176.4 L441.5,176.4 L442.5,176.4 L443.5,176.4 L444.5,176.4 L445.5,176.4 L446.5,176.4 L447.5,176.4 L448.5,176.4 L449.5,176.4 L450.5,176.4 L451.5,176.4 L452.5,176.4 L453.5,176.4 L454.5,176.4 L455.5,176.4 L456.5,176.4 L457.5,176.4 L458.5,176.4 L459.5,176.4 L460.5,176.4 L461.5,176.4 L462.5,176.4 L463.5,176.4 L464.5,176.4 L465.5,176.4 L466.5,176.4 L467.5,176.4 L468.5,176.4 L469.5,176.4 L470.5,176.4 L471.5,176.4 L472.5,176.4 L473.5,176.4 L474.5,176.4 L474.7,176.4 L475.6,263.9 M484.7,277.5 L487.2,277.5 L492.0,162.0 L493.0,162.0 L494.0,162.0 L495.0,162.0 L496.0,162.0 L497.0,162.0 L498.0,162.0 L499.0,162.0 L500.0,162.0 L501.0,162.0 L502.0,162.0 L503.0,162.0 L504.0,162.0 L505.0,162.0 L506.0,162.0 L507.0,162.0 L508.0,162.0 L509.0,162.0 L510.0,162.0 L511.0,162.0 L512.0,162.0 L513.0,162.0 L514.0,162.0 L515.0,162.0 L516.0,162.0 L517.0,162.0 L518.0,162.0 L519.0,162.0 L520.0,162.0 L521.0,162.0 L522.0,162.0 L523.0,162.0 L524.0,162.0 L525.0,162.0 L526.0,162.0 L527.0,162.0 L528.0,162.0 L529.0,162.0 M544.3,277.5 L546.8,277.5 L551.5,147.6 L552.5,147.6 L553.5,147.6 L554.5,147.6 L555.5,147.6 L556.5,147.6 L557.5,147.6 L558.5,147.6 L559.5,147.6 L560.5,147.6 L561.5,147.6 L562.5,147.6 L563.5,147.6 L564.5,147.6 L565.5,147.6 L566.5,147.6 L567.5,147.6 L568.5,147.6 L569.5,147.6 L570.5,147.6 L571.5,147.6 L572.5,147.6 L573.5,147.6 L574.5,147.6 L575.5,147.6 L576.5,147.6 L577.5,147.6 L578.5,147.6 L579.5,147.6 L580.5,147.6 L581.5,147.6 L582.5,147.6 L583.5,147.6 L584.5,147.6 L585.5,147.6 L586.5,147.6 L587.5,147.6 L588.5,147.6 L589.0,147.6 L589.8,165.2 M600.6,277.5 L609.2,277.5 L613.4,133.1 L614.4,133.1 L615.4,133.1 L616.4,133.1 L617.4,133.1 L618.4,133.1 L619.4,133.1 L620.4,133.1 L621.4,133.1 L622.4,133.1 L623.4,133.1 L624.4,133.1 L625.4,133.1 L626.4,133.1 L627.4,133.1 L628.4,133.1 L629.4,133.1 L630.4,133.1 L631.4,133.1 L632.4,133.1 L633.4,133.1 L634.4,133.1 L635.4,133.1 L636.4,133.1 L637.4,133.1 L638.4,133.1 L639.4,133.1 L640.4,133.1 L641.4,133.1 L642.4,133.1 L643.4,133.1 L644.4,133.1 L645.4,133.1 L646.4,133.1 L647.4,133.1 L648.4,133.1 L649.4,133.1 L650.4,133.1 L650.5,133.1 L651.2,227.8 M660.8,277.5 L666.3,277.5 L670.8,118.7 L671.8,118.7 L672.8,118.7 L673.8,118.7 L674.8,118.7 L675.8,118.7 L676.5,122.2 L677.3,125.6 L677.9,125.8 L678.5,127.7 L679.1,124.6 L679.7,123.6 L680.3,124.1 L680.9,124.0 L681.5,124.3 L682.1,123.3 L682.7,124.1 L683.3,128.0 L683.9,124.8 L684.5,128.6 L685.1,126.4 L685.7,123.0 L686.3,125.5 L686.9,123.9 L687.5,125.8 L688.1,123.7 L688.7,126.6 L689.3,127.1 L689.9,125.0 L690.5,124.0 L691.1,124.9 L691.7,127.1 L692.3,125.0 L692.9,124.3 L693.5,125.7 L694.1,125.9 L694.7,127.0 L695.3,124.9 L695.9,127.9 L696.5,126.4 L697.1,123.6 L697.7,123.5 L698.3,126.2 L698.9,126.3 L699.5,124.3 L700.1,125.8 L700.7,125.6 L701.3,126.6 L701.9,125.8 L702.5,125.9 L703.1,125.6 L703.7,129.5 L704.3,127.4 L704.9,125.0 L705.5,125.9 L706.0,125.6 M717.2,277.5 L721.3,277.5 L726.7,108.3 L727.7,107.9 L728.7,108.5 L729.7,111.4 L730.7,106.2 L731.3,108.3 L732.3,113.1 L733.3,117.8 L733.7,116.1 L734.1,113.7 L734.5,117.9 L734.9,119.8 L735.3,117.9 L735.7,117.3 L736.1,116.8 L736.5,119.5 L736.9,118.0 L737.3,116.5 L737.7,116.2 L738.1,115.7 L738.5,119.7 L738.9,119.2 L739.3,119.1 L739.7,116.7 L740.1,115.4 L740.5,117.4 L740.9,118.6 L741.3,115.7 L741.7,118.2 L742.1,117.3 L742.5,119.0 L742.9,115.1 L743.3,123.0 L743.7,114.2 L744.1,119.5 L744.5,118.7 L744.9,120.2 L745.3,120.7 L745.7,117.8 L746.1,118.5 L746.5,123.3 L746.9,119.1 L747.3,116.9 L747.7,119.3 L748.1,120.3 L748.5,117.8 L748.9,117.6 L749.3,121.0 L749.7,123.0 L750.1,121.3 L750.5,117.4 L750.9,123.0 L751.3,115.9 L751.7,117.6 L752.1,113.3 L752.5,117.8 L752.9,118.1 L753.3,117.8 L753.7,118.8 L754.1,117.1 L754.5,118.2 L754.9,116.8 L755.3,113.9 L755.7,122.4 L756.1,116.6 L756.5,117.8 L756.9,118.9 L757.3,115.1 L757.7,117.0 L758.1,119.7 L758.5,119.7 L758.9,119.8 L759.3,120.7 L759.7,117.6 L760.1,117.2 L760.5,118.0 L760.9,118.0 L761.3,117.1 L761.7,118.7 L762.1,120.9 L762.5,118.2 L762.9,116.5 L763.3,117.1 L763.7,119.9 L764.1,118.1 L764.4,117.8 L765.0,164.6 M772.8,277.5 L779.3,277.5 L783.3,101.4 L784.3,102.6 L785.3,97.3 L786.3,101.9 L787.3,104.7 L788.3,98.2 L789.0,101.4 L790.2,111.0 L791.5,120.7 L791.9,119.7 L792.3,120.0 L792.7,122.6 L793.1,124.6 L793.5,121.1 L793.9,119.8 L794.3,120.5 L794.7,120.3 L795.1,119.9 L795.5,124.0 L795.9,119.3 L796.3,117.2 L796.7,119.3 L797.1,122.6 L797.5,121.3 L797.9,120.5 L798.3,120.0 L798.7,121.1 L799.1,123.8 L799.5,125.4 L799.9,117.5 L800.3,116.5 L800.7,121.4 L801.1,116.0 L801.5,120.1 L801.9,124.5 L802.3,119.8 L802.7,123.3 L803.1,115.6 L803.5,123.8 L803.9,122.4 L804.3,123.0 L804.7,123.4 L805.1,118.7 L805.5,120.9 L805.9,121.7 L806.3,119.9 L806.7,118.5 L807.1,118.6 L807.5,122.5 L807.9,121.5 L808.3,118.7 L808.7,118.1 L809.1,120.0 L809.5,119.2 L809.9,127.0 L810.3,117.8 L810.7,123.8 L811.1,118.8 L811.5,119.7 L811.9,121.9 L812.3,117.3 L812.7,118.3 L813.1,121.8 L813.5,123.5 L813.9,124.5 L814.3,123.6 L814.7,121.0 L815.1,121.6 L815.5,120.8 L815.9,121.6 L816.3,120.2 L816.7,117.3 L817.1,119.6 L817.5,122.6 L817.9,125.5 L818.3,122.6 L818.7,122.6 L819.1,118.4 L819.5,118.5 L819.9,118.2 L820.3,122.4 L820.5,120.7 L821.5,248.6 M832.0,277.5 L838.3,277.5 L840.6,95.3 L841.6,94.5 L842.6,98.3 L843.6,97.2 L844.6,96.2 L845.6,95.0 L846.6,93.3 L847.0,95.3 L847.9,97.6 L848.8,103.2 L849.6,108.9 L850.5,111.2 L850.9,115.6 L851.3,111.9 L851.7,108.9 L852.1,107.9 L852.5,110.7 L852.9,112.2 L853.3,111.5 L853.7,111.6 L854.1,110.8 L854.5,113.0 L854.9,110.6 L855.3,114.2 L855.7,114.8 L856.1,112.6 L856.5,112.8 L856.9,112.1 L857.3,112.5 L857.7,110.1 L858.1,113.4 L858.5,110.6 L858.9,112.8 L859.3,112.0 L859.7,112.7 L860.1,113.2 L860.5,116.5 L860.9,111.1 L861.3,111.4 L861.7,113.1 L862.1,110.3 L862.5,112.6 L862.9,111.5 L863.3,110.1 L863.7,111.9 L864.1,111.6 L864.5,113.5 L864.9,117.1 L865.3,113.7 L865.7,113.4 L866.1,114.6 L866.5,111.6 L866.9,110.7 L867.3,113.8 L867.7,118.2 L868.1,111.9 L868.5,112.6 L868.9,115.0 L869.3,112.5 L869.7,114.7 L870.1,113.0 L870.5,114.2 L870.9,117.7 L871.3,109.6 L871.7,112.9 L872.1,115.7 L872.5,110.9 L872.9,115.1 L873.3,113.8 L873.7,112.2 L874.1,112.0 L874.5,114.6 L874.9,112.1 L875.3,115.1 L875.7,113.6 L876.1,112.2 L876.5,113.4 L876.9,113.7 L877.3,115.5 L877.7,111.2 L878.1,114.7 L878.5,112.0 L878.9,114.8 L879.3,113.8 L879.6,114.1 L880.6,247.2" fill="none" stroke="#BA43A9" stroke-width="2" stroke-linejoin="round"/></svg>
<div class="yl" style="top:397.5px">80 K</div><div class="yl" style="top:455.2px">60 K</div><div class="yl" style="top:513.0px">40 K</div><div class="yl" style="top:570.8px">20 K</div><div class="yl" style="top:628.5px">0</div><div class="xl" style="left:61.5px;top:642px">20:00</div><div class="xl" style="left:171.5px;top:642px">20:30</div><div class="xl" style="left:281.5px;top:642px">21:00</div><div class="xl" style="left:391.5px;top:642px">21:30</div><div class="xl" style="left:501.5px;top:642px">22:00</div><div class="xl" style="left:611.5px;top:642px">22:30</div><div class="xl" style="left:721.5px;top:642px">23:00</div><div class="xl" style="left:831.5px;top:642px">23:30</div>
<div class="sw" style="left:19px;top:672px;background:#7EB26D"></div>
<div class="li" style="left:35px;top:666.5px">3 nodes, 36 vCPUs, 72 GB RAM</div>
<div class="sw" style="left:197.5px;top:672px;background:#EAB839"></div>
<div class="li" style="left:213px;top:666.5px">3 nodes, 16 vCPUs, 32 GB RAM</div>
<div class="sw" style="left:375.5px;top:672px;background:#6ED0E0"></div>
<div class="li" style="left:391px;top:666.5px">5 nodes, 16 vCPUs, 32 GB RAM</div>
<div class="sw" style="left:554px;top:672px;background:#EF843C"></div>
<div class="li" style="left:570px;top:666.5px">7 nodes, 16 vCPUs, 32 GB RAM</div>
<div class="sw" style="left:732px;top:672px;background:#E24D42"></div>
<div class="li" style="left:748px;top:666.5px">5 nodes, 8 vCPUs, 16 GB RAM</div>
<div class="sw" style="left:19px;top:691px;background:#1F78C1"></div>
<div class="li" style="left:35px;top:685.5px">7 nodes, 8 vCPUs, 16 GB RAM</div>
<div class="sw" style="left:191px;top:691px;background:#BA43A9"></div>
<div class="li" style="left:207px;top:685.5px">9 nodes, 8 vCPUs, 16 GB RAM</div>
<div class="rh" style="left:901px;top:703px"></div>
</body></html>
